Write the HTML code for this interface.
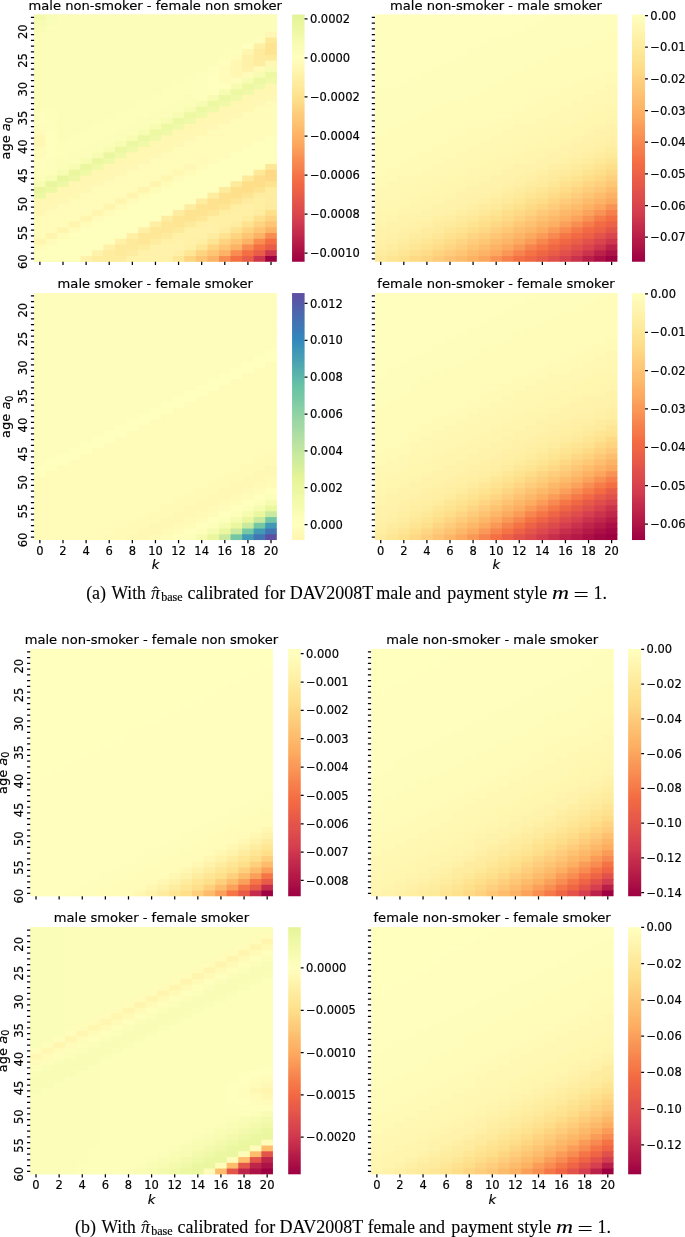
<!DOCTYPE html>
<html><head><meta charset="utf-8"><title>figure</title><style>
html,body{margin:0;padding:0;background:#fff}
svg{display:block;will-change:transform}
text{font-family:'DejaVu Sans','Liberation Sans',sans-serif;fill:#000;stroke:#000;stroke-width:.18px}
.t{font-size:11.5px}
.ti{font-size:13.1px}
.la{font-size:13.0px}
.m{text-anchor:middle}
.i{font-style:italic}
.sub{font-size:9.6px}
.k{stroke:#000;stroke-width:1.25;fill:none}
.c{font-family:'Liberation Serif','DejaVu Serif',serif;font-size:18px;stroke-width:.1px}
.ci{font-style:italic}
.cs{font-family:'Liberation Serif','DejaVu Serif',serif;font-size:12.1px}
.hat{font-family:'Liberation Serif','DejaVu Serif',serif;font-size:16.5px;stroke:none}
</style></head><body><svg width="685" height="1237" viewBox="0 0 685 1237">
<g>
<rect x="34.1" y="14.55" width="242.7" height="247.2" fill="#f3faac"/>
<rect x="34.1" y="14.55" width="12.26" height="6.45" fill="#f3faac"/>
<rect x="45.66" y="14.55" width="12.26" height="6.45" fill="#f9fcb5"/>
<rect x="57.21" y="14.55" width="219.59" height="6.45" fill="#fbfdb8"/>
<rect x="34.1" y="20.3" width="12.26" height="6.45" fill="#f7fcb2"/>
<rect x="45.66" y="20.3" width="12.26" height="6.45" fill="#fafdb7"/>
<rect x="57.21" y="20.3" width="219.59" height="6.45" fill="#fbfdb8"/>
<rect x="34.1" y="26.05" width="12.26" height="6.45" fill="#f9fcb5"/>
<rect x="45.66" y="26.05" width="12.26" height="6.45" fill="#fbfdb8"/>
<rect x="57.21" y="26.05" width="219.59" height="6.45" fill="#fbfdb8"/>
<rect x="34.1" y="31.8" width="231.84" height="6.45" fill="#fbfdb8"/>
<rect x="265.24" y="31.8" width="11.56" height="6.45" fill="#fff8b4"/>
<rect x="34.1" y="37.55" width="220.29" height="6.45" fill="#fbfdb8"/>
<rect x="253.69" y="37.55" width="12.26" height="6.45" fill="#fffdbc"/>
<rect x="265.24" y="37.55" width="11.56" height="6.45" fill="#fee999"/>
<rect x="34.1" y="43.29" width="208.73" height="6.45" fill="#fbfdb8"/>
<rect x="242.13" y="43.29" width="12.26" height="6.45" fill="#ffffbe"/>
<rect x="253.69" y="43.29" width="12.26" height="6.45" fill="#fff0a6"/>
<rect x="265.24" y="43.29" width="11.56" height="6.45" fill="#fee491"/>
<rect x="34.1" y="49.04" width="197.17" height="6.45" fill="#fbfdb8"/>
<rect x="230.57" y="49.04" width="12.26" height="6.45" fill="#fdfebb"/>
<rect x="242.13" y="49.04" width="12.26" height="6.45" fill="#fff6b0"/>
<rect x="253.69" y="49.04" width="12.26" height="6.45" fill="#feeb9d"/>
<rect x="265.24" y="49.04" width="11.56" height="6.45" fill="#fee491"/>
<rect x="34.1" y="54.79" width="185.61" height="6.45" fill="#fbfdb8"/>
<rect x="219.01" y="54.79" width="12.26" height="6.45" fill="#fcfeba"/>
<rect x="230.57" y="54.79" width="12.26" height="6.45" fill="#fffbb8"/>
<rect x="242.13" y="54.79" width="12.26" height="6.45" fill="#fff1a8"/>
<rect x="253.69" y="54.79" width="12.26" height="6.45" fill="#feeb9d"/>
<rect x="265.24" y="54.79" width="11.56" height="6.45" fill="#feea9b"/>
<rect x="34.1" y="60.54" width="185.61" height="6.45" fill="#fbfdb8"/>
<rect x="219.01" y="60.54" width="12.26" height="6.45" fill="#fffebe"/>
<rect x="230.57" y="60.54" width="12.26" height="6.45" fill="#fff7b2"/>
<rect x="242.13" y="60.54" width="12.26" height="6.45" fill="#fff1a8"/>
<rect x="253.69" y="60.54" width="12.26" height="6.45" fill="#feeda1"/>
<rect x="265.24" y="60.54" width="11.56" height="6.45" fill="#fff8b4"/>
<rect x="34.1" y="66.29" width="174.06" height="6.45" fill="#fbfdb8"/>
<rect x="207.46" y="66.29" width="12.26" height="6.45" fill="#fefebd"/>
<rect x="219.01" y="66.29" width="12.26" height="6.45" fill="#fffbb8"/>
<rect x="230.57" y="66.29" width="12.26" height="6.45" fill="#fff7b2"/>
<rect x="242.13" y="66.29" width="12.26" height="6.45" fill="#fff2aa"/>
<rect x="253.69" y="66.29" width="12.26" height="6.45" fill="#fffab6"/>
<rect x="265.24" y="66.29" width="11.56" height="6.45" fill="#f7fcb2"/>
<rect x="34.1" y="72.04" width="162.5" height="6.45" fill="#fbfdb8"/>
<rect x="195.9" y="72.04" width="12.26" height="6.45" fill="#fdfebb"/>
<rect x="207.46" y="72.04" width="12.26" height="6.45" fill="#fffebe"/>
<rect x="219.01" y="72.04" width="12.26" height="6.45" fill="#fffcba"/>
<rect x="230.57" y="72.04" width="12.26" height="6.45" fill="#fff7b2"/>
<rect x="242.13" y="72.04" width="12.26" height="6.45" fill="#fffbb8"/>
<rect x="253.69" y="72.04" width="12.26" height="6.45" fill="#f7fcb2"/>
<rect x="265.24" y="72.04" width="11.56" height="6.45" fill="#edf8a3"/>
<rect x="34.1" y="77.79" width="150.94" height="6.45" fill="#fbfdb8"/>
<rect x="184.34" y="77.79" width="12.26" height="6.45" fill="#fcfeba"/>
<rect x="195.9" y="77.79" width="12.26" height="6.45" fill="#fdfebb"/>
<rect x="207.46" y="77.79" width="12.26" height="6.45" fill="#ffffbe"/>
<rect x="219.01" y="77.79" width="12.26" height="6.45" fill="#fffcba"/>
<rect x="230.57" y="77.79" width="12.26" height="6.45" fill="#fffdbc"/>
<rect x="242.13" y="77.79" width="12.26" height="6.45" fill="#f7fcb2"/>
<rect x="253.69" y="77.79" width="12.26" height="6.45" fill="#edf8a3"/>
<rect x="265.24" y="77.79" width="11.56" height="6.45" fill="#f0f9a7"/>
<rect x="34.1" y="83.54" width="139.39" height="6.45" fill="#fbfdb8"/>
<rect x="172.79" y="83.54" width="23.81" height="6.45" fill="#fcfeba"/>
<rect x="195.9" y="83.54" width="12.26" height="6.45" fill="#fdfebb"/>
<rect x="207.46" y="83.54" width="23.81" height="6.45" fill="#ffffbe"/>
<rect x="230.57" y="83.54" width="12.26" height="6.45" fill="#f7fcb2"/>
<rect x="242.13" y="83.54" width="12.26" height="6.45" fill="#edf8a3"/>
<rect x="253.69" y="83.54" width="12.26" height="6.45" fill="#f0f9a7"/>
<rect x="265.24" y="83.54" width="11.56" height="6.45" fill="#fff7b2"/>
<rect x="34.1" y="89.28" width="127.83" height="6.45" fill="#fbfdb8"/>
<rect x="161.23" y="89.28" width="35.37" height="6.45" fill="#fcfeba"/>
<rect x="195.9" y="89.28" width="12.26" height="6.45" fill="#fdfebb"/>
<rect x="207.46" y="89.28" width="12.26" height="6.45" fill="#fefebd"/>
<rect x="219.01" y="89.28" width="12.26" height="6.45" fill="#f7fcb2"/>
<rect x="230.57" y="89.28" width="12.26" height="6.45" fill="#edf8a3"/>
<rect x="242.13" y="89.28" width="12.26" height="6.45" fill="#f0f9a7"/>
<rect x="253.69" y="89.28" width="12.26" height="6.45" fill="#fff7b2"/>
<rect x="265.24" y="89.28" width="11.56" height="6.45" fill="#fff7b2"/>
<rect x="34.1" y="95.03" width="116.27" height="6.45" fill="#fbfdb8"/>
<rect x="149.67" y="95.03" width="35.37" height="6.45" fill="#fcfeba"/>
<rect x="184.34" y="95.03" width="12.26" height="6.45" fill="#fbfdb8"/>
<rect x="195.9" y="95.03" width="12.26" height="6.45" fill="#fcfeba"/>
<rect x="207.46" y="95.03" width="12.26" height="6.45" fill="#f7fcb2"/>
<rect x="219.01" y="95.03" width="12.26" height="6.45" fill="#edf8a3"/>
<rect x="230.57" y="95.03" width="12.26" height="6.45" fill="#f0f9a7"/>
<rect x="242.13" y="95.03" width="12.26" height="6.45" fill="#fff7b2"/>
<rect x="253.69" y="95.03" width="12.26" height="6.45" fill="#fff7b2"/>
<rect x="265.24" y="95.03" width="11.56" height="6.45" fill="#fff8b4"/>
<rect x="34.1" y="100.78" width="104.71" height="6.45" fill="#fbfdb8"/>
<rect x="138.11" y="100.78" width="35.37" height="6.45" fill="#fcfeba"/>
<rect x="172.79" y="100.78" width="23.81" height="6.45" fill="#fbfdb8"/>
<rect x="195.9" y="100.78" width="12.26" height="6.45" fill="#f7fcb2"/>
<rect x="207.46" y="100.78" width="12.26" height="6.45" fill="#edf8a3"/>
<rect x="219.01" y="100.78" width="12.26" height="6.45" fill="#f0f9a7"/>
<rect x="230.57" y="100.78" width="12.26" height="6.45" fill="#fff7b2"/>
<rect x="242.13" y="100.78" width="12.26" height="6.45" fill="#fff7b2"/>
<rect x="253.69" y="100.78" width="12.26" height="6.45" fill="#fff8b4"/>
<rect x="265.24" y="100.78" width="11.56" height="6.45" fill="#fffbb8"/>
<rect x="34.1" y="106.53" width="23.81" height="6.45" fill="#fcfeba"/>
<rect x="57.21" y="106.53" width="70.04" height="6.45" fill="#fbfdb8"/>
<rect x="126.56" y="106.53" width="35.37" height="6.45" fill="#fcfeba"/>
<rect x="161.23" y="106.53" width="23.81" height="6.45" fill="#fbfdb8"/>
<rect x="184.34" y="106.53" width="12.26" height="6.45" fill="#f7fcb2"/>
<rect x="195.9" y="106.53" width="12.26" height="6.45" fill="#edf8a3"/>
<rect x="207.46" y="106.53" width="12.26" height="6.45" fill="#f0f9a7"/>
<rect x="219.01" y="106.53" width="12.26" height="6.45" fill="#fff7b2"/>
<rect x="230.57" y="106.53" width="12.26" height="6.45" fill="#fff7b2"/>
<rect x="242.13" y="106.53" width="12.26" height="6.45" fill="#fff8b4"/>
<rect x="253.69" y="106.53" width="23.11" height="6.45" fill="#fffbb8"/>
<rect x="34.1" y="112.28" width="12.26" height="6.45" fill="#fefebd"/>
<rect x="45.66" y="112.28" width="12.26" height="6.45" fill="#fcfeba"/>
<rect x="57.21" y="112.28" width="58.49" height="6.45" fill="#fbfdb8"/>
<rect x="115" y="112.28" width="35.37" height="6.45" fill="#fcfeba"/>
<rect x="149.67" y="112.28" width="23.81" height="6.45" fill="#fbfdb8"/>
<rect x="172.79" y="112.28" width="12.26" height="6.45" fill="#f7fcb2"/>
<rect x="184.34" y="112.28" width="12.26" height="6.45" fill="#edf8a3"/>
<rect x="195.9" y="112.28" width="12.26" height="6.45" fill="#f0f9a7"/>
<rect x="207.46" y="112.28" width="12.26" height="6.45" fill="#fff7b2"/>
<rect x="219.01" y="112.28" width="12.26" height="6.45" fill="#fff7b2"/>
<rect x="230.57" y="112.28" width="12.26" height="6.45" fill="#fff8b4"/>
<rect x="242.13" y="112.28" width="34.67" height="6.45" fill="#fffbb8"/>
<rect x="34.1" y="118.03" width="12.26" height="6.45" fill="#fffebe"/>
<rect x="45.66" y="118.03" width="12.26" height="6.45" fill="#fdfebb"/>
<rect x="57.21" y="118.03" width="46.93" height="6.45" fill="#fbfdb8"/>
<rect x="103.44" y="118.03" width="35.37" height="6.45" fill="#fcfeba"/>
<rect x="138.11" y="118.03" width="23.81" height="6.45" fill="#fbfdb8"/>
<rect x="161.23" y="118.03" width="12.26" height="6.45" fill="#f7fcb2"/>
<rect x="172.79" y="118.03" width="12.26" height="6.45" fill="#edf8a3"/>
<rect x="184.34" y="118.03" width="12.26" height="6.45" fill="#f0f9a7"/>
<rect x="195.9" y="118.03" width="12.26" height="6.45" fill="#fff7b2"/>
<rect x="207.46" y="118.03" width="12.26" height="6.45" fill="#fff7b2"/>
<rect x="219.01" y="118.03" width="12.26" height="6.45" fill="#fff8b4"/>
<rect x="230.57" y="118.03" width="35.37" height="6.45" fill="#fffbb8"/>
<rect x="265.24" y="118.03" width="11.56" height="6.45" fill="#fffcba"/>
<rect x="34.1" y="123.78" width="12.26" height="6.45" fill="#fffdbc"/>
<rect x="45.66" y="123.78" width="12.26" height="6.45" fill="#fdfebb"/>
<rect x="57.21" y="123.78" width="35.37" height="6.45" fill="#fbfdb8"/>
<rect x="91.89" y="123.78" width="35.37" height="6.45" fill="#fcfeba"/>
<rect x="126.56" y="123.78" width="23.81" height="6.45" fill="#fbfdb8"/>
<rect x="149.67" y="123.78" width="12.26" height="6.45" fill="#f7fcb2"/>
<rect x="161.23" y="123.78" width="12.26" height="6.45" fill="#edf8a3"/>
<rect x="172.79" y="123.78" width="12.26" height="6.45" fill="#f0f9a7"/>
<rect x="184.34" y="123.78" width="12.26" height="6.45" fill="#fff7b2"/>
<rect x="195.9" y="123.78" width="12.26" height="6.45" fill="#fff7b2"/>
<rect x="207.46" y="123.78" width="12.26" height="6.45" fill="#fff8b4"/>
<rect x="219.01" y="123.78" width="35.37" height="6.45" fill="#fffbb8"/>
<rect x="253.69" y="123.78" width="23.11" height="6.45" fill="#fffcba"/>
<rect x="34.1" y="129.53" width="12.26" height="6.45" fill="#fffbb8"/>
<rect x="45.66" y="129.53" width="12.26" height="6.45" fill="#fefebd"/>
<rect x="57.21" y="129.53" width="23.81" height="6.45" fill="#fbfdb8"/>
<rect x="80.33" y="129.53" width="35.37" height="6.45" fill="#fcfeba"/>
<rect x="115" y="129.53" width="23.81" height="6.45" fill="#fbfdb8"/>
<rect x="138.11" y="129.53" width="12.26" height="6.45" fill="#f7fcb2"/>
<rect x="149.67" y="129.53" width="12.26" height="6.45" fill="#edf8a3"/>
<rect x="161.23" y="129.53" width="12.26" height="6.45" fill="#f0f9a7"/>
<rect x="172.79" y="129.53" width="12.26" height="6.45" fill="#fff7b2"/>
<rect x="184.34" y="129.53" width="12.26" height="6.45" fill="#fff7b2"/>
<rect x="195.9" y="129.53" width="12.26" height="6.45" fill="#fff8b4"/>
<rect x="207.46" y="129.53" width="35.37" height="6.45" fill="#fffbb8"/>
<rect x="242.13" y="129.53" width="34.67" height="6.45" fill="#fffcba"/>
<rect x="34.1" y="135.28" width="12.26" height="6.45" fill="#fff8b4"/>
<rect x="45.66" y="135.28" width="12.26" height="6.45" fill="#fefebd"/>
<rect x="57.21" y="135.28" width="12.26" height="6.45" fill="#fbfdb8"/>
<rect x="68.77" y="135.28" width="35.37" height="6.45" fill="#fcfeba"/>
<rect x="103.44" y="135.28" width="23.81" height="6.45" fill="#fbfdb8"/>
<rect x="126.56" y="135.28" width="12.26" height="6.45" fill="#f7fcb2"/>
<rect x="138.11" y="135.28" width="12.26" height="6.45" fill="#ecf7a1"/>
<rect x="149.67" y="135.28" width="12.26" height="6.45" fill="#f0f9a7"/>
<rect x="161.23" y="135.28" width="12.26" height="6.45" fill="#fff7b2"/>
<rect x="172.79" y="135.28" width="12.26" height="6.45" fill="#fff7b2"/>
<rect x="184.34" y="135.28" width="12.26" height="6.45" fill="#fff8b4"/>
<rect x="195.9" y="135.28" width="35.37" height="6.45" fill="#fffbb8"/>
<rect x="230.57" y="135.28" width="35.37" height="6.45" fill="#fffcba"/>
<rect x="265.24" y="135.28" width="11.56" height="6.45" fill="#fefebd"/>
<rect x="34.1" y="141.02" width="12.26" height="6.45" fill="#fff8b4"/>
<rect x="45.66" y="141.02" width="12.26" height="6.45" fill="#fefebd"/>
<rect x="57.21" y="141.02" width="35.37" height="6.45" fill="#fcfeba"/>
<rect x="91.89" y="141.02" width="23.81" height="6.45" fill="#fbfdb8"/>
<rect x="115" y="141.02" width="12.26" height="6.45" fill="#f7fcb2"/>
<rect x="126.56" y="141.02" width="12.26" height="6.45" fill="#ecf7a1"/>
<rect x="138.11" y="141.02" width="12.26" height="6.45" fill="#f0f9a7"/>
<rect x="149.67" y="141.02" width="12.26" height="6.45" fill="#fff7b2"/>
<rect x="161.23" y="141.02" width="12.26" height="6.45" fill="#fff7b2"/>
<rect x="172.79" y="141.02" width="12.26" height="6.45" fill="#fff8b4"/>
<rect x="184.34" y="141.02" width="35.37" height="6.45" fill="#fffbb8"/>
<rect x="219.01" y="141.02" width="35.37" height="6.45" fill="#fffcba"/>
<rect x="253.69" y="141.02" width="23.11" height="6.45" fill="#fefebd"/>
<rect x="34.1" y="146.77" width="12.26" height="6.45" fill="#fffbb8"/>
<rect x="45.66" y="146.77" width="12.26" height="6.45" fill="#fefebd"/>
<rect x="57.21" y="146.77" width="23.81" height="6.45" fill="#fcfeba"/>
<rect x="80.33" y="146.77" width="23.81" height="6.45" fill="#fbfdb8"/>
<rect x="103.44" y="146.77" width="12.26" height="6.45" fill="#f7fcb2"/>
<rect x="115" y="146.77" width="12.26" height="6.45" fill="#ecf7a1"/>
<rect x="126.56" y="146.77" width="12.26" height="6.45" fill="#f0f9a7"/>
<rect x="138.11" y="146.77" width="12.26" height="6.45" fill="#fff7b2"/>
<rect x="149.67" y="146.77" width="12.26" height="6.45" fill="#fff7b2"/>
<rect x="161.23" y="146.77" width="12.26" height="6.45" fill="#fff8b4"/>
<rect x="172.79" y="146.77" width="35.37" height="6.45" fill="#fffbb8"/>
<rect x="207.46" y="146.77" width="35.37" height="6.45" fill="#fffcba"/>
<rect x="242.13" y="146.77" width="34.67" height="6.45" fill="#fefebd"/>
<rect x="34.1" y="152.52" width="12.26" height="6.45" fill="#fffcba"/>
<rect x="45.66" y="152.52" width="12.26" height="6.45" fill="#fefebd"/>
<rect x="57.21" y="152.52" width="12.26" height="6.45" fill="#fcfeba"/>
<rect x="68.77" y="152.52" width="23.81" height="6.45" fill="#fbfdb8"/>
<rect x="91.89" y="152.52" width="12.26" height="6.45" fill="#f7fcb2"/>
<rect x="103.44" y="152.52" width="12.26" height="6.45" fill="#ebf7a0"/>
<rect x="115" y="152.52" width="12.26" height="6.45" fill="#f0f9a7"/>
<rect x="126.56" y="152.52" width="12.26" height="6.45" fill="#fff7b2"/>
<rect x="138.11" y="152.52" width="12.26" height="6.45" fill="#fff7b2"/>
<rect x="149.67" y="152.52" width="12.26" height="6.45" fill="#fff8b4"/>
<rect x="161.23" y="152.52" width="35.37" height="6.45" fill="#fffbb8"/>
<rect x="195.9" y="152.52" width="23.81" height="6.45" fill="#fffbb8"/>
<rect x="219.01" y="152.52" width="12.26" height="6.45" fill="#fffcba"/>
<rect x="230.57" y="152.52" width="46.23" height="6.45" fill="#fefebd"/>
<rect x="34.1" y="158.27" width="12.26" height="6.45" fill="#fffebe"/>
<rect x="45.66" y="158.27" width="12.26" height="6.45" fill="#fdfebb"/>
<rect x="57.21" y="158.27" width="23.81" height="6.45" fill="#fbfdb8"/>
<rect x="80.33" y="158.27" width="12.26" height="6.45" fill="#f7fcb2"/>
<rect x="91.89" y="158.27" width="12.26" height="6.45" fill="#eaf79e"/>
<rect x="103.44" y="158.27" width="12.26" height="6.45" fill="#eff9a6"/>
<rect x="115" y="158.27" width="12.26" height="6.45" fill="#fff7b2"/>
<rect x="126.56" y="158.27" width="12.26" height="6.45" fill="#fff7b2"/>
<rect x="138.11" y="158.27" width="12.26" height="6.45" fill="#fff8b4"/>
<rect x="149.67" y="158.27" width="35.37" height="6.45" fill="#fffbb8"/>
<rect x="184.34" y="158.27" width="12.26" height="6.45" fill="#fffbb8"/>
<rect x="195.9" y="158.27" width="12.26" height="6.45" fill="#fffab6"/>
<rect x="207.46" y="158.27" width="12.26" height="6.45" fill="#fffcba"/>
<rect x="219.01" y="158.27" width="57.79" height="6.45" fill="#fefebd"/>
<rect x="34.1" y="164.02" width="12.26" height="6.45" fill="#fefebd"/>
<rect x="45.66" y="164.02" width="12.26" height="6.45" fill="#fdfebb"/>
<rect x="57.21" y="164.02" width="12.26" height="6.45" fill="#fbfdb8"/>
<rect x="68.77" y="164.02" width="12.26" height="6.45" fill="#f7fcb2"/>
<rect x="80.33" y="164.02" width="12.26" height="6.45" fill="#eaf79e"/>
<rect x="91.89" y="164.02" width="12.26" height="6.45" fill="#eff9a6"/>
<rect x="103.44" y="164.02" width="12.26" height="6.45" fill="#fff7b2"/>
<rect x="115" y="164.02" width="12.26" height="6.45" fill="#fff7b2"/>
<rect x="126.56" y="164.02" width="12.26" height="6.45" fill="#fff8b4"/>
<rect x="138.11" y="164.02" width="35.37" height="6.45" fill="#fffbb8"/>
<rect x="172.79" y="164.02" width="12.26" height="6.45" fill="#fffbb8"/>
<rect x="184.34" y="164.02" width="12.26" height="6.45" fill="#fff8b4"/>
<rect x="195.9" y="164.02" width="12.26" height="6.45" fill="#fffbb8"/>
<rect x="207.46" y="164.02" width="58.49" height="6.45" fill="#fefebd"/>
<rect x="265.24" y="164.02" width="11.56" height="6.45" fill="#fee797"/>
<rect x="34.1" y="169.77" width="12.26" height="6.45" fill="#fdfebb"/>
<rect x="45.66" y="169.77" width="12.26" height="6.45" fill="#fcfeba"/>
<rect x="57.21" y="169.77" width="12.26" height="6.45" fill="#f7fcb2"/>
<rect x="68.77" y="169.77" width="12.26" height="6.45" fill="#eaf79e"/>
<rect x="80.33" y="169.77" width="12.26" height="6.45" fill="#eff9a6"/>
<rect x="91.89" y="169.77" width="12.26" height="6.45" fill="#fff7b2"/>
<rect x="103.44" y="169.77" width="12.26" height="6.45" fill="#fff7b2"/>
<rect x="115" y="169.77" width="12.26" height="6.45" fill="#fff8b4"/>
<rect x="126.56" y="169.77" width="35.37" height="6.45" fill="#fffbb8"/>
<rect x="161.23" y="169.77" width="12.26" height="6.45" fill="#fffbb8"/>
<rect x="172.79" y="169.77" width="12.26" height="6.45" fill="#fff7b2"/>
<rect x="184.34" y="169.77" width="12.26" height="6.45" fill="#fffbb8"/>
<rect x="195.9" y="169.77" width="58.49" height="6.45" fill="#fefebd"/>
<rect x="253.69" y="169.77" width="12.26" height="6.45" fill="#fee999"/>
<rect x="265.24" y="169.77" width="11.56" height="6.45" fill="#feda86"/>
<rect x="34.1" y="175.52" width="12.26" height="6.45" fill="#fbfdb8"/>
<rect x="45.66" y="175.52" width="12.26" height="6.45" fill="#f7fcb2"/>
<rect x="57.21" y="175.52" width="12.26" height="6.45" fill="#e9f69d"/>
<rect x="68.77" y="175.52" width="12.26" height="6.45" fill="#eef8a4"/>
<rect x="80.33" y="175.52" width="12.26" height="6.45" fill="#fff7b2"/>
<rect x="91.89" y="175.52" width="12.26" height="6.45" fill="#fff7b2"/>
<rect x="103.44" y="175.52" width="12.26" height="6.45" fill="#fff8b4"/>
<rect x="115" y="175.52" width="46.93" height="6.45" fill="#fffbb8"/>
<rect x="161.23" y="175.52" width="12.26" height="6.45" fill="#fff6b0"/>
<rect x="172.79" y="175.52" width="12.26" height="6.45" fill="#fffbb8"/>
<rect x="184.34" y="175.52" width="58.49" height="6.45" fill="#fefebd"/>
<rect x="242.13" y="175.52" width="12.26" height="6.45" fill="#feea9b"/>
<rect x="253.69" y="175.52" width="12.26" height="6.45" fill="#fede89"/>
<rect x="265.24" y="175.52" width="11.56" height="6.45" fill="#feda86"/>
<rect x="34.1" y="181.27" width="12.26" height="6.45" fill="#f7fcb2"/>
<rect x="45.66" y="181.27" width="12.26" height="6.45" fill="#e9f69d"/>
<rect x="57.21" y="181.27" width="12.26" height="6.45" fill="#eef8a4"/>
<rect x="68.77" y="181.27" width="12.26" height="6.45" fill="#fff7b2"/>
<rect x="80.33" y="181.27" width="12.26" height="6.45" fill="#fff7b2"/>
<rect x="91.89" y="181.27" width="12.26" height="6.45" fill="#fff8b4"/>
<rect x="103.44" y="181.27" width="46.93" height="6.45" fill="#fffbb8"/>
<rect x="149.67" y="181.27" width="12.26" height="6.45" fill="#fff5ae"/>
<rect x="161.23" y="181.27" width="12.26" height="6.45" fill="#fffbb8"/>
<rect x="172.79" y="181.27" width="58.49" height="6.45" fill="#fefebd"/>
<rect x="230.57" y="181.27" width="12.26" height="6.45" fill="#feea9b"/>
<rect x="242.13" y="181.27" width="12.26" height="6.45" fill="#fede89"/>
<rect x="253.69" y="181.27" width="12.26" height="6.45" fill="#fede89"/>
<rect x="265.24" y="181.27" width="11.56" height="6.45" fill="#fee491"/>
<rect x="34.1" y="187.02" width="12.26" height="6.45" fill="#e9f69d"/>
<rect x="45.66" y="187.02" width="12.26" height="6.45" fill="#edf8a3"/>
<rect x="57.21" y="187.02" width="12.26" height="6.45" fill="#fff7b2"/>
<rect x="68.77" y="187.02" width="12.26" height="6.45" fill="#fff7b2"/>
<rect x="80.33" y="187.02" width="12.26" height="6.45" fill="#fff8b4"/>
<rect x="91.89" y="187.02" width="46.93" height="6.45" fill="#fffbb8"/>
<rect x="138.11" y="187.02" width="12.26" height="6.45" fill="#fff5ae"/>
<rect x="149.67" y="187.02" width="12.26" height="6.45" fill="#fffbb8"/>
<rect x="161.23" y="187.02" width="58.49" height="6.45" fill="#fefebd"/>
<rect x="219.01" y="187.02" width="12.26" height="6.45" fill="#feeb9d"/>
<rect x="230.57" y="187.02" width="12.26" height="6.45" fill="#fee08b"/>
<rect x="242.13" y="187.02" width="12.26" height="6.45" fill="#fede89"/>
<rect x="253.69" y="187.02" width="12.26" height="6.45" fill="#fee491"/>
<rect x="265.24" y="187.02" width="11.56" height="6.45" fill="#feec9f"/>
<rect x="34.1" y="192.76" width="12.26" height="6.45" fill="#edf8a3"/>
<rect x="45.66" y="192.76" width="12.26" height="6.45" fill="#fff7b2"/>
<rect x="57.21" y="192.76" width="12.26" height="6.45" fill="#fff7b2"/>
<rect x="68.77" y="192.76" width="12.26" height="6.45" fill="#fff8b4"/>
<rect x="80.33" y="192.76" width="46.93" height="6.45" fill="#fffbb8"/>
<rect x="126.56" y="192.76" width="12.26" height="6.45" fill="#fff5ae"/>
<rect x="138.11" y="192.76" width="12.26" height="6.45" fill="#fffbb8"/>
<rect x="149.67" y="192.76" width="58.49" height="6.45" fill="#fefebd"/>
<rect x="207.46" y="192.76" width="12.26" height="6.45" fill="#feec9f"/>
<rect x="219.01" y="192.76" width="12.26" height="6.45" fill="#fee18d"/>
<rect x="230.57" y="192.76" width="12.26" height="6.45" fill="#fee08b"/>
<rect x="242.13" y="192.76" width="12.26" height="6.45" fill="#fee593"/>
<rect x="253.69" y="192.76" width="12.26" height="6.45" fill="#feeda1"/>
<rect x="265.24" y="192.76" width="11.56" height="6.45" fill="#feeda1"/>
<rect x="34.1" y="198.51" width="12.26" height="6.45" fill="#fff7b2"/>
<rect x="45.66" y="198.51" width="12.26" height="6.45" fill="#fff7b2"/>
<rect x="57.21" y="198.51" width="12.26" height="6.45" fill="#fff8b4"/>
<rect x="68.77" y="198.51" width="46.93" height="6.45" fill="#fffbb8"/>
<rect x="115" y="198.51" width="12.26" height="6.45" fill="#fff5ae"/>
<rect x="126.56" y="198.51" width="12.26" height="6.45" fill="#fffbb8"/>
<rect x="138.11" y="198.51" width="58.49" height="6.45" fill="#fefebd"/>
<rect x="195.9" y="198.51" width="12.26" height="6.45" fill="#feec9f"/>
<rect x="207.46" y="198.51" width="12.26" height="6.45" fill="#fee28f"/>
<rect x="219.01" y="198.51" width="12.26" height="6.45" fill="#fee18d"/>
<rect x="230.57" y="198.51" width="12.26" height="6.45" fill="#fee695"/>
<rect x="242.13" y="198.51" width="12.26" height="6.45" fill="#feeda1"/>
<rect x="253.69" y="198.51" width="12.26" height="6.45" fill="#feefa3"/>
<rect x="265.24" y="198.51" width="11.56" height="6.45" fill="#feeda1"/>
<rect x="34.1" y="204.26" width="12.26" height="6.45" fill="#fff7b2"/>
<rect x="45.66" y="204.26" width="12.26" height="6.45" fill="#fff8b4"/>
<rect x="57.21" y="204.26" width="46.93" height="6.45" fill="#fffbb8"/>
<rect x="103.44" y="204.26" width="12.26" height="6.45" fill="#fff5ae"/>
<rect x="115" y="204.26" width="12.26" height="6.45" fill="#fffbb8"/>
<rect x="126.56" y="204.26" width="58.49" height="6.45" fill="#fefebd"/>
<rect x="184.34" y="204.26" width="12.26" height="6.45" fill="#feeda1"/>
<rect x="195.9" y="204.26" width="12.26" height="6.45" fill="#fee491"/>
<rect x="207.46" y="204.26" width="12.26" height="6.45" fill="#fee28f"/>
<rect x="219.01" y="204.26" width="12.26" height="6.45" fill="#fee695"/>
<rect x="230.57" y="204.26" width="12.26" height="6.45" fill="#feefa3"/>
<rect x="242.13" y="204.26" width="12.26" height="6.45" fill="#fff0a6"/>
<rect x="253.69" y="204.26" width="12.26" height="6.45" fill="#feefa3"/>
<rect x="265.24" y="204.26" width="11.56" height="6.45" fill="#feeb9d"/>
<rect x="34.1" y="210.01" width="12.26" height="6.45" fill="#fff8b4"/>
<rect x="45.66" y="210.01" width="46.93" height="6.45" fill="#fffbb8"/>
<rect x="91.89" y="210.01" width="12.26" height="6.45" fill="#fff5ae"/>
<rect x="103.44" y="210.01" width="12.26" height="6.45" fill="#fffbb8"/>
<rect x="115" y="210.01" width="58.49" height="6.45" fill="#fefebd"/>
<rect x="172.79" y="210.01" width="12.26" height="6.45" fill="#feeda1"/>
<rect x="184.34" y="210.01" width="12.26" height="6.45" fill="#fee491"/>
<rect x="195.9" y="210.01" width="12.26" height="6.45" fill="#fee491"/>
<rect x="207.46" y="210.01" width="12.26" height="6.45" fill="#fee797"/>
<rect x="219.01" y="210.01" width="12.26" height="6.45" fill="#feefa3"/>
<rect x="230.57" y="210.01" width="23.81" height="6.45" fill="#fff0a6"/>
<rect x="253.69" y="210.01" width="12.26" height="6.45" fill="#feec9f"/>
<rect x="265.24" y="210.01" width="11.56" height="6.45" fill="#fee08b"/>
<rect x="34.1" y="215.76" width="46.93" height="6.45" fill="#fffbb8"/>
<rect x="80.33" y="215.76" width="12.26" height="6.45" fill="#fff5ae"/>
<rect x="91.89" y="215.76" width="12.26" height="6.45" fill="#fffbb8"/>
<rect x="103.44" y="215.76" width="58.49" height="6.45" fill="#fefebd"/>
<rect x="161.23" y="215.76" width="12.26" height="6.45" fill="#feeda1"/>
<rect x="172.79" y="215.76" width="12.26" height="6.45" fill="#fee593"/>
<rect x="184.34" y="215.76" width="12.26" height="6.45" fill="#fee491"/>
<rect x="195.9" y="215.76" width="12.26" height="6.45" fill="#fee797"/>
<rect x="207.46" y="215.76" width="12.26" height="6.45" fill="#fff0a6"/>
<rect x="219.01" y="215.76" width="12.26" height="6.45" fill="#fff0a6"/>
<rect x="230.57" y="215.76" width="12.26" height="6.45" fill="#fff0a6"/>
<rect x="242.13" y="215.76" width="12.26" height="6.45" fill="#feec9f"/>
<rect x="253.69" y="215.76" width="12.26" height="6.45" fill="#fee18d"/>
<rect x="265.24" y="215.76" width="11.56" height="6.45" fill="#fed481"/>
<rect x="34.1" y="221.51" width="35.37" height="6.45" fill="#fffbb8"/>
<rect x="68.77" y="221.51" width="12.26" height="6.45" fill="#fff5ae"/>
<rect x="80.33" y="221.51" width="12.26" height="6.45" fill="#fffbb8"/>
<rect x="91.89" y="221.51" width="58.49" height="6.45" fill="#fefebd"/>
<rect x="149.67" y="221.51" width="12.26" height="6.45" fill="#feefa3"/>
<rect x="161.23" y="221.51" width="12.26" height="6.45" fill="#fee695"/>
<rect x="172.79" y="221.51" width="12.26" height="6.45" fill="#fee593"/>
<rect x="184.34" y="221.51" width="12.26" height="6.45" fill="#feea9b"/>
<rect x="195.9" y="221.51" width="12.26" height="6.45" fill="#fff0a6"/>
<rect x="207.46" y="221.51" width="12.26" height="6.45" fill="#fff1a8"/>
<rect x="219.01" y="221.51" width="12.26" height="6.45" fill="#fff0a6"/>
<rect x="230.57" y="221.51" width="12.26" height="6.45" fill="#feeda1"/>
<rect x="242.13" y="221.51" width="12.26" height="6.45" fill="#fee28f"/>
<rect x="253.69" y="221.51" width="12.26" height="6.45" fill="#fed481"/>
<rect x="265.24" y="221.51" width="11.56" height="6.45" fill="#fdc574"/>
<rect x="34.1" y="227.26" width="23.81" height="6.45" fill="#fffbb8"/>
<rect x="57.21" y="227.26" width="12.26" height="6.45" fill="#fff5ae"/>
<rect x="68.77" y="227.26" width="12.26" height="6.45" fill="#fffbb8"/>
<rect x="80.33" y="227.26" width="58.49" height="6.45" fill="#fefebd"/>
<rect x="138.11" y="227.26" width="12.26" height="6.45" fill="#fff0a6"/>
<rect x="149.67" y="227.26" width="12.26" height="6.45" fill="#fee797"/>
<rect x="161.23" y="227.26" width="12.26" height="6.45" fill="#fee695"/>
<rect x="172.79" y="227.26" width="12.26" height="6.45" fill="#feea9b"/>
<rect x="184.34" y="227.26" width="12.26" height="6.45" fill="#fff1a8"/>
<rect x="195.9" y="227.26" width="12.26" height="6.45" fill="#fff1a8"/>
<rect x="207.46" y="227.26" width="12.26" height="6.45" fill="#fff1a8"/>
<rect x="219.01" y="227.26" width="12.26" height="6.45" fill="#feeda1"/>
<rect x="230.57" y="227.26" width="12.26" height="6.45" fill="#fee28f"/>
<rect x="242.13" y="227.26" width="12.26" height="6.45" fill="#fed481"/>
<rect x="253.69" y="227.26" width="12.26" height="6.45" fill="#fdc574"/>
<rect x="265.24" y="227.26" width="11.56" height="6.45" fill="#fdb365"/>
<rect x="34.1" y="233.01" width="12.26" height="6.45" fill="#fffbb8"/>
<rect x="45.66" y="233.01" width="12.26" height="6.45" fill="#fff5ae"/>
<rect x="57.21" y="233.01" width="12.26" height="6.45" fill="#fffbb8"/>
<rect x="68.77" y="233.01" width="58.49" height="6.45" fill="#fefebd"/>
<rect x="126.56" y="233.01" width="12.26" height="6.45" fill="#fff0a6"/>
<rect x="138.11" y="233.01" width="12.26" height="6.45" fill="#fee797"/>
<rect x="149.67" y="233.01" width="12.26" height="6.45" fill="#fee797"/>
<rect x="161.23" y="233.01" width="12.26" height="6.45" fill="#feeb9d"/>
<rect x="172.79" y="233.01" width="12.26" height="6.45" fill="#fff1a8"/>
<rect x="184.34" y="233.01" width="23.81" height="6.45" fill="#fff1a8"/>
<rect x="207.46" y="233.01" width="12.26" height="6.45" fill="#feeda1"/>
<rect x="219.01" y="233.01" width="12.26" height="6.45" fill="#fee491"/>
<rect x="230.57" y="233.01" width="12.26" height="6.45" fill="#fed481"/>
<rect x="242.13" y="233.01" width="12.26" height="6.45" fill="#fdc574"/>
<rect x="253.69" y="233.01" width="12.26" height="6.45" fill="#fdb365"/>
<rect x="265.24" y="233.01" width="11.56" height="6.45" fill="#f88c51"/>
<rect x="34.1" y="238.75" width="12.26" height="6.45" fill="#fff5ae"/>
<rect x="45.66" y="238.75" width="12.26" height="6.45" fill="#fffbb8"/>
<rect x="57.21" y="238.75" width="58.49" height="6.45" fill="#fefebd"/>
<rect x="115" y="238.75" width="12.26" height="6.45" fill="#fff1a8"/>
<rect x="126.56" y="238.75" width="12.26" height="6.45" fill="#feea9b"/>
<rect x="138.11" y="238.75" width="12.26" height="6.45" fill="#fee797"/>
<rect x="149.67" y="238.75" width="12.26" height="6.45" fill="#feec9f"/>
<rect x="161.23" y="238.75" width="12.26" height="6.45" fill="#fff1a8"/>
<rect x="172.79" y="238.75" width="12.26" height="6.45" fill="#fff2aa"/>
<rect x="184.34" y="238.75" width="12.26" height="6.45" fill="#fff1a8"/>
<rect x="195.9" y="238.75" width="12.26" height="6.45" fill="#feefa3"/>
<rect x="207.46" y="238.75" width="12.26" height="6.45" fill="#fee593"/>
<rect x="219.01" y="238.75" width="12.26" height="6.45" fill="#fed481"/>
<rect x="230.57" y="238.75" width="12.26" height="6.45" fill="#fdc574"/>
<rect x="242.13" y="238.75" width="12.26" height="6.45" fill="#fdb365"/>
<rect x="253.69" y="238.75" width="12.26" height="6.45" fill="#f88c51"/>
<rect x="265.24" y="238.75" width="11.56" height="6.45" fill="#f46d43"/>
<rect x="34.1" y="244.5" width="12.26" height="6.45" fill="#fffbb8"/>
<rect x="45.66" y="244.5" width="58.49" height="6.45" fill="#fefebd"/>
<rect x="103.44" y="244.5" width="12.26" height="6.45" fill="#fff1a8"/>
<rect x="115" y="244.5" width="12.26" height="6.45" fill="#feea9b"/>
<rect x="126.56" y="244.5" width="12.26" height="6.45" fill="#feea9b"/>
<rect x="138.11" y="244.5" width="12.26" height="6.45" fill="#feec9f"/>
<rect x="149.67" y="244.5" width="12.26" height="6.45" fill="#fff2aa"/>
<rect x="161.23" y="244.5" width="12.26" height="6.45" fill="#fff3ac"/>
<rect x="172.79" y="244.5" width="12.26" height="6.45" fill="#fff2aa"/>
<rect x="184.34" y="244.5" width="12.26" height="6.45" fill="#fff0a6"/>
<rect x="195.9" y="244.5" width="12.26" height="6.45" fill="#fee695"/>
<rect x="207.46" y="244.5" width="12.26" height="6.45" fill="#fed481"/>
<rect x="219.01" y="244.5" width="12.26" height="6.45" fill="#fdc574"/>
<rect x="230.57" y="244.5" width="12.26" height="6.45" fill="#fdb365"/>
<rect x="242.13" y="244.5" width="12.26" height="6.45" fill="#f88c51"/>
<rect x="253.69" y="244.5" width="12.26" height="6.45" fill="#f46d43"/>
<rect x="265.24" y="244.5" width="11.56" height="6.45" fill="#e95c47"/>
<rect x="34.1" y="250.25" width="58.49" height="6.45" fill="#fefebd"/>
<rect x="91.89" y="250.25" width="12.26" height="6.45" fill="#fff2aa"/>
<rect x="103.44" y="250.25" width="12.26" height="6.45" fill="#feec9f"/>
<rect x="115" y="250.25" width="12.26" height="6.45" fill="#feea9b"/>
<rect x="126.56" y="250.25" width="12.26" height="6.45" fill="#feeda1"/>
<rect x="138.11" y="250.25" width="35.37" height="6.45" fill="#fff3ac"/>
<rect x="172.79" y="250.25" width="12.26" height="6.45" fill="#fff0a6"/>
<rect x="184.34" y="250.25" width="12.26" height="6.45" fill="#fee695"/>
<rect x="195.9" y="250.25" width="12.26" height="6.45" fill="#fed481"/>
<rect x="207.46" y="250.25" width="12.26" height="6.45" fill="#fdc574"/>
<rect x="219.01" y="250.25" width="12.26" height="6.45" fill="#fdb365"/>
<rect x="230.57" y="250.25" width="12.26" height="6.45" fill="#f88c51"/>
<rect x="242.13" y="250.25" width="12.26" height="6.45" fill="#f46d43"/>
<rect x="253.69" y="250.25" width="12.26" height="6.45" fill="#e95c47"/>
<rect x="265.24" y="250.25" width="11.56" height="6.45" fill="#cd364d"/>
<rect x="34.1" y="256" width="46.93" height="5.75" fill="#fefebd"/>
<rect x="80.33" y="256" width="12.26" height="5.75" fill="#fff3ac"/>
<rect x="91.89" y="256" width="12.26" height="5.75" fill="#feec9f"/>
<rect x="103.44" y="256" width="12.26" height="5.75" fill="#feec9f"/>
<rect x="115" y="256" width="12.26" height="5.75" fill="#feeda1"/>
<rect x="126.56" y="256" width="12.26" height="5.75" fill="#fff3ac"/>
<rect x="138.11" y="256" width="12.26" height="5.75" fill="#fff3ac"/>
<rect x="149.67" y="256" width="12.26" height="5.75" fill="#fff3ac"/>
<rect x="161.23" y="256" width="12.26" height="5.75" fill="#fff1a8"/>
<rect x="172.79" y="256" width="12.26" height="5.75" fill="#fee797"/>
<rect x="184.34" y="256" width="12.26" height="5.75" fill="#fed481"/>
<rect x="195.9" y="256" width="12.26" height="5.75" fill="#fdc574"/>
<rect x="207.46" y="256" width="12.26" height="5.75" fill="#fdb365"/>
<rect x="219.01" y="256" width="12.26" height="5.75" fill="#f88c51"/>
<rect x="230.57" y="256" width="12.26" height="5.75" fill="#f46d43"/>
<rect x="242.13" y="256" width="12.26" height="5.75" fill="#e95c47"/>
<rect x="253.69" y="256" width="12.26" height="5.75" fill="#cd364d"/>
<rect x="265.24" y="256" width="11.56" height="5.75" fill="#9e0142"/>
</g>
<linearGradient id="g1" x1="0" y1="0" x2="0" y2="1"><stop offset="0%" stop-color="#e1f399"/><stop offset="2.08%" stop-color="#e7f59a"/><stop offset="4.17%" stop-color="#ebf7a0"/><stop offset="6.25%" stop-color="#eef8a4"/><stop offset="8.33%" stop-color="#f1f9a9"/><stop offset="10.42%" stop-color="#f5fbaf"/><stop offset="12.5%" stop-color="#f8fcb4"/><stop offset="14.58%" stop-color="#fbfdb8"/><stop offset="16.67%" stop-color="#fefebd"/><stop offset="18.75%" stop-color="#fffdbc"/><stop offset="20.83%" stop-color="#fff8b4"/><stop offset="22.92%" stop-color="#fff5ae"/><stop offset="25%" stop-color="#fff1a8"/><stop offset="27.08%" stop-color="#feeda1"/><stop offset="29.17%" stop-color="#feea9b"/><stop offset="31.25%" stop-color="#fee593"/><stop offset="33.33%" stop-color="#fee18d"/><stop offset="35.42%" stop-color="#fedc88"/><stop offset="37.5%" stop-color="#fed481"/><stop offset="39.58%" stop-color="#fece7c"/><stop offset="41.67%" stop-color="#fec877"/><stop offset="43.75%" stop-color="#fdc372"/><stop offset="45.83%" stop-color="#fdbd6d"/><stop offset="47.92%" stop-color="#fdb567"/><stop offset="50%" stop-color="#fdaf62"/><stop offset="52.08%" stop-color="#fca85e"/><stop offset="54.17%" stop-color="#fba05b"/><stop offset="56.25%" stop-color="#fa9857"/><stop offset="58.33%" stop-color="#f98e52"/><stop offset="60.42%" stop-color="#f8864f"/><stop offset="62.5%" stop-color="#f67f4b"/><stop offset="64.58%" stop-color="#f57547"/><stop offset="66.67%" stop-color="#f46d43"/><stop offset="68.75%" stop-color="#f06744"/><stop offset="70.83%" stop-color="#ed6246"/><stop offset="72.92%" stop-color="#e95c47"/><stop offset="75%" stop-color="#e45549"/><stop offset="77.08%" stop-color="#e1504b"/><stop offset="79.17%" stop-color="#dd4a4c"/><stop offset="81.25%" stop-color="#d9444d"/><stop offset="83.33%" stop-color="#d43d4f"/><stop offset="85.42%" stop-color="#cd364d"/><stop offset="87.5%" stop-color="#c72e4c"/><stop offset="89.58%" stop-color="#c1274a"/><stop offset="91.67%" stop-color="#b81e48"/><stop offset="93.75%" stop-color="#b11747"/><stop offset="95.83%" stop-color="#ab0f45"/><stop offset="97.92%" stop-color="#a40844"/><stop offset="100%" stop-color="#9e0142"/></linearGradient>
<rect x="292.05" y="14.55" width="12.55" height="247.2" fill="url(#g1)"/>
<text x="309.9" y="22.95" class="t">0.0002</text>
<text x="309.9" y="62" class="t">0.0000</text>
<text x="309.9" y="101.05" class="t">−0.0002</text>
<text x="309.9" y="140.1" class="t">−0.0004</text>
<text x="309.9" y="179.15" class="t">−0.0006</text>
<text x="309.9" y="218.21" class="t">−0.0008</text>
<text x="309.9" y="257.26" class="t">−0.0010</text>
<path d="M304.6 18.85h2.9M304.6 57.9h2.9M304.6 96.95h2.9M304.6 136h2.9M304.6 175.05h2.9M304.6 214.11h2.9M304.6 253.16h2.9" class="k"/>
<text transform="translate(26.6,31.72) rotate(-90)" class="t m">20</text>
<text transform="translate(26.6,60.47) rotate(-90)" class="t m">25</text>
<text transform="translate(26.6,89.21) rotate(-90)" class="t m">30</text>
<text transform="translate(26.6,117.95) rotate(-90)" class="t m">35</text>
<text transform="translate(26.6,146.7) rotate(-90)" class="t m">40</text>
<text transform="translate(26.6,175.44) rotate(-90)" class="t m">45</text>
<text transform="translate(26.6,204.19) rotate(-90)" class="t m">50</text>
<text transform="translate(26.6,232.93) rotate(-90)" class="t m">55</text>
<text transform="translate(26.6,261.68) rotate(-90)" class="t m">60</text>
<path d="M34.1 17.42h-3.2M34.1 23.17h-3.2M34.1 28.92h-3.2M34.1 34.67h-3.2M34.1 40.42h-3.2M34.1 46.17h-3.2M34.1 51.92h-3.2M34.1 57.67h-3.2M34.1 63.42h-3.2M34.1 69.16h-3.2M34.1 74.91h-3.2M34.1 80.66h-3.2M34.1 86.41h-3.2M34.1 92.16h-3.2M34.1 97.91h-3.2M34.1 103.66h-3.2M34.1 109.41h-3.2M34.1 115.15h-3.2M34.1 120.9h-3.2M34.1 126.65h-3.2M34.1 132.4h-3.2M34.1 138.15h-3.2M34.1 143.9h-3.2M34.1 149.65h-3.2M34.1 155.4h-3.2M34.1 161.15h-3.2M34.1 166.89h-3.2M34.1 172.64h-3.2M34.1 178.39h-3.2M34.1 184.14h-3.2M34.1 189.89h-3.2M34.1 195.64h-3.2M34.1 201.39h-3.2M34.1 207.14h-3.2M34.1 212.88h-3.2M34.1 218.63h-3.2M34.1 224.38h-3.2M34.1 230.13h-3.2M34.1 235.88h-3.2M34.1 241.63h-3.2M34.1 247.38h-3.2M34.1 253.13h-3.2M34.1 258.88h-3.2" class="k"/>
<path d="M39.88 261.75v3.2M62.99 261.75v3.2M86.11 261.75v3.2M109.22 261.75v3.2M132.34 261.75v3.2M155.45 261.75v3.2M178.56 261.75v3.2M201.68 261.75v3.2M224.79 261.75v3.2M247.91 261.75v3.2M271.02 261.75v3.2" class="k"/>
<text x="155.25" y="10.45" class="ti m">male non-smoker - female non smoker</text>
<text transform="translate(10.4,138.35) rotate(-90)" class="la m">age <tspan class="i">a</tspan><tspan class="sub" dy="2.6">0</tspan></text>
<g>
<rect x="374.95" y="14.55" width="242.45" height="247.2" fill="#fffebe"/>
<rect x="374.95" y="14.55" width="104.61" height="6.45" fill="#fffebe"/>
<rect x="478.86" y="14.55" width="69.97" height="6.45" fill="#fffebe"/>
<rect x="548.13" y="14.55" width="46.88" height="6.45" fill="#fffdbc"/>
<rect x="594.31" y="14.55" width="23.09" height="6.45" fill="#fffdbc"/>
<rect x="374.95" y="20.3" width="93.06" height="6.45" fill="#fffebe"/>
<rect x="467.31" y="20.3" width="69.97" height="6.45" fill="#fffebe"/>
<rect x="536.58" y="20.3" width="46.88" height="6.45" fill="#fffdbc"/>
<rect x="582.76" y="20.3" width="34.64" height="6.45" fill="#fffdbc"/>
<rect x="374.95" y="26.05" width="69.97" height="6.45" fill="#fffebe"/>
<rect x="444.22" y="26.05" width="81.52" height="6.45" fill="#fffebe"/>
<rect x="525.04" y="26.05" width="46.88" height="6.45" fill="#fffdbc"/>
<rect x="571.22" y="26.05" width="46.18" height="6.45" fill="#fffdbc"/>
<rect x="374.95" y="31.8" width="58.43" height="6.45" fill="#fffebe"/>
<rect x="432.68" y="31.8" width="81.52" height="6.45" fill="#fffebe"/>
<rect x="513.49" y="31.8" width="46.88" height="6.45" fill="#fffdbc"/>
<rect x="559.67" y="31.8" width="46.88" height="6.45" fill="#fffdbc"/>
<rect x="605.85" y="31.8" width="11.55" height="6.45" fill="#fffcba"/>
<rect x="374.95" y="37.55" width="46.88" height="6.45" fill="#fffebe"/>
<rect x="421.13" y="37.55" width="69.97" height="6.45" fill="#fffebe"/>
<rect x="490.4" y="37.55" width="58.43" height="6.45" fill="#fffdbc"/>
<rect x="548.13" y="37.55" width="46.88" height="6.45" fill="#fffdbc"/>
<rect x="594.31" y="37.55" width="23.09" height="6.45" fill="#fffcba"/>
<rect x="374.95" y="43.29" width="35.34" height="6.45" fill="#fffebe"/>
<rect x="409.59" y="43.29" width="69.97" height="6.45" fill="#fffebe"/>
<rect x="478.86" y="43.29" width="58.43" height="6.45" fill="#fffdbc"/>
<rect x="536.58" y="43.29" width="46.88" height="6.45" fill="#fffdbc"/>
<rect x="582.76" y="43.29" width="23.79" height="6.45" fill="#fffcba"/>
<rect x="605.85" y="43.29" width="11.55" height="6.45" fill="#fffcba"/>
<rect x="374.95" y="49.04" width="23.79" height="6.45" fill="#fffebe"/>
<rect x="398.04" y="49.04" width="69.97" height="6.45" fill="#fffebe"/>
<rect x="467.31" y="49.04" width="58.43" height="6.45" fill="#fffdbc"/>
<rect x="525.04" y="49.04" width="35.34" height="6.45" fill="#fffdbc"/>
<rect x="559.67" y="49.04" width="35.34" height="6.45" fill="#fffcba"/>
<rect x="594.31" y="49.04" width="23.09" height="6.45" fill="#fffcba"/>
<rect x="374.95" y="54.79" width="12.25" height="6.45" fill="#fffebe"/>
<rect x="386.5" y="54.79" width="69.97" height="6.45" fill="#fffebe"/>
<rect x="455.77" y="54.79" width="46.88" height="6.45" fill="#fffdbc"/>
<rect x="501.95" y="54.79" width="46.88" height="6.45" fill="#fffdbc"/>
<rect x="548.13" y="54.79" width="35.34" height="6.45" fill="#fffcba"/>
<rect x="582.76" y="54.79" width="23.79" height="6.45" fill="#fffcba"/>
<rect x="605.85" y="54.79" width="11.55" height="6.45" fill="#fffbb8"/>
<rect x="374.95" y="60.54" width="69.97" height="6.45" fill="#fffebe"/>
<rect x="444.22" y="60.54" width="46.88" height="6.45" fill="#fffdbc"/>
<rect x="490.4" y="60.54" width="46.88" height="6.45" fill="#fffdbc"/>
<rect x="536.58" y="60.54" width="23.79" height="6.45" fill="#fffcba"/>
<rect x="559.67" y="60.54" width="35.34" height="6.45" fill="#fffcba"/>
<rect x="594.31" y="60.54" width="12.25" height="6.45" fill="#fffbb8"/>
<rect x="605.85" y="60.54" width="11.55" height="6.45" fill="#fffbb8"/>
<rect x="374.95" y="66.29" width="58.43" height="6.45" fill="#fffebe"/>
<rect x="432.68" y="66.29" width="46.88" height="6.45" fill="#fffdbc"/>
<rect x="478.86" y="66.29" width="46.88" height="6.45" fill="#fffdbc"/>
<rect x="525.04" y="66.29" width="23.79" height="6.45" fill="#fffcba"/>
<rect x="548.13" y="66.29" width="23.79" height="6.45" fill="#fffcba"/>
<rect x="571.22" y="66.29" width="23.79" height="6.45" fill="#fffbb8"/>
<rect x="594.31" y="66.29" width="23.09" height="6.45" fill="#fffbb8"/>
<rect x="374.95" y="72.04" width="46.88" height="6.45" fill="#fffebe"/>
<rect x="421.13" y="72.04" width="46.88" height="6.45" fill="#fffdbc"/>
<rect x="467.31" y="72.04" width="46.88" height="6.45" fill="#fffdbc"/>
<rect x="513.49" y="72.04" width="23.79" height="6.45" fill="#fffcba"/>
<rect x="536.58" y="72.04" width="23.79" height="6.45" fill="#fffcba"/>
<rect x="559.67" y="72.04" width="23.79" height="6.45" fill="#fffbb8"/>
<rect x="582.76" y="72.04" width="23.79" height="6.45" fill="#fffbb8"/>
<rect x="605.85" y="72.04" width="11.55" height="6.45" fill="#fffab6"/>
<rect x="374.95" y="77.79" width="35.34" height="6.45" fill="#fffebe"/>
<rect x="409.59" y="77.79" width="46.88" height="6.45" fill="#fffdbc"/>
<rect x="455.77" y="77.79" width="46.88" height="6.45" fill="#fffdbc"/>
<rect x="501.95" y="77.79" width="23.79" height="6.45" fill="#fffcba"/>
<rect x="525.04" y="77.79" width="23.79" height="6.45" fill="#fffcba"/>
<rect x="548.13" y="77.79" width="23.79" height="6.45" fill="#fffbb8"/>
<rect x="571.22" y="77.79" width="12.25" height="6.45" fill="#fffbb8"/>
<rect x="582.76" y="77.79" width="23.79" height="6.45" fill="#fffab6"/>
<rect x="605.85" y="77.79" width="11.55" height="6.45" fill="#fffab6"/>
<rect x="374.95" y="83.54" width="23.79" height="6.45" fill="#fffebe"/>
<rect x="398.04" y="83.54" width="46.88" height="6.45" fill="#fffdbc"/>
<rect x="444.22" y="83.54" width="46.88" height="6.45" fill="#fffdbc"/>
<rect x="490.4" y="83.54" width="23.79" height="6.45" fill="#fffcba"/>
<rect x="513.49" y="83.54" width="23.79" height="6.45" fill="#fffcba"/>
<rect x="536.58" y="83.54" width="23.79" height="6.45" fill="#fffbb8"/>
<rect x="559.67" y="83.54" width="12.25" height="6.45" fill="#fffbb8"/>
<rect x="571.22" y="83.54" width="23.79" height="6.45" fill="#fffab6"/>
<rect x="594.31" y="83.54" width="12.25" height="6.45" fill="#fffab6"/>
<rect x="605.85" y="83.54" width="11.55" height="6.45" fill="#fff8b4"/>
<rect x="374.95" y="89.28" width="58.43" height="6.45" fill="#fffdbc"/>
<rect x="432.68" y="89.28" width="46.88" height="6.45" fill="#fffdbc"/>
<rect x="478.86" y="89.28" width="23.79" height="6.45" fill="#fffcba"/>
<rect x="501.95" y="89.28" width="23.79" height="6.45" fill="#fffcba"/>
<rect x="525.04" y="89.28" width="23.79" height="6.45" fill="#fffbb8"/>
<rect x="548.13" y="89.28" width="12.25" height="6.45" fill="#fffbb8"/>
<rect x="559.67" y="89.28" width="23.79" height="6.45" fill="#fffab6"/>
<rect x="582.76" y="89.28" width="12.25" height="6.45" fill="#fffab6"/>
<rect x="594.31" y="89.28" width="23.09" height="6.45" fill="#fff8b4"/>
<rect x="374.95" y="95.03" width="46.88" height="6.45" fill="#fffdbc"/>
<rect x="421.13" y="95.03" width="46.88" height="6.45" fill="#fffdbc"/>
<rect x="467.31" y="95.03" width="23.79" height="6.45" fill="#fffcba"/>
<rect x="490.4" y="95.03" width="23.79" height="6.45" fill="#fffcba"/>
<rect x="513.49" y="95.03" width="23.79" height="6.45" fill="#fffbb8"/>
<rect x="536.58" y="95.03" width="12.25" height="6.45" fill="#fffbb8"/>
<rect x="548.13" y="95.03" width="23.79" height="6.45" fill="#fffab6"/>
<rect x="571.22" y="95.03" width="12.25" height="6.45" fill="#fffab6"/>
<rect x="582.76" y="95.03" width="23.79" height="6.45" fill="#fff8b4"/>
<rect x="605.85" y="95.03" width="11.55" height="6.45" fill="#fff8b4"/>
<rect x="374.95" y="100.78" width="35.34" height="6.45" fill="#fffdbc"/>
<rect x="409.59" y="100.78" width="35.34" height="6.45" fill="#fffdbc"/>
<rect x="444.22" y="100.78" width="35.34" height="6.45" fill="#fffcba"/>
<rect x="478.86" y="100.78" width="23.79" height="6.45" fill="#fffcba"/>
<rect x="501.95" y="100.78" width="23.79" height="6.45" fill="#fffbb8"/>
<rect x="525.04" y="100.78" width="12.25" height="6.45" fill="#fffbb8"/>
<rect x="536.58" y="100.78" width="12.25" height="6.45" fill="#fffab6"/>
<rect x="548.13" y="100.78" width="23.79" height="6.45" fill="#fffab6"/>
<rect x="571.22" y="100.78" width="23.79" height="6.45" fill="#fff8b4"/>
<rect x="594.31" y="100.78" width="12.25" height="6.45" fill="#fff8b4"/>
<rect x="605.85" y="100.78" width="11.55" height="6.45" fill="#fff7b2"/>
<rect x="374.95" y="106.53" width="12.25" height="6.45" fill="#fffdbc"/>
<rect x="386.5" y="106.53" width="46.88" height="6.45" fill="#fffdbc"/>
<rect x="432.68" y="106.53" width="35.34" height="6.45" fill="#fffcba"/>
<rect x="467.31" y="106.53" width="23.79" height="6.45" fill="#fffcba"/>
<rect x="490.4" y="106.53" width="12.25" height="6.45" fill="#fffbb8"/>
<rect x="501.95" y="106.53" width="23.79" height="6.45" fill="#fffbb8"/>
<rect x="525.04" y="106.53" width="12.25" height="6.45" fill="#fffab6"/>
<rect x="536.58" y="106.53" width="23.79" height="6.45" fill="#fffab6"/>
<rect x="559.67" y="106.53" width="12.25" height="6.45" fill="#fff8b4"/>
<rect x="571.22" y="106.53" width="23.79" height="6.45" fill="#fff8b4"/>
<rect x="594.31" y="106.53" width="12.25" height="6.45" fill="#fff7b2"/>
<rect x="605.85" y="106.53" width="11.55" height="6.45" fill="#fff6b0"/>
<rect x="374.95" y="112.28" width="46.88" height="6.45" fill="#fffdbc"/>
<rect x="421.13" y="112.28" width="23.79" height="6.45" fill="#fffcba"/>
<rect x="444.22" y="112.28" width="35.34" height="6.45" fill="#fffcba"/>
<rect x="478.86" y="112.28" width="12.25" height="6.45" fill="#fffbb8"/>
<rect x="490.4" y="112.28" width="23.79" height="6.45" fill="#fffbb8"/>
<rect x="513.49" y="112.28" width="12.25" height="6.45" fill="#fffab6"/>
<rect x="525.04" y="112.28" width="23.79" height="6.45" fill="#fffab6"/>
<rect x="548.13" y="112.28" width="12.25" height="6.45" fill="#fff8b4"/>
<rect x="559.67" y="112.28" width="23.79" height="6.45" fill="#fff8b4"/>
<rect x="582.76" y="112.28" width="12.25" height="6.45" fill="#fff7b2"/>
<rect x="594.31" y="112.28" width="12.25" height="6.45" fill="#fff6b0"/>
<rect x="605.85" y="112.28" width="11.55" height="6.45" fill="#fff6b0"/>
<rect x="374.95" y="118.03" width="35.34" height="6.45" fill="#fffdbc"/>
<rect x="409.59" y="118.03" width="23.79" height="6.45" fill="#fffcba"/>
<rect x="432.68" y="118.03" width="23.79" height="6.45" fill="#fffcba"/>
<rect x="455.77" y="118.03" width="23.79" height="6.45" fill="#fffbb8"/>
<rect x="478.86" y="118.03" width="23.79" height="6.45" fill="#fffbb8"/>
<rect x="501.95" y="118.03" width="12.25" height="6.45" fill="#fffab6"/>
<rect x="513.49" y="118.03" width="23.79" height="6.45" fill="#fffab6"/>
<rect x="536.58" y="118.03" width="12.25" height="6.45" fill="#fff8b4"/>
<rect x="548.13" y="118.03" width="23.79" height="6.45" fill="#fff8b4"/>
<rect x="571.22" y="118.03" width="12.25" height="6.45" fill="#fff7b2"/>
<rect x="582.76" y="118.03" width="12.25" height="6.45" fill="#fff6b0"/>
<rect x="594.31" y="118.03" width="12.25" height="6.45" fill="#fff6b0"/>
<rect x="605.85" y="118.03" width="11.55" height="6.45" fill="#fff5ae"/>
<rect x="374.95" y="123.78" width="23.79" height="6.45" fill="#fffdbc"/>
<rect x="398.04" y="123.78" width="23.79" height="6.45" fill="#fffcba"/>
<rect x="421.13" y="123.78" width="23.79" height="6.45" fill="#fffcba"/>
<rect x="444.22" y="123.78" width="23.79" height="6.45" fill="#fffbb8"/>
<rect x="467.31" y="123.78" width="23.79" height="6.45" fill="#fffbb8"/>
<rect x="490.4" y="123.78" width="12.25" height="6.45" fill="#fffab6"/>
<rect x="501.95" y="123.78" width="12.25" height="6.45" fill="#fffab6"/>
<rect x="513.49" y="123.78" width="23.79" height="6.45" fill="#fff8b4"/>
<rect x="536.58" y="123.78" width="12.25" height="6.45" fill="#fff8b4"/>
<rect x="548.13" y="123.78" width="12.25" height="6.45" fill="#fff7b2"/>
<rect x="559.67" y="123.78" width="12.25" height="6.45" fill="#fff7b2"/>
<rect x="571.22" y="123.78" width="12.25" height="6.45" fill="#fff6b0"/>
<rect x="582.76" y="123.78" width="12.25" height="6.45" fill="#fff6b0"/>
<rect x="594.31" y="123.78" width="12.25" height="6.45" fill="#fff5ae"/>
<rect x="605.85" y="123.78" width="11.55" height="6.45" fill="#fff3ac"/>
<rect x="374.95" y="129.53" width="12.25" height="6.45" fill="#fffdbc"/>
<rect x="386.5" y="129.53" width="23.79" height="6.45" fill="#fffcba"/>
<rect x="409.59" y="129.53" width="23.79" height="6.45" fill="#fffcba"/>
<rect x="432.68" y="129.53" width="23.79" height="6.45" fill="#fffbb8"/>
<rect x="455.77" y="129.53" width="12.25" height="6.45" fill="#fffbb8"/>
<rect x="467.31" y="129.53" width="23.79" height="6.45" fill="#fffab6"/>
<rect x="490.4" y="129.53" width="12.25" height="6.45" fill="#fffab6"/>
<rect x="501.95" y="129.53" width="23.79" height="6.45" fill="#fff8b4"/>
<rect x="525.04" y="129.53" width="12.25" height="6.45" fill="#fff8b4"/>
<rect x="536.58" y="129.53" width="12.25" height="6.45" fill="#fff7b2"/>
<rect x="548.13" y="129.53" width="12.25" height="6.45" fill="#fff7b2"/>
<rect x="559.67" y="129.53" width="12.25" height="6.45" fill="#fff6b0"/>
<rect x="571.22" y="129.53" width="12.25" height="6.45" fill="#fff6b0"/>
<rect x="582.76" y="129.53" width="12.25" height="6.45" fill="#fff5ae"/>
<rect x="594.31" y="129.53" width="12.25" height="6.45" fill="#fff3ac"/>
<rect x="605.85" y="129.53" width="11.55" height="6.45" fill="#fff2aa"/>
<rect x="374.95" y="135.28" width="23.79" height="6.45" fill="#fffcba"/>
<rect x="398.04" y="135.28" width="23.79" height="6.45" fill="#fffcba"/>
<rect x="421.13" y="135.28" width="23.79" height="6.45" fill="#fffbb8"/>
<rect x="444.22" y="135.28" width="12.25" height="6.45" fill="#fffbb8"/>
<rect x="455.77" y="135.28" width="23.79" height="6.45" fill="#fffab6"/>
<rect x="478.86" y="135.28" width="12.25" height="6.45" fill="#fffab6"/>
<rect x="490.4" y="135.28" width="23.79" height="6.45" fill="#fff8b4"/>
<rect x="513.49" y="135.28" width="12.25" height="6.45" fill="#fff8b4"/>
<rect x="525.04" y="135.28" width="12.25" height="6.45" fill="#fff7b2"/>
<rect x="536.58" y="135.28" width="12.25" height="6.45" fill="#fff7b2"/>
<rect x="548.13" y="135.28" width="12.25" height="6.45" fill="#fff6b0"/>
<rect x="559.67" y="135.28" width="12.25" height="6.45" fill="#fff6b0"/>
<rect x="571.22" y="135.28" width="12.25" height="6.45" fill="#fff5ae"/>
<rect x="582.76" y="135.28" width="12.25" height="6.45" fill="#fff3ac"/>
<rect x="594.31" y="135.28" width="12.25" height="6.45" fill="#fff2aa"/>
<rect x="605.85" y="135.28" width="11.55" height="6.45" fill="#fff1a8"/>
<rect x="374.95" y="141.02" width="12.25" height="6.45" fill="#fffcba"/>
<rect x="386.5" y="141.02" width="23.79" height="6.45" fill="#fffcba"/>
<rect x="409.59" y="141.02" width="23.79" height="6.45" fill="#fffbb8"/>
<rect x="432.68" y="141.02" width="12.25" height="6.45" fill="#fffbb8"/>
<rect x="444.22" y="141.02" width="23.79" height="6.45" fill="#fffab6"/>
<rect x="467.31" y="141.02" width="12.25" height="6.45" fill="#fffab6"/>
<rect x="478.86" y="141.02" width="23.79" height="6.45" fill="#fff8b4"/>
<rect x="501.95" y="141.02" width="12.25" height="6.45" fill="#fff8b4"/>
<rect x="513.49" y="141.02" width="12.25" height="6.45" fill="#fff7b2"/>
<rect x="525.04" y="141.02" width="12.25" height="6.45" fill="#fff7b2"/>
<rect x="536.58" y="141.02" width="12.25" height="6.45" fill="#fff6b0"/>
<rect x="548.13" y="141.02" width="12.25" height="6.45" fill="#fff6b0"/>
<rect x="559.67" y="141.02" width="12.25" height="6.45" fill="#fff5ae"/>
<rect x="571.22" y="141.02" width="12.25" height="6.45" fill="#fff3ac"/>
<rect x="582.76" y="141.02" width="12.25" height="6.45" fill="#fff2aa"/>
<rect x="594.31" y="141.02" width="12.25" height="6.45" fill="#fff1a8"/>
<rect x="605.85" y="141.02" width="11.55" height="6.45" fill="#fff0a6"/>
<rect x="374.95" y="146.77" width="23.79" height="6.45" fill="#fffcba"/>
<rect x="398.04" y="146.77" width="23.79" height="6.45" fill="#fffbb8"/>
<rect x="421.13" y="146.77" width="12.25" height="6.45" fill="#fffbb8"/>
<rect x="432.68" y="146.77" width="23.79" height="6.45" fill="#fffab6"/>
<rect x="455.77" y="146.77" width="12.25" height="6.45" fill="#fffab6"/>
<rect x="467.31" y="146.77" width="23.79" height="6.45" fill="#fff8b4"/>
<rect x="490.4" y="146.77" width="12.25" height="6.45" fill="#fff8b4"/>
<rect x="501.95" y="146.77" width="12.25" height="6.45" fill="#fff7b2"/>
<rect x="513.49" y="146.77" width="12.25" height="6.45" fill="#fff7b2"/>
<rect x="525.04" y="146.77" width="12.25" height="6.45" fill="#fff6b0"/>
<rect x="536.58" y="146.77" width="12.25" height="6.45" fill="#fff5ae"/>
<rect x="548.13" y="146.77" width="12.25" height="6.45" fill="#fff5ae"/>
<rect x="559.67" y="146.77" width="12.25" height="6.45" fill="#fff3ac"/>
<rect x="571.22" y="146.77" width="12.25" height="6.45" fill="#fff2aa"/>
<rect x="582.76" y="146.77" width="12.25" height="6.45" fill="#fff1a8"/>
<rect x="594.31" y="146.77" width="12.25" height="6.45" fill="#fff0a6"/>
<rect x="605.85" y="146.77" width="11.55" height="6.45" fill="#feec9f"/>
<rect x="374.95" y="152.52" width="12.25" height="6.45" fill="#fffcba"/>
<rect x="386.5" y="152.52" width="23.79" height="6.45" fill="#fffbb8"/>
<rect x="409.59" y="152.52" width="12.25" height="6.45" fill="#fffbb8"/>
<rect x="421.13" y="152.52" width="12.25" height="6.45" fill="#fffab6"/>
<rect x="432.68" y="152.52" width="23.79" height="6.45" fill="#fffab6"/>
<rect x="455.77" y="152.52" width="23.79" height="6.45" fill="#fff8b4"/>
<rect x="478.86" y="152.52" width="12.25" height="6.45" fill="#fff8b4"/>
<rect x="490.4" y="152.52" width="12.25" height="6.45" fill="#fff7b2"/>
<rect x="501.95" y="152.52" width="12.25" height="6.45" fill="#fff7b2"/>
<rect x="513.49" y="152.52" width="12.25" height="6.45" fill="#fff6b0"/>
<rect x="525.04" y="152.52" width="12.25" height="6.45" fill="#fff5ae"/>
<rect x="536.58" y="152.52" width="12.25" height="6.45" fill="#fff5ae"/>
<rect x="548.13" y="152.52" width="12.25" height="6.45" fill="#fff3ac"/>
<rect x="559.67" y="152.52" width="12.25" height="6.45" fill="#fff2aa"/>
<rect x="571.22" y="152.52" width="12.25" height="6.45" fill="#fff1a8"/>
<rect x="582.76" y="152.52" width="12.25" height="6.45" fill="#feefa3"/>
<rect x="594.31" y="152.52" width="12.25" height="6.45" fill="#feec9f"/>
<rect x="605.85" y="152.52" width="11.55" height="6.45" fill="#feea9b"/>
<rect x="374.95" y="158.27" width="12.25" height="6.45" fill="#fffbb8"/>
<rect x="386.5" y="158.27" width="23.79" height="6.45" fill="#fffbb8"/>
<rect x="409.59" y="158.27" width="12.25" height="6.45" fill="#fffab6"/>
<rect x="421.13" y="158.27" width="23.79" height="6.45" fill="#fffab6"/>
<rect x="444.22" y="158.27" width="12.25" height="6.45" fill="#fff8b4"/>
<rect x="455.77" y="158.27" width="23.79" height="6.45" fill="#fff8b4"/>
<rect x="478.86" y="158.27" width="12.25" height="6.45" fill="#fff7b2"/>
<rect x="490.4" y="158.27" width="12.25" height="6.45" fill="#fff6b0"/>
<rect x="501.95" y="158.27" width="12.25" height="6.45" fill="#fff6b0"/>
<rect x="513.49" y="158.27" width="12.25" height="6.45" fill="#fff5ae"/>
<rect x="525.04" y="158.27" width="12.25" height="6.45" fill="#fff5ae"/>
<rect x="536.58" y="158.27" width="12.25" height="6.45" fill="#fff3ac"/>
<rect x="548.13" y="158.27" width="12.25" height="6.45" fill="#fff2aa"/>
<rect x="559.67" y="158.27" width="12.25" height="6.45" fill="#fff1a8"/>
<rect x="571.22" y="158.27" width="12.25" height="6.45" fill="#feefa3"/>
<rect x="582.76" y="158.27" width="12.25" height="6.45" fill="#feec9f"/>
<rect x="594.31" y="158.27" width="12.25" height="6.45" fill="#fee999"/>
<rect x="605.85" y="158.27" width="11.55" height="6.45" fill="#fee593"/>
<rect x="374.95" y="164.02" width="23.79" height="6.45" fill="#fffbb8"/>
<rect x="398.04" y="164.02" width="12.25" height="6.45" fill="#fffab6"/>
<rect x="409.59" y="164.02" width="23.79" height="6.45" fill="#fffab6"/>
<rect x="432.68" y="164.02" width="12.25" height="6.45" fill="#fff8b4"/>
<rect x="444.22" y="164.02" width="23.79" height="6.45" fill="#fff8b4"/>
<rect x="467.31" y="164.02" width="12.25" height="6.45" fill="#fff7b2"/>
<rect x="478.86" y="164.02" width="12.25" height="6.45" fill="#fff6b0"/>
<rect x="490.4" y="164.02" width="12.25" height="6.45" fill="#fff6b0"/>
<rect x="501.95" y="164.02" width="12.25" height="6.45" fill="#fff5ae"/>
<rect x="513.49" y="164.02" width="12.25" height="6.45" fill="#fff3ac"/>
<rect x="525.04" y="164.02" width="12.25" height="6.45" fill="#fff3ac"/>
<rect x="536.58" y="164.02" width="12.25" height="6.45" fill="#fff2aa"/>
<rect x="548.13" y="164.02" width="12.25" height="6.45" fill="#fff0a6"/>
<rect x="559.67" y="164.02" width="12.25" height="6.45" fill="#feefa3"/>
<rect x="571.22" y="164.02" width="12.25" height="6.45" fill="#feeb9d"/>
<rect x="582.76" y="164.02" width="12.25" height="6.45" fill="#fee999"/>
<rect x="594.31" y="164.02" width="12.25" height="6.45" fill="#fee491"/>
<rect x="605.85" y="164.02" width="11.55" height="6.45" fill="#fee08b"/>
<rect x="374.95" y="169.77" width="12.25" height="6.45" fill="#fffbb8"/>
<rect x="386.5" y="169.77" width="12.25" height="6.45" fill="#fffab6"/>
<rect x="398.04" y="169.77" width="23.79" height="6.45" fill="#fffab6"/>
<rect x="421.13" y="169.77" width="12.25" height="6.45" fill="#fff8b4"/>
<rect x="432.68" y="169.77" width="23.79" height="6.45" fill="#fff8b4"/>
<rect x="455.77" y="169.77" width="12.25" height="6.45" fill="#fff7b2"/>
<rect x="467.31" y="169.77" width="12.25" height="6.45" fill="#fff6b0"/>
<rect x="478.86" y="169.77" width="12.25" height="6.45" fill="#fff6b0"/>
<rect x="490.4" y="169.77" width="12.25" height="6.45" fill="#fff5ae"/>
<rect x="501.95" y="169.77" width="12.25" height="6.45" fill="#fff3ac"/>
<rect x="513.49" y="169.77" width="12.25" height="6.45" fill="#fff2aa"/>
<rect x="525.04" y="169.77" width="12.25" height="6.45" fill="#fff1a8"/>
<rect x="536.58" y="169.77" width="12.25" height="6.45" fill="#fff0a6"/>
<rect x="548.13" y="169.77" width="12.25" height="6.45" fill="#feeda1"/>
<rect x="559.67" y="169.77" width="12.25" height="6.45" fill="#feeb9d"/>
<rect x="571.22" y="169.77" width="12.25" height="6.45" fill="#fee999"/>
<rect x="582.76" y="169.77" width="12.25" height="6.45" fill="#fee491"/>
<rect x="594.31" y="169.77" width="12.25" height="6.45" fill="#fee08b"/>
<rect x="605.85" y="169.77" width="11.55" height="6.45" fill="#fed884"/>
<rect x="374.95" y="175.52" width="12.25" height="6.45" fill="#fffab6"/>
<rect x="386.5" y="175.52" width="12.25" height="6.45" fill="#fffab6"/>
<rect x="398.04" y="175.52" width="23.79" height="6.45" fill="#fff8b4"/>
<rect x="421.13" y="175.52" width="12.25" height="6.45" fill="#fff8b4"/>
<rect x="432.68" y="175.52" width="12.25" height="6.45" fill="#fff7b2"/>
<rect x="444.22" y="175.52" width="12.25" height="6.45" fill="#fff7b2"/>
<rect x="455.77" y="175.52" width="12.25" height="6.45" fill="#fff6b0"/>
<rect x="467.31" y="175.52" width="12.25" height="6.45" fill="#fff6b0"/>
<rect x="478.86" y="175.52" width="12.25" height="6.45" fill="#fff5ae"/>
<rect x="490.4" y="175.52" width="12.25" height="6.45" fill="#fff3ac"/>
<rect x="501.95" y="175.52" width="12.25" height="6.45" fill="#fff2aa"/>
<rect x="513.49" y="175.52" width="12.25" height="6.45" fill="#fff1a8"/>
<rect x="525.04" y="175.52" width="12.25" height="6.45" fill="#fff0a6"/>
<rect x="536.58" y="175.52" width="12.25" height="6.45" fill="#feeda1"/>
<rect x="548.13" y="175.52" width="12.25" height="6.45" fill="#feeb9d"/>
<rect x="559.67" y="175.52" width="12.25" height="6.45" fill="#fee797"/>
<rect x="571.22" y="175.52" width="12.25" height="6.45" fill="#fee491"/>
<rect x="582.76" y="175.52" width="12.25" height="6.45" fill="#fede89"/>
<rect x="594.31" y="175.52" width="12.25" height="6.45" fill="#fed884"/>
<rect x="605.85" y="175.52" width="11.55" height="6.45" fill="#fed07e"/>
<rect x="374.95" y="181.27" width="12.25" height="6.45" fill="#fffab6"/>
<rect x="386.5" y="181.27" width="23.79" height="6.45" fill="#fff8b4"/>
<rect x="409.59" y="181.27" width="12.25" height="6.45" fill="#fff8b4"/>
<rect x="421.13" y="181.27" width="12.25" height="6.45" fill="#fff7b2"/>
<rect x="432.68" y="181.27" width="12.25" height="6.45" fill="#fff7b2"/>
<rect x="444.22" y="181.27" width="12.25" height="6.45" fill="#fff6b0"/>
<rect x="455.77" y="181.27" width="12.25" height="6.45" fill="#fff6b0"/>
<rect x="467.31" y="181.27" width="12.25" height="6.45" fill="#fff5ae"/>
<rect x="478.86" y="181.27" width="12.25" height="6.45" fill="#fff3ac"/>
<rect x="490.4" y="181.27" width="12.25" height="6.45" fill="#fff2aa"/>
<rect x="501.95" y="181.27" width="12.25" height="6.45" fill="#fff1a8"/>
<rect x="513.49" y="181.27" width="12.25" height="6.45" fill="#fff0a6"/>
<rect x="525.04" y="181.27" width="12.25" height="6.45" fill="#feeda1"/>
<rect x="536.58" y="181.27" width="12.25" height="6.45" fill="#feeb9d"/>
<rect x="548.13" y="181.27" width="12.25" height="6.45" fill="#fee797"/>
<rect x="559.67" y="181.27" width="12.25" height="6.45" fill="#fee28f"/>
<rect x="571.22" y="181.27" width="12.25" height="6.45" fill="#fede89"/>
<rect x="582.76" y="181.27" width="12.25" height="6.45" fill="#fed683"/>
<rect x="594.31" y="181.27" width="12.25" height="6.45" fill="#fed07e"/>
<rect x="605.85" y="181.27" width="11.55" height="6.45" fill="#fdc776"/>
<rect x="374.95" y="187.02" width="23.79" height="6.45" fill="#fff8b4"/>
<rect x="398.04" y="187.02" width="12.25" height="6.45" fill="#fff8b4"/>
<rect x="409.59" y="187.02" width="12.25" height="6.45" fill="#fff7b2"/>
<rect x="421.13" y="187.02" width="12.25" height="6.45" fill="#fff7b2"/>
<rect x="432.68" y="187.02" width="12.25" height="6.45" fill="#fff6b0"/>
<rect x="444.22" y="187.02" width="12.25" height="6.45" fill="#fff6b0"/>
<rect x="455.77" y="187.02" width="12.25" height="6.45" fill="#fff5ae"/>
<rect x="467.31" y="187.02" width="12.25" height="6.45" fill="#fff3ac"/>
<rect x="478.86" y="187.02" width="12.25" height="6.45" fill="#fff2aa"/>
<rect x="490.4" y="187.02" width="12.25" height="6.45" fill="#fff1a8"/>
<rect x="501.95" y="187.02" width="12.25" height="6.45" fill="#fff0a6"/>
<rect x="513.49" y="187.02" width="12.25" height="6.45" fill="#feeda1"/>
<rect x="525.04" y="187.02" width="12.25" height="6.45" fill="#feea9b"/>
<rect x="536.58" y="187.02" width="12.25" height="6.45" fill="#fee695"/>
<rect x="548.13" y="187.02" width="12.25" height="6.45" fill="#fee28f"/>
<rect x="559.67" y="187.02" width="12.25" height="6.45" fill="#fedc88"/>
<rect x="571.22" y="187.02" width="12.25" height="6.45" fill="#fed683"/>
<rect x="582.76" y="187.02" width="12.25" height="6.45" fill="#fece7c"/>
<rect x="594.31" y="187.02" width="12.25" height="6.45" fill="#fdc776"/>
<rect x="605.85" y="187.02" width="11.55" height="6.45" fill="#fdbd6d"/>
<rect x="374.95" y="192.76" width="12.25" height="6.45" fill="#fff8b4"/>
<rect x="386.5" y="192.76" width="12.25" height="6.45" fill="#fff8b4"/>
<rect x="398.04" y="192.76" width="12.25" height="6.45" fill="#fff7b2"/>
<rect x="409.59" y="192.76" width="12.25" height="6.45" fill="#fff7b2"/>
<rect x="421.13" y="192.76" width="12.25" height="6.45" fill="#fff6b0"/>
<rect x="432.68" y="192.76" width="12.25" height="6.45" fill="#fff6b0"/>
<rect x="444.22" y="192.76" width="12.25" height="6.45" fill="#fff5ae"/>
<rect x="455.77" y="192.76" width="12.25" height="6.45" fill="#fff3ac"/>
<rect x="467.31" y="192.76" width="12.25" height="6.45" fill="#fff2aa"/>
<rect x="478.86" y="192.76" width="12.25" height="6.45" fill="#fff1a8"/>
<rect x="490.4" y="192.76" width="12.25" height="6.45" fill="#fff0a6"/>
<rect x="501.95" y="192.76" width="12.25" height="6.45" fill="#feec9f"/>
<rect x="513.49" y="192.76" width="12.25" height="6.45" fill="#feea9b"/>
<rect x="525.04" y="192.76" width="12.25" height="6.45" fill="#fee695"/>
<rect x="536.58" y="192.76" width="12.25" height="6.45" fill="#fee28f"/>
<rect x="548.13" y="192.76" width="12.25" height="6.45" fill="#fedc88"/>
<rect x="559.67" y="192.76" width="12.25" height="6.45" fill="#fed683"/>
<rect x="571.22" y="192.76" width="12.25" height="6.45" fill="#fece7c"/>
<rect x="582.76" y="192.76" width="12.25" height="6.45" fill="#fdc574"/>
<rect x="594.31" y="192.76" width="12.25" height="6.45" fill="#fdbd6d"/>
<rect x="605.85" y="192.76" width="11.55" height="6.45" fill="#fdb365"/>
<rect x="374.95" y="198.51" width="12.25" height="6.45" fill="#fff8b4"/>
<rect x="386.5" y="198.51" width="12.25" height="6.45" fill="#fff7b2"/>
<rect x="398.04" y="198.51" width="12.25" height="6.45" fill="#fff7b2"/>
<rect x="409.59" y="198.51" width="12.25" height="6.45" fill="#fff6b0"/>
<rect x="421.13" y="198.51" width="12.25" height="6.45" fill="#fff5ae"/>
<rect x="432.68" y="198.51" width="12.25" height="6.45" fill="#fff5ae"/>
<rect x="444.22" y="198.51" width="12.25" height="6.45" fill="#fff3ac"/>
<rect x="455.77" y="198.51" width="12.25" height="6.45" fill="#fff2aa"/>
<rect x="467.31" y="198.51" width="12.25" height="6.45" fill="#fff1a8"/>
<rect x="478.86" y="198.51" width="12.25" height="6.45" fill="#fff0a6"/>
<rect x="490.4" y="198.51" width="12.25" height="6.45" fill="#feec9f"/>
<rect x="501.95" y="198.51" width="12.25" height="6.45" fill="#feea9b"/>
<rect x="513.49" y="198.51" width="12.25" height="6.45" fill="#fee695"/>
<rect x="525.04" y="198.51" width="12.25" height="6.45" fill="#fee18d"/>
<rect x="536.58" y="198.51" width="12.25" height="6.45" fill="#fedc88"/>
<rect x="548.13" y="198.51" width="12.25" height="6.45" fill="#fed481"/>
<rect x="559.67" y="198.51" width="12.25" height="6.45" fill="#fecc7b"/>
<rect x="571.22" y="198.51" width="12.25" height="6.45" fill="#fdc574"/>
<rect x="582.76" y="198.51" width="12.25" height="6.45" fill="#fdbb6c"/>
<rect x="594.31" y="198.51" width="12.25" height="6.45" fill="#fdb365"/>
<rect x="605.85" y="198.51" width="11.55" height="6.45" fill="#fca85e"/>
<rect x="374.95" y="204.26" width="12.25" height="6.45" fill="#fff7b2"/>
<rect x="386.5" y="204.26" width="12.25" height="6.45" fill="#fff7b2"/>
<rect x="398.04" y="204.26" width="12.25" height="6.45" fill="#fff6b0"/>
<rect x="409.59" y="204.26" width="12.25" height="6.45" fill="#fff5ae"/>
<rect x="421.13" y="204.26" width="12.25" height="6.45" fill="#fff5ae"/>
<rect x="432.68" y="204.26" width="12.25" height="6.45" fill="#fff3ac"/>
<rect x="444.22" y="204.26" width="12.25" height="6.45" fill="#fff2aa"/>
<rect x="455.77" y="204.26" width="12.25" height="6.45" fill="#fff1a8"/>
<rect x="467.31" y="204.26" width="12.25" height="6.45" fill="#feefa3"/>
<rect x="478.86" y="204.26" width="12.25" height="6.45" fill="#feec9f"/>
<rect x="490.4" y="204.26" width="12.25" height="6.45" fill="#feea9b"/>
<rect x="501.95" y="204.26" width="12.25" height="6.45" fill="#fee593"/>
<rect x="513.49" y="204.26" width="12.25" height="6.45" fill="#fee18d"/>
<rect x="525.04" y="204.26" width="12.25" height="6.45" fill="#feda86"/>
<rect x="536.58" y="204.26" width="12.25" height="6.45" fill="#fed481"/>
<rect x="548.13" y="204.26" width="12.25" height="6.45" fill="#fecc7b"/>
<rect x="559.67" y="204.26" width="12.25" height="6.45" fill="#fdc372"/>
<rect x="571.22" y="204.26" width="12.25" height="6.45" fill="#fdbb6c"/>
<rect x="582.76" y="204.26" width="12.25" height="6.45" fill="#fdb163"/>
<rect x="594.31" y="204.26" width="12.25" height="6.45" fill="#fca55d"/>
<rect x="605.85" y="204.26" width="11.55" height="6.45" fill="#f99355"/>
<rect x="374.95" y="210.01" width="12.25" height="6.45" fill="#fff6b0"/>
<rect x="386.5" y="210.01" width="12.25" height="6.45" fill="#fff6b0"/>
<rect x="398.04" y="210.01" width="12.25" height="6.45" fill="#fff5ae"/>
<rect x="409.59" y="210.01" width="12.25" height="6.45" fill="#fff5ae"/>
<rect x="421.13" y="210.01" width="12.25" height="6.45" fill="#fff3ac"/>
<rect x="432.68" y="210.01" width="12.25" height="6.45" fill="#fff2aa"/>
<rect x="444.22" y="210.01" width="12.25" height="6.45" fill="#fff1a8"/>
<rect x="455.77" y="210.01" width="12.25" height="6.45" fill="#feefa3"/>
<rect x="467.31" y="210.01" width="12.25" height="6.45" fill="#feec9f"/>
<rect x="478.86" y="210.01" width="12.25" height="6.45" fill="#fee999"/>
<rect x="490.4" y="210.01" width="12.25" height="6.45" fill="#fee593"/>
<rect x="501.95" y="210.01" width="12.25" height="6.45" fill="#fee08b"/>
<rect x="513.49" y="210.01" width="12.25" height="6.45" fill="#feda86"/>
<rect x="525.04" y="210.01" width="12.25" height="6.45" fill="#fed481"/>
<rect x="536.58" y="210.01" width="12.25" height="6.45" fill="#feca79"/>
<rect x="548.13" y="210.01" width="12.25" height="6.45" fill="#fdc372"/>
<rect x="559.67" y="210.01" width="12.25" height="6.45" fill="#fdb96a"/>
<rect x="571.22" y="210.01" width="12.25" height="6.45" fill="#fdb163"/>
<rect x="582.76" y="210.01" width="12.25" height="6.45" fill="#fba35c"/>
<rect x="594.31" y="210.01" width="12.25" height="6.45" fill="#f99355"/>
<rect x="605.85" y="210.01" width="11.55" height="6.45" fill="#f67f4b"/>
<rect x="374.95" y="215.76" width="12.25" height="6.45" fill="#fff6b0"/>
<rect x="386.5" y="215.76" width="12.25" height="6.45" fill="#fff5ae"/>
<rect x="398.04" y="215.76" width="12.25" height="6.45" fill="#fff3ac"/>
<rect x="409.59" y="215.76" width="12.25" height="6.45" fill="#fff3ac"/>
<rect x="421.13" y="215.76" width="12.25" height="6.45" fill="#fff2aa"/>
<rect x="432.68" y="215.76" width="12.25" height="6.45" fill="#fff0a6"/>
<rect x="444.22" y="215.76" width="12.25" height="6.45" fill="#feefa3"/>
<rect x="455.77" y="215.76" width="12.25" height="6.45" fill="#feeb9d"/>
<rect x="467.31" y="215.76" width="12.25" height="6.45" fill="#fee999"/>
<rect x="478.86" y="215.76" width="12.25" height="6.45" fill="#fee491"/>
<rect x="490.4" y="215.76" width="12.25" height="6.45" fill="#fee08b"/>
<rect x="501.95" y="215.76" width="12.25" height="6.45" fill="#feda86"/>
<rect x="513.49" y="215.76" width="12.25" height="6.45" fill="#fed27f"/>
<rect x="525.04" y="215.76" width="12.25" height="6.45" fill="#feca79"/>
<rect x="536.58" y="215.76" width="12.25" height="6.45" fill="#fdc171"/>
<rect x="548.13" y="215.76" width="12.25" height="6.45" fill="#fdb96a"/>
<rect x="559.67" y="215.76" width="12.25" height="6.45" fill="#fdaf62"/>
<rect x="571.22" y="215.76" width="12.25" height="6.45" fill="#fba35c"/>
<rect x="582.76" y="215.76" width="12.25" height="6.45" fill="#f99153"/>
<rect x="594.31" y="215.76" width="12.25" height="6.45" fill="#f67c4a"/>
<rect x="605.85" y="215.76" width="11.55" height="6.45" fill="#f46d43"/>
<rect x="374.95" y="221.51" width="12.25" height="6.45" fill="#fff5ae"/>
<rect x="386.5" y="221.51" width="12.25" height="6.45" fill="#fff3ac"/>
<rect x="398.04" y="221.51" width="12.25" height="6.45" fill="#fff2aa"/>
<rect x="409.59" y="221.51" width="12.25" height="6.45" fill="#fff1a8"/>
<rect x="421.13" y="221.51" width="12.25" height="6.45" fill="#fff0a6"/>
<rect x="432.68" y="221.51" width="12.25" height="6.45" fill="#feeda1"/>
<rect x="444.22" y="221.51" width="12.25" height="6.45" fill="#feeb9d"/>
<rect x="455.77" y="221.51" width="12.25" height="6.45" fill="#fee999"/>
<rect x="467.31" y="221.51" width="12.25" height="6.45" fill="#fee491"/>
<rect x="478.86" y="221.51" width="12.25" height="6.45" fill="#fee08b"/>
<rect x="490.4" y="221.51" width="12.25" height="6.45" fill="#fed884"/>
<rect x="501.95" y="221.51" width="12.25" height="6.45" fill="#fed27f"/>
<rect x="513.49" y="221.51" width="12.25" height="6.45" fill="#fec877"/>
<rect x="525.04" y="221.51" width="12.25" height="6.45" fill="#fdc171"/>
<rect x="536.58" y="221.51" width="12.25" height="6.45" fill="#fdb768"/>
<rect x="548.13" y="221.51" width="12.25" height="6.45" fill="#fdaf62"/>
<rect x="559.67" y="221.51" width="12.25" height="6.45" fill="#fba05b"/>
<rect x="571.22" y="221.51" width="12.25" height="6.45" fill="#f98e52"/>
<rect x="582.76" y="221.51" width="12.25" height="6.45" fill="#f67c4a"/>
<rect x="594.31" y="221.51" width="12.25" height="6.45" fill="#f36b43"/>
<rect x="605.85" y="221.51" width="11.55" height="6.45" fill="#ed6246"/>
<rect x="374.95" y="227.26" width="12.25" height="6.45" fill="#fff3ac"/>
<rect x="386.5" y="227.26" width="12.25" height="6.45" fill="#fff2aa"/>
<rect x="398.04" y="227.26" width="12.25" height="6.45" fill="#fff1a8"/>
<rect x="409.59" y="227.26" width="12.25" height="6.45" fill="#fff0a6"/>
<rect x="421.13" y="227.26" width="12.25" height="6.45" fill="#feeda1"/>
<rect x="432.68" y="227.26" width="12.25" height="6.45" fill="#feeb9d"/>
<rect x="444.22" y="227.26" width="12.25" height="6.45" fill="#fee797"/>
<rect x="455.77" y="227.26" width="12.25" height="6.45" fill="#fee491"/>
<rect x="467.31" y="227.26" width="12.25" height="6.45" fill="#fede89"/>
<rect x="478.86" y="227.26" width="12.25" height="6.45" fill="#fed884"/>
<rect x="490.4" y="227.26" width="12.25" height="6.45" fill="#fed07e"/>
<rect x="501.95" y="227.26" width="12.25" height="6.45" fill="#fec877"/>
<rect x="513.49" y="227.26" width="12.25" height="6.45" fill="#fdbf6f"/>
<rect x="525.04" y="227.26" width="12.25" height="6.45" fill="#fdb768"/>
<rect x="536.58" y="227.26" width="12.25" height="6.45" fill="#fdad60"/>
<rect x="548.13" y="227.26" width="12.25" height="6.45" fill="#fb9d59"/>
<rect x="559.67" y="227.26" width="12.25" height="6.45" fill="#f88c51"/>
<rect x="571.22" y="227.26" width="12.25" height="6.45" fill="#f67a49"/>
<rect x="582.76" y="227.26" width="12.25" height="6.45" fill="#f26944"/>
<rect x="594.31" y="227.26" width="12.25" height="6.45" fill="#ed6246"/>
<rect x="605.85" y="227.26" width="11.55" height="6.45" fill="#e45549"/>
<rect x="374.95" y="233.01" width="12.25" height="6.45" fill="#fff2aa"/>
<rect x="386.5" y="233.01" width="12.25" height="6.45" fill="#fff1a8"/>
<rect x="398.04" y="233.01" width="12.25" height="6.45" fill="#fff0a6"/>
<rect x="409.59" y="233.01" width="12.25" height="6.45" fill="#feeda1"/>
<rect x="421.13" y="233.01" width="12.25" height="6.45" fill="#feeb9d"/>
<rect x="432.68" y="233.01" width="12.25" height="6.45" fill="#fee797"/>
<rect x="444.22" y="233.01" width="12.25" height="6.45" fill="#fee28f"/>
<rect x="455.77" y="233.01" width="12.25" height="6.45" fill="#fede89"/>
<rect x="467.31" y="233.01" width="12.25" height="6.45" fill="#fed683"/>
<rect x="478.86" y="233.01" width="12.25" height="6.45" fill="#fed07e"/>
<rect x="490.4" y="233.01" width="12.25" height="6.45" fill="#fdc776"/>
<rect x="501.95" y="233.01" width="12.25" height="6.45" fill="#fdbf6f"/>
<rect x="513.49" y="233.01" width="12.25" height="6.45" fill="#fdb567"/>
<rect x="525.04" y="233.01" width="12.25" height="6.45" fill="#fcaa5f"/>
<rect x="536.58" y="233.01" width="12.25" height="6.45" fill="#fa9b58"/>
<rect x="548.13" y="233.01" width="12.25" height="6.45" fill="#f88950"/>
<rect x="559.67" y="233.01" width="12.25" height="6.45" fill="#f57748"/>
<rect x="571.22" y="233.01" width="12.25" height="6.45" fill="#f26944"/>
<rect x="582.76" y="233.01" width="12.25" height="6.45" fill="#eb6046"/>
<rect x="594.31" y="233.01" width="12.25" height="6.45" fill="#e3534a"/>
<rect x="605.85" y="233.01" width="11.55" height="6.45" fill="#da464d"/>
<rect x="374.95" y="238.75" width="12.25" height="6.45" fill="#fff1a8"/>
<rect x="386.5" y="238.75" width="12.25" height="6.45" fill="#fff0a6"/>
<rect x="398.04" y="238.75" width="12.25" height="6.45" fill="#feeda1"/>
<rect x="409.59" y="238.75" width="12.25" height="6.45" fill="#feea9b"/>
<rect x="421.13" y="238.75" width="12.25" height="6.45" fill="#fee695"/>
<rect x="432.68" y="238.75" width="12.25" height="6.45" fill="#fee28f"/>
<rect x="444.22" y="238.75" width="12.25" height="6.45" fill="#fedc88"/>
<rect x="455.77" y="238.75" width="12.25" height="6.45" fill="#fed683"/>
<rect x="467.31" y="238.75" width="12.25" height="6.45" fill="#fece7c"/>
<rect x="478.86" y="238.75" width="12.25" height="6.45" fill="#fdc776"/>
<rect x="490.4" y="238.75" width="12.25" height="6.45" fill="#fdbd6d"/>
<rect x="501.95" y="238.75" width="12.25" height="6.45" fill="#fdb567"/>
<rect x="513.49" y="238.75" width="12.25" height="6.45" fill="#fcaa5f"/>
<rect x="525.04" y="238.75" width="12.25" height="6.45" fill="#fa9b58"/>
<rect x="536.58" y="238.75" width="12.25" height="6.45" fill="#f8864f"/>
<rect x="548.13" y="238.75" width="12.25" height="6.45" fill="#f57547"/>
<rect x="559.67" y="238.75" width="12.25" height="6.45" fill="#f06744"/>
<rect x="571.22" y="238.75" width="12.25" height="6.45" fill="#ea5e47"/>
<rect x="582.76" y="238.75" width="12.25" height="6.45" fill="#e2514a"/>
<rect x="594.31" y="238.75" width="12.25" height="6.45" fill="#d9444d"/>
<rect x="605.85" y="238.75" width="11.55" height="6.45" fill="#cd364d"/>
<rect x="374.95" y="244.5" width="12.25" height="6.45" fill="#fff0a6"/>
<rect x="386.5" y="244.5" width="12.25" height="6.45" fill="#feec9f"/>
<rect x="398.04" y="244.5" width="12.25" height="6.45" fill="#feea9b"/>
<rect x="409.59" y="244.5" width="12.25" height="6.45" fill="#fee695"/>
<rect x="421.13" y="244.5" width="12.25" height="6.45" fill="#fee28f"/>
<rect x="432.68" y="244.5" width="12.25" height="6.45" fill="#fedc88"/>
<rect x="444.22" y="244.5" width="12.25" height="6.45" fill="#fed683"/>
<rect x="455.77" y="244.5" width="12.25" height="6.45" fill="#fece7c"/>
<rect x="467.31" y="244.5" width="12.25" height="6.45" fill="#fdc574"/>
<rect x="478.86" y="244.5" width="12.25" height="6.45" fill="#fdbd6d"/>
<rect x="490.4" y="244.5" width="12.25" height="6.45" fill="#fdb365"/>
<rect x="501.95" y="244.5" width="12.25" height="6.45" fill="#fca85e"/>
<rect x="513.49" y="244.5" width="12.25" height="6.45" fill="#fa9857"/>
<rect x="525.04" y="244.5" width="12.25" height="6.45" fill="#f7844e"/>
<rect x="536.58" y="244.5" width="12.25" height="6.45" fill="#f57547"/>
<rect x="548.13" y="244.5" width="12.25" height="6.45" fill="#f06744"/>
<rect x="559.67" y="244.5" width="12.25" height="6.45" fill="#e95c47"/>
<rect x="571.22" y="244.5" width="12.25" height="6.45" fill="#e1504b"/>
<rect x="582.76" y="244.5" width="12.25" height="6.45" fill="#d9444d"/>
<rect x="594.31" y="244.5" width="12.25" height="6.45" fill="#cd364d"/>
<rect x="605.85" y="244.5" width="11.55" height="6.45" fill="#bc2249"/>
<rect x="374.95" y="250.25" width="12.25" height="6.45" fill="#feec9f"/>
<rect x="386.5" y="250.25" width="12.25" height="6.45" fill="#feea9b"/>
<rect x="398.04" y="250.25" width="12.25" height="6.45" fill="#fee695"/>
<rect x="409.59" y="250.25" width="12.25" height="6.45" fill="#fee18d"/>
<rect x="421.13" y="250.25" width="12.25" height="6.45" fill="#fedc88"/>
<rect x="432.68" y="250.25" width="12.25" height="6.45" fill="#fed481"/>
<rect x="444.22" y="250.25" width="12.25" height="6.45" fill="#fecc7b"/>
<rect x="455.77" y="250.25" width="12.25" height="6.45" fill="#fdc574"/>
<rect x="467.31" y="250.25" width="12.25" height="6.45" fill="#fdbb6c"/>
<rect x="478.86" y="250.25" width="12.25" height="6.45" fill="#fdb365"/>
<rect x="490.4" y="250.25" width="12.25" height="6.45" fill="#fca85e"/>
<rect x="501.95" y="250.25" width="12.25" height="6.45" fill="#fa9656"/>
<rect x="513.49" y="250.25" width="12.25" height="6.45" fill="#f7844e"/>
<rect x="525.04" y="250.25" width="12.25" height="6.45" fill="#f57245"/>
<rect x="536.58" y="250.25" width="12.25" height="6.45" fill="#ef6645"/>
<rect x="548.13" y="250.25" width="12.25" height="6.45" fill="#e95c47"/>
<rect x="559.67" y="250.25" width="12.25" height="6.45" fill="#e1504b"/>
<rect x="571.22" y="250.25" width="12.25" height="6.45" fill="#d8434e"/>
<rect x="582.76" y="250.25" width="12.25" height="6.45" fill="#cb334d"/>
<rect x="594.31" y="250.25" width="12.25" height="6.45" fill="#ba2049"/>
<rect x="605.85" y="250.25" width="11.55" height="6.45" fill="#ad1246"/>
<rect x="374.95" y="256" width="12.25" height="5.75" fill="#feea9b"/>
<rect x="386.5" y="256" width="12.25" height="5.75" fill="#fee593"/>
<rect x="398.04" y="256" width="12.25" height="5.75" fill="#fee18d"/>
<rect x="409.59" y="256" width="12.25" height="5.75" fill="#feda86"/>
<rect x="421.13" y="256" width="12.25" height="5.75" fill="#fed481"/>
<rect x="432.68" y="256" width="12.25" height="5.75" fill="#fecc7b"/>
<rect x="444.22" y="256" width="12.25" height="5.75" fill="#fdc372"/>
<rect x="455.77" y="256" width="12.25" height="5.75" fill="#fdbb6c"/>
<rect x="467.31" y="256" width="12.25" height="5.75" fill="#fdb163"/>
<rect x="478.86" y="256" width="12.25" height="5.75" fill="#fca55d"/>
<rect x="490.4" y="256" width="12.25" height="5.75" fill="#f99355"/>
<rect x="501.95" y="256" width="12.25" height="5.75" fill="#f7814c"/>
<rect x="513.49" y="256" width="12.25" height="5.75" fill="#f47044"/>
<rect x="525.04" y="256" width="12.25" height="5.75" fill="#ef6645"/>
<rect x="536.58" y="256" width="12.25" height="5.75" fill="#e85b48"/>
<rect x="548.13" y="256" width="12.25" height="5.75" fill="#df4e4b"/>
<rect x="559.67" y="256" width="12.25" height="5.75" fill="#d7414e"/>
<rect x="571.22" y="256" width="12.25" height="5.75" fill="#c9314c"/>
<rect x="582.76" y="256" width="12.25" height="5.75" fill="#b81e48"/>
<rect x="594.31" y="256" width="12.25" height="5.75" fill="#ab0f45"/>
<rect x="605.85" y="256" width="11.55" height="5.75" fill="#9e0142"/>
</g>
<linearGradient id="g2" x1="0" y1="0" x2="0" y2="1"><stop offset="0%" stop-color="#ffffbe"/><stop offset="2.08%" stop-color="#fffcba"/><stop offset="4.17%" stop-color="#fff8b4"/><stop offset="6.25%" stop-color="#fff6b0"/><stop offset="8.33%" stop-color="#fff2aa"/><stop offset="10.42%" stop-color="#feefa3"/><stop offset="12.5%" stop-color="#feec9f"/><stop offset="14.58%" stop-color="#fee999"/><stop offset="16.67%" stop-color="#fee593"/><stop offset="18.75%" stop-color="#fee28f"/><stop offset="20.83%" stop-color="#fede89"/><stop offset="22.92%" stop-color="#feda86"/><stop offset="25%" stop-color="#fed481"/><stop offset="27.08%" stop-color="#fece7c"/><stop offset="29.17%" stop-color="#feca79"/><stop offset="31.25%" stop-color="#fdc574"/><stop offset="33.33%" stop-color="#fdbf6f"/><stop offset="35.42%" stop-color="#fdbb6c"/><stop offset="37.5%" stop-color="#fdb567"/><stop offset="39.58%" stop-color="#fdaf62"/><stop offset="41.67%" stop-color="#fcaa5f"/><stop offset="43.75%" stop-color="#fba35c"/><stop offset="45.83%" stop-color="#fa9b58"/><stop offset="47.92%" stop-color="#fa9656"/><stop offset="50%" stop-color="#f98e52"/><stop offset="52.08%" stop-color="#f8864f"/><stop offset="54.17%" stop-color="#f67f4b"/><stop offset="56.25%" stop-color="#f67a49"/><stop offset="58.33%" stop-color="#f57245"/><stop offset="60.42%" stop-color="#f36b43"/><stop offset="62.5%" stop-color="#f06744"/><stop offset="64.58%" stop-color="#ed6246"/><stop offset="66.67%" stop-color="#e95c47"/><stop offset="68.75%" stop-color="#e75948"/><stop offset="70.83%" stop-color="#e3534a"/><stop offset="72.92%" stop-color="#df4e4b"/><stop offset="75%" stop-color="#dd4a4c"/><stop offset="77.08%" stop-color="#d9444d"/><stop offset="79.17%" stop-color="#d63f4f"/><stop offset="81.25%" stop-color="#d23a4e"/><stop offset="83.33%" stop-color="#cb334d"/><stop offset="85.42%" stop-color="#c52c4b"/><stop offset="87.5%" stop-color="#c1274a"/><stop offset="89.58%" stop-color="#ba2049"/><stop offset="91.67%" stop-color="#b41947"/><stop offset="93.75%" stop-color="#af1446"/><stop offset="95.83%" stop-color="#a90d45"/><stop offset="97.92%" stop-color="#a20643"/><stop offset="100%" stop-color="#9e0142"/></linearGradient>
<rect x="632" y="14.55" width="13.05" height="247.2" fill="url(#g2)"/>
<text x="650.35" y="19.6" class="t">0.00</text>
<text x="650.35" y="51.28" class="t">−0.01</text>
<text x="650.35" y="82.95" class="t">−0.02</text>
<text x="650.35" y="114.63" class="t">−0.03</text>
<text x="650.35" y="146.3" class="t">−0.04</text>
<text x="650.35" y="177.98" class="t">−0.05</text>
<text x="650.35" y="209.66" class="t">−0.06</text>
<text x="650.35" y="241.33" class="t">−0.07</text>
<path d="M645.05 15.5h2.9M645.05 47.18h2.9M645.05 78.85h2.9M645.05 110.53h2.9M645.05 142.2h2.9M645.05 173.88h2.9M645.05 205.56h2.9M645.05 237.23h2.9" class="k"/>
<path d="M374.95 17.42h-3.2M374.95 23.17h-3.2M374.95 28.92h-3.2M374.95 34.67h-3.2M374.95 40.42h-3.2M374.95 46.17h-3.2M374.95 51.92h-3.2M374.95 57.67h-3.2M374.95 63.42h-3.2M374.95 69.16h-3.2M374.95 74.91h-3.2M374.95 80.66h-3.2M374.95 86.41h-3.2M374.95 92.16h-3.2M374.95 97.91h-3.2M374.95 103.66h-3.2M374.95 109.41h-3.2M374.95 115.15h-3.2M374.95 120.9h-3.2M374.95 126.65h-3.2M374.95 132.4h-3.2M374.95 138.15h-3.2M374.95 143.9h-3.2M374.95 149.65h-3.2M374.95 155.4h-3.2M374.95 161.15h-3.2M374.95 166.89h-3.2M374.95 172.64h-3.2M374.95 178.39h-3.2M374.95 184.14h-3.2M374.95 189.89h-3.2M374.95 195.64h-3.2M374.95 201.39h-3.2M374.95 207.14h-3.2M374.95 212.88h-3.2M374.95 218.63h-3.2M374.95 224.38h-3.2M374.95 230.13h-3.2M374.95 235.88h-3.2M374.95 241.63h-3.2M374.95 247.38h-3.2M374.95 253.13h-3.2M374.95 258.88h-3.2" class="k"/>
<path d="M380.72 261.75v3.2M403.81 261.75v3.2M426.9 261.75v3.2M449.99 261.75v3.2M473.08 261.75v3.2M496.17 261.75v3.2M519.27 261.75v3.2M542.36 261.75v3.2M565.45 261.75v3.2M588.54 261.75v3.2M611.63 261.75v3.2" class="k"/>
<text x="495.97" y="10.45" class="ti m">male non-smoker - male smoker</text>
<g>
<rect x="34.1" y="293.05" width="242.7" height="247" fill="#fffdbc"/>
<rect x="34.1" y="293.05" width="242.7" height="6.44" fill="#fffdbc"/>
<rect x="34.1" y="298.79" width="242.7" height="6.44" fill="#fffdbc"/>
<rect x="34.1" y="304.54" width="242.7" height="6.44" fill="#fffdbc"/>
<rect x="34.1" y="310.28" width="242.7" height="6.44" fill="#fffdbc"/>
<rect x="34.1" y="316.03" width="242.7" height="6.44" fill="#fffdbc"/>
<rect x="34.1" y="321.77" width="242.7" height="6.44" fill="#fffdbc"/>
<rect x="34.1" y="327.52" width="242.7" height="6.44" fill="#fffdbc"/>
<rect x="34.1" y="333.26" width="242.7" height="6.44" fill="#fffdbc"/>
<rect x="34.1" y="339" width="242.7" height="6.44" fill="#fffdbc"/>
<rect x="34.1" y="344.75" width="242.7" height="6.44" fill="#fffdbc"/>
<rect x="34.1" y="350.49" width="231.84" height="6.44" fill="#fffdbc"/>
<rect x="265.24" y="350.49" width="11.56" height="6.44" fill="#ffffbe"/>
<rect x="34.1" y="356.24" width="220.29" height="6.44" fill="#fffdbc"/>
<rect x="253.69" y="356.24" width="23.11" height="6.44" fill="#ffffbe"/>
<rect x="34.1" y="361.98" width="208.73" height="6.44" fill="#fffdbc"/>
<rect x="242.13" y="361.98" width="23.81" height="6.44" fill="#ffffbe"/>
<rect x="265.24" y="361.98" width="11.56" height="6.44" fill="#fffcba"/>
<rect x="34.1" y="367.72" width="197.17" height="6.44" fill="#fffdbc"/>
<rect x="230.57" y="367.72" width="23.81" height="6.44" fill="#ffffbe"/>
<rect x="253.69" y="367.72" width="23.11" height="6.44" fill="#fffcba"/>
<rect x="34.1" y="373.47" width="185.61" height="6.44" fill="#fffdbc"/>
<rect x="219.01" y="373.47" width="23.81" height="6.44" fill="#ffffbe"/>
<rect x="242.13" y="373.47" width="34.67" height="6.44" fill="#fffcba"/>
<rect x="34.1" y="379.21" width="174.06" height="6.44" fill="#fffdbc"/>
<rect x="207.46" y="379.21" width="23.81" height="6.44" fill="#ffffbe"/>
<rect x="230.57" y="379.21" width="46.23" height="6.44" fill="#fffcba"/>
<rect x="34.1" y="384.96" width="162.5" height="6.44" fill="#fffdbc"/>
<rect x="195.9" y="384.96" width="23.81" height="6.44" fill="#ffffbe"/>
<rect x="219.01" y="384.96" width="57.79" height="6.44" fill="#fffcba"/>
<rect x="34.1" y="390.7" width="150.94" height="6.44" fill="#fffdbc"/>
<rect x="184.34" y="390.7" width="23.81" height="6.44" fill="#ffffbe"/>
<rect x="207.46" y="390.7" width="69.34" height="6.44" fill="#fffcba"/>
<rect x="34.1" y="396.45" width="139.39" height="6.44" fill="#fffdbc"/>
<rect x="172.79" y="396.45" width="23.81" height="6.44" fill="#ffffbe"/>
<rect x="195.9" y="396.45" width="80.9" height="6.44" fill="#fffcba"/>
<rect x="34.1" y="402.19" width="127.83" height="6.44" fill="#fffdbc"/>
<rect x="161.23" y="402.19" width="23.81" height="6.44" fill="#ffffbe"/>
<rect x="184.34" y="402.19" width="92.46" height="6.44" fill="#fffcba"/>
<rect x="34.1" y="407.93" width="116.27" height="6.44" fill="#fffdbc"/>
<rect x="149.67" y="407.93" width="23.81" height="6.44" fill="#ffffbe"/>
<rect x="172.79" y="407.93" width="104.01" height="6.44" fill="#fffcba"/>
<rect x="34.1" y="413.68" width="104.71" height="6.44" fill="#fffdbc"/>
<rect x="138.11" y="413.68" width="23.81" height="6.44" fill="#ffffbe"/>
<rect x="161.23" y="413.68" width="115.57" height="6.44" fill="#fffcba"/>
<rect x="34.1" y="419.42" width="93.16" height="6.44" fill="#fffdbc"/>
<rect x="126.56" y="419.42" width="23.81" height="6.44" fill="#ffffbe"/>
<rect x="149.67" y="419.42" width="127.13" height="6.44" fill="#fffcba"/>
<rect x="34.1" y="425.17" width="81.6" height="6.44" fill="#fffdbc"/>
<rect x="115" y="425.17" width="23.81" height="6.44" fill="#ffffbe"/>
<rect x="138.11" y="425.17" width="138.69" height="6.44" fill="#fffcba"/>
<rect x="34.1" y="430.91" width="70.04" height="6.44" fill="#fffdbc"/>
<rect x="103.44" y="430.91" width="23.81" height="6.44" fill="#ffffbe"/>
<rect x="126.56" y="430.91" width="139.39" height="6.44" fill="#fffcba"/>
<rect x="265.24" y="430.91" width="11.56" height="6.44" fill="#fffcba"/>
<rect x="34.1" y="436.65" width="58.49" height="6.44" fill="#fffdbc"/>
<rect x="91.89" y="436.65" width="23.81" height="6.44" fill="#ffffbe"/>
<rect x="115" y="436.65" width="139.39" height="6.44" fill="#fffcba"/>
<rect x="253.69" y="436.65" width="23.11" height="6.44" fill="#fffcba"/>
<rect x="34.1" y="442.4" width="46.93" height="6.44" fill="#fffdbc"/>
<rect x="80.33" y="442.4" width="23.81" height="6.44" fill="#ffffbe"/>
<rect x="103.44" y="442.4" width="139.39" height="6.44" fill="#fffcba"/>
<rect x="242.13" y="442.4" width="23.81" height="6.44" fill="#fffcba"/>
<rect x="265.24" y="442.4" width="11.56" height="6.44" fill="#fffbb8"/>
<rect x="34.1" y="448.14" width="35.37" height="6.44" fill="#fffdbc"/>
<rect x="68.77" y="448.14" width="23.81" height="6.44" fill="#ffffbe"/>
<rect x="91.89" y="448.14" width="139.39" height="6.44" fill="#fffcba"/>
<rect x="230.57" y="448.14" width="23.81" height="6.44" fill="#fffcba"/>
<rect x="253.69" y="448.14" width="12.26" height="6.44" fill="#fffbb8"/>
<rect x="265.24" y="448.14" width="11.56" height="6.44" fill="#fffbb8"/>
<rect x="34.1" y="453.89" width="23.81" height="6.44" fill="#fffdbc"/>
<rect x="57.21" y="453.89" width="23.81" height="6.44" fill="#ffffbe"/>
<rect x="80.33" y="453.89" width="139.39" height="6.44" fill="#fffcba"/>
<rect x="219.01" y="453.89" width="23.81" height="6.44" fill="#fffcba"/>
<rect x="242.13" y="453.89" width="12.26" height="6.44" fill="#fffbb8"/>
<rect x="253.69" y="453.89" width="12.26" height="6.44" fill="#fffbb8"/>
<rect x="265.24" y="453.89" width="11.56" height="6.44" fill="#fffab6"/>
<rect x="34.1" y="459.63" width="12.26" height="6.44" fill="#fffdbc"/>
<rect x="45.66" y="459.63" width="23.81" height="6.44" fill="#ffffbe"/>
<rect x="68.77" y="459.63" width="139.39" height="6.44" fill="#fffcba"/>
<rect x="207.46" y="459.63" width="23.81" height="6.44" fill="#fffcba"/>
<rect x="230.57" y="459.63" width="12.26" height="6.44" fill="#fffbb8"/>
<rect x="242.13" y="459.63" width="12.26" height="6.44" fill="#fffbb8"/>
<rect x="253.69" y="459.63" width="23.11" height="6.44" fill="#fffab6"/>
<rect x="34.1" y="465.38" width="23.81" height="6.44" fill="#ffffbe"/>
<rect x="57.21" y="465.38" width="139.39" height="6.44" fill="#fffcba"/>
<rect x="195.9" y="465.38" width="23.81" height="6.44" fill="#fffcba"/>
<rect x="219.01" y="465.38" width="12.26" height="6.44" fill="#fffbb8"/>
<rect x="230.57" y="465.38" width="12.26" height="6.44" fill="#fffbb8"/>
<rect x="242.13" y="465.38" width="23.81" height="6.44" fill="#fffab6"/>
<rect x="265.24" y="465.38" width="11.56" height="6.44" fill="#fff8b4"/>
<rect x="34.1" y="471.12" width="12.26" height="6.44" fill="#ffffbe"/>
<rect x="45.66" y="471.12" width="139.39" height="6.44" fill="#fffcba"/>
<rect x="184.34" y="471.12" width="23.81" height="6.44" fill="#fffcba"/>
<rect x="207.46" y="471.12" width="12.26" height="6.44" fill="#fffbb8"/>
<rect x="219.01" y="471.12" width="12.26" height="6.44" fill="#fffbb8"/>
<rect x="230.57" y="471.12" width="23.81" height="6.44" fill="#fffab6"/>
<rect x="253.69" y="471.12" width="23.11" height="6.44" fill="#fff8b4"/>
<rect x="34.1" y="476.86" width="139.39" height="6.44" fill="#fffcba"/>
<rect x="172.79" y="476.86" width="23.81" height="6.44" fill="#fffcba"/>
<rect x="195.9" y="476.86" width="12.26" height="6.44" fill="#fffbb8"/>
<rect x="207.46" y="476.86" width="12.26" height="6.44" fill="#fffbb8"/>
<rect x="219.01" y="476.86" width="23.81" height="6.44" fill="#fffab6"/>
<rect x="242.13" y="476.86" width="23.81" height="6.44" fill="#fff8b4"/>
<rect x="265.24" y="476.86" width="11.56" height="6.44" fill="#fffab6"/>
<rect x="34.1" y="482.61" width="127.83" height="6.44" fill="#fffcba"/>
<rect x="161.23" y="482.61" width="23.81" height="6.44" fill="#fffcba"/>
<rect x="184.34" y="482.61" width="12.26" height="6.44" fill="#fffbb8"/>
<rect x="195.9" y="482.61" width="12.26" height="6.44" fill="#fffbb8"/>
<rect x="207.46" y="482.61" width="23.81" height="6.44" fill="#fffab6"/>
<rect x="230.57" y="482.61" width="23.81" height="6.44" fill="#fff8b4"/>
<rect x="253.69" y="482.61" width="12.26" height="6.44" fill="#fffab6"/>
<rect x="265.24" y="482.61" width="11.56" height="6.44" fill="#fffbb8"/>
<rect x="34.1" y="488.35" width="116.27" height="6.44" fill="#fffcba"/>
<rect x="149.67" y="488.35" width="23.81" height="6.44" fill="#fffcba"/>
<rect x="172.79" y="488.35" width="12.26" height="6.44" fill="#fffbb8"/>
<rect x="184.34" y="488.35" width="12.26" height="6.44" fill="#fffbb8"/>
<rect x="195.9" y="488.35" width="23.81" height="6.44" fill="#fffab6"/>
<rect x="219.01" y="488.35" width="23.81" height="6.44" fill="#fff8b4"/>
<rect x="242.13" y="488.35" width="12.26" height="6.44" fill="#fffab6"/>
<rect x="253.69" y="488.35" width="12.26" height="6.44" fill="#fffbb8"/>
<rect x="265.24" y="488.35" width="11.56" height="6.44" fill="#ffffbe"/>
<rect x="34.1" y="494.1" width="104.71" height="6.44" fill="#fffcba"/>
<rect x="138.11" y="494.1" width="23.81" height="6.44" fill="#fffcba"/>
<rect x="161.23" y="494.1" width="12.26" height="6.44" fill="#fffbb8"/>
<rect x="172.79" y="494.1" width="12.26" height="6.44" fill="#fffbb8"/>
<rect x="184.34" y="494.1" width="23.81" height="6.44" fill="#fffab6"/>
<rect x="207.46" y="494.1" width="23.81" height="6.44" fill="#fff8b4"/>
<rect x="230.57" y="494.1" width="12.26" height="6.44" fill="#fffab6"/>
<rect x="242.13" y="494.1" width="12.26" height="6.44" fill="#fffbb8"/>
<rect x="253.69" y="494.1" width="12.26" height="6.44" fill="#ffffbe"/>
<rect x="265.24" y="494.1" width="11.56" height="6.44" fill="#fcfeba"/>
<rect x="34.1" y="499.84" width="93.16" height="6.44" fill="#fffcba"/>
<rect x="126.56" y="499.84" width="23.81" height="6.44" fill="#fffcba"/>
<rect x="149.67" y="499.84" width="12.26" height="6.44" fill="#fffbb8"/>
<rect x="161.23" y="499.84" width="12.26" height="6.44" fill="#fffbb8"/>
<rect x="172.79" y="499.84" width="23.81" height="6.44" fill="#fffab6"/>
<rect x="195.9" y="499.84" width="23.81" height="6.44" fill="#fff8b4"/>
<rect x="219.01" y="499.84" width="12.26" height="6.44" fill="#fffab6"/>
<rect x="230.57" y="499.84" width="12.26" height="6.44" fill="#fffbb8"/>
<rect x="242.13" y="499.84" width="12.26" height="6.44" fill="#ffffbe"/>
<rect x="253.69" y="499.84" width="12.26" height="6.44" fill="#fcfeba"/>
<rect x="265.24" y="499.84" width="11.56" height="6.44" fill="#f5fbaf"/>
<rect x="34.1" y="505.58" width="81.6" height="6.44" fill="#fffcba"/>
<rect x="115" y="505.58" width="23.81" height="6.44" fill="#fffcba"/>
<rect x="138.11" y="505.58" width="12.26" height="6.44" fill="#fffbb8"/>
<rect x="149.67" y="505.58" width="12.26" height="6.44" fill="#fffbb8"/>
<rect x="161.23" y="505.58" width="23.81" height="6.44" fill="#fffab6"/>
<rect x="184.34" y="505.58" width="23.81" height="6.44" fill="#fff8b4"/>
<rect x="207.46" y="505.58" width="12.26" height="6.44" fill="#fffab6"/>
<rect x="219.01" y="505.58" width="12.26" height="6.44" fill="#fffbb8"/>
<rect x="230.57" y="505.58" width="12.26" height="6.44" fill="#ffffbe"/>
<rect x="242.13" y="505.58" width="12.26" height="6.44" fill="#fcfeba"/>
<rect x="253.69" y="505.58" width="12.26" height="6.44" fill="#f5fbaf"/>
<rect x="265.24" y="505.58" width="11.56" height="6.44" fill="#eaf79e"/>
<rect x="34.1" y="511.33" width="70.04" height="6.44" fill="#fffcba"/>
<rect x="103.44" y="511.33" width="23.81" height="6.44" fill="#fffcba"/>
<rect x="126.56" y="511.33" width="12.26" height="6.44" fill="#fffbb8"/>
<rect x="138.11" y="511.33" width="12.26" height="6.44" fill="#fffbb8"/>
<rect x="149.67" y="511.33" width="23.81" height="6.44" fill="#fffab6"/>
<rect x="172.79" y="511.33" width="23.81" height="6.44" fill="#fff8b4"/>
<rect x="195.9" y="511.33" width="12.26" height="6.44" fill="#fffab6"/>
<rect x="207.46" y="511.33" width="12.26" height="6.44" fill="#fffbb8"/>
<rect x="219.01" y="511.33" width="12.26" height="6.44" fill="#ffffbe"/>
<rect x="230.57" y="511.33" width="12.26" height="6.44" fill="#fcfeba"/>
<rect x="242.13" y="511.33" width="12.26" height="6.44" fill="#f5fbaf"/>
<rect x="253.69" y="511.33" width="12.26" height="6.44" fill="#eaf79e"/>
<rect x="265.24" y="511.33" width="11.56" height="6.44" fill="#c8e99e"/>
<rect x="34.1" y="517.07" width="58.49" height="6.44" fill="#fffcba"/>
<rect x="91.89" y="517.07" width="23.81" height="6.44" fill="#fffcba"/>
<rect x="115" y="517.07" width="12.26" height="6.44" fill="#fffbb8"/>
<rect x="126.56" y="517.07" width="12.26" height="6.44" fill="#fffbb8"/>
<rect x="138.11" y="517.07" width="23.81" height="6.44" fill="#fffab6"/>
<rect x="161.23" y="517.07" width="23.81" height="6.44" fill="#fff8b4"/>
<rect x="184.34" y="517.07" width="12.26" height="6.44" fill="#fffab6"/>
<rect x="195.9" y="517.07" width="12.26" height="6.44" fill="#fffbb8"/>
<rect x="207.46" y="517.07" width="12.26" height="6.44" fill="#ffffbe"/>
<rect x="219.01" y="517.07" width="12.26" height="6.44" fill="#fcfeba"/>
<rect x="230.57" y="517.07" width="12.26" height="6.44" fill="#f5fbaf"/>
<rect x="242.13" y="517.07" width="12.26" height="6.44" fill="#eaf79e"/>
<rect x="253.69" y="517.07" width="12.26" height="6.44" fill="#c8e99e"/>
<rect x="265.24" y="517.07" width="11.56" height="6.44" fill="#74c7a5"/>
<rect x="34.1" y="522.82" width="46.93" height="6.44" fill="#fffcba"/>
<rect x="80.33" y="522.82" width="23.81" height="6.44" fill="#fffcba"/>
<rect x="103.44" y="522.82" width="12.26" height="6.44" fill="#fffbb8"/>
<rect x="115" y="522.82" width="12.26" height="6.44" fill="#fffbb8"/>
<rect x="126.56" y="522.82" width="23.81" height="6.44" fill="#fffab6"/>
<rect x="149.67" y="522.82" width="23.81" height="6.44" fill="#fff8b4"/>
<rect x="172.79" y="522.82" width="12.26" height="6.44" fill="#fffab6"/>
<rect x="184.34" y="522.82" width="12.26" height="6.44" fill="#fffbb8"/>
<rect x="195.9" y="522.82" width="12.26" height="6.44" fill="#ffffbe"/>
<rect x="207.46" y="522.82" width="12.26" height="6.44" fill="#fcfeba"/>
<rect x="219.01" y="522.82" width="12.26" height="6.44" fill="#f5fbaf"/>
<rect x="230.57" y="522.82" width="12.26" height="6.44" fill="#eaf79e"/>
<rect x="242.13" y="522.82" width="12.26" height="6.44" fill="#c8e99e"/>
<rect x="253.69" y="522.82" width="12.26" height="6.44" fill="#74c7a5"/>
<rect x="265.24" y="522.82" width="11.56" height="6.44" fill="#4199b6"/>
<rect x="34.1" y="528.56" width="35.37" height="6.44" fill="#fffcba"/>
<rect x="68.77" y="528.56" width="23.81" height="6.44" fill="#fffcba"/>
<rect x="91.89" y="528.56" width="12.26" height="6.44" fill="#fffbb8"/>
<rect x="103.44" y="528.56" width="12.26" height="6.44" fill="#fffbb8"/>
<rect x="115" y="528.56" width="23.81" height="6.44" fill="#fffab6"/>
<rect x="138.11" y="528.56" width="23.81" height="6.44" fill="#fff8b4"/>
<rect x="161.23" y="528.56" width="12.26" height="6.44" fill="#fffab6"/>
<rect x="172.79" y="528.56" width="12.26" height="6.44" fill="#fffbb8"/>
<rect x="184.34" y="528.56" width="12.26" height="6.44" fill="#ffffbe"/>
<rect x="195.9" y="528.56" width="12.26" height="6.44" fill="#fcfeba"/>
<rect x="207.46" y="528.56" width="12.26" height="6.44" fill="#f5fbaf"/>
<rect x="219.01" y="528.56" width="12.26" height="6.44" fill="#eaf79e"/>
<rect x="230.57" y="528.56" width="12.26" height="6.44" fill="#c8e99e"/>
<rect x="242.13" y="528.56" width="12.26" height="6.44" fill="#74c7a5"/>
<rect x="253.69" y="528.56" width="12.26" height="6.44" fill="#4199b6"/>
<rect x="265.24" y="528.56" width="11.56" height="6.44" fill="#4175b4"/>
<rect x="34.1" y="534.31" width="23.81" height="5.74" fill="#fffcba"/>
<rect x="57.21" y="534.31" width="23.81" height="5.74" fill="#fffcba"/>
<rect x="80.33" y="534.31" width="12.26" height="5.74" fill="#fffbb8"/>
<rect x="91.89" y="534.31" width="12.26" height="5.74" fill="#fffbb8"/>
<rect x="103.44" y="534.31" width="23.81" height="5.74" fill="#fffab6"/>
<rect x="126.56" y="534.31" width="23.81" height="5.74" fill="#fff8b4"/>
<rect x="149.67" y="534.31" width="12.26" height="5.74" fill="#fffab6"/>
<rect x="161.23" y="534.31" width="12.26" height="5.74" fill="#fffbb8"/>
<rect x="172.79" y="534.31" width="12.26" height="5.74" fill="#ffffbe"/>
<rect x="184.34" y="534.31" width="12.26" height="5.74" fill="#fcfeba"/>
<rect x="195.9" y="534.31" width="12.26" height="5.74" fill="#f5fbaf"/>
<rect x="207.46" y="534.31" width="12.26" height="5.74" fill="#eaf79e"/>
<rect x="219.01" y="534.31" width="12.26" height="5.74" fill="#c8e99e"/>
<rect x="230.57" y="534.31" width="12.26" height="5.74" fill="#74c7a5"/>
<rect x="242.13" y="534.31" width="12.26" height="5.74" fill="#4199b6"/>
<rect x="253.69" y="534.31" width="12.26" height="5.74" fill="#4175b4"/>
<rect x="265.24" y="534.31" width="11.56" height="5.74" fill="#5e4fa2"/>
</g>
<linearGradient id="g3" x1="0" y1="0" x2="0" y2="1"><stop offset="0%" stop-color="#5e4fa2"/><stop offset="2.08%" stop-color="#5b53a4"/><stop offset="4.17%" stop-color="#555aa7"/><stop offset="6.25%" stop-color="#5061aa"/><stop offset="8.33%" stop-color="#4b68ae"/><stop offset="10.42%" stop-color="#466eb1"/><stop offset="12.5%" stop-color="#4175b4"/><stop offset="14.58%" stop-color="#3d79b6"/><stop offset="16.67%" stop-color="#3682ba"/><stop offset="18.75%" stop-color="#3387bc"/><stop offset="20.83%" stop-color="#378ebb"/><stop offset="22.92%" stop-color="#3d95b8"/><stop offset="25%" stop-color="#439bb5"/><stop offset="27.08%" stop-color="#47a0b3"/><stop offset="29.17%" stop-color="#4ea7b0"/><stop offset="31.25%" stop-color="#54aead"/><stop offset="33.33%" stop-color="#5ab4ab"/><stop offset="35.42%" stop-color="#60bba8"/><stop offset="37.5%" stop-color="#66c2a5"/><stop offset="39.58%" stop-color="#6ec5a5"/><stop offset="41.67%" stop-color="#74c7a5"/><stop offset="43.75%" stop-color="#7ccaa5"/><stop offset="45.83%" stop-color="#84cea5"/><stop offset="47.92%" stop-color="#8cd1a4"/><stop offset="50%" stop-color="#94d4a4"/><stop offset="52.08%" stop-color="#9cd7a4"/><stop offset="54.17%" stop-color="#a2d9a4"/><stop offset="56.25%" stop-color="#aadca4"/><stop offset="58.33%" stop-color="#b1dfa3"/><stop offset="60.42%" stop-color="#b8e2a1"/><stop offset="62.5%" stop-color="#bfe5a0"/><stop offset="64.58%" stop-color="#c6e89f"/><stop offset="66.67%" stop-color="#cdeb9d"/><stop offset="68.75%" stop-color="#d1ed9c"/><stop offset="70.83%" stop-color="#d8ef9b"/><stop offset="72.92%" stop-color="#dff299"/><stop offset="75%" stop-color="#e6f598"/><stop offset="77.08%" stop-color="#e9f69d"/><stop offset="79.17%" stop-color="#ecf7a1"/><stop offset="81.25%" stop-color="#eef8a4"/><stop offset="83.33%" stop-color="#f2faaa"/><stop offset="85.42%" stop-color="#f4faad"/><stop offset="87.5%" stop-color="#f7fcb2"/><stop offset="89.58%" stop-color="#fafdb7"/><stop offset="91.67%" stop-color="#fdfebb"/><stop offset="93.75%" stop-color="#ffffbe"/><stop offset="95.83%" stop-color="#fffcba"/><stop offset="97.92%" stop-color="#fff8b4"/><stop offset="100%" stop-color="#fff5ae"/></linearGradient>
<rect x="292.05" y="293.05" width="12.55" height="247" fill="url(#g3)"/>
<text x="309.9" y="307.56" class="t">0.012</text>
<text x="309.9" y="344.41" class="t">0.010</text>
<text x="309.9" y="381.26" class="t">0.008</text>
<text x="309.9" y="418.12" class="t">0.006</text>
<text x="309.9" y="454.97" class="t">0.004</text>
<text x="309.9" y="491.82" class="t">0.002</text>
<text x="309.9" y="528.67" class="t">0.000</text>
<path d="M304.6 303.46h2.9M304.6 340.31h2.9M304.6 377.16h2.9M304.6 414.02h2.9M304.6 450.87h2.9M304.6 487.72h2.9M304.6 524.57h2.9" class="k"/>
<text transform="translate(26.6,310.21) rotate(-90)" class="t m">20</text>
<text transform="translate(26.6,338.93) rotate(-90)" class="t m">25</text>
<text transform="translate(26.6,367.65) rotate(-90)" class="t m">30</text>
<text transform="translate(26.6,396.37) rotate(-90)" class="t m">35</text>
<text transform="translate(26.6,425.09) rotate(-90)" class="t m">40</text>
<text transform="translate(26.6,453.82) rotate(-90)" class="t m">45</text>
<text transform="translate(26.6,482.54) rotate(-90)" class="t m">50</text>
<text transform="translate(26.6,511.26) rotate(-90)" class="t m">55</text>
<text transform="translate(26.6,539.98) rotate(-90)" class="t m">60</text>
<path d="M34.1 295.92h-3.2M34.1 301.67h-3.2M34.1 307.41h-3.2M34.1 313.15h-3.2M34.1 318.9h-3.2M34.1 324.64h-3.2M34.1 330.39h-3.2M34.1 336.13h-3.2M34.1 341.88h-3.2M34.1 347.62h-3.2M34.1 353.36h-3.2M34.1 359.11h-3.2M34.1 364.85h-3.2M34.1 370.6h-3.2M34.1 376.34h-3.2M34.1 382.08h-3.2M34.1 387.83h-3.2M34.1 393.57h-3.2M34.1 399.32h-3.2M34.1 405.06h-3.2M34.1 410.81h-3.2M34.1 416.55h-3.2M34.1 422.29h-3.2M34.1 428.04h-3.2M34.1 433.78h-3.2M34.1 439.53h-3.2M34.1 445.27h-3.2M34.1 451.02h-3.2M34.1 456.76h-3.2M34.1 462.5h-3.2M34.1 468.25h-3.2M34.1 473.99h-3.2M34.1 479.74h-3.2M34.1 485.48h-3.2M34.1 491.22h-3.2M34.1 496.97h-3.2M34.1 502.71h-3.2M34.1 508.46h-3.2M34.1 514.2h-3.2M34.1 519.95h-3.2M34.1 525.69h-3.2M34.1 531.43h-3.2M34.1 537.18h-3.2" class="k"/>
<text x="39.88" y="554.75" class="t m">0</text>
<text x="62.99" y="554.75" class="t m">2</text>
<text x="86.11" y="554.75" class="t m">4</text>
<text x="109.22" y="554.75" class="t m">6</text>
<text x="132.34" y="554.75" class="t m">8</text>
<text x="155.45" y="554.75" class="t m">10</text>
<text x="178.56" y="554.75" class="t m">12</text>
<text x="201.68" y="554.75" class="t m">14</text>
<text x="224.79" y="554.75" class="t m">16</text>
<text x="247.91" y="554.75" class="t m">18</text>
<text x="271.02" y="554.75" class="t m">20</text>
<path d="M39.88 540.05v3.2M62.99 540.05v3.2M86.11 540.05v3.2M109.22 540.05v3.2M132.34 540.05v3.2M155.45 540.05v3.2M178.56 540.05v3.2M201.68 540.05v3.2M224.79 540.05v3.2M247.91 540.05v3.2M271.02 540.05v3.2" class="k"/>
<text x="155.25" y="287.65" class="ti m">male smoker - female smoker</text>
<text transform="translate(10.4,416.75) rotate(-90)" class="la m">age <tspan class="i">a</tspan><tspan class="sub" dy="2.6">0</tspan></text>
<text x="155.45" y="569.35" class="la m i">k</text>
<g>
<rect x="374.95" y="293.05" width="242.45" height="247" fill="#fffebe"/>
<rect x="374.95" y="293.05" width="116.15" height="6.44" fill="#fffebe"/>
<rect x="490.4" y="293.05" width="46.88" height="6.44" fill="#fffebe"/>
<rect x="536.58" y="293.05" width="35.34" height="6.44" fill="#fffdbc"/>
<rect x="571.22" y="293.05" width="35.34" height="6.44" fill="#fffdbc"/>
<rect x="605.85" y="293.05" width="11.55" height="6.44" fill="#fffcba"/>
<rect x="374.95" y="298.79" width="104.61" height="6.44" fill="#fffebe"/>
<rect x="478.86" y="298.79" width="46.88" height="6.44" fill="#fffebe"/>
<rect x="525.04" y="298.79" width="35.34" height="6.44" fill="#fffdbc"/>
<rect x="559.67" y="298.79" width="35.34" height="6.44" fill="#fffdbc"/>
<rect x="594.31" y="298.79" width="23.09" height="6.44" fill="#fffcba"/>
<rect x="374.95" y="304.54" width="93.06" height="6.44" fill="#fffebe"/>
<rect x="467.31" y="304.54" width="46.88" height="6.44" fill="#fffebe"/>
<rect x="513.49" y="304.54" width="35.34" height="6.44" fill="#fffdbc"/>
<rect x="548.13" y="304.54" width="35.34" height="6.44" fill="#fffdbc"/>
<rect x="582.76" y="304.54" width="23.79" height="6.44" fill="#fffcba"/>
<rect x="605.85" y="304.54" width="11.55" height="6.44" fill="#fffcba"/>
<rect x="374.95" y="310.28" width="81.52" height="6.44" fill="#fffebe"/>
<rect x="455.77" y="310.28" width="46.88" height="6.44" fill="#fffebe"/>
<rect x="501.95" y="310.28" width="35.34" height="6.44" fill="#fffdbc"/>
<rect x="536.58" y="310.28" width="23.79" height="6.44" fill="#fffdbc"/>
<rect x="559.67" y="310.28" width="35.34" height="6.44" fill="#fffcba"/>
<rect x="594.31" y="310.28" width="23.09" height="6.44" fill="#fffcba"/>
<rect x="374.95" y="316.03" width="69.97" height="6.44" fill="#fffebe"/>
<rect x="444.22" y="316.03" width="46.88" height="6.44" fill="#fffebe"/>
<rect x="490.4" y="316.03" width="35.34" height="6.44" fill="#fffdbc"/>
<rect x="525.04" y="316.03" width="23.79" height="6.44" fill="#fffdbc"/>
<rect x="548.13" y="316.03" width="35.34" height="6.44" fill="#fffcba"/>
<rect x="582.76" y="316.03" width="23.79" height="6.44" fill="#fffcba"/>
<rect x="605.85" y="316.03" width="11.55" height="6.44" fill="#fffbb8"/>
<rect x="374.95" y="321.77" width="58.43" height="6.44" fill="#fffebe"/>
<rect x="432.68" y="321.77" width="46.88" height="6.44" fill="#fffebe"/>
<rect x="478.86" y="321.77" width="35.34" height="6.44" fill="#fffdbc"/>
<rect x="513.49" y="321.77" width="23.79" height="6.44" fill="#fffdbc"/>
<rect x="536.58" y="321.77" width="35.34" height="6.44" fill="#fffcba"/>
<rect x="571.22" y="321.77" width="23.79" height="6.44" fill="#fffcba"/>
<rect x="594.31" y="321.77" width="23.09" height="6.44" fill="#fffbb8"/>
<rect x="374.95" y="327.52" width="46.88" height="6.44" fill="#fffebe"/>
<rect x="421.13" y="327.52" width="46.88" height="6.44" fill="#fffebe"/>
<rect x="467.31" y="327.52" width="23.79" height="6.44" fill="#fffdbc"/>
<rect x="490.4" y="327.52" width="35.34" height="6.44" fill="#fffdbc"/>
<rect x="525.04" y="327.52" width="35.34" height="6.44" fill="#fffcba"/>
<rect x="559.67" y="327.52" width="23.79" height="6.44" fill="#fffcba"/>
<rect x="582.76" y="327.52" width="23.79" height="6.44" fill="#fffbb8"/>
<rect x="605.85" y="327.52" width="11.55" height="6.44" fill="#fffbb8"/>
<rect x="374.95" y="333.26" width="35.34" height="6.44" fill="#fffebe"/>
<rect x="409.59" y="333.26" width="46.88" height="6.44" fill="#fffebe"/>
<rect x="455.77" y="333.26" width="23.79" height="6.44" fill="#fffdbc"/>
<rect x="478.86" y="333.26" width="35.34" height="6.44" fill="#fffdbc"/>
<rect x="513.49" y="333.26" width="35.34" height="6.44" fill="#fffcba"/>
<rect x="548.13" y="333.26" width="23.79" height="6.44" fill="#fffcba"/>
<rect x="571.22" y="333.26" width="23.79" height="6.44" fill="#fffbb8"/>
<rect x="594.31" y="333.26" width="23.09" height="6.44" fill="#fffbb8"/>
<rect x="374.95" y="339" width="23.79" height="6.44" fill="#fffebe"/>
<rect x="398.04" y="339" width="46.88" height="6.44" fill="#fffebe"/>
<rect x="444.22" y="339" width="23.79" height="6.44" fill="#fffdbc"/>
<rect x="467.31" y="339" width="35.34" height="6.44" fill="#fffdbc"/>
<rect x="501.95" y="339" width="35.34" height="6.44" fill="#fffcba"/>
<rect x="536.58" y="339" width="23.79" height="6.44" fill="#fffcba"/>
<rect x="559.67" y="339" width="23.79" height="6.44" fill="#fffbb8"/>
<rect x="582.76" y="339" width="23.79" height="6.44" fill="#fffbb8"/>
<rect x="605.85" y="339" width="11.55" height="6.44" fill="#fffab6"/>
<rect x="374.95" y="344.75" width="12.25" height="6.44" fill="#fffebe"/>
<rect x="386.5" y="344.75" width="46.88" height="6.44" fill="#fffebe"/>
<rect x="432.68" y="344.75" width="23.79" height="6.44" fill="#fffdbc"/>
<rect x="455.77" y="344.75" width="35.34" height="6.44" fill="#fffdbc"/>
<rect x="490.4" y="344.75" width="35.34" height="6.44" fill="#fffcba"/>
<rect x="525.04" y="344.75" width="23.79" height="6.44" fill="#fffcba"/>
<rect x="548.13" y="344.75" width="23.79" height="6.44" fill="#fffbb8"/>
<rect x="571.22" y="344.75" width="23.79" height="6.44" fill="#fffbb8"/>
<rect x="594.31" y="344.75" width="12.25" height="6.44" fill="#fffab6"/>
<rect x="605.85" y="344.75" width="11.55" height="6.44" fill="#fffab6"/>
<rect x="374.95" y="350.49" width="12.25" height="6.44" fill="#fffebe"/>
<rect x="386.5" y="350.49" width="35.34" height="6.44" fill="#fffebe"/>
<rect x="421.13" y="350.49" width="35.34" height="6.44" fill="#fffdbc"/>
<rect x="455.77" y="350.49" width="23.79" height="6.44" fill="#fffdbc"/>
<rect x="478.86" y="350.49" width="35.34" height="6.44" fill="#fffcba"/>
<rect x="513.49" y="350.49" width="23.79" height="6.44" fill="#fffcba"/>
<rect x="536.58" y="350.49" width="23.79" height="6.44" fill="#fffbb8"/>
<rect x="559.67" y="350.49" width="23.79" height="6.44" fill="#fffbb8"/>
<rect x="582.76" y="350.49" width="12.25" height="6.44" fill="#fffab6"/>
<rect x="594.31" y="350.49" width="12.25" height="6.44" fill="#fffab6"/>
<rect x="605.85" y="350.49" width="11.55" height="6.44" fill="#fff8b4"/>
<rect x="374.95" y="356.24" width="35.34" height="6.44" fill="#fffebe"/>
<rect x="409.59" y="356.24" width="35.34" height="6.44" fill="#fffdbc"/>
<rect x="444.22" y="356.24" width="23.79" height="6.44" fill="#fffdbc"/>
<rect x="467.31" y="356.24" width="35.34" height="6.44" fill="#fffcba"/>
<rect x="501.95" y="356.24" width="23.79" height="6.44" fill="#fffcba"/>
<rect x="525.04" y="356.24" width="23.79" height="6.44" fill="#fffbb8"/>
<rect x="548.13" y="356.24" width="23.79" height="6.44" fill="#fffbb8"/>
<rect x="571.22" y="356.24" width="12.25" height="6.44" fill="#fffab6"/>
<rect x="582.76" y="356.24" width="12.25" height="6.44" fill="#fffab6"/>
<rect x="594.31" y="356.24" width="12.25" height="6.44" fill="#fff8b4"/>
<rect x="605.85" y="356.24" width="11.55" height="6.44" fill="#fff8b4"/>
<rect x="374.95" y="361.98" width="23.79" height="6.44" fill="#fffebe"/>
<rect x="398.04" y="361.98" width="35.34" height="6.44" fill="#fffdbc"/>
<rect x="432.68" y="361.98" width="23.79" height="6.44" fill="#fffdbc"/>
<rect x="455.77" y="361.98" width="35.34" height="6.44" fill="#fffcba"/>
<rect x="490.4" y="361.98" width="23.79" height="6.44" fill="#fffcba"/>
<rect x="513.49" y="361.98" width="23.79" height="6.44" fill="#fffbb8"/>
<rect x="536.58" y="361.98" width="12.25" height="6.44" fill="#fffbb8"/>
<rect x="548.13" y="361.98" width="23.79" height="6.44" fill="#fffab6"/>
<rect x="571.22" y="361.98" width="12.25" height="6.44" fill="#fffab6"/>
<rect x="582.76" y="361.98" width="12.25" height="6.44" fill="#fff8b4"/>
<rect x="594.31" y="361.98" width="12.25" height="6.44" fill="#fff8b4"/>
<rect x="605.85" y="361.98" width="11.55" height="6.44" fill="#fff7b2"/>
<rect x="374.95" y="367.72" width="12.25" height="6.44" fill="#fffebe"/>
<rect x="386.5" y="367.72" width="35.34" height="6.44" fill="#fffdbc"/>
<rect x="421.13" y="367.72" width="23.79" height="6.44" fill="#fffdbc"/>
<rect x="444.22" y="367.72" width="35.34" height="6.44" fill="#fffcba"/>
<rect x="478.86" y="367.72" width="23.79" height="6.44" fill="#fffcba"/>
<rect x="501.95" y="367.72" width="23.79" height="6.44" fill="#fffbb8"/>
<rect x="525.04" y="367.72" width="12.25" height="6.44" fill="#fffbb8"/>
<rect x="536.58" y="367.72" width="12.25" height="6.44" fill="#fffab6"/>
<rect x="548.13" y="367.72" width="23.79" height="6.44" fill="#fffab6"/>
<rect x="571.22" y="367.72" width="12.25" height="6.44" fill="#fff8b4"/>
<rect x="582.76" y="367.72" width="12.25" height="6.44" fill="#fff8b4"/>
<rect x="594.31" y="367.72" width="12.25" height="6.44" fill="#fff7b2"/>
<rect x="605.85" y="367.72" width="11.55" height="6.44" fill="#fff7b2"/>
<rect x="374.95" y="373.47" width="12.25" height="6.44" fill="#fffebe"/>
<rect x="386.5" y="373.47" width="23.79" height="6.44" fill="#fffdbc"/>
<rect x="409.59" y="373.47" width="23.79" height="6.44" fill="#fffdbc"/>
<rect x="432.68" y="373.47" width="35.34" height="6.44" fill="#fffcba"/>
<rect x="467.31" y="373.47" width="23.79" height="6.44" fill="#fffcba"/>
<rect x="490.4" y="373.47" width="23.79" height="6.44" fill="#fffbb8"/>
<rect x="513.49" y="373.47" width="12.25" height="6.44" fill="#fffbb8"/>
<rect x="525.04" y="373.47" width="12.25" height="6.44" fill="#fffab6"/>
<rect x="536.58" y="373.47" width="12.25" height="6.44" fill="#fffab6"/>
<rect x="548.13" y="373.47" width="12.25" height="6.44" fill="#fff8b4"/>
<rect x="559.67" y="373.47" width="23.79" height="6.44" fill="#fff8b4"/>
<rect x="582.76" y="373.47" width="12.25" height="6.44" fill="#fff7b2"/>
<rect x="594.31" y="373.47" width="12.25" height="6.44" fill="#fff6b0"/>
<rect x="605.85" y="373.47" width="11.55" height="6.44" fill="#fff6b0"/>
<rect x="374.95" y="379.21" width="23.79" height="6.44" fill="#fffdbc"/>
<rect x="398.04" y="379.21" width="23.79" height="6.44" fill="#fffdbc"/>
<rect x="421.13" y="379.21" width="35.34" height="6.44" fill="#fffcba"/>
<rect x="455.77" y="379.21" width="23.79" height="6.44" fill="#fffcba"/>
<rect x="478.86" y="379.21" width="23.79" height="6.44" fill="#fffbb8"/>
<rect x="501.95" y="379.21" width="12.25" height="6.44" fill="#fffbb8"/>
<rect x="513.49" y="379.21" width="12.25" height="6.44" fill="#fffab6"/>
<rect x="525.04" y="379.21" width="12.25" height="6.44" fill="#fffab6"/>
<rect x="536.58" y="379.21" width="12.25" height="6.44" fill="#fff8b4"/>
<rect x="548.13" y="379.21" width="12.25" height="6.44" fill="#fff8b4"/>
<rect x="559.67" y="379.21" width="12.25" height="6.44" fill="#fff7b2"/>
<rect x="571.22" y="379.21" width="12.25" height="6.44" fill="#fff7b2"/>
<rect x="582.76" y="379.21" width="12.25" height="6.44" fill="#fff6b0"/>
<rect x="594.31" y="379.21" width="12.25" height="6.44" fill="#fff6b0"/>
<rect x="605.85" y="379.21" width="11.55" height="6.44" fill="#fff5ae"/>
<rect x="374.95" y="384.96" width="12.25" height="6.44" fill="#fffdbc"/>
<rect x="386.5" y="384.96" width="23.79" height="6.44" fill="#fffdbc"/>
<rect x="409.59" y="384.96" width="35.34" height="6.44" fill="#fffcba"/>
<rect x="444.22" y="384.96" width="23.79" height="6.44" fill="#fffcba"/>
<rect x="467.31" y="384.96" width="23.79" height="6.44" fill="#fffbb8"/>
<rect x="490.4" y="384.96" width="12.25" height="6.44" fill="#fffbb8"/>
<rect x="501.95" y="384.96" width="12.25" height="6.44" fill="#fffab6"/>
<rect x="513.49" y="384.96" width="12.25" height="6.44" fill="#fffab6"/>
<rect x="525.04" y="384.96" width="12.25" height="6.44" fill="#fff8b4"/>
<rect x="536.58" y="384.96" width="12.25" height="6.44" fill="#fff8b4"/>
<rect x="548.13" y="384.96" width="12.25" height="6.44" fill="#fff7b2"/>
<rect x="559.67" y="384.96" width="12.25" height="6.44" fill="#fff7b2"/>
<rect x="571.22" y="384.96" width="12.25" height="6.44" fill="#fff6b0"/>
<rect x="582.76" y="384.96" width="12.25" height="6.44" fill="#fff6b0"/>
<rect x="594.31" y="384.96" width="12.25" height="6.44" fill="#fff5ae"/>
<rect x="605.85" y="384.96" width="11.55" height="6.44" fill="#fff5ae"/>
<rect x="374.95" y="390.7" width="35.34" height="6.44" fill="#fffdbc"/>
<rect x="409.59" y="390.7" width="23.79" height="6.44" fill="#fffcba"/>
<rect x="432.68" y="390.7" width="23.79" height="6.44" fill="#fffcba"/>
<rect x="455.77" y="390.7" width="23.79" height="6.44" fill="#fffbb8"/>
<rect x="478.86" y="390.7" width="12.25" height="6.44" fill="#fffbb8"/>
<rect x="490.4" y="390.7" width="12.25" height="6.44" fill="#fffab6"/>
<rect x="501.95" y="390.7" width="12.25" height="6.44" fill="#fffab6"/>
<rect x="513.49" y="390.7" width="12.25" height="6.44" fill="#fff8b4"/>
<rect x="525.04" y="390.7" width="12.25" height="6.44" fill="#fff8b4"/>
<rect x="536.58" y="390.7" width="12.25" height="6.44" fill="#fff7b2"/>
<rect x="548.13" y="390.7" width="12.25" height="6.44" fill="#fff7b2"/>
<rect x="559.67" y="390.7" width="12.25" height="6.44" fill="#fff6b0"/>
<rect x="571.22" y="390.7" width="12.25" height="6.44" fill="#fff6b0"/>
<rect x="582.76" y="390.7" width="12.25" height="6.44" fill="#fff5ae"/>
<rect x="594.31" y="390.7" width="12.25" height="6.44" fill="#fff5ae"/>
<rect x="605.85" y="390.7" width="11.55" height="6.44" fill="#fff3ac"/>
<rect x="374.95" y="396.45" width="23.79" height="6.44" fill="#fffdbc"/>
<rect x="398.04" y="396.45" width="23.79" height="6.44" fill="#fffcba"/>
<rect x="421.13" y="396.45" width="23.79" height="6.44" fill="#fffcba"/>
<rect x="444.22" y="396.45" width="23.79" height="6.44" fill="#fffbb8"/>
<rect x="467.31" y="396.45" width="12.25" height="6.44" fill="#fffbb8"/>
<rect x="478.86" y="396.45" width="12.25" height="6.44" fill="#fffab6"/>
<rect x="490.4" y="396.45" width="12.25" height="6.44" fill="#fffab6"/>
<rect x="501.95" y="396.45" width="12.25" height="6.44" fill="#fff8b4"/>
<rect x="513.49" y="396.45" width="12.25" height="6.44" fill="#fff8b4"/>
<rect x="525.04" y="396.45" width="12.25" height="6.44" fill="#fff7b2"/>
<rect x="536.58" y="396.45" width="12.25" height="6.44" fill="#fff7b2"/>
<rect x="548.13" y="396.45" width="12.25" height="6.44" fill="#fff6b0"/>
<rect x="559.67" y="396.45" width="12.25" height="6.44" fill="#fff6b0"/>
<rect x="571.22" y="396.45" width="12.25" height="6.44" fill="#fff5ae"/>
<rect x="582.76" y="396.45" width="12.25" height="6.44" fill="#fff3ac"/>
<rect x="594.31" y="396.45" width="12.25" height="6.44" fill="#fff3ac"/>
<rect x="605.85" y="396.45" width="11.55" height="6.44" fill="#fff2aa"/>
<rect x="374.95" y="402.19" width="12.25" height="6.44" fill="#fffdbc"/>
<rect x="386.5" y="402.19" width="23.79" height="6.44" fill="#fffcba"/>
<rect x="409.59" y="402.19" width="23.79" height="6.44" fill="#fffcba"/>
<rect x="432.68" y="402.19" width="23.79" height="6.44" fill="#fffbb8"/>
<rect x="455.77" y="402.19" width="12.25" height="6.44" fill="#fffbb8"/>
<rect x="467.31" y="402.19" width="12.25" height="6.44" fill="#fffab6"/>
<rect x="478.86" y="402.19" width="12.25" height="6.44" fill="#fffab6"/>
<rect x="490.4" y="402.19" width="12.25" height="6.44" fill="#fff8b4"/>
<rect x="501.95" y="402.19" width="12.25" height="6.44" fill="#fff8b4"/>
<rect x="513.49" y="402.19" width="12.25" height="6.44" fill="#fff7b2"/>
<rect x="525.04" y="402.19" width="12.25" height="6.44" fill="#fff7b2"/>
<rect x="536.58" y="402.19" width="12.25" height="6.44" fill="#fff6b0"/>
<rect x="548.13" y="402.19" width="12.25" height="6.44" fill="#fff6b0"/>
<rect x="559.67" y="402.19" width="12.25" height="6.44" fill="#fff5ae"/>
<rect x="571.22" y="402.19" width="12.25" height="6.44" fill="#fff3ac"/>
<rect x="582.76" y="402.19" width="12.25" height="6.44" fill="#fff2aa"/>
<rect x="594.31" y="402.19" width="12.25" height="6.44" fill="#fff2aa"/>
<rect x="605.85" y="402.19" width="11.55" height="6.44" fill="#fff1a8"/>
<rect x="374.95" y="407.93" width="23.79" height="6.44" fill="#fffcba"/>
<rect x="398.04" y="407.93" width="23.79" height="6.44" fill="#fffcba"/>
<rect x="421.13" y="407.93" width="23.79" height="6.44" fill="#fffbb8"/>
<rect x="444.22" y="407.93" width="12.25" height="6.44" fill="#fffbb8"/>
<rect x="455.77" y="407.93" width="12.25" height="6.44" fill="#fffab6"/>
<rect x="467.31" y="407.93" width="12.25" height="6.44" fill="#fffab6"/>
<rect x="478.86" y="407.93" width="12.25" height="6.44" fill="#fff8b4"/>
<rect x="490.4" y="407.93" width="12.25" height="6.44" fill="#fff8b4"/>
<rect x="501.95" y="407.93" width="12.25" height="6.44" fill="#fff7b2"/>
<rect x="513.49" y="407.93" width="12.25" height="6.44" fill="#fff7b2"/>
<rect x="525.04" y="407.93" width="12.25" height="6.44" fill="#fff6b0"/>
<rect x="536.58" y="407.93" width="12.25" height="6.44" fill="#fff6b0"/>
<rect x="548.13" y="407.93" width="12.25" height="6.44" fill="#fff5ae"/>
<rect x="559.67" y="407.93" width="12.25" height="6.44" fill="#fff3ac"/>
<rect x="571.22" y="407.93" width="12.25" height="6.44" fill="#fff2aa"/>
<rect x="582.76" y="407.93" width="12.25" height="6.44" fill="#fff2aa"/>
<rect x="594.31" y="407.93" width="12.25" height="6.44" fill="#fff1a8"/>
<rect x="605.85" y="407.93" width="11.55" height="6.44" fill="#fff0a6"/>
<rect x="374.95" y="413.68" width="12.25" height="6.44" fill="#fffcba"/>
<rect x="386.5" y="413.68" width="23.79" height="6.44" fill="#fffcba"/>
<rect x="409.59" y="413.68" width="23.79" height="6.44" fill="#fffbb8"/>
<rect x="432.68" y="413.68" width="12.25" height="6.44" fill="#fffbb8"/>
<rect x="444.22" y="413.68" width="12.25" height="6.44" fill="#fffab6"/>
<rect x="455.77" y="413.68" width="12.25" height="6.44" fill="#fffab6"/>
<rect x="467.31" y="413.68" width="12.25" height="6.44" fill="#fff8b4"/>
<rect x="478.86" y="413.68" width="12.25" height="6.44" fill="#fff8b4"/>
<rect x="490.4" y="413.68" width="12.25" height="6.44" fill="#fff7b2"/>
<rect x="501.95" y="413.68" width="12.25" height="6.44" fill="#fff7b2"/>
<rect x="513.49" y="413.68" width="12.25" height="6.44" fill="#fff6b0"/>
<rect x="525.04" y="413.68" width="12.25" height="6.44" fill="#fff5ae"/>
<rect x="536.58" y="413.68" width="12.25" height="6.44" fill="#fff5ae"/>
<rect x="548.13" y="413.68" width="12.25" height="6.44" fill="#fff3ac"/>
<rect x="559.67" y="413.68" width="12.25" height="6.44" fill="#fff2aa"/>
<rect x="571.22" y="413.68" width="12.25" height="6.44" fill="#fff1a8"/>
<rect x="582.76" y="413.68" width="12.25" height="6.44" fill="#fff1a8"/>
<rect x="594.31" y="413.68" width="12.25" height="6.44" fill="#fff0a6"/>
<rect x="605.85" y="413.68" width="11.55" height="6.44" fill="#feefa3"/>
<rect x="374.95" y="419.42" width="23.79" height="6.44" fill="#fffcba"/>
<rect x="398.04" y="419.42" width="23.79" height="6.44" fill="#fffbb8"/>
<rect x="421.13" y="419.42" width="12.25" height="6.44" fill="#fffbb8"/>
<rect x="432.68" y="419.42" width="12.25" height="6.44" fill="#fffab6"/>
<rect x="444.22" y="419.42" width="12.25" height="6.44" fill="#fffab6"/>
<rect x="455.77" y="419.42" width="12.25" height="6.44" fill="#fff8b4"/>
<rect x="467.31" y="419.42" width="12.25" height="6.44" fill="#fff8b4"/>
<rect x="478.86" y="419.42" width="12.25" height="6.44" fill="#fff7b2"/>
<rect x="490.4" y="419.42" width="12.25" height="6.44" fill="#fff7b2"/>
<rect x="501.95" y="419.42" width="12.25" height="6.44" fill="#fff6b0"/>
<rect x="513.49" y="419.42" width="12.25" height="6.44" fill="#fff5ae"/>
<rect x="525.04" y="419.42" width="12.25" height="6.44" fill="#fff5ae"/>
<rect x="536.58" y="419.42" width="12.25" height="6.44" fill="#fff3ac"/>
<rect x="548.13" y="419.42" width="12.25" height="6.44" fill="#fff2aa"/>
<rect x="559.67" y="419.42" width="12.25" height="6.44" fill="#fff1a8"/>
<rect x="571.22" y="419.42" width="12.25" height="6.44" fill="#fff0a6"/>
<rect x="582.76" y="419.42" width="12.25" height="6.44" fill="#fff0a6"/>
<rect x="594.31" y="419.42" width="12.25" height="6.44" fill="#feeda1"/>
<rect x="605.85" y="419.42" width="11.55" height="6.44" fill="#feeb9d"/>
<rect x="374.95" y="425.17" width="12.25" height="6.44" fill="#fffcba"/>
<rect x="386.5" y="425.17" width="23.79" height="6.44" fill="#fffbb8"/>
<rect x="409.59" y="425.17" width="12.25" height="6.44" fill="#fffbb8"/>
<rect x="421.13" y="425.17" width="12.25" height="6.44" fill="#fffab6"/>
<rect x="432.68" y="425.17" width="12.25" height="6.44" fill="#fffab6"/>
<rect x="444.22" y="425.17" width="12.25" height="6.44" fill="#fff8b4"/>
<rect x="455.77" y="425.17" width="12.25" height="6.44" fill="#fff8b4"/>
<rect x="467.31" y="425.17" width="12.25" height="6.44" fill="#fff7b2"/>
<rect x="478.86" y="425.17" width="12.25" height="6.44" fill="#fff7b2"/>
<rect x="490.4" y="425.17" width="12.25" height="6.44" fill="#fff6b0"/>
<rect x="501.95" y="425.17" width="12.25" height="6.44" fill="#fff5ae"/>
<rect x="513.49" y="425.17" width="12.25" height="6.44" fill="#fff5ae"/>
<rect x="525.04" y="425.17" width="12.25" height="6.44" fill="#fff3ac"/>
<rect x="536.58" y="425.17" width="12.25" height="6.44" fill="#fff2aa"/>
<rect x="548.13" y="425.17" width="12.25" height="6.44" fill="#fff1a8"/>
<rect x="559.67" y="425.17" width="12.25" height="6.44" fill="#fff0a6"/>
<rect x="571.22" y="425.17" width="12.25" height="6.44" fill="#feefa3"/>
<rect x="582.76" y="425.17" width="12.25" height="6.44" fill="#feeda1"/>
<rect x="594.31" y="425.17" width="12.25" height="6.44" fill="#feeb9d"/>
<rect x="605.85" y="425.17" width="11.55" height="6.44" fill="#fee695"/>
<rect x="374.95" y="430.91" width="23.79" height="6.44" fill="#fffbb8"/>
<rect x="398.04" y="430.91" width="12.25" height="6.44" fill="#fffbb8"/>
<rect x="409.59" y="430.91" width="12.25" height="6.44" fill="#fffab6"/>
<rect x="421.13" y="430.91" width="12.25" height="6.44" fill="#fffab6"/>
<rect x="432.68" y="430.91" width="12.25" height="6.44" fill="#fff8b4"/>
<rect x="444.22" y="430.91" width="12.25" height="6.44" fill="#fff8b4"/>
<rect x="455.77" y="430.91" width="12.25" height="6.44" fill="#fff7b2"/>
<rect x="467.31" y="430.91" width="12.25" height="6.44" fill="#fff7b2"/>
<rect x="478.86" y="430.91" width="12.25" height="6.44" fill="#fff6b0"/>
<rect x="490.4" y="430.91" width="12.25" height="6.44" fill="#fff5ae"/>
<rect x="501.95" y="430.91" width="12.25" height="6.44" fill="#fff5ae"/>
<rect x="513.49" y="430.91" width="12.25" height="6.44" fill="#fff3ac"/>
<rect x="525.04" y="430.91" width="12.25" height="6.44" fill="#fff2aa"/>
<rect x="536.58" y="430.91" width="12.25" height="6.44" fill="#fff1a8"/>
<rect x="548.13" y="430.91" width="12.25" height="6.44" fill="#fff0a6"/>
<rect x="559.67" y="430.91" width="12.25" height="6.44" fill="#feefa3"/>
<rect x="571.22" y="430.91" width="12.25" height="6.44" fill="#feeda1"/>
<rect x="582.76" y="430.91" width="12.25" height="6.44" fill="#feea9b"/>
<rect x="594.31" y="430.91" width="12.25" height="6.44" fill="#fee695"/>
<rect x="605.85" y="430.91" width="11.55" height="6.44" fill="#fee491"/>
<rect x="374.95" y="436.65" width="12.25" height="6.44" fill="#fffbb8"/>
<rect x="386.5" y="436.65" width="23.79" height="6.44" fill="#fffbb8"/>
<rect x="409.59" y="436.65" width="12.25" height="6.44" fill="#fffab6"/>
<rect x="421.13" y="436.65" width="12.25" height="6.44" fill="#fff8b4"/>
<rect x="432.68" y="436.65" width="12.25" height="6.44" fill="#fff8b4"/>
<rect x="444.22" y="436.65" width="12.25" height="6.44" fill="#fff7b2"/>
<rect x="455.77" y="436.65" width="12.25" height="6.44" fill="#fff7b2"/>
<rect x="467.31" y="436.65" width="12.25" height="6.44" fill="#fff6b0"/>
<rect x="478.86" y="436.65" width="12.25" height="6.44" fill="#fff5ae"/>
<rect x="490.4" y="436.65" width="12.25" height="6.44" fill="#fff5ae"/>
<rect x="501.95" y="436.65" width="12.25" height="6.44" fill="#fff3ac"/>
<rect x="513.49" y="436.65" width="12.25" height="6.44" fill="#fff2aa"/>
<rect x="525.04" y="436.65" width="12.25" height="6.44" fill="#fff1a8"/>
<rect x="536.58" y="436.65" width="12.25" height="6.44" fill="#fff0a6"/>
<rect x="548.13" y="436.65" width="12.25" height="6.44" fill="#feefa3"/>
<rect x="559.67" y="436.65" width="12.25" height="6.44" fill="#feeda1"/>
<rect x="571.22" y="436.65" width="12.25" height="6.44" fill="#feea9b"/>
<rect x="582.76" y="436.65" width="12.25" height="6.44" fill="#fee695"/>
<rect x="594.31" y="436.65" width="12.25" height="6.44" fill="#fee28f"/>
<rect x="605.85" y="436.65" width="11.55" height="6.44" fill="#feda86"/>
<rect x="374.95" y="442.4" width="23.79" height="6.44" fill="#fffbb8"/>
<rect x="398.04" y="442.4" width="12.25" height="6.44" fill="#fffab6"/>
<rect x="409.59" y="442.4" width="12.25" height="6.44" fill="#fff8b4"/>
<rect x="421.13" y="442.4" width="12.25" height="6.44" fill="#fff8b4"/>
<rect x="432.68" y="442.4" width="12.25" height="6.44" fill="#fff7b2"/>
<rect x="444.22" y="442.4" width="12.25" height="6.44" fill="#fff7b2"/>
<rect x="455.77" y="442.4" width="12.25" height="6.44" fill="#fff6b0"/>
<rect x="467.31" y="442.4" width="12.25" height="6.44" fill="#fff5ae"/>
<rect x="478.86" y="442.4" width="12.25" height="6.44" fill="#fff5ae"/>
<rect x="490.4" y="442.4" width="12.25" height="6.44" fill="#fff3ac"/>
<rect x="501.95" y="442.4" width="12.25" height="6.44" fill="#fff2aa"/>
<rect x="513.49" y="442.4" width="12.25" height="6.44" fill="#fff1a8"/>
<rect x="525.04" y="442.4" width="12.25" height="6.44" fill="#fff0a6"/>
<rect x="536.58" y="442.4" width="12.25" height="6.44" fill="#feefa3"/>
<rect x="548.13" y="442.4" width="12.25" height="6.44" fill="#feec9f"/>
<rect x="559.67" y="442.4" width="12.25" height="6.44" fill="#fee999"/>
<rect x="571.22" y="442.4" width="12.25" height="6.44" fill="#fee593"/>
<rect x="582.76" y="442.4" width="12.25" height="6.44" fill="#fee28f"/>
<rect x="594.31" y="442.4" width="12.25" height="6.44" fill="#feda86"/>
<rect x="605.85" y="442.4" width="11.55" height="6.44" fill="#fed481"/>
<rect x="374.95" y="448.14" width="12.25" height="6.44" fill="#fffbb8"/>
<rect x="386.5" y="448.14" width="12.25" height="6.44" fill="#fffab6"/>
<rect x="398.04" y="448.14" width="12.25" height="6.44" fill="#fffab6"/>
<rect x="409.59" y="448.14" width="12.25" height="6.44" fill="#fff8b4"/>
<rect x="421.13" y="448.14" width="12.25" height="6.44" fill="#fff7b2"/>
<rect x="432.68" y="448.14" width="12.25" height="6.44" fill="#fff7b2"/>
<rect x="444.22" y="448.14" width="12.25" height="6.44" fill="#fff6b0"/>
<rect x="455.77" y="448.14" width="12.25" height="6.44" fill="#fff5ae"/>
<rect x="467.31" y="448.14" width="12.25" height="6.44" fill="#fff5ae"/>
<rect x="478.86" y="448.14" width="12.25" height="6.44" fill="#fff3ac"/>
<rect x="490.4" y="448.14" width="12.25" height="6.44" fill="#fff2aa"/>
<rect x="501.95" y="448.14" width="12.25" height="6.44" fill="#fff1a8"/>
<rect x="513.49" y="448.14" width="12.25" height="6.44" fill="#fff0a6"/>
<rect x="525.04" y="448.14" width="12.25" height="6.44" fill="#feefa3"/>
<rect x="536.58" y="448.14" width="12.25" height="6.44" fill="#feec9f"/>
<rect x="548.13" y="448.14" width="12.25" height="6.44" fill="#fee999"/>
<rect x="559.67" y="448.14" width="12.25" height="6.44" fill="#fee593"/>
<rect x="571.22" y="448.14" width="12.25" height="6.44" fill="#fee18d"/>
<rect x="582.76" y="448.14" width="12.25" height="6.44" fill="#feda86"/>
<rect x="594.31" y="448.14" width="12.25" height="6.44" fill="#fed27f"/>
<rect x="605.85" y="448.14" width="11.55" height="6.44" fill="#feca79"/>
<rect x="374.95" y="453.89" width="12.25" height="6.44" fill="#fffab6"/>
<rect x="386.5" y="453.89" width="12.25" height="6.44" fill="#fffab6"/>
<rect x="398.04" y="453.89" width="12.25" height="6.44" fill="#fff8b4"/>
<rect x="409.59" y="453.89" width="12.25" height="6.44" fill="#fff7b2"/>
<rect x="421.13" y="453.89" width="12.25" height="6.44" fill="#fff7b2"/>
<rect x="432.68" y="453.89" width="12.25" height="6.44" fill="#fff6b0"/>
<rect x="444.22" y="453.89" width="12.25" height="6.44" fill="#fff5ae"/>
<rect x="455.77" y="453.89" width="12.25" height="6.44" fill="#fff5ae"/>
<rect x="467.31" y="453.89" width="12.25" height="6.44" fill="#fff3ac"/>
<rect x="478.86" y="453.89" width="12.25" height="6.44" fill="#fff2aa"/>
<rect x="490.4" y="453.89" width="12.25" height="6.44" fill="#fff1a8"/>
<rect x="501.95" y="453.89" width="12.25" height="6.44" fill="#fff0a6"/>
<rect x="513.49" y="453.89" width="12.25" height="6.44" fill="#feefa3"/>
<rect x="525.04" y="453.89" width="12.25" height="6.44" fill="#feec9f"/>
<rect x="536.58" y="453.89" width="12.25" height="6.44" fill="#fee999"/>
<rect x="548.13" y="453.89" width="12.25" height="6.44" fill="#fee593"/>
<rect x="559.67" y="453.89" width="12.25" height="6.44" fill="#fee18d"/>
<rect x="571.22" y="453.89" width="12.25" height="6.44" fill="#fed884"/>
<rect x="582.76" y="453.89" width="12.25" height="6.44" fill="#fed27f"/>
<rect x="594.31" y="453.89" width="12.25" height="6.44" fill="#fec877"/>
<rect x="605.85" y="453.89" width="11.55" height="6.44" fill="#fdbf6f"/>
<rect x="374.95" y="459.63" width="12.25" height="6.44" fill="#fffab6"/>
<rect x="386.5" y="459.63" width="12.25" height="6.44" fill="#fff8b4"/>
<rect x="398.04" y="459.63" width="12.25" height="6.44" fill="#fff8b4"/>
<rect x="409.59" y="459.63" width="12.25" height="6.44" fill="#fff7b2"/>
<rect x="421.13" y="459.63" width="12.25" height="6.44" fill="#fff6b0"/>
<rect x="432.68" y="459.63" width="12.25" height="6.44" fill="#fff5ae"/>
<rect x="444.22" y="459.63" width="12.25" height="6.44" fill="#fff5ae"/>
<rect x="455.77" y="459.63" width="12.25" height="6.44" fill="#fff3ac"/>
<rect x="467.31" y="459.63" width="12.25" height="6.44" fill="#fff2aa"/>
<rect x="478.86" y="459.63" width="12.25" height="6.44" fill="#fff1a8"/>
<rect x="490.4" y="459.63" width="12.25" height="6.44" fill="#fff0a6"/>
<rect x="501.95" y="459.63" width="12.25" height="6.44" fill="#feefa3"/>
<rect x="513.49" y="459.63" width="12.25" height="6.44" fill="#feec9f"/>
<rect x="525.04" y="459.63" width="12.25" height="6.44" fill="#fee999"/>
<rect x="536.58" y="459.63" width="12.25" height="6.44" fill="#fee593"/>
<rect x="548.13" y="459.63" width="12.25" height="6.44" fill="#fee08b"/>
<rect x="559.67" y="459.63" width="12.25" height="6.44" fill="#fed884"/>
<rect x="571.22" y="459.63" width="12.25" height="6.44" fill="#fed07e"/>
<rect x="582.76" y="459.63" width="12.25" height="6.44" fill="#fec877"/>
<rect x="594.31" y="459.63" width="12.25" height="6.44" fill="#fdbf6f"/>
<rect x="605.85" y="459.63" width="11.55" height="6.44" fill="#fdb365"/>
<rect x="374.95" y="465.38" width="12.25" height="6.44" fill="#fff8b4"/>
<rect x="386.5" y="465.38" width="12.25" height="6.44" fill="#fff8b4"/>
<rect x="398.04" y="465.38" width="12.25" height="6.44" fill="#fff7b2"/>
<rect x="409.59" y="465.38" width="12.25" height="6.44" fill="#fff6b0"/>
<rect x="421.13" y="465.38" width="12.25" height="6.44" fill="#fff6b0"/>
<rect x="432.68" y="465.38" width="12.25" height="6.44" fill="#fff5ae"/>
<rect x="444.22" y="465.38" width="12.25" height="6.44" fill="#fff3ac"/>
<rect x="455.77" y="465.38" width="12.25" height="6.44" fill="#fff2aa"/>
<rect x="467.31" y="465.38" width="12.25" height="6.44" fill="#fff1a8"/>
<rect x="478.86" y="465.38" width="12.25" height="6.44" fill="#fff0a6"/>
<rect x="490.4" y="465.38" width="12.25" height="6.44" fill="#feefa3"/>
<rect x="501.95" y="465.38" width="12.25" height="6.44" fill="#feec9f"/>
<rect x="513.49" y="465.38" width="12.25" height="6.44" fill="#fee797"/>
<rect x="525.04" y="465.38" width="12.25" height="6.44" fill="#fee593"/>
<rect x="536.58" y="465.38" width="12.25" height="6.44" fill="#fee08b"/>
<rect x="548.13" y="465.38" width="12.25" height="6.44" fill="#fed884"/>
<rect x="559.67" y="465.38" width="12.25" height="6.44" fill="#fed07e"/>
<rect x="571.22" y="465.38" width="12.25" height="6.44" fill="#fdc776"/>
<rect x="582.76" y="465.38" width="12.25" height="6.44" fill="#fdbd6d"/>
<rect x="594.31" y="465.38" width="12.25" height="6.44" fill="#fdb365"/>
<rect x="605.85" y="465.38" width="11.55" height="6.44" fill="#fca85e"/>
<rect x="374.95" y="471.12" width="12.25" height="6.44" fill="#fff8b4"/>
<rect x="386.5" y="471.12" width="12.25" height="6.44" fill="#fff7b2"/>
<rect x="398.04" y="471.12" width="12.25" height="6.44" fill="#fff6b0"/>
<rect x="409.59" y="471.12" width="12.25" height="6.44" fill="#fff6b0"/>
<rect x="421.13" y="471.12" width="12.25" height="6.44" fill="#fff5ae"/>
<rect x="432.68" y="471.12" width="12.25" height="6.44" fill="#fff3ac"/>
<rect x="444.22" y="471.12" width="12.25" height="6.44" fill="#fff2aa"/>
<rect x="455.77" y="471.12" width="12.25" height="6.44" fill="#fff1a8"/>
<rect x="467.31" y="471.12" width="12.25" height="6.44" fill="#fff0a6"/>
<rect x="478.86" y="471.12" width="12.25" height="6.44" fill="#feefa3"/>
<rect x="490.4" y="471.12" width="12.25" height="6.44" fill="#feec9f"/>
<rect x="501.95" y="471.12" width="12.25" height="6.44" fill="#fee797"/>
<rect x="513.49" y="471.12" width="12.25" height="6.44" fill="#fee491"/>
<rect x="525.04" y="471.12" width="12.25" height="6.44" fill="#fede89"/>
<rect x="536.58" y="471.12" width="12.25" height="6.44" fill="#fed683"/>
<rect x="548.13" y="471.12" width="12.25" height="6.44" fill="#fece7c"/>
<rect x="559.67" y="471.12" width="12.25" height="6.44" fill="#fdc776"/>
<rect x="571.22" y="471.12" width="12.25" height="6.44" fill="#fdbd6d"/>
<rect x="582.76" y="471.12" width="12.25" height="6.44" fill="#fdb163"/>
<rect x="594.31" y="471.12" width="12.25" height="6.44" fill="#fca55d"/>
<rect x="605.85" y="471.12" width="11.55" height="6.44" fill="#f99355"/>
<rect x="374.95" y="476.86" width="12.25" height="6.44" fill="#fff7b2"/>
<rect x="386.5" y="476.86" width="12.25" height="6.44" fill="#fff6b0"/>
<rect x="398.04" y="476.86" width="12.25" height="6.44" fill="#fff6b0"/>
<rect x="409.59" y="476.86" width="12.25" height="6.44" fill="#fff5ae"/>
<rect x="421.13" y="476.86" width="12.25" height="6.44" fill="#fff3ac"/>
<rect x="432.68" y="476.86" width="12.25" height="6.44" fill="#fff2aa"/>
<rect x="444.22" y="476.86" width="12.25" height="6.44" fill="#fff1a8"/>
<rect x="455.77" y="476.86" width="12.25" height="6.44" fill="#fff0a6"/>
<rect x="467.31" y="476.86" width="12.25" height="6.44" fill="#feefa3"/>
<rect x="478.86" y="476.86" width="12.25" height="6.44" fill="#feec9f"/>
<rect x="490.4" y="476.86" width="12.25" height="6.44" fill="#fee797"/>
<rect x="501.95" y="476.86" width="12.25" height="6.44" fill="#fee491"/>
<rect x="513.49" y="476.86" width="12.25" height="6.44" fill="#fede89"/>
<rect x="525.04" y="476.86" width="12.25" height="6.44" fill="#fed683"/>
<rect x="536.58" y="476.86" width="12.25" height="6.44" fill="#fece7c"/>
<rect x="548.13" y="476.86" width="12.25" height="6.44" fill="#fdc574"/>
<rect x="559.67" y="476.86" width="12.25" height="6.44" fill="#fdbb6c"/>
<rect x="571.22" y="476.86" width="12.25" height="6.44" fill="#fdb163"/>
<rect x="582.76" y="476.86" width="12.25" height="6.44" fill="#fba35c"/>
<rect x="594.31" y="476.86" width="12.25" height="6.44" fill="#f99153"/>
<rect x="605.85" y="476.86" width="11.55" height="6.44" fill="#f67f4b"/>
<rect x="374.95" y="482.61" width="12.25" height="6.44" fill="#fff7b2"/>
<rect x="386.5" y="482.61" width="12.25" height="6.44" fill="#fff6b0"/>
<rect x="398.04" y="482.61" width="12.25" height="6.44" fill="#fff5ae"/>
<rect x="409.59" y="482.61" width="12.25" height="6.44" fill="#fff3ac"/>
<rect x="421.13" y="482.61" width="12.25" height="6.44" fill="#fff2aa"/>
<rect x="432.68" y="482.61" width="12.25" height="6.44" fill="#fff1a8"/>
<rect x="444.22" y="482.61" width="12.25" height="6.44" fill="#fff0a6"/>
<rect x="455.77" y="482.61" width="12.25" height="6.44" fill="#feefa3"/>
<rect x="467.31" y="482.61" width="12.25" height="6.44" fill="#feec9f"/>
<rect x="478.86" y="482.61" width="12.25" height="6.44" fill="#fee797"/>
<rect x="490.4" y="482.61" width="12.25" height="6.44" fill="#fee491"/>
<rect x="501.95" y="482.61" width="12.25" height="6.44" fill="#fede89"/>
<rect x="513.49" y="482.61" width="12.25" height="6.44" fill="#fed683"/>
<rect x="525.04" y="482.61" width="12.25" height="6.44" fill="#fece7c"/>
<rect x="536.58" y="482.61" width="12.25" height="6.44" fill="#fdc574"/>
<rect x="548.13" y="482.61" width="12.25" height="6.44" fill="#fdb96a"/>
<rect x="559.67" y="482.61" width="12.25" height="6.44" fill="#fdaf62"/>
<rect x="571.22" y="482.61" width="12.25" height="6.44" fill="#fba35c"/>
<rect x="582.76" y="482.61" width="12.25" height="6.44" fill="#f98e52"/>
<rect x="594.31" y="482.61" width="12.25" height="6.44" fill="#f67c4a"/>
<rect x="605.85" y="482.61" width="11.55" height="6.44" fill="#f46d43"/>
<rect x="374.95" y="488.35" width="12.25" height="6.44" fill="#fff6b0"/>
<rect x="386.5" y="488.35" width="12.25" height="6.44" fill="#fff5ae"/>
<rect x="398.04" y="488.35" width="12.25" height="6.44" fill="#fff3ac"/>
<rect x="409.59" y="488.35" width="12.25" height="6.44" fill="#fff2aa"/>
<rect x="421.13" y="488.35" width="12.25" height="6.44" fill="#fff1a8"/>
<rect x="432.68" y="488.35" width="12.25" height="6.44" fill="#fff0a6"/>
<rect x="444.22" y="488.35" width="12.25" height="6.44" fill="#feefa3"/>
<rect x="455.77" y="488.35" width="12.25" height="6.44" fill="#feec9f"/>
<rect x="467.31" y="488.35" width="12.25" height="6.44" fill="#fee797"/>
<rect x="478.86" y="488.35" width="12.25" height="6.44" fill="#fee491"/>
<rect x="490.4" y="488.35" width="12.25" height="6.44" fill="#fede89"/>
<rect x="501.95" y="488.35" width="12.25" height="6.44" fill="#fed683"/>
<rect x="513.49" y="488.35" width="12.25" height="6.44" fill="#fecc7b"/>
<rect x="525.04" y="488.35" width="12.25" height="6.44" fill="#fdc372"/>
<rect x="536.58" y="488.35" width="12.25" height="6.44" fill="#fdb96a"/>
<rect x="548.13" y="488.35" width="12.25" height="6.44" fill="#fdaf62"/>
<rect x="559.67" y="488.35" width="12.25" height="6.44" fill="#fba05b"/>
<rect x="571.22" y="488.35" width="12.25" height="6.44" fill="#f98e52"/>
<rect x="582.76" y="488.35" width="12.25" height="6.44" fill="#f67c4a"/>
<rect x="594.31" y="488.35" width="12.25" height="6.44" fill="#f36b43"/>
<rect x="605.85" y="488.35" width="11.55" height="6.44" fill="#e95c47"/>
<rect x="374.95" y="494.1" width="12.25" height="6.44" fill="#fff5ae"/>
<rect x="386.5" y="494.1" width="12.25" height="6.44" fill="#fff3ac"/>
<rect x="398.04" y="494.1" width="12.25" height="6.44" fill="#fff2aa"/>
<rect x="409.59" y="494.1" width="12.25" height="6.44" fill="#fff1a8"/>
<rect x="421.13" y="494.1" width="12.25" height="6.44" fill="#fff0a6"/>
<rect x="432.68" y="494.1" width="12.25" height="6.44" fill="#feefa3"/>
<rect x="444.22" y="494.1" width="12.25" height="6.44" fill="#feec9f"/>
<rect x="455.77" y="494.1" width="12.25" height="6.44" fill="#fee797"/>
<rect x="467.31" y="494.1" width="12.25" height="6.44" fill="#fee491"/>
<rect x="478.86" y="494.1" width="12.25" height="6.44" fill="#fede89"/>
<rect x="490.4" y="494.1" width="12.25" height="6.44" fill="#fed683"/>
<rect x="501.95" y="494.1" width="12.25" height="6.44" fill="#fecc7b"/>
<rect x="513.49" y="494.1" width="12.25" height="6.44" fill="#fdc372"/>
<rect x="525.04" y="494.1" width="12.25" height="6.44" fill="#fdb96a"/>
<rect x="536.58" y="494.1" width="12.25" height="6.44" fill="#fdad60"/>
<rect x="548.13" y="494.1" width="12.25" height="6.44" fill="#fb9d59"/>
<rect x="559.67" y="494.1" width="12.25" height="6.44" fill="#f88c51"/>
<rect x="571.22" y="494.1" width="12.25" height="6.44" fill="#f67a49"/>
<rect x="582.76" y="494.1" width="12.25" height="6.44" fill="#f26944"/>
<rect x="594.31" y="494.1" width="12.25" height="6.44" fill="#e85b48"/>
<rect x="605.85" y="494.1" width="11.55" height="6.44" fill="#e1504b"/>
<rect x="374.95" y="499.84" width="12.25" height="6.44" fill="#fff5ae"/>
<rect x="386.5" y="499.84" width="12.25" height="6.44" fill="#fff2aa"/>
<rect x="398.04" y="499.84" width="12.25" height="6.44" fill="#fff1a8"/>
<rect x="409.59" y="499.84" width="12.25" height="6.44" fill="#fff0a6"/>
<rect x="421.13" y="499.84" width="12.25" height="6.44" fill="#feefa3"/>
<rect x="432.68" y="499.84" width="12.25" height="6.44" fill="#feec9f"/>
<rect x="444.22" y="499.84" width="12.25" height="6.44" fill="#fee797"/>
<rect x="455.77" y="499.84" width="12.25" height="6.44" fill="#fee491"/>
<rect x="467.31" y="499.84" width="12.25" height="6.44" fill="#fede89"/>
<rect x="478.86" y="499.84" width="12.25" height="6.44" fill="#fed683"/>
<rect x="490.4" y="499.84" width="12.25" height="6.44" fill="#fecc7b"/>
<rect x="501.95" y="499.84" width="12.25" height="6.44" fill="#fdc372"/>
<rect x="513.49" y="499.84" width="12.25" height="6.44" fill="#fdb768"/>
<rect x="525.04" y="499.84" width="12.25" height="6.44" fill="#fdad60"/>
<rect x="536.58" y="499.84" width="12.25" height="6.44" fill="#fb9d59"/>
<rect x="548.13" y="499.84" width="12.25" height="6.44" fill="#f88950"/>
<rect x="559.67" y="499.84" width="12.25" height="6.44" fill="#f57748"/>
<rect x="571.22" y="499.84" width="12.25" height="6.44" fill="#f06744"/>
<rect x="582.76" y="499.84" width="12.25" height="6.44" fill="#e75948"/>
<rect x="594.31" y="499.84" width="12.25" height="6.44" fill="#df4e4b"/>
<rect x="605.85" y="499.84" width="11.55" height="6.44" fill="#d8434e"/>
<rect x="374.95" y="505.58" width="12.25" height="6.44" fill="#fff3ac"/>
<rect x="386.5" y="505.58" width="12.25" height="6.44" fill="#fff2aa"/>
<rect x="398.04" y="505.58" width="12.25" height="6.44" fill="#fff0a6"/>
<rect x="409.59" y="505.58" width="12.25" height="6.44" fill="#feefa3"/>
<rect x="421.13" y="505.58" width="12.25" height="6.44" fill="#feec9f"/>
<rect x="432.68" y="505.58" width="12.25" height="6.44" fill="#fee797"/>
<rect x="444.22" y="505.58" width="12.25" height="6.44" fill="#fee491"/>
<rect x="455.77" y="505.58" width="12.25" height="6.44" fill="#fede89"/>
<rect x="467.31" y="505.58" width="12.25" height="6.44" fill="#fed683"/>
<rect x="478.86" y="505.58" width="12.25" height="6.44" fill="#fecc7b"/>
<rect x="490.4" y="505.58" width="12.25" height="6.44" fill="#fdc372"/>
<rect x="501.95" y="505.58" width="12.25" height="6.44" fill="#fdb768"/>
<rect x="513.49" y="505.58" width="12.25" height="6.44" fill="#fdad60"/>
<rect x="525.04" y="505.58" width="12.25" height="6.44" fill="#fa9b58"/>
<rect x="536.58" y="505.58" width="12.25" height="6.44" fill="#f88950"/>
<rect x="548.13" y="505.58" width="12.25" height="6.44" fill="#f57748"/>
<rect x="559.67" y="505.58" width="12.25" height="6.44" fill="#ef6645"/>
<rect x="571.22" y="505.58" width="12.25" height="6.44" fill="#e75948"/>
<rect x="582.76" y="505.58" width="12.25" height="6.44" fill="#df4e4b"/>
<rect x="594.31" y="505.58" width="12.25" height="6.44" fill="#d7414e"/>
<rect x="605.85" y="505.58" width="11.55" height="6.44" fill="#cb334d"/>
<rect x="374.95" y="511.33" width="12.25" height="6.44" fill="#fff2aa"/>
<rect x="386.5" y="511.33" width="12.25" height="6.44" fill="#fff1a8"/>
<rect x="398.04" y="511.33" width="12.25" height="6.44" fill="#feefa3"/>
<rect x="409.59" y="511.33" width="12.25" height="6.44" fill="#feec9f"/>
<rect x="421.13" y="511.33" width="12.25" height="6.44" fill="#fee999"/>
<rect x="432.68" y="511.33" width="12.25" height="6.44" fill="#fee491"/>
<rect x="444.22" y="511.33" width="12.25" height="6.44" fill="#fede89"/>
<rect x="455.77" y="511.33" width="12.25" height="6.44" fill="#fed683"/>
<rect x="467.31" y="511.33" width="12.25" height="6.44" fill="#fecc7b"/>
<rect x="478.86" y="511.33" width="12.25" height="6.44" fill="#fdc372"/>
<rect x="490.4" y="511.33" width="12.25" height="6.44" fill="#fdb768"/>
<rect x="501.95" y="511.33" width="12.25" height="6.44" fill="#fcaa5f"/>
<rect x="513.49" y="511.33" width="12.25" height="6.44" fill="#fa9b58"/>
<rect x="525.04" y="511.33" width="12.25" height="6.44" fill="#f8864f"/>
<rect x="536.58" y="511.33" width="12.25" height="6.44" fill="#f57547"/>
<rect x="548.13" y="511.33" width="12.25" height="6.44" fill="#ee6445"/>
<rect x="559.67" y="511.33" width="12.25" height="6.44" fill="#e55749"/>
<rect x="571.22" y="511.33" width="12.25" height="6.44" fill="#de4c4b"/>
<rect x="582.76" y="511.33" width="12.25" height="6.44" fill="#d63f4f"/>
<rect x="594.31" y="511.33" width="12.25" height="6.44" fill="#cb334d"/>
<rect x="605.85" y="511.33" width="11.55" height="6.44" fill="#c1274a"/>
<rect x="374.95" y="517.07" width="12.25" height="6.44" fill="#fff1a8"/>
<rect x="386.5" y="517.07" width="12.25" height="6.44" fill="#fff0a6"/>
<rect x="398.04" y="517.07" width="12.25" height="6.44" fill="#feeda1"/>
<rect x="409.59" y="517.07" width="12.25" height="6.44" fill="#fee999"/>
<rect x="421.13" y="517.07" width="12.25" height="6.44" fill="#fee593"/>
<rect x="432.68" y="517.07" width="12.25" height="6.44" fill="#fede89"/>
<rect x="444.22" y="517.07" width="12.25" height="6.44" fill="#fed683"/>
<rect x="455.77" y="517.07" width="12.25" height="6.44" fill="#fecc7b"/>
<rect x="467.31" y="517.07" width="12.25" height="6.44" fill="#fdc372"/>
<rect x="478.86" y="517.07" width="12.25" height="6.44" fill="#fdb768"/>
<rect x="490.4" y="517.07" width="12.25" height="6.44" fill="#fcaa5f"/>
<rect x="501.95" y="517.07" width="12.25" height="6.44" fill="#fa9857"/>
<rect x="513.49" y="517.07" width="12.25" height="6.44" fill="#f8864f"/>
<rect x="525.04" y="517.07" width="12.25" height="6.44" fill="#f57245"/>
<rect x="536.58" y="517.07" width="12.25" height="6.44" fill="#ee6445"/>
<rect x="548.13" y="517.07" width="12.25" height="6.44" fill="#e55749"/>
<rect x="559.67" y="517.07" width="12.25" height="6.44" fill="#dd4a4c"/>
<rect x="571.22" y="517.07" width="12.25" height="6.44" fill="#d63f4f"/>
<rect x="582.76" y="517.07" width="12.25" height="6.44" fill="#c9314c"/>
<rect x="594.31" y="517.07" width="12.25" height="6.44" fill="#c1274a"/>
<rect x="605.85" y="517.07" width="11.55" height="6.44" fill="#b61b48"/>
<rect x="374.95" y="522.82" width="12.25" height="6.44" fill="#fff0a6"/>
<rect x="386.5" y="522.82" width="12.25" height="6.44" fill="#feeda1"/>
<rect x="398.04" y="522.82" width="12.25" height="6.44" fill="#feea9b"/>
<rect x="409.59" y="522.82" width="12.25" height="6.44" fill="#fee593"/>
<rect x="421.13" y="522.82" width="12.25" height="6.44" fill="#fee08b"/>
<rect x="432.68" y="522.82" width="12.25" height="6.44" fill="#fed683"/>
<rect x="444.22" y="522.82" width="12.25" height="6.44" fill="#fecc7b"/>
<rect x="455.77" y="522.82" width="12.25" height="6.44" fill="#fdc372"/>
<rect x="467.31" y="522.82" width="12.25" height="6.44" fill="#fdb768"/>
<rect x="478.86" y="522.82" width="12.25" height="6.44" fill="#fcaa5f"/>
<rect x="490.4" y="522.82" width="12.25" height="6.44" fill="#fa9857"/>
<rect x="501.95" y="522.82" width="12.25" height="6.44" fill="#f7844e"/>
<rect x="513.49" y="522.82" width="12.25" height="6.44" fill="#f57245"/>
<rect x="525.04" y="522.82" width="12.25" height="6.44" fill="#ed6246"/>
<rect x="536.58" y="522.82" width="12.25" height="6.44" fill="#e45549"/>
<rect x="548.13" y="522.82" width="12.25" height="6.44" fill="#dd4a4c"/>
<rect x="559.67" y="522.82" width="12.25" height="6.44" fill="#d43d4f"/>
<rect x="571.22" y="522.82" width="12.25" height="6.44" fill="#c9314c"/>
<rect x="582.76" y="522.82" width="12.25" height="6.44" fill="#be254a"/>
<rect x="594.31" y="522.82" width="12.25" height="6.44" fill="#b61b48"/>
<rect x="605.85" y="522.82" width="11.55" height="6.44" fill="#ab0f45"/>
<rect x="374.95" y="528.56" width="12.25" height="6.44" fill="#feefa3"/>
<rect x="386.5" y="528.56" width="12.25" height="6.44" fill="#feea9b"/>
<rect x="398.04" y="528.56" width="12.25" height="6.44" fill="#fee593"/>
<rect x="409.59" y="528.56" width="12.25" height="6.44" fill="#fee08b"/>
<rect x="421.13" y="528.56" width="12.25" height="6.44" fill="#fed683"/>
<rect x="432.68" y="528.56" width="12.25" height="6.44" fill="#fecc7b"/>
<rect x="444.22" y="528.56" width="12.25" height="6.44" fill="#fdc372"/>
<rect x="455.77" y="528.56" width="12.25" height="6.44" fill="#fdb768"/>
<rect x="467.31" y="528.56" width="12.25" height="6.44" fill="#fcaa5f"/>
<rect x="478.86" y="528.56" width="12.25" height="6.44" fill="#fa9857"/>
<rect x="490.4" y="528.56" width="12.25" height="6.44" fill="#f7844e"/>
<rect x="501.95" y="528.56" width="12.25" height="6.44" fill="#f57245"/>
<rect x="513.49" y="528.56" width="12.25" height="6.44" fill="#ed6246"/>
<rect x="525.04" y="528.56" width="12.25" height="6.44" fill="#e45549"/>
<rect x="536.58" y="528.56" width="12.25" height="6.44" fill="#dc484c"/>
<rect x="548.13" y="528.56" width="12.25" height="6.44" fill="#d43d4f"/>
<rect x="559.67" y="528.56" width="12.25" height="6.44" fill="#c72e4c"/>
<rect x="571.22" y="528.56" width="12.25" height="6.44" fill="#be254a"/>
<rect x="582.76" y="528.56" width="12.25" height="6.44" fill="#b41947"/>
<rect x="594.31" y="528.56" width="12.25" height="6.44" fill="#ab0f45"/>
<rect x="605.85" y="528.56" width="11.55" height="6.44" fill="#a40844"/>
<rect x="374.95" y="534.31" width="12.25" height="5.74" fill="#feeb9d"/>
<rect x="386.5" y="534.31" width="12.25" height="5.74" fill="#fee695"/>
<rect x="398.04" y="534.31" width="12.25" height="5.74" fill="#fee18d"/>
<rect x="409.59" y="534.31" width="12.25" height="5.74" fill="#fed884"/>
<rect x="421.13" y="534.31" width="12.25" height="5.74" fill="#fece7c"/>
<rect x="432.68" y="534.31" width="12.25" height="5.74" fill="#fdc372"/>
<rect x="444.22" y="534.31" width="12.25" height="5.74" fill="#fdb768"/>
<rect x="455.77" y="534.31" width="12.25" height="5.74" fill="#fcaa5f"/>
<rect x="467.31" y="534.31" width="12.25" height="5.74" fill="#fa9857"/>
<rect x="478.86" y="534.31" width="12.25" height="5.74" fill="#f7844e"/>
<rect x="490.4" y="534.31" width="12.25" height="5.74" fill="#f47044"/>
<rect x="501.95" y="534.31" width="12.25" height="5.74" fill="#eb6046"/>
<rect x="513.49" y="534.31" width="12.25" height="5.74" fill="#e3534a"/>
<rect x="525.04" y="534.31" width="12.25" height="5.74" fill="#dc484c"/>
<rect x="536.58" y="534.31" width="12.25" height="5.74" fill="#d23a4e"/>
<rect x="548.13" y="534.31" width="12.25" height="5.74" fill="#c72e4c"/>
<rect x="559.67" y="534.31" width="12.25" height="5.74" fill="#bc2249"/>
<rect x="571.22" y="534.31" width="12.25" height="5.74" fill="#b41947"/>
<rect x="582.76" y="534.31" width="12.25" height="5.74" fill="#ab0f45"/>
<rect x="594.31" y="534.31" width="12.25" height="5.74" fill="#a20643"/>
<rect x="605.85" y="534.31" width="11.55" height="5.74" fill="#9e0142"/>
</g>
<linearGradient id="g4" x1="0" y1="0" x2="0" y2="1"><stop offset="0%" stop-color="#ffffbe"/><stop offset="2.08%" stop-color="#fffcba"/><stop offset="4.17%" stop-color="#fff8b4"/><stop offset="6.25%" stop-color="#fff6b0"/><stop offset="8.33%" stop-color="#fff2aa"/><stop offset="10.42%" stop-color="#feefa3"/><stop offset="12.5%" stop-color="#feec9f"/><stop offset="14.58%" stop-color="#fee999"/><stop offset="16.67%" stop-color="#fee593"/><stop offset="18.75%" stop-color="#fee28f"/><stop offset="20.83%" stop-color="#fede89"/><stop offset="22.92%" stop-color="#feda86"/><stop offset="25%" stop-color="#fed481"/><stop offset="27.08%" stop-color="#fece7c"/><stop offset="29.17%" stop-color="#feca79"/><stop offset="31.25%" stop-color="#fdc574"/><stop offset="33.33%" stop-color="#fdbf6f"/><stop offset="35.42%" stop-color="#fdbb6c"/><stop offset="37.5%" stop-color="#fdb567"/><stop offset="39.58%" stop-color="#fdaf62"/><stop offset="41.67%" stop-color="#fcaa5f"/><stop offset="43.75%" stop-color="#fba35c"/><stop offset="45.83%" stop-color="#fa9b58"/><stop offset="47.92%" stop-color="#fa9656"/><stop offset="50%" stop-color="#f98e52"/><stop offset="52.08%" stop-color="#f8864f"/><stop offset="54.17%" stop-color="#f67f4b"/><stop offset="56.25%" stop-color="#f67a49"/><stop offset="58.33%" stop-color="#f57245"/><stop offset="60.42%" stop-color="#f36b43"/><stop offset="62.5%" stop-color="#f06744"/><stop offset="64.58%" stop-color="#ed6246"/><stop offset="66.67%" stop-color="#e95c47"/><stop offset="68.75%" stop-color="#e75948"/><stop offset="70.83%" stop-color="#e3534a"/><stop offset="72.92%" stop-color="#df4e4b"/><stop offset="75%" stop-color="#dd4a4c"/><stop offset="77.08%" stop-color="#d9444d"/><stop offset="79.17%" stop-color="#d63f4f"/><stop offset="81.25%" stop-color="#d23a4e"/><stop offset="83.33%" stop-color="#cb334d"/><stop offset="85.42%" stop-color="#c52c4b"/><stop offset="87.5%" stop-color="#c1274a"/><stop offset="89.58%" stop-color="#ba2049"/><stop offset="91.67%" stop-color="#b41947"/><stop offset="93.75%" stop-color="#af1446"/><stop offset="95.83%" stop-color="#a90d45"/><stop offset="97.92%" stop-color="#a20643"/><stop offset="100%" stop-color="#9e0142"/></linearGradient>
<rect x="632" y="293.05" width="13.05" height="247" fill="url(#g4)"/>
<text x="650.35" y="298.03" class="t">0.00</text>
<text x="650.35" y="336.39" class="t">−0.01</text>
<text x="650.35" y="374.74" class="t">−0.02</text>
<text x="650.35" y="413.09" class="t">−0.03</text>
<text x="650.35" y="451.45" class="t">−0.04</text>
<text x="650.35" y="489.8" class="t">−0.05</text>
<text x="650.35" y="528.16" class="t">−0.06</text>
<path d="M645.05 293.93h2.9M645.05 332.29h2.9M645.05 370.64h2.9M645.05 408.99h2.9M645.05 447.35h2.9M645.05 485.7h2.9M645.05 524.06h2.9" class="k"/>
<path d="M374.95 295.92h-3.2M374.95 301.67h-3.2M374.95 307.41h-3.2M374.95 313.15h-3.2M374.95 318.9h-3.2M374.95 324.64h-3.2M374.95 330.39h-3.2M374.95 336.13h-3.2M374.95 341.88h-3.2M374.95 347.62h-3.2M374.95 353.36h-3.2M374.95 359.11h-3.2M374.95 364.85h-3.2M374.95 370.6h-3.2M374.95 376.34h-3.2M374.95 382.08h-3.2M374.95 387.83h-3.2M374.95 393.57h-3.2M374.95 399.32h-3.2M374.95 405.06h-3.2M374.95 410.81h-3.2M374.95 416.55h-3.2M374.95 422.29h-3.2M374.95 428.04h-3.2M374.95 433.78h-3.2M374.95 439.53h-3.2M374.95 445.27h-3.2M374.95 451.02h-3.2M374.95 456.76h-3.2M374.95 462.5h-3.2M374.95 468.25h-3.2M374.95 473.99h-3.2M374.95 479.74h-3.2M374.95 485.48h-3.2M374.95 491.22h-3.2M374.95 496.97h-3.2M374.95 502.71h-3.2M374.95 508.46h-3.2M374.95 514.2h-3.2M374.95 519.95h-3.2M374.95 525.69h-3.2M374.95 531.43h-3.2M374.95 537.18h-3.2" class="k"/>
<text x="380.72" y="554.75" class="t m">0</text>
<text x="403.81" y="554.75" class="t m">2</text>
<text x="426.9" y="554.75" class="t m">4</text>
<text x="449.99" y="554.75" class="t m">6</text>
<text x="473.08" y="554.75" class="t m">8</text>
<text x="496.17" y="554.75" class="t m">10</text>
<text x="519.27" y="554.75" class="t m">12</text>
<text x="542.36" y="554.75" class="t m">14</text>
<text x="565.45" y="554.75" class="t m">16</text>
<text x="588.54" y="554.75" class="t m">18</text>
<text x="611.63" y="554.75" class="t m">20</text>
<path d="M380.72 540.05v3.2M403.81 540.05v3.2M426.9 540.05v3.2M449.99 540.05v3.2M473.08 540.05v3.2M496.17 540.05v3.2M519.27 540.05v3.2M542.36 540.05v3.2M565.45 540.05v3.2M588.54 540.05v3.2M611.63 540.05v3.2" class="k"/>
<text x="495.97" y="287.65" class="ti m">female non-smoker - female smoker</text>
<text x="496.17" y="569.35" class="la m i">k</text>
<g>
<rect x="30.25" y="648.95" width="242.7" height="247.3" fill="#ffffbe"/>
<rect x="30.25" y="648.95" width="242.7" height="6.45" fill="#ffffbe"/>
<rect x="30.25" y="654.7" width="242.7" height="6.45" fill="#ffffbe"/>
<rect x="30.25" y="660.45" width="242.7" height="6.45" fill="#ffffbe"/>
<rect x="30.25" y="666.2" width="231.84" height="6.45" fill="#ffffbe"/>
<rect x="261.39" y="666.2" width="11.56" height="6.45" fill="#fffebe"/>
<rect x="30.25" y="671.95" width="220.29" height="6.45" fill="#ffffbe"/>
<rect x="249.84" y="671.95" width="23.11" height="6.45" fill="#fffebe"/>
<rect x="30.25" y="677.71" width="208.73" height="6.45" fill="#ffffbe"/>
<rect x="238.28" y="677.71" width="34.67" height="6.45" fill="#fffebe"/>
<rect x="30.25" y="683.46" width="197.17" height="6.45" fill="#ffffbe"/>
<rect x="226.72" y="683.46" width="46.23" height="6.45" fill="#fffebe"/>
<rect x="30.25" y="689.21" width="185.61" height="6.45" fill="#ffffbe"/>
<rect x="215.16" y="689.21" width="57.79" height="6.45" fill="#fffebe"/>
<rect x="30.25" y="694.96" width="174.06" height="6.45" fill="#ffffbe"/>
<rect x="203.61" y="694.96" width="69.34" height="6.45" fill="#fffebe"/>
<rect x="30.25" y="700.71" width="162.5" height="6.45" fill="#ffffbe"/>
<rect x="192.05" y="700.71" width="80.9" height="6.45" fill="#fffebe"/>
<rect x="30.25" y="706.46" width="150.94" height="6.45" fill="#ffffbe"/>
<rect x="180.49" y="706.46" width="92.46" height="6.45" fill="#fffebe"/>
<rect x="30.25" y="712.21" width="139.39" height="6.45" fill="#ffffbe"/>
<rect x="168.94" y="712.21" width="104.01" height="6.45" fill="#fffebe"/>
<rect x="30.25" y="717.96" width="127.83" height="6.45" fill="#ffffbe"/>
<rect x="157.38" y="717.96" width="115.57" height="6.45" fill="#fffebe"/>
<rect x="30.25" y="723.72" width="116.27" height="6.45" fill="#ffffbe"/>
<rect x="145.82" y="723.72" width="127.13" height="6.45" fill="#fffebe"/>
<rect x="30.25" y="729.47" width="104.71" height="6.45" fill="#ffffbe"/>
<rect x="134.26" y="729.47" width="138.69" height="6.45" fill="#fffebe"/>
<rect x="30.25" y="735.22" width="93.16" height="6.45" fill="#ffffbe"/>
<rect x="122.71" y="735.22" width="150.24" height="6.45" fill="#fffebe"/>
<rect x="30.25" y="740.97" width="81.6" height="6.45" fill="#ffffbe"/>
<rect x="111.15" y="740.97" width="161.8" height="6.45" fill="#fffebe"/>
<rect x="30.25" y="746.72" width="70.04" height="6.45" fill="#ffffbe"/>
<rect x="99.59" y="746.72" width="173.36" height="6.45" fill="#fffebe"/>
<rect x="30.25" y="752.47" width="58.49" height="6.45" fill="#ffffbe"/>
<rect x="88.04" y="752.47" width="184.91" height="6.45" fill="#fffebe"/>
<rect x="30.25" y="758.22" width="46.93" height="6.45" fill="#ffffbe"/>
<rect x="76.48" y="758.22" width="196.47" height="6.45" fill="#fffebe"/>
<rect x="30.25" y="763.97" width="35.37" height="6.45" fill="#ffffbe"/>
<rect x="64.92" y="763.97" width="197.17" height="6.45" fill="#fffebe"/>
<rect x="261.39" y="763.97" width="11.56" height="6.45" fill="#fffebe"/>
<rect x="30.25" y="769.72" width="23.81" height="6.45" fill="#ffffbe"/>
<rect x="53.36" y="769.72" width="197.17" height="6.45" fill="#fffebe"/>
<rect x="249.84" y="769.72" width="23.11" height="6.45" fill="#fffebe"/>
<rect x="30.25" y="775.48" width="12.26" height="6.45" fill="#ffffbe"/>
<rect x="41.81" y="775.48" width="197.17" height="6.45" fill="#fffebe"/>
<rect x="238.28" y="775.48" width="34.67" height="6.45" fill="#fffebe"/>
<rect x="30.25" y="781.23" width="197.17" height="6.45" fill="#fffebe"/>
<rect x="226.72" y="781.23" width="46.23" height="6.45" fill="#fffebe"/>
<rect x="30.25" y="786.98" width="185.61" height="6.45" fill="#fffebe"/>
<rect x="215.16" y="786.98" width="57.79" height="6.45" fill="#fffebe"/>
<rect x="30.25" y="792.73" width="174.06" height="6.45" fill="#fffebe"/>
<rect x="203.61" y="792.73" width="58.49" height="6.45" fill="#fffebe"/>
<rect x="261.39" y="792.73" width="11.56" height="6.45" fill="#fffdbc"/>
<rect x="30.25" y="798.48" width="162.5" height="6.45" fill="#fffebe"/>
<rect x="192.05" y="798.48" width="58.49" height="6.45" fill="#fffebe"/>
<rect x="249.84" y="798.48" width="23.11" height="6.45" fill="#fffdbc"/>
<rect x="30.25" y="804.23" width="150.94" height="6.45" fill="#fffebe"/>
<rect x="180.49" y="804.23" width="58.49" height="6.45" fill="#fffebe"/>
<rect x="238.28" y="804.23" width="23.81" height="6.45" fill="#fffdbc"/>
<rect x="261.39" y="804.23" width="11.56" height="6.45" fill="#fffdbc"/>
<rect x="30.25" y="809.98" width="139.39" height="6.45" fill="#fffebe"/>
<rect x="168.94" y="809.98" width="58.49" height="6.45" fill="#fffebe"/>
<rect x="226.72" y="809.98" width="23.81" height="6.45" fill="#fffdbc"/>
<rect x="249.84" y="809.98" width="12.26" height="6.45" fill="#fffdbc"/>
<rect x="261.39" y="809.98" width="11.56" height="6.45" fill="#fffcba"/>
<rect x="30.25" y="815.73" width="127.83" height="6.45" fill="#fffebe"/>
<rect x="157.38" y="815.73" width="58.49" height="6.45" fill="#fffebe"/>
<rect x="215.16" y="815.73" width="23.81" height="6.45" fill="#fffdbc"/>
<rect x="238.28" y="815.73" width="12.26" height="6.45" fill="#fffdbc"/>
<rect x="249.84" y="815.73" width="12.26" height="6.45" fill="#fffcba"/>
<rect x="261.39" y="815.73" width="11.56" height="6.45" fill="#fffbb8"/>
<rect x="30.25" y="821.48" width="116.27" height="6.45" fill="#fffebe"/>
<rect x="145.82" y="821.48" width="58.49" height="6.45" fill="#fffebe"/>
<rect x="203.61" y="821.48" width="23.81" height="6.45" fill="#fffdbc"/>
<rect x="226.72" y="821.48" width="12.26" height="6.45" fill="#fffdbc"/>
<rect x="238.28" y="821.48" width="12.26" height="6.45" fill="#fffcba"/>
<rect x="249.84" y="821.48" width="12.26" height="6.45" fill="#fffbb8"/>
<rect x="261.39" y="821.48" width="11.56" height="6.45" fill="#fffbb8"/>
<rect x="30.25" y="827.24" width="104.71" height="6.45" fill="#fffebe"/>
<rect x="134.26" y="827.24" width="58.49" height="6.45" fill="#fffebe"/>
<rect x="192.05" y="827.24" width="23.81" height="6.45" fill="#fffdbc"/>
<rect x="215.16" y="827.24" width="12.26" height="6.45" fill="#fffdbc"/>
<rect x="226.72" y="827.24" width="12.26" height="6.45" fill="#fffcba"/>
<rect x="238.28" y="827.24" width="12.26" height="6.45" fill="#fffbb8"/>
<rect x="249.84" y="827.24" width="12.26" height="6.45" fill="#fffbb8"/>
<rect x="261.39" y="827.24" width="11.56" height="6.45" fill="#fff7b2"/>
<rect x="30.25" y="832.99" width="93.16" height="6.45" fill="#fffebe"/>
<rect x="122.71" y="832.99" width="58.49" height="6.45" fill="#fffebe"/>
<rect x="180.49" y="832.99" width="23.81" height="6.45" fill="#fffdbc"/>
<rect x="203.61" y="832.99" width="12.26" height="6.45" fill="#fffdbc"/>
<rect x="215.16" y="832.99" width="12.26" height="6.45" fill="#fffcba"/>
<rect x="226.72" y="832.99" width="12.26" height="6.45" fill="#fffbb8"/>
<rect x="238.28" y="832.99" width="12.26" height="6.45" fill="#fffbb8"/>
<rect x="249.84" y="832.99" width="12.26" height="6.45" fill="#fff7b2"/>
<rect x="261.39" y="832.99" width="11.56" height="6.45" fill="#fff3ac"/>
<rect x="30.25" y="838.74" width="81.6" height="6.45" fill="#fffebe"/>
<rect x="111.15" y="838.74" width="58.49" height="6.45" fill="#fffebe"/>
<rect x="168.94" y="838.74" width="23.81" height="6.45" fill="#fffdbc"/>
<rect x="192.05" y="838.74" width="12.26" height="6.45" fill="#fffdbc"/>
<rect x="203.61" y="838.74" width="12.26" height="6.45" fill="#fffcba"/>
<rect x="215.16" y="838.74" width="12.26" height="6.45" fill="#fffbb8"/>
<rect x="226.72" y="838.74" width="12.26" height="6.45" fill="#fffbb8"/>
<rect x="238.28" y="838.74" width="12.26" height="6.45" fill="#fff7b2"/>
<rect x="249.84" y="838.74" width="12.26" height="6.45" fill="#fff3ac"/>
<rect x="261.39" y="838.74" width="11.56" height="6.45" fill="#feec9f"/>
<rect x="30.25" y="844.49" width="70.04" height="6.45" fill="#fffebe"/>
<rect x="99.59" y="844.49" width="58.49" height="6.45" fill="#fffebe"/>
<rect x="157.38" y="844.49" width="23.81" height="6.45" fill="#fffdbc"/>
<rect x="180.49" y="844.49" width="12.26" height="6.45" fill="#fffdbc"/>
<rect x="192.05" y="844.49" width="12.26" height="6.45" fill="#fffcba"/>
<rect x="203.61" y="844.49" width="12.26" height="6.45" fill="#fffbb8"/>
<rect x="215.16" y="844.49" width="12.26" height="6.45" fill="#fffbb8"/>
<rect x="226.72" y="844.49" width="12.26" height="6.45" fill="#fff7b2"/>
<rect x="238.28" y="844.49" width="12.26" height="6.45" fill="#fff3ac"/>
<rect x="249.84" y="844.49" width="12.26" height="6.45" fill="#feec9f"/>
<rect x="261.39" y="844.49" width="11.56" height="6.45" fill="#fee695"/>
<rect x="30.25" y="850.24" width="58.49" height="6.45" fill="#fffebe"/>
<rect x="88.04" y="850.24" width="58.49" height="6.45" fill="#fffebe"/>
<rect x="145.82" y="850.24" width="23.81" height="6.45" fill="#fffdbc"/>
<rect x="168.94" y="850.24" width="12.26" height="6.45" fill="#fffdbc"/>
<rect x="180.49" y="850.24" width="12.26" height="6.45" fill="#fffcba"/>
<rect x="192.05" y="850.24" width="12.26" height="6.45" fill="#fffbb8"/>
<rect x="203.61" y="850.24" width="12.26" height="6.45" fill="#fffbb8"/>
<rect x="215.16" y="850.24" width="12.26" height="6.45" fill="#fff7b2"/>
<rect x="226.72" y="850.24" width="12.26" height="6.45" fill="#fff3ac"/>
<rect x="238.28" y="850.24" width="12.26" height="6.45" fill="#feec9f"/>
<rect x="249.84" y="850.24" width="12.26" height="6.45" fill="#fee695"/>
<rect x="261.39" y="850.24" width="11.56" height="6.45" fill="#fee08b"/>
<rect x="30.25" y="855.99" width="46.93" height="6.45" fill="#fffebe"/>
<rect x="76.48" y="855.99" width="58.49" height="6.45" fill="#fffebe"/>
<rect x="134.26" y="855.99" width="23.81" height="6.45" fill="#fffdbc"/>
<rect x="157.38" y="855.99" width="12.26" height="6.45" fill="#fffdbc"/>
<rect x="168.94" y="855.99" width="12.26" height="6.45" fill="#fffcba"/>
<rect x="180.49" y="855.99" width="12.26" height="6.45" fill="#fffbb8"/>
<rect x="192.05" y="855.99" width="12.26" height="6.45" fill="#fffbb8"/>
<rect x="203.61" y="855.99" width="12.26" height="6.45" fill="#fff7b2"/>
<rect x="215.16" y="855.99" width="12.26" height="6.45" fill="#fff3ac"/>
<rect x="226.72" y="855.99" width="12.26" height="6.45" fill="#feec9f"/>
<rect x="238.28" y="855.99" width="12.26" height="6.45" fill="#fee695"/>
<rect x="249.84" y="855.99" width="12.26" height="6.45" fill="#fee08b"/>
<rect x="261.39" y="855.99" width="11.56" height="6.45" fill="#fed07e"/>
<rect x="30.25" y="861.74" width="35.37" height="6.45" fill="#fffebe"/>
<rect x="64.92" y="861.74" width="58.49" height="6.45" fill="#fffebe"/>
<rect x="122.71" y="861.74" width="23.81" height="6.45" fill="#fffdbc"/>
<rect x="145.82" y="861.74" width="12.26" height="6.45" fill="#fffdbc"/>
<rect x="157.38" y="861.74" width="12.26" height="6.45" fill="#fffcba"/>
<rect x="168.94" y="861.74" width="12.26" height="6.45" fill="#fffbb8"/>
<rect x="180.49" y="861.74" width="12.26" height="6.45" fill="#fffbb8"/>
<rect x="192.05" y="861.74" width="12.26" height="6.45" fill="#fff7b2"/>
<rect x="203.61" y="861.74" width="12.26" height="6.45" fill="#fff3ac"/>
<rect x="215.16" y="861.74" width="12.26" height="6.45" fill="#feec9f"/>
<rect x="226.72" y="861.74" width="12.26" height="6.45" fill="#fee695"/>
<rect x="238.28" y="861.74" width="12.26" height="6.45" fill="#fee08b"/>
<rect x="249.84" y="861.74" width="12.26" height="6.45" fill="#fed07e"/>
<rect x="261.39" y="861.74" width="11.56" height="6.45" fill="#fdbb6c"/>
<rect x="30.25" y="867.49" width="23.81" height="6.45" fill="#fffebe"/>
<rect x="53.36" y="867.49" width="58.49" height="6.45" fill="#fffebe"/>
<rect x="111.15" y="867.49" width="23.81" height="6.45" fill="#fffdbc"/>
<rect x="134.26" y="867.49" width="12.26" height="6.45" fill="#fffdbc"/>
<rect x="145.82" y="867.49" width="12.26" height="6.45" fill="#fffcba"/>
<rect x="157.38" y="867.49" width="12.26" height="6.45" fill="#fffbb8"/>
<rect x="168.94" y="867.49" width="12.26" height="6.45" fill="#fffbb8"/>
<rect x="180.49" y="867.49" width="12.26" height="6.45" fill="#fff7b2"/>
<rect x="192.05" y="867.49" width="12.26" height="6.45" fill="#fff3ac"/>
<rect x="203.61" y="867.49" width="12.26" height="6.45" fill="#feec9f"/>
<rect x="215.16" y="867.49" width="12.26" height="6.45" fill="#fee695"/>
<rect x="226.72" y="867.49" width="12.26" height="6.45" fill="#fee08b"/>
<rect x="238.28" y="867.49" width="12.26" height="6.45" fill="#fed07e"/>
<rect x="249.84" y="867.49" width="12.26" height="6.45" fill="#fdbb6c"/>
<rect x="261.39" y="867.49" width="11.56" height="6.45" fill="#fba05b"/>
<rect x="30.25" y="873.25" width="12.26" height="6.45" fill="#fffebe"/>
<rect x="41.81" y="873.25" width="58.49" height="6.45" fill="#fffebe"/>
<rect x="99.59" y="873.25" width="23.81" height="6.45" fill="#fffdbc"/>
<rect x="122.71" y="873.25" width="12.26" height="6.45" fill="#fffdbc"/>
<rect x="134.26" y="873.25" width="12.26" height="6.45" fill="#fffcba"/>
<rect x="145.82" y="873.25" width="12.26" height="6.45" fill="#fffbb8"/>
<rect x="157.38" y="873.25" width="12.26" height="6.45" fill="#fffbb8"/>
<rect x="168.94" y="873.25" width="12.26" height="6.45" fill="#fff7b2"/>
<rect x="180.49" y="873.25" width="12.26" height="6.45" fill="#fff3ac"/>
<rect x="192.05" y="873.25" width="12.26" height="6.45" fill="#feec9f"/>
<rect x="203.61" y="873.25" width="12.26" height="6.45" fill="#fee695"/>
<rect x="215.16" y="873.25" width="12.26" height="6.45" fill="#fee08b"/>
<rect x="226.72" y="873.25" width="12.26" height="6.45" fill="#fed07e"/>
<rect x="238.28" y="873.25" width="12.26" height="6.45" fill="#fdbb6c"/>
<rect x="249.84" y="873.25" width="12.26" height="6.45" fill="#fba05b"/>
<rect x="261.39" y="873.25" width="11.56" height="6.45" fill="#f57547"/>
<rect x="30.25" y="879" width="58.49" height="6.45" fill="#fffebe"/>
<rect x="88.04" y="879" width="23.81" height="6.45" fill="#fffdbc"/>
<rect x="111.15" y="879" width="12.26" height="6.45" fill="#fffdbc"/>
<rect x="122.71" y="879" width="12.26" height="6.45" fill="#fffcba"/>
<rect x="134.26" y="879" width="12.26" height="6.45" fill="#fffbb8"/>
<rect x="145.82" y="879" width="12.26" height="6.45" fill="#fffbb8"/>
<rect x="157.38" y="879" width="12.26" height="6.45" fill="#fff7b2"/>
<rect x="168.94" y="879" width="12.26" height="6.45" fill="#fff3ac"/>
<rect x="180.49" y="879" width="12.26" height="6.45" fill="#feec9f"/>
<rect x="192.05" y="879" width="12.26" height="6.45" fill="#fee695"/>
<rect x="203.61" y="879" width="12.26" height="6.45" fill="#fee08b"/>
<rect x="215.16" y="879" width="12.26" height="6.45" fill="#fed07e"/>
<rect x="226.72" y="879" width="12.26" height="6.45" fill="#fdbb6c"/>
<rect x="238.28" y="879" width="12.26" height="6.45" fill="#fba05b"/>
<rect x="249.84" y="879" width="12.26" height="6.45" fill="#f57547"/>
<rect x="261.39" y="879" width="11.56" height="6.45" fill="#e85b48"/>
<rect x="30.25" y="884.75" width="46.93" height="6.45" fill="#fffebe"/>
<rect x="76.48" y="884.75" width="23.81" height="6.45" fill="#fffdbc"/>
<rect x="99.59" y="884.75" width="12.26" height="6.45" fill="#fffdbc"/>
<rect x="111.15" y="884.75" width="12.26" height="6.45" fill="#fffcba"/>
<rect x="122.71" y="884.75" width="12.26" height="6.45" fill="#fffbb8"/>
<rect x="134.26" y="884.75" width="12.26" height="6.45" fill="#fffbb8"/>
<rect x="145.82" y="884.75" width="12.26" height="6.45" fill="#fff7b2"/>
<rect x="157.38" y="884.75" width="12.26" height="6.45" fill="#fff3ac"/>
<rect x="168.94" y="884.75" width="12.26" height="6.45" fill="#feec9f"/>
<rect x="180.49" y="884.75" width="12.26" height="6.45" fill="#fee695"/>
<rect x="192.05" y="884.75" width="12.26" height="6.45" fill="#fee08b"/>
<rect x="203.61" y="884.75" width="12.26" height="6.45" fill="#fed07e"/>
<rect x="215.16" y="884.75" width="12.26" height="6.45" fill="#fdbb6c"/>
<rect x="226.72" y="884.75" width="12.26" height="6.45" fill="#fba05b"/>
<rect x="238.28" y="884.75" width="12.26" height="6.45" fill="#f57547"/>
<rect x="249.84" y="884.75" width="12.26" height="6.45" fill="#e85b48"/>
<rect x="261.39" y="884.75" width="11.56" height="6.45" fill="#c52c4b"/>
<rect x="30.25" y="890.5" width="35.37" height="5.75" fill="#fffebe"/>
<rect x="64.92" y="890.5" width="23.81" height="5.75" fill="#fffdbc"/>
<rect x="88.04" y="890.5" width="12.26" height="5.75" fill="#fffdbc"/>
<rect x="99.59" y="890.5" width="12.26" height="5.75" fill="#fffcba"/>
<rect x="111.15" y="890.5" width="12.26" height="5.75" fill="#fffbb8"/>
<rect x="122.71" y="890.5" width="12.26" height="5.75" fill="#fffbb8"/>
<rect x="134.26" y="890.5" width="12.26" height="5.75" fill="#fff7b2"/>
<rect x="145.82" y="890.5" width="12.26" height="5.75" fill="#fff3ac"/>
<rect x="157.38" y="890.5" width="12.26" height="5.75" fill="#feec9f"/>
<rect x="168.94" y="890.5" width="12.26" height="5.75" fill="#fee695"/>
<rect x="180.49" y="890.5" width="12.26" height="5.75" fill="#fee08b"/>
<rect x="192.05" y="890.5" width="12.26" height="5.75" fill="#fed07e"/>
<rect x="203.61" y="890.5" width="12.26" height="5.75" fill="#fdbb6c"/>
<rect x="215.16" y="890.5" width="12.26" height="5.75" fill="#fba05b"/>
<rect x="226.72" y="890.5" width="12.26" height="5.75" fill="#f57547"/>
<rect x="238.28" y="890.5" width="12.26" height="5.75" fill="#e85b48"/>
<rect x="249.84" y="890.5" width="12.26" height="5.75" fill="#c52c4b"/>
<rect x="261.39" y="890.5" width="11.56" height="5.75" fill="#9e0142"/>
</g>
<linearGradient id="g5" x1="0" y1="0" x2="0" y2="1"><stop offset="0%" stop-color="#fdfebb"/><stop offset="2.08%" stop-color="#fffebe"/><stop offset="4.17%" stop-color="#fffbb8"/><stop offset="6.25%" stop-color="#fff8b4"/><stop offset="8.33%" stop-color="#fff5ae"/><stop offset="10.42%" stop-color="#fff1a8"/><stop offset="12.5%" stop-color="#feefa3"/><stop offset="14.58%" stop-color="#feeb9d"/><stop offset="16.67%" stop-color="#fee797"/><stop offset="18.75%" stop-color="#fee491"/><stop offset="20.83%" stop-color="#fee18d"/><stop offset="22.92%" stop-color="#fedc88"/><stop offset="25%" stop-color="#fed683"/><stop offset="27.08%" stop-color="#fed27f"/><stop offset="29.17%" stop-color="#fecc7b"/><stop offset="31.25%" stop-color="#fdc776"/><stop offset="33.33%" stop-color="#fdc171"/><stop offset="35.42%" stop-color="#fdbd6d"/><stop offset="37.5%" stop-color="#fdb768"/><stop offset="39.58%" stop-color="#fdb163"/><stop offset="41.67%" stop-color="#fdad60"/><stop offset="43.75%" stop-color="#fca55d"/><stop offset="45.83%" stop-color="#fb9d59"/><stop offset="47.92%" stop-color="#fa9857"/><stop offset="50%" stop-color="#f99153"/><stop offset="52.08%" stop-color="#f88950"/><stop offset="54.17%" stop-color="#f7814c"/><stop offset="56.25%" stop-color="#f67c4a"/><stop offset="58.33%" stop-color="#f57547"/><stop offset="60.42%" stop-color="#f46d43"/><stop offset="62.5%" stop-color="#f26944"/><stop offset="64.58%" stop-color="#ee6445"/><stop offset="66.67%" stop-color="#ea5e47"/><stop offset="68.75%" stop-color="#e75948"/><stop offset="70.83%" stop-color="#e3534a"/><stop offset="72.92%" stop-color="#e1504b"/><stop offset="75%" stop-color="#dd4a4c"/><stop offset="77.08%" stop-color="#d9444d"/><stop offset="79.17%" stop-color="#d7414e"/><stop offset="81.25%" stop-color="#d23a4e"/><stop offset="83.33%" stop-color="#cb334d"/><stop offset="85.42%" stop-color="#c52c4b"/><stop offset="87.5%" stop-color="#c1274a"/><stop offset="89.58%" stop-color="#ba2049"/><stop offset="91.67%" stop-color="#b41947"/><stop offset="93.75%" stop-color="#af1446"/><stop offset="95.83%" stop-color="#a90d45"/><stop offset="97.92%" stop-color="#a20643"/><stop offset="100%" stop-color="#9e0142"/></linearGradient>
<rect x="288.2" y="648.95" width="12.55" height="247.3" fill="url(#g5)"/>
<text x="306.05" y="657.76" class="t">0.000</text>
<text x="306.05" y="686.11" class="t">−0.001</text>
<text x="306.05" y="714.46" class="t">−0.002</text>
<text x="306.05" y="742.81" class="t">−0.003</text>
<text x="306.05" y="771.16" class="t">−0.004</text>
<text x="306.05" y="799.51" class="t">−0.005</text>
<text x="306.05" y="827.86" class="t">−0.006</text>
<text x="306.05" y="856.21" class="t">−0.007</text>
<text x="306.05" y="884.56" class="t">−0.008</text>
<path d="M300.75 653.66h2.9M300.75 682.01h2.9M300.75 710.36h2.9M300.75 738.71h2.9M300.75 767.06h2.9M300.75 795.41h2.9M300.75 823.76h2.9M300.75 852.11h2.9M300.75 880.46h2.9" class="k"/>
<text transform="translate(22.75,666.13) rotate(-90)" class="t m">20</text>
<text transform="translate(22.75,694.88) rotate(-90)" class="t m">25</text>
<text transform="translate(22.75,723.64) rotate(-90)" class="t m">30</text>
<text transform="translate(22.75,752.4) rotate(-90)" class="t m">35</text>
<text transform="translate(22.75,781.15) rotate(-90)" class="t m">40</text>
<text transform="translate(22.75,809.91) rotate(-90)" class="t m">45</text>
<text transform="translate(22.75,838.66) rotate(-90)" class="t m">50</text>
<text transform="translate(22.75,867.42) rotate(-90)" class="t m">55</text>
<text transform="translate(22.75,896.17) rotate(-90)" class="t m">60</text>
<path d="M30.25 651.83h-3.2M30.25 657.58h-3.2M30.25 663.33h-3.2M30.25 669.08h-3.2M30.25 674.83h-3.2M30.25 680.58h-3.2M30.25 686.33h-3.2M30.25 692.08h-3.2M30.25 697.83h-3.2M30.25 703.59h-3.2M30.25 709.34h-3.2M30.25 715.09h-3.2M30.25 720.84h-3.2M30.25 726.59h-3.2M30.25 732.34h-3.2M30.25 738.09h-3.2M30.25 743.84h-3.2M30.25 749.6h-3.2M30.25 755.35h-3.2M30.25 761.1h-3.2M30.25 766.85h-3.2M30.25 772.6h-3.2M30.25 778.35h-3.2M30.25 784.1h-3.2M30.25 789.85h-3.2M30.25 795.6h-3.2M30.25 801.36h-3.2M30.25 807.11h-3.2M30.25 812.86h-3.2M30.25 818.61h-3.2M30.25 824.36h-3.2M30.25 830.11h-3.2M30.25 835.86h-3.2M30.25 841.61h-3.2M30.25 847.37h-3.2M30.25 853.12h-3.2M30.25 858.87h-3.2M30.25 864.62h-3.2M30.25 870.37h-3.2M30.25 876.12h-3.2M30.25 881.87h-3.2M30.25 887.62h-3.2M30.25 893.37h-3.2" class="k"/>
<path d="M36.03 896.25v3.2M59.14 896.25v3.2M82.26 896.25v3.2M105.37 896.25v3.2M128.49 896.25v3.2M151.6 896.25v3.2M174.71 896.25v3.2M197.83 896.25v3.2M220.94 896.25v3.2M244.06 896.25v3.2M267.17 896.25v3.2" class="k"/>
<text x="151.4" y="643.55" class="ti m">male non-smoker - female non smoker</text>
<text transform="translate(6.55,772.8) rotate(-90)" class="la m">age <tspan class="i">a</tspan><tspan class="sub" dy="2.6">0</tspan></text>
<g>
<rect x="371.1" y="648.95" width="242.45" height="247.3" fill="#ffffbe"/>
<rect x="371.1" y="648.95" width="93.06" height="6.45" fill="#ffffbe"/>
<rect x="463.46" y="648.95" width="93.06" height="6.45" fill="#fffebe"/>
<rect x="555.82" y="648.95" width="46.88" height="6.45" fill="#fffebe"/>
<rect x="602" y="648.95" width="11.55" height="6.45" fill="#fffdbc"/>
<rect x="371.1" y="654.7" width="81.52" height="6.45" fill="#ffffbe"/>
<rect x="451.92" y="654.7" width="93.06" height="6.45" fill="#fffebe"/>
<rect x="544.28" y="654.7" width="46.88" height="6.45" fill="#fffebe"/>
<rect x="590.46" y="654.7" width="23.09" height="6.45" fill="#fffdbc"/>
<rect x="371.1" y="660.45" width="69.97" height="6.45" fill="#ffffbe"/>
<rect x="440.37" y="660.45" width="93.06" height="6.45" fill="#fffebe"/>
<rect x="532.73" y="660.45" width="58.43" height="6.45" fill="#fffebe"/>
<rect x="590.46" y="660.45" width="23.09" height="6.45" fill="#fffdbc"/>
<rect x="371.1" y="666.2" width="58.43" height="6.45" fill="#ffffbe"/>
<rect x="428.83" y="666.2" width="93.06" height="6.45" fill="#fffebe"/>
<rect x="521.19" y="666.2" width="58.43" height="6.45" fill="#fffebe"/>
<rect x="578.91" y="666.2" width="34.64" height="6.45" fill="#fffdbc"/>
<rect x="371.1" y="671.95" width="46.88" height="6.45" fill="#ffffbe"/>
<rect x="417.28" y="671.95" width="93.06" height="6.45" fill="#fffebe"/>
<rect x="509.64" y="671.95" width="58.43" height="6.45" fill="#fffebe"/>
<rect x="567.37" y="671.95" width="35.34" height="6.45" fill="#fffdbc"/>
<rect x="602" y="671.95" width="11.55" height="6.45" fill="#fffdbc"/>
<rect x="371.1" y="677.71" width="35.34" height="6.45" fill="#ffffbe"/>
<rect x="405.74" y="677.71" width="93.06" height="6.45" fill="#fffebe"/>
<rect x="498.1" y="677.71" width="58.43" height="6.45" fill="#fffebe"/>
<rect x="555.82" y="677.71" width="35.34" height="6.45" fill="#fffdbc"/>
<rect x="590.46" y="677.71" width="23.09" height="6.45" fill="#fffdbc"/>
<rect x="371.1" y="683.46" width="23.79" height="6.45" fill="#ffffbe"/>
<rect x="394.19" y="683.46" width="93.06" height="6.45" fill="#fffebe"/>
<rect x="486.55" y="683.46" width="58.43" height="6.45" fill="#fffebe"/>
<rect x="544.28" y="683.46" width="35.34" height="6.45" fill="#fffdbc"/>
<rect x="578.91" y="683.46" width="23.79" height="6.45" fill="#fffdbc"/>
<rect x="602" y="683.46" width="11.55" height="6.45" fill="#fffcba"/>
<rect x="371.1" y="689.21" width="12.25" height="6.45" fill="#ffffbe"/>
<rect x="382.65" y="689.21" width="93.06" height="6.45" fill="#fffebe"/>
<rect x="475.01" y="689.21" width="58.43" height="6.45" fill="#fffebe"/>
<rect x="532.73" y="689.21" width="35.34" height="6.45" fill="#fffdbc"/>
<rect x="567.37" y="689.21" width="23.79" height="6.45" fill="#fffdbc"/>
<rect x="590.46" y="689.21" width="23.09" height="6.45" fill="#fffcba"/>
<rect x="371.1" y="694.96" width="93.06" height="6.45" fill="#fffebe"/>
<rect x="463.46" y="694.96" width="58.43" height="6.45" fill="#fffebe"/>
<rect x="521.19" y="694.96" width="35.34" height="6.45" fill="#fffdbc"/>
<rect x="555.82" y="694.96" width="23.79" height="6.45" fill="#fffdbc"/>
<rect x="578.91" y="694.96" width="23.79" height="6.45" fill="#fffcba"/>
<rect x="602" y="694.96" width="11.55" height="6.45" fill="#fffcba"/>
<rect x="371.1" y="700.71" width="81.52" height="6.45" fill="#fffebe"/>
<rect x="451.92" y="700.71" width="58.43" height="6.45" fill="#fffebe"/>
<rect x="509.64" y="700.71" width="35.34" height="6.45" fill="#fffdbc"/>
<rect x="544.28" y="700.71" width="35.34" height="6.45" fill="#fffdbc"/>
<rect x="578.91" y="700.71" width="12.25" height="6.45" fill="#fffcba"/>
<rect x="590.46" y="700.71" width="12.25" height="6.45" fill="#fffcba"/>
<rect x="602" y="700.71" width="11.55" height="6.45" fill="#fffbb8"/>
<rect x="371.1" y="706.46" width="69.97" height="6.45" fill="#fffebe"/>
<rect x="440.37" y="706.46" width="58.43" height="6.45" fill="#fffebe"/>
<rect x="498.1" y="706.46" width="35.34" height="6.45" fill="#fffdbc"/>
<rect x="532.73" y="706.46" width="35.34" height="6.45" fill="#fffdbc"/>
<rect x="567.37" y="706.46" width="12.25" height="6.45" fill="#fffcba"/>
<rect x="578.91" y="706.46" width="23.79" height="6.45" fill="#fffcba"/>
<rect x="602" y="706.46" width="11.55" height="6.45" fill="#fffbb8"/>
<rect x="371.1" y="712.21" width="58.43" height="6.45" fill="#fffebe"/>
<rect x="428.83" y="712.21" width="58.43" height="6.45" fill="#fffebe"/>
<rect x="486.55" y="712.21" width="35.34" height="6.45" fill="#fffdbc"/>
<rect x="521.19" y="712.21" width="35.34" height="6.45" fill="#fffdbc"/>
<rect x="555.82" y="712.21" width="12.25" height="6.45" fill="#fffcba"/>
<rect x="567.37" y="712.21" width="23.79" height="6.45" fill="#fffcba"/>
<rect x="590.46" y="712.21" width="12.25" height="6.45" fill="#fffbb8"/>
<rect x="602" y="712.21" width="11.55" height="6.45" fill="#fffbb8"/>
<rect x="371.1" y="717.96" width="46.88" height="6.45" fill="#fffebe"/>
<rect x="417.28" y="717.96" width="58.43" height="6.45" fill="#fffebe"/>
<rect x="475.01" y="717.96" width="35.34" height="6.45" fill="#fffdbc"/>
<rect x="509.64" y="717.96" width="35.34" height="6.45" fill="#fffdbc"/>
<rect x="544.28" y="717.96" width="12.25" height="6.45" fill="#fffcba"/>
<rect x="555.82" y="717.96" width="23.79" height="6.45" fill="#fffcba"/>
<rect x="578.91" y="717.96" width="12.25" height="6.45" fill="#fffbb8"/>
<rect x="590.46" y="717.96" width="12.25" height="6.45" fill="#fffbb8"/>
<rect x="602" y="717.96" width="11.55" height="6.45" fill="#fffab6"/>
<rect x="371.1" y="723.72" width="46.88" height="6.45" fill="#fffebe"/>
<rect x="417.28" y="723.72" width="46.88" height="6.45" fill="#fffebe"/>
<rect x="463.46" y="723.72" width="35.34" height="6.45" fill="#fffdbc"/>
<rect x="498.1" y="723.72" width="35.34" height="6.45" fill="#fffdbc"/>
<rect x="532.73" y="723.72" width="12.25" height="6.45" fill="#fffcba"/>
<rect x="544.28" y="723.72" width="23.79" height="6.45" fill="#fffcba"/>
<rect x="567.37" y="723.72" width="12.25" height="6.45" fill="#fffbb8"/>
<rect x="578.91" y="723.72" width="12.25" height="6.45" fill="#fffbb8"/>
<rect x="590.46" y="723.72" width="12.25" height="6.45" fill="#fffab6"/>
<rect x="602" y="723.72" width="11.55" height="6.45" fill="#fffab6"/>
<rect x="371.1" y="729.47" width="35.34" height="6.45" fill="#fffebe"/>
<rect x="405.74" y="729.47" width="46.88" height="6.45" fill="#fffebe"/>
<rect x="451.92" y="729.47" width="35.34" height="6.45" fill="#fffdbc"/>
<rect x="486.55" y="729.47" width="35.34" height="6.45" fill="#fffdbc"/>
<rect x="521.19" y="729.47" width="23.79" height="6.45" fill="#fffcba"/>
<rect x="544.28" y="729.47" width="12.25" height="6.45" fill="#fffcba"/>
<rect x="555.82" y="729.47" width="12.25" height="6.45" fill="#fffbb8"/>
<rect x="567.37" y="729.47" width="12.25" height="6.45" fill="#fffbb8"/>
<rect x="578.91" y="729.47" width="12.25" height="6.45" fill="#fffab6"/>
<rect x="590.46" y="729.47" width="23.09" height="6.45" fill="#fffab6"/>
<rect x="371.1" y="735.22" width="23.79" height="6.45" fill="#fffebe"/>
<rect x="394.19" y="735.22" width="46.88" height="6.45" fill="#fffebe"/>
<rect x="440.37" y="735.22" width="46.88" height="6.45" fill="#fffdbc"/>
<rect x="486.55" y="735.22" width="23.79" height="6.45" fill="#fffdbc"/>
<rect x="509.64" y="735.22" width="23.79" height="6.45" fill="#fffcba"/>
<rect x="532.73" y="735.22" width="12.25" height="6.45" fill="#fffcba"/>
<rect x="544.28" y="735.22" width="12.25" height="6.45" fill="#fffbb8"/>
<rect x="555.82" y="735.22" width="12.25" height="6.45" fill="#fffbb8"/>
<rect x="567.37" y="735.22" width="23.79" height="6.45" fill="#fffab6"/>
<rect x="590.46" y="735.22" width="12.25" height="6.45" fill="#fffab6"/>
<rect x="602" y="735.22" width="11.55" height="6.45" fill="#fff8b4"/>
<rect x="371.1" y="740.97" width="12.25" height="6.45" fill="#fffebe"/>
<rect x="382.65" y="740.97" width="46.88" height="6.45" fill="#fffebe"/>
<rect x="428.83" y="740.97" width="46.88" height="6.45" fill="#fffdbc"/>
<rect x="475.01" y="740.97" width="23.79" height="6.45" fill="#fffdbc"/>
<rect x="498.1" y="740.97" width="23.79" height="6.45" fill="#fffcba"/>
<rect x="521.19" y="740.97" width="12.25" height="6.45" fill="#fffcba"/>
<rect x="532.73" y="740.97" width="12.25" height="6.45" fill="#fffbb8"/>
<rect x="544.28" y="740.97" width="12.25" height="6.45" fill="#fffbb8"/>
<rect x="555.82" y="740.97" width="23.79" height="6.45" fill="#fffab6"/>
<rect x="578.91" y="740.97" width="12.25" height="6.45" fill="#fffab6"/>
<rect x="590.46" y="740.97" width="12.25" height="6.45" fill="#fff8b4"/>
<rect x="602" y="740.97" width="11.55" height="6.45" fill="#fff8b4"/>
<rect x="371.1" y="746.72" width="46.88" height="6.45" fill="#fffebe"/>
<rect x="417.28" y="746.72" width="46.88" height="6.45" fill="#fffdbc"/>
<rect x="463.46" y="746.72" width="23.79" height="6.45" fill="#fffdbc"/>
<rect x="486.55" y="746.72" width="23.79" height="6.45" fill="#fffcba"/>
<rect x="509.64" y="746.72" width="12.25" height="6.45" fill="#fffcba"/>
<rect x="521.19" y="746.72" width="12.25" height="6.45" fill="#fffbb8"/>
<rect x="532.73" y="746.72" width="12.25" height="6.45" fill="#fffbb8"/>
<rect x="544.28" y="746.72" width="23.79" height="6.45" fill="#fffab6"/>
<rect x="567.37" y="746.72" width="12.25" height="6.45" fill="#fffab6"/>
<rect x="578.91" y="746.72" width="12.25" height="6.45" fill="#fff8b4"/>
<rect x="590.46" y="746.72" width="12.25" height="6.45" fill="#fff8b4"/>
<rect x="602" y="746.72" width="11.55" height="6.45" fill="#fff7b2"/>
<rect x="371.1" y="752.47" width="35.34" height="6.45" fill="#fffebe"/>
<rect x="405.74" y="752.47" width="46.88" height="6.45" fill="#fffdbc"/>
<rect x="451.92" y="752.47" width="23.79" height="6.45" fill="#fffdbc"/>
<rect x="475.01" y="752.47" width="23.79" height="6.45" fill="#fffcba"/>
<rect x="498.1" y="752.47" width="12.25" height="6.45" fill="#fffcba"/>
<rect x="509.64" y="752.47" width="12.25" height="6.45" fill="#fffbb8"/>
<rect x="521.19" y="752.47" width="12.25" height="6.45" fill="#fffbb8"/>
<rect x="532.73" y="752.47" width="23.79" height="6.45" fill="#fffab6"/>
<rect x="555.82" y="752.47" width="12.25" height="6.45" fill="#fffab6"/>
<rect x="567.37" y="752.47" width="12.25" height="6.45" fill="#fff8b4"/>
<rect x="578.91" y="752.47" width="12.25" height="6.45" fill="#fff8b4"/>
<rect x="590.46" y="752.47" width="12.25" height="6.45" fill="#fff7b2"/>
<rect x="602" y="752.47" width="11.55" height="6.45" fill="#fff7b2"/>
<rect x="371.1" y="758.22" width="23.79" height="6.45" fill="#fffebe"/>
<rect x="394.19" y="758.22" width="46.88" height="6.45" fill="#fffdbc"/>
<rect x="440.37" y="758.22" width="23.79" height="6.45" fill="#fffdbc"/>
<rect x="463.46" y="758.22" width="23.79" height="6.45" fill="#fffcba"/>
<rect x="486.55" y="758.22" width="12.25" height="6.45" fill="#fffcba"/>
<rect x="498.1" y="758.22" width="12.25" height="6.45" fill="#fffbb8"/>
<rect x="509.64" y="758.22" width="23.79" height="6.45" fill="#fffbb8"/>
<rect x="532.73" y="758.22" width="12.25" height="6.45" fill="#fffab6"/>
<rect x="544.28" y="758.22" width="12.25" height="6.45" fill="#fffab6"/>
<rect x="555.82" y="758.22" width="12.25" height="6.45" fill="#fff8b4"/>
<rect x="567.37" y="758.22" width="12.25" height="6.45" fill="#fff8b4"/>
<rect x="578.91" y="758.22" width="12.25" height="6.45" fill="#fff7b2"/>
<rect x="590.46" y="758.22" width="12.25" height="6.45" fill="#fff7b2"/>
<rect x="602" y="758.22" width="11.55" height="6.45" fill="#fff6b0"/>
<rect x="371.1" y="763.97" width="23.79" height="6.45" fill="#fffebe"/>
<rect x="394.19" y="763.97" width="35.34" height="6.45" fill="#fffdbc"/>
<rect x="428.83" y="763.97" width="23.79" height="6.45" fill="#fffdbc"/>
<rect x="451.92" y="763.97" width="23.79" height="6.45" fill="#fffcba"/>
<rect x="475.01" y="763.97" width="12.25" height="6.45" fill="#fffcba"/>
<rect x="486.55" y="763.97" width="12.25" height="6.45" fill="#fffbb8"/>
<rect x="498.1" y="763.97" width="23.79" height="6.45" fill="#fffbb8"/>
<rect x="521.19" y="763.97" width="12.25" height="6.45" fill="#fffab6"/>
<rect x="532.73" y="763.97" width="12.25" height="6.45" fill="#fffab6"/>
<rect x="544.28" y="763.97" width="12.25" height="6.45" fill="#fff8b4"/>
<rect x="555.82" y="763.97" width="12.25" height="6.45" fill="#fff8b4"/>
<rect x="567.37" y="763.97" width="12.25" height="6.45" fill="#fff7b2"/>
<rect x="578.91" y="763.97" width="12.25" height="6.45" fill="#fff7b2"/>
<rect x="590.46" y="763.97" width="12.25" height="6.45" fill="#fff6b0"/>
<rect x="602" y="763.97" width="11.55" height="6.45" fill="#fff6b0"/>
<rect x="371.1" y="769.72" width="12.25" height="6.45" fill="#fffebe"/>
<rect x="382.65" y="769.72" width="35.34" height="6.45" fill="#fffdbc"/>
<rect x="417.28" y="769.72" width="23.79" height="6.45" fill="#fffdbc"/>
<rect x="440.37" y="769.72" width="23.79" height="6.45" fill="#fffcba"/>
<rect x="463.46" y="769.72" width="12.25" height="6.45" fill="#fffcba"/>
<rect x="475.01" y="769.72" width="12.25" height="6.45" fill="#fffbb8"/>
<rect x="486.55" y="769.72" width="23.79" height="6.45" fill="#fffbb8"/>
<rect x="509.64" y="769.72" width="12.25" height="6.45" fill="#fffab6"/>
<rect x="521.19" y="769.72" width="12.25" height="6.45" fill="#fffab6"/>
<rect x="532.73" y="769.72" width="12.25" height="6.45" fill="#fff8b4"/>
<rect x="544.28" y="769.72" width="23.79" height="6.45" fill="#fff8b4"/>
<rect x="567.37" y="769.72" width="12.25" height="6.45" fill="#fff7b2"/>
<rect x="578.91" y="769.72" width="12.25" height="6.45" fill="#fff6b0"/>
<rect x="590.46" y="769.72" width="12.25" height="6.45" fill="#fff6b0"/>
<rect x="602" y="769.72" width="11.55" height="6.45" fill="#fff5ae"/>
<rect x="371.1" y="775.48" width="35.34" height="6.45" fill="#fffdbc"/>
<rect x="405.74" y="775.48" width="23.79" height="6.45" fill="#fffdbc"/>
<rect x="428.83" y="775.48" width="23.79" height="6.45" fill="#fffcba"/>
<rect x="451.92" y="775.48" width="12.25" height="6.45" fill="#fffcba"/>
<rect x="463.46" y="775.48" width="12.25" height="6.45" fill="#fffbb8"/>
<rect x="475.01" y="775.48" width="23.79" height="6.45" fill="#fffbb8"/>
<rect x="498.1" y="775.48" width="12.25" height="6.45" fill="#fffab6"/>
<rect x="509.64" y="775.48" width="12.25" height="6.45" fill="#fffab6"/>
<rect x="521.19" y="775.48" width="12.25" height="6.45" fill="#fff8b4"/>
<rect x="532.73" y="775.48" width="23.79" height="6.45" fill="#fff8b4"/>
<rect x="555.82" y="775.48" width="12.25" height="6.45" fill="#fff7b2"/>
<rect x="567.37" y="775.48" width="12.25" height="6.45" fill="#fff6b0"/>
<rect x="578.91" y="775.48" width="12.25" height="6.45" fill="#fff6b0"/>
<rect x="590.46" y="775.48" width="12.25" height="6.45" fill="#fff5ae"/>
<rect x="602" y="775.48" width="11.55" height="6.45" fill="#fff3ac"/>
<rect x="371.1" y="781.23" width="23.79" height="6.45" fill="#fffdbc"/>
<rect x="394.19" y="781.23" width="23.79" height="6.45" fill="#fffdbc"/>
<rect x="417.28" y="781.23" width="23.79" height="6.45" fill="#fffcba"/>
<rect x="440.37" y="781.23" width="12.25" height="6.45" fill="#fffcba"/>
<rect x="451.92" y="781.23" width="23.79" height="6.45" fill="#fffbb8"/>
<rect x="475.01" y="781.23" width="12.25" height="6.45" fill="#fffbb8"/>
<rect x="486.55" y="781.23" width="12.25" height="6.45" fill="#fffab6"/>
<rect x="498.1" y="781.23" width="12.25" height="6.45" fill="#fffab6"/>
<rect x="509.64" y="781.23" width="12.25" height="6.45" fill="#fff8b4"/>
<rect x="521.19" y="781.23" width="23.79" height="6.45" fill="#fff8b4"/>
<rect x="544.28" y="781.23" width="12.25" height="6.45" fill="#fff7b2"/>
<rect x="555.82" y="781.23" width="12.25" height="6.45" fill="#fff6b0"/>
<rect x="567.37" y="781.23" width="12.25" height="6.45" fill="#fff6b0"/>
<rect x="578.91" y="781.23" width="12.25" height="6.45" fill="#fff5ae"/>
<rect x="590.46" y="781.23" width="12.25" height="6.45" fill="#fff3ac"/>
<rect x="602" y="781.23" width="11.55" height="6.45" fill="#fff1a8"/>
<rect x="371.1" y="786.98" width="12.25" height="6.45" fill="#fffdbc"/>
<rect x="382.65" y="786.98" width="23.79" height="6.45" fill="#fffdbc"/>
<rect x="405.74" y="786.98" width="23.79" height="6.45" fill="#fffcba"/>
<rect x="428.83" y="786.98" width="12.25" height="6.45" fill="#fffcba"/>
<rect x="440.37" y="786.98" width="23.79" height="6.45" fill="#fffbb8"/>
<rect x="463.46" y="786.98" width="12.25" height="6.45" fill="#fffbb8"/>
<rect x="475.01" y="786.98" width="12.25" height="6.45" fill="#fffab6"/>
<rect x="486.55" y="786.98" width="12.25" height="6.45" fill="#fffab6"/>
<rect x="498.1" y="786.98" width="12.25" height="6.45" fill="#fff8b4"/>
<rect x="509.64" y="786.98" width="23.79" height="6.45" fill="#fff8b4"/>
<rect x="532.73" y="786.98" width="12.25" height="6.45" fill="#fff7b2"/>
<rect x="544.28" y="786.98" width="12.25" height="6.45" fill="#fff6b0"/>
<rect x="555.82" y="786.98" width="12.25" height="6.45" fill="#fff6b0"/>
<rect x="567.37" y="786.98" width="12.25" height="6.45" fill="#fff5ae"/>
<rect x="578.91" y="786.98" width="12.25" height="6.45" fill="#fff3ac"/>
<rect x="590.46" y="786.98" width="12.25" height="6.45" fill="#fff1a8"/>
<rect x="602" y="786.98" width="11.55" height="6.45" fill="#feefa3"/>
<rect x="371.1" y="792.73" width="23.79" height="6.45" fill="#fffdbc"/>
<rect x="394.19" y="792.73" width="23.79" height="6.45" fill="#fffcba"/>
<rect x="417.28" y="792.73" width="12.25" height="6.45" fill="#fffcba"/>
<rect x="428.83" y="792.73" width="23.79" height="6.45" fill="#fffbb8"/>
<rect x="451.92" y="792.73" width="12.25" height="6.45" fill="#fffbb8"/>
<rect x="463.46" y="792.73" width="12.25" height="6.45" fill="#fffab6"/>
<rect x="475.01" y="792.73" width="12.25" height="6.45" fill="#fffab6"/>
<rect x="486.55" y="792.73" width="23.79" height="6.45" fill="#fff8b4"/>
<rect x="509.64" y="792.73" width="12.25" height="6.45" fill="#fff8b4"/>
<rect x="521.19" y="792.73" width="12.25" height="6.45" fill="#fff7b2"/>
<rect x="532.73" y="792.73" width="12.25" height="6.45" fill="#fff6b0"/>
<rect x="544.28" y="792.73" width="12.25" height="6.45" fill="#fff6b0"/>
<rect x="555.82" y="792.73" width="12.25" height="6.45" fill="#fff5ae"/>
<rect x="567.37" y="792.73" width="12.25" height="6.45" fill="#fff3ac"/>
<rect x="578.91" y="792.73" width="12.25" height="6.45" fill="#fff1a8"/>
<rect x="590.46" y="792.73" width="12.25" height="6.45" fill="#feefa3"/>
<rect x="602" y="792.73" width="11.55" height="6.45" fill="#feec9f"/>
<rect x="371.1" y="798.48" width="12.25" height="6.45" fill="#fffdbc"/>
<rect x="382.65" y="798.48" width="23.79" height="6.45" fill="#fffcba"/>
<rect x="405.74" y="798.48" width="12.25" height="6.45" fill="#fffcba"/>
<rect x="417.28" y="798.48" width="23.79" height="6.45" fill="#fffbb8"/>
<rect x="440.37" y="798.48" width="12.25" height="6.45" fill="#fffbb8"/>
<rect x="451.92" y="798.48" width="12.25" height="6.45" fill="#fffab6"/>
<rect x="463.46" y="798.48" width="12.25" height="6.45" fill="#fffab6"/>
<rect x="475.01" y="798.48" width="23.79" height="6.45" fill="#fff8b4"/>
<rect x="498.1" y="798.48" width="12.25" height="6.45" fill="#fff8b4"/>
<rect x="509.64" y="798.48" width="12.25" height="6.45" fill="#fff7b2"/>
<rect x="521.19" y="798.48" width="12.25" height="6.45" fill="#fff6b0"/>
<rect x="532.73" y="798.48" width="12.25" height="6.45" fill="#fff6b0"/>
<rect x="544.28" y="798.48" width="12.25" height="6.45" fill="#fff5ae"/>
<rect x="555.82" y="798.48" width="12.25" height="6.45" fill="#fff3ac"/>
<rect x="567.37" y="798.48" width="12.25" height="6.45" fill="#fff2aa"/>
<rect x="578.91" y="798.48" width="12.25" height="6.45" fill="#feefa3"/>
<rect x="590.46" y="798.48" width="12.25" height="6.45" fill="#feeda1"/>
<rect x="602" y="798.48" width="11.55" height="6.45" fill="#feea9b"/>
<rect x="371.1" y="804.23" width="12.25" height="6.45" fill="#fffdbc"/>
<rect x="382.65" y="804.23" width="12.25" height="6.45" fill="#fffcba"/>
<rect x="394.19" y="804.23" width="23.79" height="6.45" fill="#fffcba"/>
<rect x="417.28" y="804.23" width="12.25" height="6.45" fill="#fffbb8"/>
<rect x="428.83" y="804.23" width="12.25" height="6.45" fill="#fffbb8"/>
<rect x="440.37" y="804.23" width="12.25" height="6.45" fill="#fffab6"/>
<rect x="451.92" y="804.23" width="12.25" height="6.45" fill="#fffab6"/>
<rect x="463.46" y="804.23" width="23.79" height="6.45" fill="#fff8b4"/>
<rect x="486.55" y="804.23" width="12.25" height="6.45" fill="#fff8b4"/>
<rect x="498.1" y="804.23" width="12.25" height="6.45" fill="#fff7b2"/>
<rect x="509.64" y="804.23" width="12.25" height="6.45" fill="#fff6b0"/>
<rect x="521.19" y="804.23" width="12.25" height="6.45" fill="#fff6b0"/>
<rect x="532.73" y="804.23" width="12.25" height="6.45" fill="#fff5ae"/>
<rect x="544.28" y="804.23" width="12.25" height="6.45" fill="#fff3ac"/>
<rect x="555.82" y="804.23" width="12.25" height="6.45" fill="#fff2aa"/>
<rect x="567.37" y="804.23" width="12.25" height="6.45" fill="#feefa3"/>
<rect x="578.91" y="804.23" width="12.25" height="6.45" fill="#feeda1"/>
<rect x="590.46" y="804.23" width="12.25" height="6.45" fill="#feea9b"/>
<rect x="602" y="804.23" width="11.55" height="6.45" fill="#fee593"/>
<rect x="371.1" y="809.98" width="12.25" height="6.45" fill="#fffcba"/>
<rect x="382.65" y="809.98" width="23.79" height="6.45" fill="#fffcba"/>
<rect x="405.74" y="809.98" width="12.25" height="6.45" fill="#fffbb8"/>
<rect x="417.28" y="809.98" width="12.25" height="6.45" fill="#fffbb8"/>
<rect x="428.83" y="809.98" width="12.25" height="6.45" fill="#fffab6"/>
<rect x="440.37" y="809.98" width="12.25" height="6.45" fill="#fffab6"/>
<rect x="451.92" y="809.98" width="23.79" height="6.45" fill="#fff8b4"/>
<rect x="475.01" y="809.98" width="12.25" height="6.45" fill="#fff8b4"/>
<rect x="486.55" y="809.98" width="12.25" height="6.45" fill="#fff7b2"/>
<rect x="498.1" y="809.98" width="12.25" height="6.45" fill="#fff6b0"/>
<rect x="509.64" y="809.98" width="12.25" height="6.45" fill="#fff6b0"/>
<rect x="521.19" y="809.98" width="12.25" height="6.45" fill="#fff5ae"/>
<rect x="532.73" y="809.98" width="12.25" height="6.45" fill="#fff3ac"/>
<rect x="544.28" y="809.98" width="12.25" height="6.45" fill="#fff2aa"/>
<rect x="555.82" y="809.98" width="12.25" height="6.45" fill="#feefa3"/>
<rect x="567.37" y="809.98" width="12.25" height="6.45" fill="#feeda1"/>
<rect x="578.91" y="809.98" width="12.25" height="6.45" fill="#feea9b"/>
<rect x="590.46" y="809.98" width="12.25" height="6.45" fill="#fee593"/>
<rect x="602" y="809.98" width="11.55" height="6.45" fill="#fee28f"/>
<rect x="371.1" y="815.73" width="23.79" height="6.45" fill="#fffcba"/>
<rect x="394.19" y="815.73" width="12.25" height="6.45" fill="#fffbb8"/>
<rect x="405.74" y="815.73" width="12.25" height="6.45" fill="#fffbb8"/>
<rect x="417.28" y="815.73" width="12.25" height="6.45" fill="#fffab6"/>
<rect x="428.83" y="815.73" width="23.79" height="6.45" fill="#fffab6"/>
<rect x="451.92" y="815.73" width="12.25" height="6.45" fill="#fff8b4"/>
<rect x="463.46" y="815.73" width="12.25" height="6.45" fill="#fff8b4"/>
<rect x="475.01" y="815.73" width="12.25" height="6.45" fill="#fff7b2"/>
<rect x="486.55" y="815.73" width="12.25" height="6.45" fill="#fff7b2"/>
<rect x="498.1" y="815.73" width="12.25" height="6.45" fill="#fff6b0"/>
<rect x="509.64" y="815.73" width="12.25" height="6.45" fill="#fff5ae"/>
<rect x="521.19" y="815.73" width="12.25" height="6.45" fill="#fff3ac"/>
<rect x="532.73" y="815.73" width="12.25" height="6.45" fill="#fff2aa"/>
<rect x="544.28" y="815.73" width="12.25" height="6.45" fill="#fff0a6"/>
<rect x="555.82" y="815.73" width="12.25" height="6.45" fill="#feeda1"/>
<rect x="567.37" y="815.73" width="12.25" height="6.45" fill="#feea9b"/>
<rect x="578.91" y="815.73" width="12.25" height="6.45" fill="#fee695"/>
<rect x="590.46" y="815.73" width="12.25" height="6.45" fill="#fee28f"/>
<rect x="602" y="815.73" width="11.55" height="6.45" fill="#fedc88"/>
<rect x="371.1" y="821.48" width="12.25" height="6.45" fill="#fffcba"/>
<rect x="382.65" y="821.48" width="12.25" height="6.45" fill="#fffbb8"/>
<rect x="394.19" y="821.48" width="12.25" height="6.45" fill="#fffbb8"/>
<rect x="405.74" y="821.48" width="12.25" height="6.45" fill="#fffab6"/>
<rect x="417.28" y="821.48" width="23.79" height="6.45" fill="#fffab6"/>
<rect x="440.37" y="821.48" width="12.25" height="6.45" fill="#fff8b4"/>
<rect x="451.92" y="821.48" width="12.25" height="6.45" fill="#fff8b4"/>
<rect x="463.46" y="821.48" width="12.25" height="6.45" fill="#fff7b2"/>
<rect x="475.01" y="821.48" width="12.25" height="6.45" fill="#fff7b2"/>
<rect x="486.55" y="821.48" width="12.25" height="6.45" fill="#fff6b0"/>
<rect x="498.1" y="821.48" width="12.25" height="6.45" fill="#fff5ae"/>
<rect x="509.64" y="821.48" width="12.25" height="6.45" fill="#fff3ac"/>
<rect x="521.19" y="821.48" width="12.25" height="6.45" fill="#fff2aa"/>
<rect x="532.73" y="821.48" width="12.25" height="6.45" fill="#fff0a6"/>
<rect x="544.28" y="821.48" width="12.25" height="6.45" fill="#feeda1"/>
<rect x="555.82" y="821.48" width="12.25" height="6.45" fill="#feeb9d"/>
<rect x="567.37" y="821.48" width="12.25" height="6.45" fill="#fee695"/>
<rect x="578.91" y="821.48" width="12.25" height="6.45" fill="#fee28f"/>
<rect x="590.46" y="821.48" width="12.25" height="6.45" fill="#fedc88"/>
<rect x="602" y="821.48" width="11.55" height="6.45" fill="#fed481"/>
<rect x="371.1" y="827.24" width="12.25" height="6.45" fill="#fffbb8"/>
<rect x="382.65" y="827.24" width="12.25" height="6.45" fill="#fffbb8"/>
<rect x="394.19" y="827.24" width="12.25" height="6.45" fill="#fffab6"/>
<rect x="405.74" y="827.24" width="23.79" height="6.45" fill="#fffab6"/>
<rect x="428.83" y="827.24" width="12.25" height="6.45" fill="#fff8b4"/>
<rect x="440.37" y="827.24" width="12.25" height="6.45" fill="#fff8b4"/>
<rect x="451.92" y="827.24" width="12.25" height="6.45" fill="#fff7b2"/>
<rect x="463.46" y="827.24" width="12.25" height="6.45" fill="#fff7b2"/>
<rect x="475.01" y="827.24" width="12.25" height="6.45" fill="#fff6b0"/>
<rect x="486.55" y="827.24" width="12.25" height="6.45" fill="#fff5ae"/>
<rect x="498.1" y="827.24" width="12.25" height="6.45" fill="#fff3ac"/>
<rect x="509.64" y="827.24" width="12.25" height="6.45" fill="#fff2aa"/>
<rect x="521.19" y="827.24" width="12.25" height="6.45" fill="#fff0a6"/>
<rect x="532.73" y="827.24" width="12.25" height="6.45" fill="#feeda1"/>
<rect x="544.28" y="827.24" width="12.25" height="6.45" fill="#feeb9d"/>
<rect x="555.82" y="827.24" width="12.25" height="6.45" fill="#fee695"/>
<rect x="567.37" y="827.24" width="12.25" height="6.45" fill="#fee28f"/>
<rect x="578.91" y="827.24" width="12.25" height="6.45" fill="#fedc88"/>
<rect x="590.46" y="827.24" width="12.25" height="6.45" fill="#fed481"/>
<rect x="602" y="827.24" width="11.55" height="6.45" fill="#fecc7b"/>
<rect x="371.1" y="832.99" width="12.25" height="6.45" fill="#fffbb8"/>
<rect x="382.65" y="832.99" width="12.25" height="6.45" fill="#fffab6"/>
<rect x="394.19" y="832.99" width="23.79" height="6.45" fill="#fffab6"/>
<rect x="417.28" y="832.99" width="12.25" height="6.45" fill="#fff8b4"/>
<rect x="428.83" y="832.99" width="12.25" height="6.45" fill="#fff8b4"/>
<rect x="440.37" y="832.99" width="12.25" height="6.45" fill="#fff7b2"/>
<rect x="451.92" y="832.99" width="12.25" height="6.45" fill="#fff7b2"/>
<rect x="463.46" y="832.99" width="12.25" height="6.45" fill="#fff6b0"/>
<rect x="475.01" y="832.99" width="12.25" height="6.45" fill="#fff5ae"/>
<rect x="486.55" y="832.99" width="12.25" height="6.45" fill="#fff3ac"/>
<rect x="498.1" y="832.99" width="12.25" height="6.45" fill="#fff2aa"/>
<rect x="509.64" y="832.99" width="12.25" height="6.45" fill="#fff0a6"/>
<rect x="521.19" y="832.99" width="12.25" height="6.45" fill="#feeda1"/>
<rect x="532.73" y="832.99" width="12.25" height="6.45" fill="#feeb9d"/>
<rect x="544.28" y="832.99" width="12.25" height="6.45" fill="#fee695"/>
<rect x="555.82" y="832.99" width="12.25" height="6.45" fill="#fee28f"/>
<rect x="567.37" y="832.99" width="12.25" height="6.45" fill="#fedc88"/>
<rect x="578.91" y="832.99" width="12.25" height="6.45" fill="#fed481"/>
<rect x="590.46" y="832.99" width="12.25" height="6.45" fill="#fecc7b"/>
<rect x="602" y="832.99" width="11.55" height="6.45" fill="#fdc171"/>
<rect x="371.1" y="838.74" width="23.79" height="6.45" fill="#fffab6"/>
<rect x="394.19" y="838.74" width="12.25" height="6.45" fill="#fffab6"/>
<rect x="405.74" y="838.74" width="12.25" height="6.45" fill="#fff8b4"/>
<rect x="417.28" y="838.74" width="12.25" height="6.45" fill="#fff8b4"/>
<rect x="428.83" y="838.74" width="12.25" height="6.45" fill="#fff7b2"/>
<rect x="440.37" y="838.74" width="12.25" height="6.45" fill="#fff7b2"/>
<rect x="451.92" y="838.74" width="12.25" height="6.45" fill="#fff6b0"/>
<rect x="463.46" y="838.74" width="12.25" height="6.45" fill="#fff5ae"/>
<rect x="475.01" y="838.74" width="12.25" height="6.45" fill="#fff3ac"/>
<rect x="486.55" y="838.74" width="12.25" height="6.45" fill="#fff2aa"/>
<rect x="498.1" y="838.74" width="12.25" height="6.45" fill="#fff0a6"/>
<rect x="509.64" y="838.74" width="12.25" height="6.45" fill="#feeda1"/>
<rect x="521.19" y="838.74" width="12.25" height="6.45" fill="#feeb9d"/>
<rect x="532.73" y="838.74" width="12.25" height="6.45" fill="#fee695"/>
<rect x="544.28" y="838.74" width="12.25" height="6.45" fill="#fee28f"/>
<rect x="555.82" y="838.74" width="12.25" height="6.45" fill="#fede89"/>
<rect x="567.37" y="838.74" width="12.25" height="6.45" fill="#fed683"/>
<rect x="578.91" y="838.74" width="12.25" height="6.45" fill="#fecc7b"/>
<rect x="590.46" y="838.74" width="12.25" height="6.45" fill="#fdc372"/>
<rect x="602" y="838.74" width="11.55" height="6.45" fill="#fdb768"/>
<rect x="371.1" y="844.49" width="12.25" height="6.45" fill="#fffab6"/>
<rect x="382.65" y="844.49" width="12.25" height="6.45" fill="#fffab6"/>
<rect x="394.19" y="844.49" width="12.25" height="6.45" fill="#fff8b4"/>
<rect x="405.74" y="844.49" width="12.25" height="6.45" fill="#fff8b4"/>
<rect x="417.28" y="844.49" width="12.25" height="6.45" fill="#fff7b2"/>
<rect x="428.83" y="844.49" width="12.25" height="6.45" fill="#fff7b2"/>
<rect x="440.37" y="844.49" width="12.25" height="6.45" fill="#fff6b0"/>
<rect x="451.92" y="844.49" width="12.25" height="6.45" fill="#fff5ae"/>
<rect x="463.46" y="844.49" width="12.25" height="6.45" fill="#fff5ae"/>
<rect x="475.01" y="844.49" width="12.25" height="6.45" fill="#fff2aa"/>
<rect x="486.55" y="844.49" width="12.25" height="6.45" fill="#fff0a6"/>
<rect x="498.1" y="844.49" width="12.25" height="6.45" fill="#feeda1"/>
<rect x="509.64" y="844.49" width="12.25" height="6.45" fill="#feeb9d"/>
<rect x="521.19" y="844.49" width="12.25" height="6.45" fill="#fee797"/>
<rect x="532.73" y="844.49" width="12.25" height="6.45" fill="#fee28f"/>
<rect x="544.28" y="844.49" width="12.25" height="6.45" fill="#fede89"/>
<rect x="555.82" y="844.49" width="12.25" height="6.45" fill="#fed683"/>
<rect x="567.37" y="844.49" width="12.25" height="6.45" fill="#fecc7b"/>
<rect x="578.91" y="844.49" width="12.25" height="6.45" fill="#fdc372"/>
<rect x="590.46" y="844.49" width="12.25" height="6.45" fill="#fdb96a"/>
<rect x="602" y="844.49" width="11.55" height="6.45" fill="#fdad60"/>
<rect x="371.1" y="850.24" width="12.25" height="6.45" fill="#fffab6"/>
<rect x="382.65" y="850.24" width="12.25" height="6.45" fill="#fff8b4"/>
<rect x="394.19" y="850.24" width="12.25" height="6.45" fill="#fff8b4"/>
<rect x="405.74" y="850.24" width="12.25" height="6.45" fill="#fff7b2"/>
<rect x="417.28" y="850.24" width="12.25" height="6.45" fill="#fff7b2"/>
<rect x="428.83" y="850.24" width="12.25" height="6.45" fill="#fff6b0"/>
<rect x="440.37" y="850.24" width="12.25" height="6.45" fill="#fff5ae"/>
<rect x="451.92" y="850.24" width="12.25" height="6.45" fill="#fff5ae"/>
<rect x="463.46" y="850.24" width="12.25" height="6.45" fill="#fff2aa"/>
<rect x="475.01" y="850.24" width="12.25" height="6.45" fill="#fff0a6"/>
<rect x="486.55" y="850.24" width="12.25" height="6.45" fill="#feeda1"/>
<rect x="498.1" y="850.24" width="12.25" height="6.45" fill="#feeb9d"/>
<rect x="509.64" y="850.24" width="12.25" height="6.45" fill="#fee797"/>
<rect x="521.19" y="850.24" width="12.25" height="6.45" fill="#fee491"/>
<rect x="532.73" y="850.24" width="12.25" height="6.45" fill="#fede89"/>
<rect x="544.28" y="850.24" width="12.25" height="6.45" fill="#fed683"/>
<rect x="555.82" y="850.24" width="12.25" height="6.45" fill="#fecc7b"/>
<rect x="567.37" y="850.24" width="12.25" height="6.45" fill="#fdc372"/>
<rect x="578.91" y="850.24" width="12.25" height="6.45" fill="#fdb96a"/>
<rect x="590.46" y="850.24" width="12.25" height="6.45" fill="#fdad60"/>
<rect x="602" y="850.24" width="11.55" height="6.45" fill="#fa9b58"/>
<rect x="371.1" y="855.99" width="12.25" height="6.45" fill="#fff8b4"/>
<rect x="382.65" y="855.99" width="12.25" height="6.45" fill="#fff8b4"/>
<rect x="394.19" y="855.99" width="12.25" height="6.45" fill="#fff7b2"/>
<rect x="405.74" y="855.99" width="12.25" height="6.45" fill="#fff7b2"/>
<rect x="417.28" y="855.99" width="12.25" height="6.45" fill="#fff6b0"/>
<rect x="428.83" y="855.99" width="12.25" height="6.45" fill="#fff5ae"/>
<rect x="440.37" y="855.99" width="12.25" height="6.45" fill="#fff5ae"/>
<rect x="451.92" y="855.99" width="12.25" height="6.45" fill="#fff2aa"/>
<rect x="463.46" y="855.99" width="12.25" height="6.45" fill="#fff1a8"/>
<rect x="475.01" y="855.99" width="12.25" height="6.45" fill="#feeda1"/>
<rect x="486.55" y="855.99" width="12.25" height="6.45" fill="#feeb9d"/>
<rect x="498.1" y="855.99" width="12.25" height="6.45" fill="#fee797"/>
<rect x="509.64" y="855.99" width="12.25" height="6.45" fill="#fee491"/>
<rect x="521.19" y="855.99" width="12.25" height="6.45" fill="#fede89"/>
<rect x="532.73" y="855.99" width="12.25" height="6.45" fill="#fed683"/>
<rect x="544.28" y="855.99" width="12.25" height="6.45" fill="#fece7c"/>
<rect x="555.82" y="855.99" width="12.25" height="6.45" fill="#fdc574"/>
<rect x="567.37" y="855.99" width="12.25" height="6.45" fill="#fdb96a"/>
<rect x="578.91" y="855.99" width="12.25" height="6.45" fill="#fdaf62"/>
<rect x="590.46" y="855.99" width="12.25" height="6.45" fill="#fa9b58"/>
<rect x="602" y="855.99" width="11.55" height="6.45" fill="#f88950"/>
<rect x="371.1" y="861.74" width="12.25" height="6.45" fill="#fff8b4"/>
<rect x="382.65" y="861.74" width="12.25" height="6.45" fill="#fff7b2"/>
<rect x="394.19" y="861.74" width="12.25" height="6.45" fill="#fff7b2"/>
<rect x="405.74" y="861.74" width="12.25" height="6.45" fill="#fff6b0"/>
<rect x="417.28" y="861.74" width="12.25" height="6.45" fill="#fff5ae"/>
<rect x="428.83" y="861.74" width="12.25" height="6.45" fill="#fff5ae"/>
<rect x="440.37" y="861.74" width="12.25" height="6.45" fill="#fff2aa"/>
<rect x="451.92" y="861.74" width="12.25" height="6.45" fill="#fff1a8"/>
<rect x="463.46" y="861.74" width="12.25" height="6.45" fill="#feeda1"/>
<rect x="475.01" y="861.74" width="12.25" height="6.45" fill="#feec9f"/>
<rect x="486.55" y="861.74" width="12.25" height="6.45" fill="#fee797"/>
<rect x="498.1" y="861.74" width="12.25" height="6.45" fill="#fee491"/>
<rect x="509.64" y="861.74" width="12.25" height="6.45" fill="#fee08b"/>
<rect x="521.19" y="861.74" width="12.25" height="6.45" fill="#fed683"/>
<rect x="532.73" y="861.74" width="12.25" height="6.45" fill="#fece7c"/>
<rect x="544.28" y="861.74" width="12.25" height="6.45" fill="#fdc574"/>
<rect x="555.82" y="861.74" width="12.25" height="6.45" fill="#fdbb6c"/>
<rect x="567.37" y="861.74" width="12.25" height="6.45" fill="#fdaf62"/>
<rect x="578.91" y="861.74" width="12.25" height="6.45" fill="#fa9b58"/>
<rect x="590.46" y="861.74" width="12.25" height="6.45" fill="#f88c51"/>
<rect x="602" y="861.74" width="11.55" height="6.45" fill="#f57245"/>
<rect x="371.1" y="867.49" width="12.25" height="6.45" fill="#fff8b4"/>
<rect x="382.65" y="867.49" width="12.25" height="6.45" fill="#fff7b2"/>
<rect x="394.19" y="867.49" width="12.25" height="6.45" fill="#fff6b0"/>
<rect x="405.74" y="867.49" width="12.25" height="6.45" fill="#fff6b0"/>
<rect x="417.28" y="867.49" width="12.25" height="6.45" fill="#fff5ae"/>
<rect x="428.83" y="867.49" width="12.25" height="6.45" fill="#fff2aa"/>
<rect x="440.37" y="867.49" width="12.25" height="6.45" fill="#fff1a8"/>
<rect x="451.92" y="867.49" width="12.25" height="6.45" fill="#feeda1"/>
<rect x="463.46" y="867.49" width="12.25" height="6.45" fill="#feec9f"/>
<rect x="475.01" y="867.49" width="12.25" height="6.45" fill="#fee999"/>
<rect x="486.55" y="867.49" width="12.25" height="6.45" fill="#fee491"/>
<rect x="498.1" y="867.49" width="12.25" height="6.45" fill="#fee08b"/>
<rect x="509.64" y="867.49" width="12.25" height="6.45" fill="#fed884"/>
<rect x="521.19" y="867.49" width="12.25" height="6.45" fill="#fece7c"/>
<rect x="532.73" y="867.49" width="12.25" height="6.45" fill="#fdc574"/>
<rect x="544.28" y="867.49" width="12.25" height="6.45" fill="#fdbb6c"/>
<rect x="555.82" y="867.49" width="12.25" height="6.45" fill="#fdaf62"/>
<rect x="567.37" y="867.49" width="12.25" height="6.45" fill="#fb9d59"/>
<rect x="578.91" y="867.49" width="12.25" height="6.45" fill="#f88c51"/>
<rect x="590.46" y="867.49" width="12.25" height="6.45" fill="#f57547"/>
<rect x="602" y="867.49" width="11.55" height="6.45" fill="#ee6445"/>
<rect x="371.1" y="873.25" width="12.25" height="6.45" fill="#fff7b2"/>
<rect x="382.65" y="873.25" width="12.25" height="6.45" fill="#fff6b0"/>
<rect x="394.19" y="873.25" width="12.25" height="6.45" fill="#fff6b0"/>
<rect x="405.74" y="873.25" width="12.25" height="6.45" fill="#fff5ae"/>
<rect x="417.28" y="873.25" width="12.25" height="6.45" fill="#fff3ac"/>
<rect x="428.83" y="873.25" width="12.25" height="6.45" fill="#fff1a8"/>
<rect x="440.37" y="873.25" width="12.25" height="6.45" fill="#feefa3"/>
<rect x="451.92" y="873.25" width="12.25" height="6.45" fill="#feec9f"/>
<rect x="463.46" y="873.25" width="12.25" height="6.45" fill="#fee999"/>
<rect x="475.01" y="873.25" width="12.25" height="6.45" fill="#fee491"/>
<rect x="486.55" y="873.25" width="12.25" height="6.45" fill="#fee08b"/>
<rect x="498.1" y="873.25" width="12.25" height="6.45" fill="#fed884"/>
<rect x="509.64" y="873.25" width="12.25" height="6.45" fill="#fece7c"/>
<rect x="521.19" y="873.25" width="12.25" height="6.45" fill="#fdc776"/>
<rect x="532.73" y="873.25" width="12.25" height="6.45" fill="#fdbb6c"/>
<rect x="544.28" y="873.25" width="12.25" height="6.45" fill="#fdb163"/>
<rect x="555.82" y="873.25" width="12.25" height="6.45" fill="#fb9d59"/>
<rect x="567.37" y="873.25" width="12.25" height="6.45" fill="#f88c51"/>
<rect x="578.91" y="873.25" width="12.25" height="6.45" fill="#f57547"/>
<rect x="590.46" y="873.25" width="12.25" height="6.45" fill="#ee6445"/>
<rect x="602" y="873.25" width="11.55" height="6.45" fill="#e1504b"/>
<rect x="371.1" y="879" width="12.25" height="6.45" fill="#fff6b0"/>
<rect x="382.65" y="879" width="12.25" height="6.45" fill="#fff6b0"/>
<rect x="394.19" y="879" width="12.25" height="6.45" fill="#fff5ae"/>
<rect x="405.74" y="879" width="12.25" height="6.45" fill="#fff3ac"/>
<rect x="417.28" y="879" width="12.25" height="6.45" fill="#fff1a8"/>
<rect x="428.83" y="879" width="12.25" height="6.45" fill="#feefa3"/>
<rect x="440.37" y="879" width="12.25" height="6.45" fill="#feec9f"/>
<rect x="451.92" y="879" width="12.25" height="6.45" fill="#fee999"/>
<rect x="463.46" y="879" width="12.25" height="6.45" fill="#fee491"/>
<rect x="475.01" y="879" width="12.25" height="6.45" fill="#fee08b"/>
<rect x="486.55" y="879" width="12.25" height="6.45" fill="#fed884"/>
<rect x="498.1" y="879" width="12.25" height="6.45" fill="#fed07e"/>
<rect x="509.64" y="879" width="12.25" height="6.45" fill="#fdc776"/>
<rect x="521.19" y="879" width="12.25" height="6.45" fill="#fdbb6c"/>
<rect x="532.73" y="879" width="12.25" height="6.45" fill="#fdb163"/>
<rect x="544.28" y="879" width="12.25" height="6.45" fill="#fba05b"/>
<rect x="555.82" y="879" width="12.25" height="6.45" fill="#f98e52"/>
<rect x="567.37" y="879" width="12.25" height="6.45" fill="#f57748"/>
<rect x="578.91" y="879" width="12.25" height="6.45" fill="#ee6445"/>
<rect x="590.46" y="879" width="12.25" height="6.45" fill="#e2514a"/>
<rect x="602" y="879" width="11.55" height="6.45" fill="#d43d4f"/>
<rect x="371.1" y="884.75" width="12.25" height="6.45" fill="#fff6b0"/>
<rect x="382.65" y="884.75" width="12.25" height="6.45" fill="#fff5ae"/>
<rect x="394.19" y="884.75" width="12.25" height="6.45" fill="#fff3ac"/>
<rect x="405.74" y="884.75" width="12.25" height="6.45" fill="#fff1a8"/>
<rect x="417.28" y="884.75" width="12.25" height="6.45" fill="#feefa3"/>
<rect x="428.83" y="884.75" width="12.25" height="6.45" fill="#feec9f"/>
<rect x="440.37" y="884.75" width="12.25" height="6.45" fill="#fee999"/>
<rect x="451.92" y="884.75" width="12.25" height="6.45" fill="#fee593"/>
<rect x="463.46" y="884.75" width="12.25" height="6.45" fill="#fee08b"/>
<rect x="475.01" y="884.75" width="12.25" height="6.45" fill="#fed884"/>
<rect x="486.55" y="884.75" width="12.25" height="6.45" fill="#fed07e"/>
<rect x="498.1" y="884.75" width="12.25" height="6.45" fill="#fdc776"/>
<rect x="509.64" y="884.75" width="12.25" height="6.45" fill="#fdbd6d"/>
<rect x="521.19" y="884.75" width="12.25" height="6.45" fill="#fdb163"/>
<rect x="532.73" y="884.75" width="12.25" height="6.45" fill="#fba05b"/>
<rect x="544.28" y="884.75" width="12.25" height="6.45" fill="#f98e52"/>
<rect x="555.82" y="884.75" width="12.25" height="6.45" fill="#f57748"/>
<rect x="567.37" y="884.75" width="12.25" height="6.45" fill="#ef6645"/>
<rect x="578.91" y="884.75" width="12.25" height="6.45" fill="#e3534a"/>
<rect x="590.46" y="884.75" width="12.25" height="6.45" fill="#d63f4f"/>
<rect x="602" y="884.75" width="11.55" height="6.45" fill="#b81e48"/>
<rect x="371.1" y="890.5" width="12.25" height="5.75" fill="#fff5ae"/>
<rect x="382.65" y="890.5" width="12.25" height="5.75" fill="#fff3ac"/>
<rect x="394.19" y="890.5" width="12.25" height="5.75" fill="#fff1a8"/>
<rect x="405.74" y="890.5" width="12.25" height="5.75" fill="#feefa3"/>
<rect x="417.28" y="890.5" width="12.25" height="5.75" fill="#feec9f"/>
<rect x="428.83" y="890.5" width="12.25" height="5.75" fill="#feea9b"/>
<rect x="440.37" y="890.5" width="12.25" height="5.75" fill="#fee593"/>
<rect x="451.92" y="890.5" width="12.25" height="5.75" fill="#fee18d"/>
<rect x="463.46" y="890.5" width="12.25" height="5.75" fill="#feda86"/>
<rect x="475.01" y="890.5" width="12.25" height="5.75" fill="#fed27f"/>
<rect x="486.55" y="890.5" width="12.25" height="5.75" fill="#fdc776"/>
<rect x="498.1" y="890.5" width="12.25" height="5.75" fill="#fdbd6d"/>
<rect x="509.64" y="890.5" width="12.25" height="5.75" fill="#fdb365"/>
<rect x="521.19" y="890.5" width="12.25" height="5.75" fill="#fba35c"/>
<rect x="532.73" y="890.5" width="12.25" height="5.75" fill="#f98e52"/>
<rect x="544.28" y="890.5" width="12.25" height="5.75" fill="#f67a49"/>
<rect x="555.82" y="890.5" width="12.25" height="5.75" fill="#ef6645"/>
<rect x="567.37" y="890.5" width="12.25" height="5.75" fill="#e3534a"/>
<rect x="578.91" y="890.5" width="12.25" height="5.75" fill="#d63f4f"/>
<rect x="590.46" y="890.5" width="12.25" height="5.75" fill="#ba2049"/>
<rect x="602" y="890.5" width="11.55" height="5.75" fill="#9e0142"/>
</g>
<linearGradient id="g6" x1="0" y1="0" x2="0" y2="1"><stop offset="0%" stop-color="#ffffbe"/><stop offset="2.08%" stop-color="#fffcba"/><stop offset="4.17%" stop-color="#fff8b4"/><stop offset="6.25%" stop-color="#fff6b0"/><stop offset="8.33%" stop-color="#fff2aa"/><stop offset="10.42%" stop-color="#feefa3"/><stop offset="12.5%" stop-color="#feec9f"/><stop offset="14.58%" stop-color="#fee999"/><stop offset="16.67%" stop-color="#fee593"/><stop offset="18.75%" stop-color="#fee28f"/><stop offset="20.83%" stop-color="#fede89"/><stop offset="22.92%" stop-color="#feda86"/><stop offset="25%" stop-color="#fed481"/><stop offset="27.08%" stop-color="#fece7c"/><stop offset="29.17%" stop-color="#fec877"/><stop offset="31.25%" stop-color="#fdc372"/><stop offset="33.33%" stop-color="#fdbf6f"/><stop offset="35.42%" stop-color="#fdb96a"/><stop offset="37.5%" stop-color="#fdb365"/><stop offset="39.58%" stop-color="#fdaf62"/><stop offset="41.67%" stop-color="#fca85e"/><stop offset="43.75%" stop-color="#fba05b"/><stop offset="45.83%" stop-color="#fa9b58"/><stop offset="47.92%" stop-color="#f99355"/><stop offset="50%" stop-color="#f98e52"/><stop offset="52.08%" stop-color="#f8864f"/><stop offset="54.17%" stop-color="#f67f4b"/><stop offset="56.25%" stop-color="#f67a49"/><stop offset="58.33%" stop-color="#f57245"/><stop offset="60.42%" stop-color="#f36b43"/><stop offset="62.5%" stop-color="#f06744"/><stop offset="64.58%" stop-color="#ed6246"/><stop offset="66.67%" stop-color="#e95c47"/><stop offset="68.75%" stop-color="#e75948"/><stop offset="70.83%" stop-color="#e3534a"/><stop offset="72.92%" stop-color="#df4e4b"/><stop offset="75%" stop-color="#dd4a4c"/><stop offset="77.08%" stop-color="#d9444d"/><stop offset="79.17%" stop-color="#d63f4f"/><stop offset="81.25%" stop-color="#d23a4e"/><stop offset="83.33%" stop-color="#cb334d"/><stop offset="85.42%" stop-color="#c52c4b"/><stop offset="87.5%" stop-color="#c1274a"/><stop offset="89.58%" stop-color="#ba2049"/><stop offset="91.67%" stop-color="#b41947"/><stop offset="93.75%" stop-color="#af1446"/><stop offset="95.83%" stop-color="#a90d45"/><stop offset="97.92%" stop-color="#a20643"/><stop offset="100%" stop-color="#9e0142"/></linearGradient>
<rect x="628.15" y="648.95" width="13.05" height="247.3" fill="url(#g6)"/>
<text x="646.5" y="653.4" class="t">0.00</text>
<text x="646.5" y="688.16" class="t">−0.02</text>
<text x="646.5" y="722.93" class="t">−0.04</text>
<text x="646.5" y="757.69" class="t">−0.06</text>
<text x="646.5" y="792.46" class="t">−0.08</text>
<text x="646.5" y="827.22" class="t">−0.10</text>
<text x="646.5" y="861.99" class="t">−0.12</text>
<text x="646.5" y="896.75" class="t">−0.14</text>
<path d="M641.2 649.3h2.9M641.2 684.06h2.9M641.2 718.83h2.9M641.2 753.59h2.9M641.2 788.36h2.9M641.2 823.12h2.9M641.2 857.89h2.9M641.2 892.65h2.9" class="k"/>
<path d="M371.1 651.83h-3.2M371.1 657.58h-3.2M371.1 663.33h-3.2M371.1 669.08h-3.2M371.1 674.83h-3.2M371.1 680.58h-3.2M371.1 686.33h-3.2M371.1 692.08h-3.2M371.1 697.83h-3.2M371.1 703.59h-3.2M371.1 709.34h-3.2M371.1 715.09h-3.2M371.1 720.84h-3.2M371.1 726.59h-3.2M371.1 732.34h-3.2M371.1 738.09h-3.2M371.1 743.84h-3.2M371.1 749.6h-3.2M371.1 755.35h-3.2M371.1 761.1h-3.2M371.1 766.85h-3.2M371.1 772.6h-3.2M371.1 778.35h-3.2M371.1 784.1h-3.2M371.1 789.85h-3.2M371.1 795.6h-3.2M371.1 801.36h-3.2M371.1 807.11h-3.2M371.1 812.86h-3.2M371.1 818.61h-3.2M371.1 824.36h-3.2M371.1 830.11h-3.2M371.1 835.86h-3.2M371.1 841.61h-3.2M371.1 847.37h-3.2M371.1 853.12h-3.2M371.1 858.87h-3.2M371.1 864.62h-3.2M371.1 870.37h-3.2M371.1 876.12h-3.2M371.1 881.87h-3.2M371.1 887.62h-3.2M371.1 893.37h-3.2" class="k"/>
<path d="M376.87 896.25v3.2M399.96 896.25v3.2M423.05 896.25v3.2M446.14 896.25v3.2M469.23 896.25v3.2M492.32 896.25v3.2M515.42 896.25v3.2M538.51 896.25v3.2M561.6 896.25v3.2M584.69 896.25v3.2M607.78 896.25v3.2" class="k"/>
<text x="492.12" y="643.55" class="ti m">male non-smoker - male smoker</text>
<g>
<rect x="30.25" y="927.2" width="242.7" height="247.1" fill="#fafdb7"/>
<rect x="30.25" y="927.2" width="35.37" height="6.45" fill="#fafdb7"/>
<rect x="64.92" y="927.2" width="35.37" height="6.45" fill="#fbfdb8"/>
<rect x="99.59" y="927.2" width="173.36" height="6.45" fill="#fbfdb8"/>
<rect x="30.25" y="932.95" width="35.37" height="6.45" fill="#fafdb7"/>
<rect x="64.92" y="932.95" width="35.37" height="6.45" fill="#fbfdb8"/>
<rect x="99.59" y="932.95" width="162.5" height="6.45" fill="#fbfdb8"/>
<rect x="261.39" y="932.95" width="11.56" height="6.45" fill="#fffcba"/>
<rect x="30.25" y="938.69" width="35.37" height="6.45" fill="#fafdb7"/>
<rect x="64.92" y="938.69" width="35.37" height="6.45" fill="#fbfdb8"/>
<rect x="99.59" y="938.69" width="150.94" height="6.45" fill="#fbfdb8"/>
<rect x="249.84" y="938.69" width="12.26" height="6.45" fill="#fffcba"/>
<rect x="261.39" y="938.69" width="11.56" height="6.45" fill="#fff5ae"/>
<rect x="30.25" y="944.44" width="35.37" height="6.45" fill="#fafdb7"/>
<rect x="64.92" y="944.44" width="35.37" height="6.45" fill="#fbfdb8"/>
<rect x="99.59" y="944.44" width="139.39" height="6.45" fill="#fbfdb8"/>
<rect x="238.28" y="944.44" width="12.26" height="6.45" fill="#fffcba"/>
<rect x="249.84" y="944.44" width="12.26" height="6.45" fill="#fff5ae"/>
<rect x="261.39" y="944.44" width="11.56" height="6.45" fill="#fffab6"/>
<rect x="30.25" y="950.19" width="35.37" height="6.45" fill="#fafdb7"/>
<rect x="64.92" y="950.19" width="35.37" height="6.45" fill="#fbfdb8"/>
<rect x="99.59" y="950.19" width="127.83" height="6.45" fill="#fbfdb8"/>
<rect x="226.72" y="950.19" width="12.26" height="6.45" fill="#fffcba"/>
<rect x="238.28" y="950.19" width="12.26" height="6.45" fill="#fff5ae"/>
<rect x="249.84" y="950.19" width="12.26" height="6.45" fill="#fffab6"/>
<rect x="261.39" y="950.19" width="11.56" height="6.45" fill="#fefebd"/>
<rect x="30.25" y="955.93" width="35.37" height="6.45" fill="#fafdb7"/>
<rect x="64.92" y="955.93" width="35.37" height="6.45" fill="#fbfdb8"/>
<rect x="99.59" y="955.93" width="116.27" height="6.45" fill="#fbfdb8"/>
<rect x="215.16" y="955.93" width="12.26" height="6.45" fill="#fffcba"/>
<rect x="226.72" y="955.93" width="12.26" height="6.45" fill="#fff5ae"/>
<rect x="238.28" y="955.93" width="12.26" height="6.45" fill="#fffab6"/>
<rect x="249.84" y="955.93" width="12.26" height="6.45" fill="#fefebd"/>
<rect x="261.39" y="955.93" width="11.56" height="6.45" fill="#fbfdb8"/>
<rect x="30.25" y="961.68" width="35.37" height="6.45" fill="#fafdb7"/>
<rect x="64.92" y="961.68" width="35.37" height="6.45" fill="#fbfdb8"/>
<rect x="99.59" y="961.68" width="104.71" height="6.45" fill="#fbfdb8"/>
<rect x="203.61" y="961.68" width="12.26" height="6.45" fill="#fffcba"/>
<rect x="215.16" y="961.68" width="12.26" height="6.45" fill="#fff5ae"/>
<rect x="226.72" y="961.68" width="12.26" height="6.45" fill="#fffab6"/>
<rect x="238.28" y="961.68" width="12.26" height="6.45" fill="#fefebd"/>
<rect x="249.84" y="961.68" width="12.26" height="6.45" fill="#fbfdb8"/>
<rect x="261.39" y="961.68" width="11.56" height="6.45" fill="#f9fcb5"/>
<rect x="30.25" y="967.43" width="35.37" height="6.45" fill="#fafdb7"/>
<rect x="64.92" y="967.43" width="35.37" height="6.45" fill="#fbfdb8"/>
<rect x="99.59" y="967.43" width="93.16" height="6.45" fill="#fbfdb8"/>
<rect x="192.05" y="967.43" width="12.26" height="6.45" fill="#fffcba"/>
<rect x="203.61" y="967.43" width="12.26" height="6.45" fill="#fff5ae"/>
<rect x="215.16" y="967.43" width="12.26" height="6.45" fill="#fffab6"/>
<rect x="226.72" y="967.43" width="12.26" height="6.45" fill="#fefebd"/>
<rect x="238.28" y="967.43" width="12.26" height="6.45" fill="#fbfdb8"/>
<rect x="249.84" y="967.43" width="12.26" height="6.45" fill="#f9fcb5"/>
<rect x="261.39" y="967.43" width="11.56" height="6.45" fill="#f9fcb5"/>
<rect x="30.25" y="973.17" width="35.37" height="6.45" fill="#fafdb7"/>
<rect x="64.92" y="973.17" width="35.37" height="6.45" fill="#fbfdb8"/>
<rect x="99.59" y="973.17" width="81.6" height="6.45" fill="#fbfdb8"/>
<rect x="180.49" y="973.17" width="12.26" height="6.45" fill="#fffcba"/>
<rect x="192.05" y="973.17" width="12.26" height="6.45" fill="#fff5ae"/>
<rect x="203.61" y="973.17" width="12.26" height="6.45" fill="#fffab6"/>
<rect x="215.16" y="973.17" width="12.26" height="6.45" fill="#fefebd"/>
<rect x="226.72" y="973.17" width="12.26" height="6.45" fill="#fbfdb8"/>
<rect x="238.28" y="973.17" width="12.26" height="6.45" fill="#f9fcb5"/>
<rect x="249.84" y="973.17" width="12.26" height="6.45" fill="#f9fcb5"/>
<rect x="261.39" y="973.17" width="11.56" height="6.45" fill="#fafdb7"/>
<rect x="30.25" y="978.92" width="35.37" height="6.45" fill="#fafdb7"/>
<rect x="64.92" y="978.92" width="35.37" height="6.45" fill="#fbfdb8"/>
<rect x="99.59" y="978.92" width="70.04" height="6.45" fill="#fbfdb8"/>
<rect x="168.94" y="978.92" width="12.26" height="6.45" fill="#fffcba"/>
<rect x="180.49" y="978.92" width="12.26" height="6.45" fill="#fff5ae"/>
<rect x="192.05" y="978.92" width="12.26" height="6.45" fill="#fffab6"/>
<rect x="203.61" y="978.92" width="12.26" height="6.45" fill="#fefebd"/>
<rect x="215.16" y="978.92" width="12.26" height="6.45" fill="#fbfdb8"/>
<rect x="226.72" y="978.92" width="12.26" height="6.45" fill="#f9fcb5"/>
<rect x="238.28" y="978.92" width="12.26" height="6.45" fill="#f9fcb5"/>
<rect x="249.84" y="978.92" width="12.26" height="6.45" fill="#fafdb7"/>
<rect x="261.39" y="978.92" width="11.56" height="6.45" fill="#fcfeba"/>
<rect x="30.25" y="984.67" width="35.37" height="6.45" fill="#fafdb7"/>
<rect x="64.92" y="984.67" width="35.37" height="6.45" fill="#fbfdb8"/>
<rect x="99.59" y="984.67" width="58.49" height="6.45" fill="#fbfdb8"/>
<rect x="157.38" y="984.67" width="12.26" height="6.45" fill="#fffcba"/>
<rect x="168.94" y="984.67" width="12.26" height="6.45" fill="#fff5ae"/>
<rect x="180.49" y="984.67" width="12.26" height="6.45" fill="#fffab6"/>
<rect x="192.05" y="984.67" width="12.26" height="6.45" fill="#fefebd"/>
<rect x="203.61" y="984.67" width="12.26" height="6.45" fill="#fbfdb8"/>
<rect x="215.16" y="984.67" width="12.26" height="6.45" fill="#f9fcb5"/>
<rect x="226.72" y="984.67" width="12.26" height="6.45" fill="#f9fcb5"/>
<rect x="238.28" y="984.67" width="12.26" height="6.45" fill="#fafdb7"/>
<rect x="249.84" y="984.67" width="23.11" height="6.45" fill="#fcfeba"/>
<rect x="30.25" y="990.41" width="35.37" height="6.45" fill="#fafdb7"/>
<rect x="64.92" y="990.41" width="35.37" height="6.45" fill="#fbfdb8"/>
<rect x="99.59" y="990.41" width="46.93" height="6.45" fill="#fbfdb8"/>
<rect x="145.82" y="990.41" width="12.26" height="6.45" fill="#fffcba"/>
<rect x="157.38" y="990.41" width="12.26" height="6.45" fill="#fff5ae"/>
<rect x="168.94" y="990.41" width="12.26" height="6.45" fill="#fffab6"/>
<rect x="180.49" y="990.41" width="12.26" height="6.45" fill="#fefebd"/>
<rect x="192.05" y="990.41" width="12.26" height="6.45" fill="#fbfdb8"/>
<rect x="203.61" y="990.41" width="12.26" height="6.45" fill="#f9fcb5"/>
<rect x="215.16" y="990.41" width="12.26" height="6.45" fill="#f9fcb5"/>
<rect x="226.72" y="990.41" width="12.26" height="6.45" fill="#fafdb7"/>
<rect x="238.28" y="990.41" width="34.67" height="6.45" fill="#fcfeba"/>
<rect x="30.25" y="996.16" width="35.37" height="6.45" fill="#fafdb7"/>
<rect x="64.92" y="996.16" width="35.37" height="6.45" fill="#fbfdb8"/>
<rect x="99.59" y="996.16" width="35.37" height="6.45" fill="#fbfdb8"/>
<rect x="134.26" y="996.16" width="12.26" height="6.45" fill="#fffcba"/>
<rect x="145.82" y="996.16" width="12.26" height="6.45" fill="#fff5ae"/>
<rect x="157.38" y="996.16" width="12.26" height="6.45" fill="#fffab6"/>
<rect x="168.94" y="996.16" width="12.26" height="6.45" fill="#fefebd"/>
<rect x="180.49" y="996.16" width="12.26" height="6.45" fill="#fbfdb8"/>
<rect x="192.05" y="996.16" width="12.26" height="6.45" fill="#f9fcb5"/>
<rect x="203.61" y="996.16" width="12.26" height="6.45" fill="#f9fcb5"/>
<rect x="215.16" y="996.16" width="12.26" height="6.45" fill="#fafdb7"/>
<rect x="226.72" y="996.16" width="46.23" height="6.45" fill="#fcfeba"/>
<rect x="30.25" y="1001.9" width="35.37" height="6.45" fill="#fafdb7"/>
<rect x="64.92" y="1001.9" width="35.37" height="6.45" fill="#fbfdb8"/>
<rect x="99.59" y="1001.9" width="23.81" height="6.45" fill="#fbfdb8"/>
<rect x="122.71" y="1001.9" width="12.26" height="6.45" fill="#fffcba"/>
<rect x="134.26" y="1001.9" width="12.26" height="6.45" fill="#fff5ae"/>
<rect x="145.82" y="1001.9" width="12.26" height="6.45" fill="#fffab6"/>
<rect x="157.38" y="1001.9" width="12.26" height="6.45" fill="#fefebd"/>
<rect x="168.94" y="1001.9" width="12.26" height="6.45" fill="#fbfdb8"/>
<rect x="180.49" y="1001.9" width="12.26" height="6.45" fill="#f9fcb5"/>
<rect x="192.05" y="1001.9" width="12.26" height="6.45" fill="#f9fcb5"/>
<rect x="203.61" y="1001.9" width="12.26" height="6.45" fill="#fafdb7"/>
<rect x="215.16" y="1001.9" width="57.79" height="6.45" fill="#fcfeba"/>
<rect x="30.25" y="1007.65" width="35.37" height="6.45" fill="#fafdb7"/>
<rect x="64.92" y="1007.65" width="35.37" height="6.45" fill="#fbfdb8"/>
<rect x="99.59" y="1007.65" width="12.26" height="6.45" fill="#fbfdb8"/>
<rect x="111.15" y="1007.65" width="12.26" height="6.45" fill="#fffcba"/>
<rect x="122.71" y="1007.65" width="12.26" height="6.45" fill="#fff5ae"/>
<rect x="134.26" y="1007.65" width="12.26" height="6.45" fill="#fffab6"/>
<rect x="145.82" y="1007.65" width="12.26" height="6.45" fill="#fefebd"/>
<rect x="157.38" y="1007.65" width="12.26" height="6.45" fill="#fbfdb8"/>
<rect x="168.94" y="1007.65" width="12.26" height="6.45" fill="#f9fcb5"/>
<rect x="180.49" y="1007.65" width="12.26" height="6.45" fill="#f9fcb5"/>
<rect x="192.05" y="1007.65" width="12.26" height="6.45" fill="#fafdb7"/>
<rect x="203.61" y="1007.65" width="69.34" height="6.45" fill="#fcfeba"/>
<rect x="30.25" y="1013.4" width="35.37" height="6.45" fill="#fafdb7"/>
<rect x="64.92" y="1013.4" width="35.37" height="6.45" fill="#fbfdb8"/>
<rect x="99.59" y="1013.4" width="12.26" height="6.45" fill="#fffcba"/>
<rect x="111.15" y="1013.4" width="12.26" height="6.45" fill="#fff6b0"/>
<rect x="122.71" y="1013.4" width="12.26" height="6.45" fill="#fffab6"/>
<rect x="134.26" y="1013.4" width="12.26" height="6.45" fill="#fefebd"/>
<rect x="145.82" y="1013.4" width="12.26" height="6.45" fill="#fbfdb8"/>
<rect x="157.38" y="1013.4" width="12.26" height="6.45" fill="#f9fcb5"/>
<rect x="168.94" y="1013.4" width="12.26" height="6.45" fill="#f9fcb5"/>
<rect x="180.49" y="1013.4" width="12.26" height="6.45" fill="#fafdb7"/>
<rect x="192.05" y="1013.4" width="80.9" height="6.45" fill="#fcfeba"/>
<rect x="30.25" y="1019.14" width="35.37" height="6.45" fill="#fafdb7"/>
<rect x="64.92" y="1019.14" width="23.81" height="6.45" fill="#fbfdb8"/>
<rect x="88.04" y="1019.14" width="12.26" height="6.45" fill="#fffcba"/>
<rect x="99.59" y="1019.14" width="12.26" height="6.45" fill="#fff6b0"/>
<rect x="111.15" y="1019.14" width="12.26" height="6.45" fill="#fffab6"/>
<rect x="122.71" y="1019.14" width="12.26" height="6.45" fill="#fefebd"/>
<rect x="134.26" y="1019.14" width="12.26" height="6.45" fill="#fbfdb8"/>
<rect x="145.82" y="1019.14" width="12.26" height="6.45" fill="#f9fcb5"/>
<rect x="157.38" y="1019.14" width="12.26" height="6.45" fill="#f9fcb5"/>
<rect x="168.94" y="1019.14" width="12.26" height="6.45" fill="#fafdb7"/>
<rect x="180.49" y="1019.14" width="92.46" height="6.45" fill="#fcfeba"/>
<rect x="30.25" y="1024.89" width="35.37" height="6.45" fill="#fafdb7"/>
<rect x="64.92" y="1024.89" width="12.26" height="6.45" fill="#fbfdb8"/>
<rect x="76.48" y="1024.89" width="12.26" height="6.45" fill="#fffcba"/>
<rect x="88.04" y="1024.89" width="12.26" height="6.45" fill="#fff6b0"/>
<rect x="99.59" y="1024.89" width="12.26" height="6.45" fill="#fffab6"/>
<rect x="111.15" y="1024.89" width="12.26" height="6.45" fill="#fefebd"/>
<rect x="122.71" y="1024.89" width="12.26" height="6.45" fill="#fbfdb8"/>
<rect x="134.26" y="1024.89" width="12.26" height="6.45" fill="#f9fcb5"/>
<rect x="145.82" y="1024.89" width="12.26" height="6.45" fill="#f9fcb5"/>
<rect x="157.38" y="1024.89" width="12.26" height="6.45" fill="#fafdb7"/>
<rect x="168.94" y="1024.89" width="104.01" height="6.45" fill="#fcfeba"/>
<rect x="30.25" y="1030.64" width="35.37" height="6.45" fill="#fafdb7"/>
<rect x="64.92" y="1030.64" width="12.26" height="6.45" fill="#fffdbc"/>
<rect x="76.48" y="1030.64" width="12.26" height="6.45" fill="#fff6b0"/>
<rect x="88.04" y="1030.64" width="12.26" height="6.45" fill="#fffbb8"/>
<rect x="99.59" y="1030.64" width="12.26" height="6.45" fill="#fefebd"/>
<rect x="111.15" y="1030.64" width="12.26" height="6.45" fill="#fbfdb8"/>
<rect x="122.71" y="1030.64" width="12.26" height="6.45" fill="#f9fcb5"/>
<rect x="134.26" y="1030.64" width="12.26" height="6.45" fill="#f9fcb5"/>
<rect x="145.82" y="1030.64" width="12.26" height="6.45" fill="#fafdb7"/>
<rect x="157.38" y="1030.64" width="115.57" height="6.45" fill="#fcfeba"/>
<rect x="30.25" y="1036.38" width="23.81" height="6.45" fill="#fafdb7"/>
<rect x="53.36" y="1036.38" width="12.26" height="6.45" fill="#fffdbc"/>
<rect x="64.92" y="1036.38" width="12.26" height="6.45" fill="#fff6b0"/>
<rect x="76.48" y="1036.38" width="12.26" height="6.45" fill="#fffbb8"/>
<rect x="88.04" y="1036.38" width="12.26" height="6.45" fill="#fefebd"/>
<rect x="99.59" y="1036.38" width="12.26" height="6.45" fill="#fbfdb8"/>
<rect x="111.15" y="1036.38" width="12.26" height="6.45" fill="#f9fcb5"/>
<rect x="122.71" y="1036.38" width="12.26" height="6.45" fill="#f9fcb5"/>
<rect x="134.26" y="1036.38" width="12.26" height="6.45" fill="#fafdb7"/>
<rect x="145.82" y="1036.38" width="127.13" height="6.45" fill="#fcfeba"/>
<rect x="30.25" y="1042.13" width="12.26" height="6.45" fill="#fafdb7"/>
<rect x="41.81" y="1042.13" width="12.26" height="6.45" fill="#fffdbc"/>
<rect x="53.36" y="1042.13" width="12.26" height="6.45" fill="#fff6b0"/>
<rect x="64.92" y="1042.13" width="12.26" height="6.45" fill="#fffbb8"/>
<rect x="76.48" y="1042.13" width="12.26" height="6.45" fill="#fdfebb"/>
<rect x="88.04" y="1042.13" width="12.26" height="6.45" fill="#fbfdb8"/>
<rect x="99.59" y="1042.13" width="23.81" height="6.45" fill="#f9fcb5"/>
<rect x="122.71" y="1042.13" width="12.26" height="6.45" fill="#fafdb7"/>
<rect x="134.26" y="1042.13" width="138.69" height="6.45" fill="#fcfeba"/>
<rect x="30.25" y="1047.88" width="12.26" height="6.45" fill="#fffdbc"/>
<rect x="41.81" y="1047.88" width="12.26" height="6.45" fill="#fff7b2"/>
<rect x="53.36" y="1047.88" width="12.26" height="6.45" fill="#fffcba"/>
<rect x="64.92" y="1047.88" width="12.26" height="6.45" fill="#fdfebb"/>
<rect x="76.48" y="1047.88" width="12.26" height="6.45" fill="#fbfdb8"/>
<rect x="88.04" y="1047.88" width="12.26" height="6.45" fill="#f9fcb5"/>
<rect x="99.59" y="1047.88" width="12.26" height="6.45" fill="#f8fcb4"/>
<rect x="111.15" y="1047.88" width="12.26" height="6.45" fill="#fafdb7"/>
<rect x="122.71" y="1047.88" width="150.24" height="6.45" fill="#fcfeba"/>
<rect x="30.25" y="1053.62" width="12.26" height="6.45" fill="#fff7b2"/>
<rect x="41.81" y="1053.62" width="12.26" height="6.45" fill="#fffcba"/>
<rect x="53.36" y="1053.62" width="12.26" height="6.45" fill="#fdfebb"/>
<rect x="64.92" y="1053.62" width="12.26" height="6.45" fill="#fbfdb8"/>
<rect x="76.48" y="1053.62" width="12.26" height="6.45" fill="#f9fcb5"/>
<rect x="88.04" y="1053.62" width="12.26" height="6.45" fill="#f8fcb4"/>
<rect x="99.59" y="1053.62" width="12.26" height="6.45" fill="#fafdb7"/>
<rect x="111.15" y="1053.62" width="161.8" height="6.45" fill="#fcfeba"/>
<rect x="30.25" y="1059.37" width="12.26" height="6.45" fill="#fffcba"/>
<rect x="41.81" y="1059.37" width="12.26" height="6.45" fill="#fcfeba"/>
<rect x="53.36" y="1059.37" width="12.26" height="6.45" fill="#fafdb7"/>
<rect x="64.92" y="1059.37" width="12.26" height="6.45" fill="#f9fcb5"/>
<rect x="76.48" y="1059.37" width="12.26" height="6.45" fill="#f8fcb4"/>
<rect x="88.04" y="1059.37" width="12.26" height="6.45" fill="#f9fcb5"/>
<rect x="99.59" y="1059.37" width="162.5" height="6.45" fill="#fcfeba"/>
<rect x="261.39" y="1059.37" width="11.56" height="6.45" fill="#fcfeba"/>
<rect x="30.25" y="1065.12" width="12.26" height="6.45" fill="#fcfeba"/>
<rect x="41.81" y="1065.12" width="12.26" height="6.45" fill="#fafdb7"/>
<rect x="53.36" y="1065.12" width="12.26" height="6.45" fill="#f8fcb4"/>
<rect x="64.92" y="1065.12" width="12.26" height="6.45" fill="#f8fcb4"/>
<rect x="76.48" y="1065.12" width="12.26" height="6.45" fill="#f9fcb5"/>
<rect x="88.04" y="1065.12" width="12.26" height="6.45" fill="#fbfdb8"/>
<rect x="99.59" y="1065.12" width="127.83" height="6.45" fill="#fcfeba"/>
<rect x="226.72" y="1065.12" width="23.81" height="6.45" fill="#fcfeba"/>
<rect x="249.84" y="1065.12" width="12.26" height="6.45" fill="#fdfebb"/>
<rect x="261.39" y="1065.12" width="11.56" height="6.45" fill="#fefebd"/>
<rect x="30.25" y="1070.86" width="12.26" height="6.45" fill="#fafdb7"/>
<rect x="41.81" y="1070.86" width="12.26" height="6.45" fill="#f8fcb4"/>
<rect x="53.36" y="1070.86" width="12.26" height="6.45" fill="#f8fcb4"/>
<rect x="64.92" y="1070.86" width="12.26" height="6.45" fill="#f9fcb5"/>
<rect x="76.48" y="1070.86" width="23.81" height="6.45" fill="#fbfdb8"/>
<rect x="99.59" y="1070.86" width="127.83" height="6.45" fill="#fcfeba"/>
<rect x="226.72" y="1070.86" width="12.26" height="6.45" fill="#fcfeba"/>
<rect x="238.28" y="1070.86" width="12.26" height="6.45" fill="#fefebd"/>
<rect x="249.84" y="1070.86" width="12.26" height="6.45" fill="#ffffbe"/>
<rect x="261.39" y="1070.86" width="11.56" height="6.45" fill="#fffebe"/>
<rect x="30.25" y="1076.61" width="12.26" height="6.45" fill="#f8fcb4"/>
<rect x="41.81" y="1076.61" width="12.26" height="6.45" fill="#f8fcb4"/>
<rect x="53.36" y="1076.61" width="12.26" height="6.45" fill="#f9fcb5"/>
<rect x="64.92" y="1076.61" width="35.37" height="6.45" fill="#fbfdb8"/>
<rect x="99.59" y="1076.61" width="127.83" height="6.45" fill="#fcfeba"/>
<rect x="226.72" y="1076.61" width="12.26" height="6.45" fill="#fdfebb"/>
<rect x="238.28" y="1076.61" width="12.26" height="6.45" fill="#ffffbe"/>
<rect x="249.84" y="1076.61" width="12.26" height="6.45" fill="#fffdbc"/>
<rect x="261.39" y="1076.61" width="11.56" height="6.45" fill="#fffbb8"/>
<rect x="30.25" y="1082.36" width="12.26" height="6.45" fill="#f8fcb4"/>
<rect x="41.81" y="1082.36" width="12.26" height="6.45" fill="#f9fcb5"/>
<rect x="53.36" y="1082.36" width="12.26" height="6.45" fill="#fbfdb8"/>
<rect x="64.92" y="1082.36" width="35.37" height="6.45" fill="#fbfdb8"/>
<rect x="99.59" y="1082.36" width="116.27" height="6.45" fill="#fcfeba"/>
<rect x="215.16" y="1082.36" width="12.26" height="6.45" fill="#fcfeba"/>
<rect x="226.72" y="1082.36" width="12.26" height="6.45" fill="#fefebd"/>
<rect x="238.28" y="1082.36" width="12.26" height="6.45" fill="#fffebe"/>
<rect x="249.84" y="1082.36" width="12.26" height="6.45" fill="#fffbb8"/>
<rect x="261.39" y="1082.36" width="11.56" height="6.45" fill="#fff8b4"/>
<rect x="30.25" y="1088.1" width="12.26" height="6.45" fill="#f9fcb5"/>
<rect x="41.81" y="1088.1" width="23.81" height="6.45" fill="#fbfdb8"/>
<rect x="64.92" y="1088.1" width="35.37" height="6.45" fill="#fbfdb8"/>
<rect x="99.59" y="1088.1" width="104.71" height="6.45" fill="#fcfeba"/>
<rect x="203.61" y="1088.1" width="23.81" height="6.45" fill="#fcfeba"/>
<rect x="226.72" y="1088.1" width="12.26" height="6.45" fill="#fefebd"/>
<rect x="238.28" y="1088.1" width="12.26" height="6.45" fill="#fffdbc"/>
<rect x="249.84" y="1088.1" width="12.26" height="6.45" fill="#fff8b4"/>
<rect x="261.39" y="1088.1" width="11.56" height="6.45" fill="#fff5ae"/>
<rect x="30.25" y="1093.85" width="35.37" height="6.45" fill="#fbfdb8"/>
<rect x="64.92" y="1093.85" width="35.37" height="6.45" fill="#fbfdb8"/>
<rect x="99.59" y="1093.85" width="93.16" height="6.45" fill="#fcfeba"/>
<rect x="192.05" y="1093.85" width="35.37" height="6.45" fill="#fcfeba"/>
<rect x="226.72" y="1093.85" width="12.26" height="6.45" fill="#fefebd"/>
<rect x="238.28" y="1093.85" width="12.26" height="6.45" fill="#fffdbc"/>
<rect x="249.84" y="1093.85" width="12.26" height="6.45" fill="#fffbb8"/>
<rect x="261.39" y="1093.85" width="11.56" height="6.45" fill="#fff8b4"/>
<rect x="30.25" y="1099.6" width="35.37" height="6.45" fill="#fbfdb8"/>
<rect x="64.92" y="1099.6" width="35.37" height="6.45" fill="#fbfdb8"/>
<rect x="99.59" y="1099.6" width="81.6" height="6.45" fill="#fcfeba"/>
<rect x="180.49" y="1099.6" width="46.93" height="6.45" fill="#fcfeba"/>
<rect x="226.72" y="1099.6" width="12.26" height="6.45" fill="#fefebd"/>
<rect x="238.28" y="1099.6" width="12.26" height="6.45" fill="#ffffbe"/>
<rect x="249.84" y="1099.6" width="12.26" height="6.45" fill="#fffdbc"/>
<rect x="261.39" y="1099.6" width="11.56" height="6.45" fill="#fffcba"/>
<rect x="30.25" y="1105.34" width="35.37" height="6.45" fill="#fbfdb8"/>
<rect x="64.92" y="1105.34" width="35.37" height="6.45" fill="#fbfdb8"/>
<rect x="99.59" y="1105.34" width="70.04" height="6.45" fill="#fcfeba"/>
<rect x="168.94" y="1105.34" width="58.49" height="6.45" fill="#fcfeba"/>
<rect x="226.72" y="1105.34" width="12.26" height="6.45" fill="#fdfebb"/>
<rect x="238.28" y="1105.34" width="12.26" height="6.45" fill="#fefebd"/>
<rect x="249.84" y="1105.34" width="12.26" height="6.45" fill="#fefebd"/>
<rect x="261.39" y="1105.34" width="11.56" height="6.45" fill="#fefebd"/>
<rect x="30.25" y="1111.09" width="35.37" height="6.45" fill="#fbfdb8"/>
<rect x="64.92" y="1111.09" width="35.37" height="6.45" fill="#fbfdb8"/>
<rect x="99.59" y="1111.09" width="58.49" height="6.45" fill="#fcfeba"/>
<rect x="157.38" y="1111.09" width="81.6" height="6.45" fill="#fcfeba"/>
<rect x="238.28" y="1111.09" width="12.26" height="6.45" fill="#fcfeba"/>
<rect x="249.84" y="1111.09" width="12.26" height="6.45" fill="#fbfdb8"/>
<rect x="261.39" y="1111.09" width="11.56" height="6.45" fill="#f8fcb4"/>
<rect x="30.25" y="1116.83" width="35.37" height="6.45" fill="#fbfdb8"/>
<rect x="64.92" y="1116.83" width="35.37" height="6.45" fill="#fbfdb8"/>
<rect x="99.59" y="1116.83" width="46.93" height="6.45" fill="#fcfeba"/>
<rect x="145.82" y="1116.83" width="70.04" height="6.45" fill="#fcfeba"/>
<rect x="215.16" y="1116.83" width="12.26" height="6.45" fill="#fcfeba"/>
<rect x="226.72" y="1116.83" width="12.26" height="6.45" fill="#fbfdb8"/>
<rect x="238.28" y="1116.83" width="12.26" height="6.45" fill="#f9fcb5"/>
<rect x="249.84" y="1116.83" width="12.26" height="6.45" fill="#f7fcb2"/>
<rect x="261.39" y="1116.83" width="11.56" height="6.45" fill="#f4faad"/>
<rect x="30.25" y="1122.58" width="35.37" height="6.45" fill="#fbfdb8"/>
<rect x="64.92" y="1122.58" width="35.37" height="6.45" fill="#fbfdb8"/>
<rect x="99.59" y="1122.58" width="35.37" height="6.45" fill="#fcfeba"/>
<rect x="134.26" y="1122.58" width="70.04" height="6.45" fill="#fcfeba"/>
<rect x="203.61" y="1122.58" width="12.26" height="6.45" fill="#fcfeba"/>
<rect x="215.16" y="1122.58" width="12.26" height="6.45" fill="#fbfdb8"/>
<rect x="226.72" y="1122.58" width="12.26" height="6.45" fill="#f9fcb5"/>
<rect x="238.28" y="1122.58" width="12.26" height="6.45" fill="#f7fcb2"/>
<rect x="249.84" y="1122.58" width="12.26" height="6.45" fill="#f4faad"/>
<rect x="261.39" y="1122.58" width="11.56" height="6.45" fill="#f0f9a7"/>
<rect x="30.25" y="1128.33" width="35.37" height="6.45" fill="#fbfdb8"/>
<rect x="64.92" y="1128.33" width="35.37" height="6.45" fill="#fbfdb8"/>
<rect x="99.59" y="1128.33" width="23.81" height="6.45" fill="#fcfeba"/>
<rect x="122.71" y="1128.33" width="70.04" height="6.45" fill="#fcfeba"/>
<rect x="192.05" y="1128.33" width="12.26" height="6.45" fill="#fcfeba"/>
<rect x="203.61" y="1128.33" width="12.26" height="6.45" fill="#fbfdb8"/>
<rect x="215.16" y="1128.33" width="12.26" height="6.45" fill="#f9fcb5"/>
<rect x="226.72" y="1128.33" width="12.26" height="6.45" fill="#f7fcb2"/>
<rect x="238.28" y="1128.33" width="12.26" height="6.45" fill="#f4faad"/>
<rect x="249.84" y="1128.33" width="12.26" height="6.45" fill="#f0f9a7"/>
<rect x="261.39" y="1128.33" width="11.56" height="6.45" fill="#ecf7a1"/>
<rect x="30.25" y="1134.07" width="35.37" height="6.45" fill="#fbfdb8"/>
<rect x="64.92" y="1134.07" width="35.37" height="6.45" fill="#fbfdb8"/>
<rect x="99.59" y="1134.07" width="23.81" height="6.45" fill="#fcfeba"/>
<rect x="122.71" y="1134.07" width="58.49" height="6.45" fill="#fcfeba"/>
<rect x="180.49" y="1134.07" width="12.26" height="6.45" fill="#fcfeba"/>
<rect x="192.05" y="1134.07" width="12.26" height="6.45" fill="#fbfdb8"/>
<rect x="203.61" y="1134.07" width="12.26" height="6.45" fill="#f9fcb5"/>
<rect x="215.16" y="1134.07" width="12.26" height="6.45" fill="#f7fcb2"/>
<rect x="226.72" y="1134.07" width="12.26" height="6.45" fill="#f4faad"/>
<rect x="238.28" y="1134.07" width="12.26" height="6.45" fill="#f0f9a7"/>
<rect x="249.84" y="1134.07" width="12.26" height="6.45" fill="#ecf7a1"/>
<rect x="261.39" y="1134.07" width="11.56" height="6.45" fill="#ebf7a0"/>
<rect x="30.25" y="1139.82" width="35.37" height="6.45" fill="#fbfdb8"/>
<rect x="64.92" y="1139.82" width="35.37" height="6.45" fill="#fbfdb8"/>
<rect x="99.59" y="1139.82" width="23.81" height="6.45" fill="#fcfeba"/>
<rect x="122.71" y="1139.82" width="46.93" height="6.45" fill="#fcfeba"/>
<rect x="168.94" y="1139.82" width="12.26" height="6.45" fill="#fcfeba"/>
<rect x="180.49" y="1139.82" width="12.26" height="6.45" fill="#fbfdb8"/>
<rect x="192.05" y="1139.82" width="12.26" height="6.45" fill="#f9fcb5"/>
<rect x="203.61" y="1139.82" width="12.26" height="6.45" fill="#f7fcb2"/>
<rect x="215.16" y="1139.82" width="12.26" height="6.45" fill="#f4faad"/>
<rect x="226.72" y="1139.82" width="12.26" height="6.45" fill="#f0f9a7"/>
<rect x="238.28" y="1139.82" width="12.26" height="6.45" fill="#ecf7a1"/>
<rect x="249.84" y="1139.82" width="12.26" height="6.45" fill="#ebf7a0"/>
<rect x="261.39" y="1139.82" width="11.56" height="6.45" fill="#fffcba"/>
<rect x="30.25" y="1145.57" width="35.37" height="6.45" fill="#fbfdb8"/>
<rect x="64.92" y="1145.57" width="23.81" height="6.45" fill="#fbfdb8"/>
<rect x="88.04" y="1145.57" width="23.81" height="6.45" fill="#fcfeba"/>
<rect x="111.15" y="1145.57" width="46.93" height="6.45" fill="#fcfeba"/>
<rect x="157.38" y="1145.57" width="12.26" height="6.45" fill="#fcfeba"/>
<rect x="168.94" y="1145.57" width="12.26" height="6.45" fill="#fbfdb8"/>
<rect x="180.49" y="1145.57" width="12.26" height="6.45" fill="#f9fcb5"/>
<rect x="192.05" y="1145.57" width="12.26" height="6.45" fill="#f7fcb2"/>
<rect x="203.61" y="1145.57" width="12.26" height="6.45" fill="#f4faad"/>
<rect x="215.16" y="1145.57" width="12.26" height="6.45" fill="#f0f9a7"/>
<rect x="226.72" y="1145.57" width="12.26" height="6.45" fill="#ecf7a1"/>
<rect x="238.28" y="1145.57" width="12.26" height="6.45" fill="#ebf7a0"/>
<rect x="249.84" y="1145.57" width="12.26" height="6.45" fill="#fffcba"/>
<rect x="261.39" y="1145.57" width="11.56" height="6.45" fill="#fdbd6d"/>
<rect x="30.25" y="1151.31" width="35.37" height="6.45" fill="#fbfdb8"/>
<rect x="64.92" y="1151.31" width="23.81" height="6.45" fill="#fbfdb8"/>
<rect x="88.04" y="1151.31" width="23.81" height="6.45" fill="#fcfeba"/>
<rect x="111.15" y="1151.31" width="35.37" height="6.45" fill="#fcfeba"/>
<rect x="145.82" y="1151.31" width="12.26" height="6.45" fill="#fcfeba"/>
<rect x="157.38" y="1151.31" width="12.26" height="6.45" fill="#fbfdb8"/>
<rect x="168.94" y="1151.31" width="12.26" height="6.45" fill="#f9fcb5"/>
<rect x="180.49" y="1151.31" width="12.26" height="6.45" fill="#f7fcb2"/>
<rect x="192.05" y="1151.31" width="12.26" height="6.45" fill="#f4faad"/>
<rect x="203.61" y="1151.31" width="12.26" height="6.45" fill="#f0f9a7"/>
<rect x="215.16" y="1151.31" width="12.26" height="6.45" fill="#ecf7a1"/>
<rect x="226.72" y="1151.31" width="12.26" height="6.45" fill="#ebf7a0"/>
<rect x="238.28" y="1151.31" width="12.26" height="6.45" fill="#fffcba"/>
<rect x="249.84" y="1151.31" width="12.26" height="6.45" fill="#fdbd6d"/>
<rect x="261.39" y="1151.31" width="11.56" height="6.45" fill="#e45549"/>
<rect x="30.25" y="1157.06" width="35.37" height="6.45" fill="#fbfdb8"/>
<rect x="64.92" y="1157.06" width="23.81" height="6.45" fill="#fbfdb8"/>
<rect x="88.04" y="1157.06" width="23.81" height="6.45" fill="#fcfeba"/>
<rect x="111.15" y="1157.06" width="23.81" height="6.45" fill="#fcfeba"/>
<rect x="134.26" y="1157.06" width="12.26" height="6.45" fill="#fcfeba"/>
<rect x="145.82" y="1157.06" width="12.26" height="6.45" fill="#fbfdb8"/>
<rect x="157.38" y="1157.06" width="12.26" height="6.45" fill="#f9fcb5"/>
<rect x="168.94" y="1157.06" width="12.26" height="6.45" fill="#f7fcb2"/>
<rect x="180.49" y="1157.06" width="12.26" height="6.45" fill="#f4faad"/>
<rect x="192.05" y="1157.06" width="12.26" height="6.45" fill="#f0f9a7"/>
<rect x="203.61" y="1157.06" width="12.26" height="6.45" fill="#ecf7a1"/>
<rect x="215.16" y="1157.06" width="12.26" height="6.45" fill="#ebf7a0"/>
<rect x="226.72" y="1157.06" width="12.26" height="6.45" fill="#fffcba"/>
<rect x="238.28" y="1157.06" width="12.26" height="6.45" fill="#fdbd6d"/>
<rect x="249.84" y="1157.06" width="12.26" height="6.45" fill="#e45549"/>
<rect x="261.39" y="1157.06" width="11.56" height="6.45" fill="#be254a"/>
<rect x="30.25" y="1162.81" width="23.81" height="6.45" fill="#fbfdb8"/>
<rect x="53.36" y="1162.81" width="23.81" height="6.45" fill="#fbfdb8"/>
<rect x="76.48" y="1162.81" width="23.81" height="6.45" fill="#fcfeba"/>
<rect x="99.59" y="1162.81" width="23.81" height="6.45" fill="#fcfeba"/>
<rect x="122.71" y="1162.81" width="12.26" height="6.45" fill="#fcfeba"/>
<rect x="134.26" y="1162.81" width="12.26" height="6.45" fill="#fbfdb8"/>
<rect x="145.82" y="1162.81" width="12.26" height="6.45" fill="#f9fcb5"/>
<rect x="157.38" y="1162.81" width="12.26" height="6.45" fill="#f7fcb2"/>
<rect x="168.94" y="1162.81" width="12.26" height="6.45" fill="#f4faad"/>
<rect x="180.49" y="1162.81" width="12.26" height="6.45" fill="#f0f9a7"/>
<rect x="192.05" y="1162.81" width="12.26" height="6.45" fill="#ecf7a1"/>
<rect x="203.61" y="1162.81" width="12.26" height="6.45" fill="#ebf7a0"/>
<rect x="215.16" y="1162.81" width="12.26" height="6.45" fill="#fffcba"/>
<rect x="226.72" y="1162.81" width="12.26" height="6.45" fill="#fdbd6d"/>
<rect x="238.28" y="1162.81" width="12.26" height="6.45" fill="#e45549"/>
<rect x="249.84" y="1162.81" width="12.26" height="6.45" fill="#be254a"/>
<rect x="261.39" y="1162.81" width="11.56" height="6.45" fill="#ad1246"/>
<rect x="30.25" y="1168.55" width="23.81" height="5.75" fill="#fbfdb8"/>
<rect x="53.36" y="1168.55" width="23.81" height="5.75" fill="#fbfdb8"/>
<rect x="76.48" y="1168.55" width="23.81" height="5.75" fill="#fcfeba"/>
<rect x="99.59" y="1168.55" width="12.26" height="5.75" fill="#fcfeba"/>
<rect x="111.15" y="1168.55" width="12.26" height="5.75" fill="#fcfeba"/>
<rect x="122.71" y="1168.55" width="12.26" height="5.75" fill="#fbfdb8"/>
<rect x="134.26" y="1168.55" width="12.26" height="5.75" fill="#f9fcb5"/>
<rect x="145.82" y="1168.55" width="12.26" height="5.75" fill="#f7fcb2"/>
<rect x="157.38" y="1168.55" width="12.26" height="5.75" fill="#f4faad"/>
<rect x="168.94" y="1168.55" width="12.26" height="5.75" fill="#f0f9a7"/>
<rect x="180.49" y="1168.55" width="12.26" height="5.75" fill="#ecf7a1"/>
<rect x="192.05" y="1168.55" width="12.26" height="5.75" fill="#ebf7a0"/>
<rect x="203.61" y="1168.55" width="12.26" height="5.75" fill="#fffcba"/>
<rect x="215.16" y="1168.55" width="12.26" height="5.75" fill="#fdbd6d"/>
<rect x="226.72" y="1168.55" width="12.26" height="5.75" fill="#e45549"/>
<rect x="238.28" y="1168.55" width="12.26" height="5.75" fill="#be254a"/>
<rect x="249.84" y="1168.55" width="12.26" height="5.75" fill="#ad1246"/>
<rect x="261.39" y="1168.55" width="11.56" height="5.75" fill="#9e0142"/>
</g>
<linearGradient id="g7" x1="0" y1="0" x2="0" y2="1"><stop offset="0%" stop-color="#e6f598"/><stop offset="2.08%" stop-color="#e9f69d"/><stop offset="4.17%" stop-color="#edf8a3"/><stop offset="6.25%" stop-color="#f0f9a7"/><stop offset="8.33%" stop-color="#f3faac"/><stop offset="10.42%" stop-color="#f6fbb0"/><stop offset="12.5%" stop-color="#f9fcb5"/><stop offset="14.58%" stop-color="#fcfeba"/><stop offset="16.67%" stop-color="#fffebe"/><stop offset="18.75%" stop-color="#fffbb8"/><stop offset="20.83%" stop-color="#fff7b2"/><stop offset="22.92%" stop-color="#fff3ac"/><stop offset="25%" stop-color="#feefa3"/><stop offset="27.08%" stop-color="#feeb9d"/><stop offset="29.17%" stop-color="#fee797"/><stop offset="31.25%" stop-color="#fee491"/><stop offset="33.33%" stop-color="#fee08b"/><stop offset="35.42%" stop-color="#feda86"/><stop offset="37.5%" stop-color="#fed27f"/><stop offset="39.58%" stop-color="#fecc7b"/><stop offset="41.67%" stop-color="#fdc776"/><stop offset="43.75%" stop-color="#fdbf6f"/><stop offset="45.83%" stop-color="#fdb96a"/><stop offset="47.92%" stop-color="#fdb365"/><stop offset="50%" stop-color="#fdad60"/><stop offset="52.08%" stop-color="#fca55d"/><stop offset="54.17%" stop-color="#fb9d59"/><stop offset="56.25%" stop-color="#fa9656"/><stop offset="58.33%" stop-color="#f88c51"/><stop offset="60.42%" stop-color="#f7844e"/><stop offset="62.5%" stop-color="#f67c4a"/><stop offset="64.58%" stop-color="#f57547"/><stop offset="66.67%" stop-color="#f46d43"/><stop offset="68.75%" stop-color="#f06744"/><stop offset="70.83%" stop-color="#eb6046"/><stop offset="72.92%" stop-color="#e85b48"/><stop offset="75%" stop-color="#e45549"/><stop offset="77.08%" stop-color="#df4e4b"/><stop offset="79.17%" stop-color="#dc484c"/><stop offset="81.25%" stop-color="#d8434e"/><stop offset="83.33%" stop-color="#d43d4f"/><stop offset="85.42%" stop-color="#cd364d"/><stop offset="87.5%" stop-color="#c72e4c"/><stop offset="89.58%" stop-color="#c1274a"/><stop offset="91.67%" stop-color="#b81e48"/><stop offset="93.75%" stop-color="#b11747"/><stop offset="95.83%" stop-color="#ab0f45"/><stop offset="97.92%" stop-color="#a40844"/><stop offset="100%" stop-color="#9e0142"/></linearGradient>
<rect x="288.2" y="927.2" width="12.55" height="247.1" fill="url(#g7)"/>
<text x="306.05" y="972.09" class="t">0.0000</text>
<text x="306.05" y="1014.4" class="t">−0.0005</text>
<text x="306.05" y="1056.71" class="t">−0.0010</text>
<text x="306.05" y="1099.02" class="t">−0.0015</text>
<text x="306.05" y="1141.33" class="t">−0.0020</text>
<path d="M300.75 967.99h2.9M300.75 1010.3h2.9M300.75 1052.61h2.9M300.75 1094.92h2.9M300.75 1137.23h2.9" class="k"/>
<text transform="translate(22.75,944.37) rotate(-90)" class="t m">20</text>
<text transform="translate(22.75,973.1) rotate(-90)" class="t m">25</text>
<text transform="translate(22.75,1001.83) rotate(-90)" class="t m">30</text>
<text transform="translate(22.75,1030.56) rotate(-90)" class="t m">35</text>
<text transform="translate(22.75,1059.3) rotate(-90)" class="t m">40</text>
<text transform="translate(22.75,1088.03) rotate(-90)" class="t m">45</text>
<text transform="translate(22.75,1116.76) rotate(-90)" class="t m">50</text>
<text transform="translate(22.75,1145.49) rotate(-90)" class="t m">55</text>
<text transform="translate(22.75,1174.23) rotate(-90)" class="t m">60</text>
<path d="M30.25 930.07h-3.2M30.25 935.82h-3.2M30.25 941.57h-3.2M30.25 947.31h-3.2M30.25 953.06h-3.2M30.25 958.81h-3.2M30.25 964.55h-3.2M30.25 970.3h-3.2M30.25 976.05h-3.2M30.25 981.79h-3.2M30.25 987.54h-3.2M30.25 993.28h-3.2M30.25 999.03h-3.2M30.25 1004.78h-3.2M30.25 1010.52h-3.2M30.25 1016.27h-3.2M30.25 1022.02h-3.2M30.25 1027.76h-3.2M30.25 1033.51h-3.2M30.25 1039.26h-3.2M30.25 1045h-3.2M30.25 1050.75h-3.2M30.25 1056.5h-3.2M30.25 1062.24h-3.2M30.25 1067.99h-3.2M30.25 1073.74h-3.2M30.25 1079.48h-3.2M30.25 1085.23h-3.2M30.25 1090.98h-3.2M30.25 1096.72h-3.2M30.25 1102.47h-3.2M30.25 1108.22h-3.2M30.25 1113.96h-3.2M30.25 1119.71h-3.2M30.25 1125.45h-3.2M30.25 1131.2h-3.2M30.25 1136.95h-3.2M30.25 1142.69h-3.2M30.25 1148.44h-3.2M30.25 1154.19h-3.2M30.25 1159.93h-3.2M30.25 1165.68h-3.2M30.25 1171.43h-3.2" class="k"/>
<text x="36.03" y="1189" class="t m">0</text>
<text x="59.14" y="1189" class="t m">2</text>
<text x="82.26" y="1189" class="t m">4</text>
<text x="105.37" y="1189" class="t m">6</text>
<text x="128.49" y="1189" class="t m">8</text>
<text x="151.6" y="1189" class="t m">10</text>
<text x="174.71" y="1189" class="t m">12</text>
<text x="197.83" y="1189" class="t m">14</text>
<text x="220.94" y="1189" class="t m">16</text>
<text x="244.06" y="1189" class="t m">18</text>
<text x="267.17" y="1189" class="t m">20</text>
<path d="M36.03 1174.3v3.2M59.14 1174.3v3.2M82.26 1174.3v3.2M105.37 1174.3v3.2M128.49 1174.3v3.2M151.6 1174.3v3.2M174.71 1174.3v3.2M197.83 1174.3v3.2M220.94 1174.3v3.2M244.06 1174.3v3.2M267.17 1174.3v3.2" class="k"/>
<text x="151.4" y="921.8" class="ti m">male smoker - female smoker</text>
<text transform="translate(6.55,1050.95) rotate(-90)" class="la m">age <tspan class="i">a</tspan><tspan class="sub" dy="2.6">0</tspan></text>
<text x="151.6" y="1203.6" class="la m i">k</text>
<g>
<rect x="371.1" y="927.2" width="242.45" height="247.1" fill="#ffffbe"/>
<rect x="371.1" y="927.2" width="127.7" height="6.45" fill="#ffffbe"/>
<rect x="498.1" y="927.2" width="69.97" height="6.45" fill="#fffebe"/>
<rect x="567.37" y="927.2" width="46.18" height="6.45" fill="#fffebe"/>
<rect x="371.1" y="932.95" width="116.15" height="6.45" fill="#ffffbe"/>
<rect x="486.55" y="932.95" width="69.97" height="6.45" fill="#fffebe"/>
<rect x="555.82" y="932.95" width="57.73" height="6.45" fill="#fffebe"/>
<rect x="371.1" y="938.69" width="104.61" height="6.45" fill="#ffffbe"/>
<rect x="475.01" y="938.69" width="69.97" height="6.45" fill="#fffebe"/>
<rect x="544.28" y="938.69" width="58.43" height="6.45" fill="#fffebe"/>
<rect x="602" y="938.69" width="11.55" height="6.45" fill="#fffdbc"/>
<rect x="371.1" y="944.44" width="93.06" height="6.45" fill="#ffffbe"/>
<rect x="463.46" y="944.44" width="69.97" height="6.45" fill="#fffebe"/>
<rect x="532.73" y="944.44" width="58.43" height="6.45" fill="#fffebe"/>
<rect x="590.46" y="944.44" width="23.09" height="6.45" fill="#fffdbc"/>
<rect x="371.1" y="950.19" width="81.52" height="6.45" fill="#ffffbe"/>
<rect x="451.92" y="950.19" width="69.97" height="6.45" fill="#fffebe"/>
<rect x="521.19" y="950.19" width="58.43" height="6.45" fill="#fffebe"/>
<rect x="578.91" y="950.19" width="34.64" height="6.45" fill="#fffdbc"/>
<rect x="371.1" y="955.93" width="69.97" height="6.45" fill="#ffffbe"/>
<rect x="440.37" y="955.93" width="69.97" height="6.45" fill="#fffebe"/>
<rect x="509.64" y="955.93" width="58.43" height="6.45" fill="#fffebe"/>
<rect x="567.37" y="955.93" width="35.34" height="6.45" fill="#fffdbc"/>
<rect x="602" y="955.93" width="11.55" height="6.45" fill="#fffdbc"/>
<rect x="371.1" y="961.68" width="58.43" height="6.45" fill="#ffffbe"/>
<rect x="428.83" y="961.68" width="69.97" height="6.45" fill="#fffebe"/>
<rect x="498.1" y="961.68" width="58.43" height="6.45" fill="#fffebe"/>
<rect x="555.82" y="961.68" width="35.34" height="6.45" fill="#fffdbc"/>
<rect x="590.46" y="961.68" width="23.09" height="6.45" fill="#fffdbc"/>
<rect x="371.1" y="967.43" width="58.43" height="6.45" fill="#ffffbe"/>
<rect x="428.83" y="967.43" width="58.43" height="6.45" fill="#fffebe"/>
<rect x="486.55" y="967.43" width="58.43" height="6.45" fill="#fffebe"/>
<rect x="544.28" y="967.43" width="35.34" height="6.45" fill="#fffdbc"/>
<rect x="578.91" y="967.43" width="23.79" height="6.45" fill="#fffdbc"/>
<rect x="602" y="967.43" width="11.55" height="6.45" fill="#fffcba"/>
<rect x="371.1" y="973.17" width="46.88" height="6.45" fill="#ffffbe"/>
<rect x="417.28" y="973.17" width="58.43" height="6.45" fill="#fffebe"/>
<rect x="475.01" y="973.17" width="58.43" height="6.45" fill="#fffebe"/>
<rect x="532.73" y="973.17" width="35.34" height="6.45" fill="#fffdbc"/>
<rect x="567.37" y="973.17" width="23.79" height="6.45" fill="#fffdbc"/>
<rect x="590.46" y="973.17" width="23.09" height="6.45" fill="#fffcba"/>
<rect x="371.1" y="978.92" width="35.34" height="6.45" fill="#ffffbe"/>
<rect x="405.74" y="978.92" width="58.43" height="6.45" fill="#fffebe"/>
<rect x="463.46" y="978.92" width="58.43" height="6.45" fill="#fffebe"/>
<rect x="521.19" y="978.92" width="35.34" height="6.45" fill="#fffdbc"/>
<rect x="555.82" y="978.92" width="23.79" height="6.45" fill="#fffdbc"/>
<rect x="578.91" y="978.92" width="23.79" height="6.45" fill="#fffcba"/>
<rect x="602" y="978.92" width="11.55" height="6.45" fill="#fffcba"/>
<rect x="371.1" y="984.67" width="23.79" height="6.45" fill="#ffffbe"/>
<rect x="394.19" y="984.67" width="58.43" height="6.45" fill="#fffebe"/>
<rect x="451.92" y="984.67" width="58.43" height="6.45" fill="#fffebe"/>
<rect x="509.64" y="984.67" width="35.34" height="6.45" fill="#fffdbc"/>
<rect x="544.28" y="984.67" width="23.79" height="6.45" fill="#fffdbc"/>
<rect x="567.37" y="984.67" width="23.79" height="6.45" fill="#fffcba"/>
<rect x="590.46" y="984.67" width="12.25" height="6.45" fill="#fffcba"/>
<rect x="602" y="984.67" width="11.55" height="6.45" fill="#fffbb8"/>
<rect x="371.1" y="990.41" width="12.25" height="6.45" fill="#ffffbe"/>
<rect x="382.65" y="990.41" width="58.43" height="6.45" fill="#fffebe"/>
<rect x="440.37" y="990.41" width="58.43" height="6.45" fill="#fffebe"/>
<rect x="498.1" y="990.41" width="35.34" height="6.45" fill="#fffdbc"/>
<rect x="532.73" y="990.41" width="23.79" height="6.45" fill="#fffdbc"/>
<rect x="555.82" y="990.41" width="23.79" height="6.45" fill="#fffcba"/>
<rect x="578.91" y="990.41" width="12.25" height="6.45" fill="#fffcba"/>
<rect x="590.46" y="990.41" width="12.25" height="6.45" fill="#fffbb8"/>
<rect x="602" y="990.41" width="11.55" height="6.45" fill="#fffbb8"/>
<rect x="371.1" y="996.16" width="58.43" height="6.45" fill="#fffebe"/>
<rect x="428.83" y="996.16" width="58.43" height="6.45" fill="#fffebe"/>
<rect x="486.55" y="996.16" width="35.34" height="6.45" fill="#fffdbc"/>
<rect x="521.19" y="996.16" width="23.79" height="6.45" fill="#fffdbc"/>
<rect x="544.28" y="996.16" width="23.79" height="6.45" fill="#fffcba"/>
<rect x="567.37" y="996.16" width="12.25" height="6.45" fill="#fffcba"/>
<rect x="578.91" y="996.16" width="12.25" height="6.45" fill="#fffbb8"/>
<rect x="590.46" y="996.16" width="12.25" height="6.45" fill="#fffbb8"/>
<rect x="602" y="996.16" width="11.55" height="6.45" fill="#fffab6"/>
<rect x="371.1" y="1001.9" width="46.88" height="6.45" fill="#fffebe"/>
<rect x="417.28" y="1001.9" width="58.43" height="6.45" fill="#fffebe"/>
<rect x="475.01" y="1001.9" width="35.34" height="6.45" fill="#fffdbc"/>
<rect x="509.64" y="1001.9" width="23.79" height="6.45" fill="#fffdbc"/>
<rect x="532.73" y="1001.9" width="23.79" height="6.45" fill="#fffcba"/>
<rect x="555.82" y="1001.9" width="12.25" height="6.45" fill="#fffcba"/>
<rect x="567.37" y="1001.9" width="12.25" height="6.45" fill="#fffbb8"/>
<rect x="578.91" y="1001.9" width="12.25" height="6.45" fill="#fffbb8"/>
<rect x="590.46" y="1001.9" width="23.09" height="6.45" fill="#fffab6"/>
<rect x="371.1" y="1007.65" width="35.34" height="6.45" fill="#fffebe"/>
<rect x="405.74" y="1007.65" width="58.43" height="6.45" fill="#fffebe"/>
<rect x="463.46" y="1007.65" width="35.34" height="6.45" fill="#fffdbc"/>
<rect x="498.1" y="1007.65" width="23.79" height="6.45" fill="#fffdbc"/>
<rect x="521.19" y="1007.65" width="23.79" height="6.45" fill="#fffcba"/>
<rect x="544.28" y="1007.65" width="12.25" height="6.45" fill="#fffcba"/>
<rect x="555.82" y="1007.65" width="12.25" height="6.45" fill="#fffbb8"/>
<rect x="567.37" y="1007.65" width="23.79" height="6.45" fill="#fffbb8"/>
<rect x="590.46" y="1007.65" width="12.25" height="6.45" fill="#fffab6"/>
<rect x="602" y="1007.65" width="11.55" height="6.45" fill="#fffab6"/>
<rect x="371.1" y="1013.4" width="35.34" height="6.45" fill="#fffebe"/>
<rect x="405.74" y="1013.4" width="46.88" height="6.45" fill="#fffebe"/>
<rect x="451.92" y="1013.4" width="35.34" height="6.45" fill="#fffdbc"/>
<rect x="486.55" y="1013.4" width="23.79" height="6.45" fill="#fffdbc"/>
<rect x="509.64" y="1013.4" width="23.79" height="6.45" fill="#fffcba"/>
<rect x="532.73" y="1013.4" width="12.25" height="6.45" fill="#fffcba"/>
<rect x="544.28" y="1013.4" width="12.25" height="6.45" fill="#fffbb8"/>
<rect x="555.82" y="1013.4" width="23.79" height="6.45" fill="#fffbb8"/>
<rect x="578.91" y="1013.4" width="12.25" height="6.45" fill="#fffab6"/>
<rect x="590.46" y="1013.4" width="12.25" height="6.45" fill="#fffab6"/>
<rect x="602" y="1013.4" width="11.55" height="6.45" fill="#fff8b4"/>
<rect x="371.1" y="1019.14" width="23.79" height="6.45" fill="#fffebe"/>
<rect x="394.19" y="1019.14" width="46.88" height="6.45" fill="#fffebe"/>
<rect x="440.37" y="1019.14" width="35.34" height="6.45" fill="#fffdbc"/>
<rect x="475.01" y="1019.14" width="23.79" height="6.45" fill="#fffdbc"/>
<rect x="498.1" y="1019.14" width="23.79" height="6.45" fill="#fffcba"/>
<rect x="521.19" y="1019.14" width="12.25" height="6.45" fill="#fffcba"/>
<rect x="532.73" y="1019.14" width="12.25" height="6.45" fill="#fffbb8"/>
<rect x="544.28" y="1019.14" width="23.79" height="6.45" fill="#fffbb8"/>
<rect x="567.37" y="1019.14" width="12.25" height="6.45" fill="#fffab6"/>
<rect x="578.91" y="1019.14" width="12.25" height="6.45" fill="#fffab6"/>
<rect x="590.46" y="1019.14" width="12.25" height="6.45" fill="#fff8b4"/>
<rect x="602" y="1019.14" width="11.55" height="6.45" fill="#fff8b4"/>
<rect x="371.1" y="1024.89" width="12.25" height="6.45" fill="#fffebe"/>
<rect x="382.65" y="1024.89" width="46.88" height="6.45" fill="#fffebe"/>
<rect x="428.83" y="1024.89" width="35.34" height="6.45" fill="#fffdbc"/>
<rect x="463.46" y="1024.89" width="23.79" height="6.45" fill="#fffdbc"/>
<rect x="486.55" y="1024.89" width="23.79" height="6.45" fill="#fffcba"/>
<rect x="509.64" y="1024.89" width="12.25" height="6.45" fill="#fffcba"/>
<rect x="521.19" y="1024.89" width="12.25" height="6.45" fill="#fffbb8"/>
<rect x="532.73" y="1024.89" width="23.79" height="6.45" fill="#fffbb8"/>
<rect x="555.82" y="1024.89" width="12.25" height="6.45" fill="#fffab6"/>
<rect x="567.37" y="1024.89" width="12.25" height="6.45" fill="#fffab6"/>
<rect x="578.91" y="1024.89" width="12.25" height="6.45" fill="#fff8b4"/>
<rect x="590.46" y="1024.89" width="23.09" height="6.45" fill="#fff8b4"/>
<rect x="371.1" y="1030.64" width="46.88" height="6.45" fill="#fffebe"/>
<rect x="417.28" y="1030.64" width="35.34" height="6.45" fill="#fffdbc"/>
<rect x="451.92" y="1030.64" width="23.79" height="6.45" fill="#fffdbc"/>
<rect x="475.01" y="1030.64" width="23.79" height="6.45" fill="#fffcba"/>
<rect x="498.1" y="1030.64" width="12.25" height="6.45" fill="#fffcba"/>
<rect x="509.64" y="1030.64" width="12.25" height="6.45" fill="#fffbb8"/>
<rect x="521.19" y="1030.64" width="23.79" height="6.45" fill="#fffbb8"/>
<rect x="544.28" y="1030.64" width="12.25" height="6.45" fill="#fffab6"/>
<rect x="555.82" y="1030.64" width="12.25" height="6.45" fill="#fffab6"/>
<rect x="567.37" y="1030.64" width="12.25" height="6.45" fill="#fff8b4"/>
<rect x="578.91" y="1030.64" width="23.79" height="6.45" fill="#fff8b4"/>
<rect x="602" y="1030.64" width="11.55" height="6.45" fill="#fff7b2"/>
<rect x="371.1" y="1036.38" width="35.34" height="6.45" fill="#fffebe"/>
<rect x="405.74" y="1036.38" width="35.34" height="6.45" fill="#fffdbc"/>
<rect x="440.37" y="1036.38" width="23.79" height="6.45" fill="#fffdbc"/>
<rect x="463.46" y="1036.38" width="23.79" height="6.45" fill="#fffcba"/>
<rect x="486.55" y="1036.38" width="12.25" height="6.45" fill="#fffcba"/>
<rect x="498.1" y="1036.38" width="12.25" height="6.45" fill="#fffbb8"/>
<rect x="509.64" y="1036.38" width="23.79" height="6.45" fill="#fffbb8"/>
<rect x="532.73" y="1036.38" width="12.25" height="6.45" fill="#fffab6"/>
<rect x="544.28" y="1036.38" width="12.25" height="6.45" fill="#fffab6"/>
<rect x="555.82" y="1036.38" width="12.25" height="6.45" fill="#fff8b4"/>
<rect x="567.37" y="1036.38" width="23.79" height="6.45" fill="#fff8b4"/>
<rect x="590.46" y="1036.38" width="12.25" height="6.45" fill="#fff7b2"/>
<rect x="602" y="1036.38" width="11.55" height="6.45" fill="#fff6b0"/>
<rect x="371.1" y="1042.13" width="23.79" height="6.45" fill="#fffebe"/>
<rect x="394.19" y="1042.13" width="35.34" height="6.45" fill="#fffdbc"/>
<rect x="428.83" y="1042.13" width="35.34" height="6.45" fill="#fffdbc"/>
<rect x="463.46" y="1042.13" width="12.25" height="6.45" fill="#fffcba"/>
<rect x="475.01" y="1042.13" width="12.25" height="6.45" fill="#fffcba"/>
<rect x="486.55" y="1042.13" width="12.25" height="6.45" fill="#fffbb8"/>
<rect x="498.1" y="1042.13" width="23.79" height="6.45" fill="#fffbb8"/>
<rect x="521.19" y="1042.13" width="12.25" height="6.45" fill="#fffab6"/>
<rect x="532.73" y="1042.13" width="12.25" height="6.45" fill="#fffab6"/>
<rect x="544.28" y="1042.13" width="23.79" height="6.45" fill="#fff8b4"/>
<rect x="567.37" y="1042.13" width="12.25" height="6.45" fill="#fff8b4"/>
<rect x="578.91" y="1042.13" width="12.25" height="6.45" fill="#fff7b2"/>
<rect x="590.46" y="1042.13" width="12.25" height="6.45" fill="#fff6b0"/>
<rect x="602" y="1042.13" width="11.55" height="6.45" fill="#fff6b0"/>
<rect x="371.1" y="1047.88" width="12.25" height="6.45" fill="#fffebe"/>
<rect x="382.65" y="1047.88" width="35.34" height="6.45" fill="#fffdbc"/>
<rect x="417.28" y="1047.88" width="35.34" height="6.45" fill="#fffdbc"/>
<rect x="451.92" y="1047.88" width="12.25" height="6.45" fill="#fffcba"/>
<rect x="463.46" y="1047.88" width="12.25" height="6.45" fill="#fffcba"/>
<rect x="475.01" y="1047.88" width="23.79" height="6.45" fill="#fffbb8"/>
<rect x="498.1" y="1047.88" width="12.25" height="6.45" fill="#fffbb8"/>
<rect x="509.64" y="1047.88" width="12.25" height="6.45" fill="#fffab6"/>
<rect x="521.19" y="1047.88" width="12.25" height="6.45" fill="#fffab6"/>
<rect x="532.73" y="1047.88" width="23.79" height="6.45" fill="#fff8b4"/>
<rect x="555.82" y="1047.88" width="12.25" height="6.45" fill="#fff8b4"/>
<rect x="567.37" y="1047.88" width="12.25" height="6.45" fill="#fff7b2"/>
<rect x="578.91" y="1047.88" width="12.25" height="6.45" fill="#fff6b0"/>
<rect x="590.46" y="1047.88" width="12.25" height="6.45" fill="#fff6b0"/>
<rect x="602" y="1047.88" width="11.55" height="6.45" fill="#fff5ae"/>
<rect x="371.1" y="1053.62" width="35.34" height="6.45" fill="#fffdbc"/>
<rect x="405.74" y="1053.62" width="35.34" height="6.45" fill="#fffdbc"/>
<rect x="440.37" y="1053.62" width="12.25" height="6.45" fill="#fffcba"/>
<rect x="451.92" y="1053.62" width="12.25" height="6.45" fill="#fffcba"/>
<rect x="463.46" y="1053.62" width="23.79" height="6.45" fill="#fffbb8"/>
<rect x="486.55" y="1053.62" width="12.25" height="6.45" fill="#fffbb8"/>
<rect x="498.1" y="1053.62" width="12.25" height="6.45" fill="#fffab6"/>
<rect x="509.64" y="1053.62" width="12.25" height="6.45" fill="#fffab6"/>
<rect x="521.19" y="1053.62" width="23.79" height="6.45" fill="#fff8b4"/>
<rect x="544.28" y="1053.62" width="12.25" height="6.45" fill="#fff8b4"/>
<rect x="555.82" y="1053.62" width="12.25" height="6.45" fill="#fff7b2"/>
<rect x="567.37" y="1053.62" width="12.25" height="6.45" fill="#fff6b0"/>
<rect x="578.91" y="1053.62" width="12.25" height="6.45" fill="#fff6b0"/>
<rect x="590.46" y="1053.62" width="12.25" height="6.45" fill="#fff5ae"/>
<rect x="602" y="1053.62" width="11.55" height="6.45" fill="#fff3ac"/>
<rect x="371.1" y="1059.37" width="23.79" height="6.45" fill="#fffdbc"/>
<rect x="394.19" y="1059.37" width="35.34" height="6.45" fill="#fffdbc"/>
<rect x="428.83" y="1059.37" width="12.25" height="6.45" fill="#fffcba"/>
<rect x="440.37" y="1059.37" width="12.25" height="6.45" fill="#fffcba"/>
<rect x="451.92" y="1059.37" width="23.79" height="6.45" fill="#fffbb8"/>
<rect x="475.01" y="1059.37" width="12.25" height="6.45" fill="#fffbb8"/>
<rect x="486.55" y="1059.37" width="12.25" height="6.45" fill="#fffab6"/>
<rect x="498.1" y="1059.37" width="12.25" height="6.45" fill="#fffab6"/>
<rect x="509.64" y="1059.37" width="23.79" height="6.45" fill="#fff8b4"/>
<rect x="532.73" y="1059.37" width="12.25" height="6.45" fill="#fff8b4"/>
<rect x="544.28" y="1059.37" width="12.25" height="6.45" fill="#fff7b2"/>
<rect x="555.82" y="1059.37" width="12.25" height="6.45" fill="#fff6b0"/>
<rect x="567.37" y="1059.37" width="12.25" height="6.45" fill="#fff6b0"/>
<rect x="578.91" y="1059.37" width="12.25" height="6.45" fill="#fff5ae"/>
<rect x="590.46" y="1059.37" width="12.25" height="6.45" fill="#fff3ac"/>
<rect x="602" y="1059.37" width="11.55" height="6.45" fill="#fff1a8"/>
<rect x="371.1" y="1065.12" width="12.25" height="6.45" fill="#fffdbc"/>
<rect x="382.65" y="1065.12" width="35.34" height="6.45" fill="#fffdbc"/>
<rect x="417.28" y="1065.12" width="12.25" height="6.45" fill="#fffcba"/>
<rect x="428.83" y="1065.12" width="12.25" height="6.45" fill="#fffcba"/>
<rect x="440.37" y="1065.12" width="23.79" height="6.45" fill="#fffbb8"/>
<rect x="463.46" y="1065.12" width="12.25" height="6.45" fill="#fffbb8"/>
<rect x="475.01" y="1065.12" width="12.25" height="6.45" fill="#fffab6"/>
<rect x="486.55" y="1065.12" width="12.25" height="6.45" fill="#fffab6"/>
<rect x="498.1" y="1065.12" width="23.79" height="6.45" fill="#fff8b4"/>
<rect x="521.19" y="1065.12" width="12.25" height="6.45" fill="#fff8b4"/>
<rect x="532.73" y="1065.12" width="12.25" height="6.45" fill="#fff7b2"/>
<rect x="544.28" y="1065.12" width="12.25" height="6.45" fill="#fff6b0"/>
<rect x="555.82" y="1065.12" width="12.25" height="6.45" fill="#fff6b0"/>
<rect x="567.37" y="1065.12" width="12.25" height="6.45" fill="#fff5ae"/>
<rect x="578.91" y="1065.12" width="12.25" height="6.45" fill="#fff3ac"/>
<rect x="590.46" y="1065.12" width="12.25" height="6.45" fill="#fff1a8"/>
<rect x="602" y="1065.12" width="11.55" height="6.45" fill="#feeda1"/>
<rect x="371.1" y="1070.86" width="35.34" height="6.45" fill="#fffdbc"/>
<rect x="405.74" y="1070.86" width="12.25" height="6.45" fill="#fffcba"/>
<rect x="417.28" y="1070.86" width="12.25" height="6.45" fill="#fffcba"/>
<rect x="428.83" y="1070.86" width="23.79" height="6.45" fill="#fffbb8"/>
<rect x="451.92" y="1070.86" width="12.25" height="6.45" fill="#fffbb8"/>
<rect x="463.46" y="1070.86" width="12.25" height="6.45" fill="#fffab6"/>
<rect x="475.01" y="1070.86" width="12.25" height="6.45" fill="#fffab6"/>
<rect x="486.55" y="1070.86" width="23.79" height="6.45" fill="#fff8b4"/>
<rect x="509.64" y="1070.86" width="12.25" height="6.45" fill="#fff8b4"/>
<rect x="521.19" y="1070.86" width="12.25" height="6.45" fill="#fff7b2"/>
<rect x="532.73" y="1070.86" width="12.25" height="6.45" fill="#fff6b0"/>
<rect x="544.28" y="1070.86" width="12.25" height="6.45" fill="#fff6b0"/>
<rect x="555.82" y="1070.86" width="12.25" height="6.45" fill="#fff5ae"/>
<rect x="567.37" y="1070.86" width="12.25" height="6.45" fill="#fff3ac"/>
<rect x="578.91" y="1070.86" width="12.25" height="6.45" fill="#fff1a8"/>
<rect x="590.46" y="1070.86" width="12.25" height="6.45" fill="#feeda1"/>
<rect x="602" y="1070.86" width="11.55" height="6.45" fill="#feec9f"/>
<rect x="371.1" y="1076.61" width="23.79" height="6.45" fill="#fffdbc"/>
<rect x="394.19" y="1076.61" width="12.25" height="6.45" fill="#fffcba"/>
<rect x="405.74" y="1076.61" width="12.25" height="6.45" fill="#fffcba"/>
<rect x="417.28" y="1076.61" width="23.79" height="6.45" fill="#fffbb8"/>
<rect x="440.37" y="1076.61" width="12.25" height="6.45" fill="#fffbb8"/>
<rect x="451.92" y="1076.61" width="12.25" height="6.45" fill="#fffab6"/>
<rect x="463.46" y="1076.61" width="12.25" height="6.45" fill="#fffab6"/>
<rect x="475.01" y="1076.61" width="23.79" height="6.45" fill="#fff8b4"/>
<rect x="498.1" y="1076.61" width="12.25" height="6.45" fill="#fff8b4"/>
<rect x="509.64" y="1076.61" width="12.25" height="6.45" fill="#fff7b2"/>
<rect x="521.19" y="1076.61" width="12.25" height="6.45" fill="#fff6b0"/>
<rect x="532.73" y="1076.61" width="12.25" height="6.45" fill="#fff6b0"/>
<rect x="544.28" y="1076.61" width="12.25" height="6.45" fill="#fff5ae"/>
<rect x="555.82" y="1076.61" width="12.25" height="6.45" fill="#fff3ac"/>
<rect x="567.37" y="1076.61" width="12.25" height="6.45" fill="#fff1a8"/>
<rect x="578.91" y="1076.61" width="12.25" height="6.45" fill="#feefa3"/>
<rect x="590.46" y="1076.61" width="12.25" height="6.45" fill="#feec9f"/>
<rect x="602" y="1076.61" width="11.55" height="6.45" fill="#feea9b"/>
<rect x="371.1" y="1082.36" width="12.25" height="6.45" fill="#fffdbc"/>
<rect x="382.65" y="1082.36" width="12.25" height="6.45" fill="#fffcba"/>
<rect x="394.19" y="1082.36" width="23.79" height="6.45" fill="#fffcba"/>
<rect x="417.28" y="1082.36" width="12.25" height="6.45" fill="#fffbb8"/>
<rect x="428.83" y="1082.36" width="12.25" height="6.45" fill="#fffbb8"/>
<rect x="440.37" y="1082.36" width="12.25" height="6.45" fill="#fffab6"/>
<rect x="451.92" y="1082.36" width="23.79" height="6.45" fill="#fffab6"/>
<rect x="475.01" y="1082.36" width="12.25" height="6.45" fill="#fff8b4"/>
<rect x="486.55" y="1082.36" width="12.25" height="6.45" fill="#fff8b4"/>
<rect x="498.1" y="1082.36" width="12.25" height="6.45" fill="#fff7b2"/>
<rect x="509.64" y="1082.36" width="12.25" height="6.45" fill="#fff6b0"/>
<rect x="521.19" y="1082.36" width="12.25" height="6.45" fill="#fff6b0"/>
<rect x="532.73" y="1082.36" width="12.25" height="6.45" fill="#fff5ae"/>
<rect x="544.28" y="1082.36" width="12.25" height="6.45" fill="#fff3ac"/>
<rect x="555.82" y="1082.36" width="12.25" height="6.45" fill="#fff1a8"/>
<rect x="567.37" y="1082.36" width="12.25" height="6.45" fill="#feefa3"/>
<rect x="578.91" y="1082.36" width="12.25" height="6.45" fill="#feec9f"/>
<rect x="590.46" y="1082.36" width="12.25" height="6.45" fill="#feea9b"/>
<rect x="602" y="1082.36" width="11.55" height="6.45" fill="#fee593"/>
<rect x="371.1" y="1088.1" width="12.25" height="6.45" fill="#fffcba"/>
<rect x="382.65" y="1088.1" width="23.79" height="6.45" fill="#fffcba"/>
<rect x="405.74" y="1088.1" width="12.25" height="6.45" fill="#fffbb8"/>
<rect x="417.28" y="1088.1" width="12.25" height="6.45" fill="#fffbb8"/>
<rect x="428.83" y="1088.1" width="12.25" height="6.45" fill="#fffab6"/>
<rect x="440.37" y="1088.1" width="23.79" height="6.45" fill="#fffab6"/>
<rect x="463.46" y="1088.1" width="12.25" height="6.45" fill="#fff8b4"/>
<rect x="475.01" y="1088.1" width="12.25" height="6.45" fill="#fff8b4"/>
<rect x="486.55" y="1088.1" width="12.25" height="6.45" fill="#fff7b2"/>
<rect x="498.1" y="1088.1" width="12.25" height="6.45" fill="#fff7b2"/>
<rect x="509.64" y="1088.1" width="12.25" height="6.45" fill="#fff6b0"/>
<rect x="521.19" y="1088.1" width="12.25" height="6.45" fill="#fff5ae"/>
<rect x="532.73" y="1088.1" width="12.25" height="6.45" fill="#fff3ac"/>
<rect x="544.28" y="1088.1" width="12.25" height="6.45" fill="#fff1a8"/>
<rect x="555.82" y="1088.1" width="12.25" height="6.45" fill="#feefa3"/>
<rect x="567.37" y="1088.1" width="12.25" height="6.45" fill="#feec9f"/>
<rect x="578.91" y="1088.1" width="12.25" height="6.45" fill="#feea9b"/>
<rect x="590.46" y="1088.1" width="12.25" height="6.45" fill="#fee593"/>
<rect x="602" y="1088.1" width="11.55" height="6.45" fill="#fee18d"/>
<rect x="371.1" y="1093.85" width="23.79" height="6.45" fill="#fffcba"/>
<rect x="394.19" y="1093.85" width="12.25" height="6.45" fill="#fffbb8"/>
<rect x="405.74" y="1093.85" width="12.25" height="6.45" fill="#fffbb8"/>
<rect x="417.28" y="1093.85" width="12.25" height="6.45" fill="#fffab6"/>
<rect x="428.83" y="1093.85" width="23.79" height="6.45" fill="#fffab6"/>
<rect x="451.92" y="1093.85" width="12.25" height="6.45" fill="#fff8b4"/>
<rect x="463.46" y="1093.85" width="12.25" height="6.45" fill="#fff8b4"/>
<rect x="475.01" y="1093.85" width="12.25" height="6.45" fill="#fff7b2"/>
<rect x="486.55" y="1093.85" width="12.25" height="6.45" fill="#fff7b2"/>
<rect x="498.1" y="1093.85" width="12.25" height="6.45" fill="#fff6b0"/>
<rect x="509.64" y="1093.85" width="12.25" height="6.45" fill="#fff5ae"/>
<rect x="521.19" y="1093.85" width="12.25" height="6.45" fill="#fff3ac"/>
<rect x="532.73" y="1093.85" width="12.25" height="6.45" fill="#fff1a8"/>
<rect x="544.28" y="1093.85" width="12.25" height="6.45" fill="#feefa3"/>
<rect x="555.82" y="1093.85" width="12.25" height="6.45" fill="#feec9f"/>
<rect x="567.37" y="1093.85" width="12.25" height="6.45" fill="#feea9b"/>
<rect x="578.91" y="1093.85" width="12.25" height="6.45" fill="#fee593"/>
<rect x="590.46" y="1093.85" width="12.25" height="6.45" fill="#fee18d"/>
<rect x="602" y="1093.85" width="11.55" height="6.45" fill="#feda86"/>
<rect x="371.1" y="1099.6" width="12.25" height="6.45" fill="#fffcba"/>
<rect x="382.65" y="1099.6" width="12.25" height="6.45" fill="#fffbb8"/>
<rect x="394.19" y="1099.6" width="12.25" height="6.45" fill="#fffbb8"/>
<rect x="405.74" y="1099.6" width="12.25" height="6.45" fill="#fffab6"/>
<rect x="417.28" y="1099.6" width="23.79" height="6.45" fill="#fffab6"/>
<rect x="440.37" y="1099.6" width="12.25" height="6.45" fill="#fff8b4"/>
<rect x="451.92" y="1099.6" width="12.25" height="6.45" fill="#fff8b4"/>
<rect x="463.46" y="1099.6" width="12.25" height="6.45" fill="#fff7b2"/>
<rect x="475.01" y="1099.6" width="12.25" height="6.45" fill="#fff7b2"/>
<rect x="486.55" y="1099.6" width="12.25" height="6.45" fill="#fff6b0"/>
<rect x="498.1" y="1099.6" width="12.25" height="6.45" fill="#fff5ae"/>
<rect x="509.64" y="1099.6" width="12.25" height="6.45" fill="#fff3ac"/>
<rect x="521.19" y="1099.6" width="12.25" height="6.45" fill="#fff1a8"/>
<rect x="532.73" y="1099.6" width="12.25" height="6.45" fill="#feefa3"/>
<rect x="544.28" y="1099.6" width="12.25" height="6.45" fill="#feec9f"/>
<rect x="555.82" y="1099.6" width="12.25" height="6.45" fill="#feea9b"/>
<rect x="567.37" y="1099.6" width="12.25" height="6.45" fill="#fee593"/>
<rect x="578.91" y="1099.6" width="12.25" height="6.45" fill="#fee18d"/>
<rect x="590.46" y="1099.6" width="12.25" height="6.45" fill="#feda86"/>
<rect x="602" y="1099.6" width="11.55" height="6.45" fill="#fed27f"/>
<rect x="371.1" y="1105.34" width="12.25" height="6.45" fill="#fffbb8"/>
<rect x="382.65" y="1105.34" width="12.25" height="6.45" fill="#fffbb8"/>
<rect x="394.19" y="1105.34" width="12.25" height="6.45" fill="#fffab6"/>
<rect x="405.74" y="1105.34" width="23.79" height="6.45" fill="#fffab6"/>
<rect x="428.83" y="1105.34" width="12.25" height="6.45" fill="#fff8b4"/>
<rect x="440.37" y="1105.34" width="12.25" height="6.45" fill="#fff8b4"/>
<rect x="451.92" y="1105.34" width="12.25" height="6.45" fill="#fff7b2"/>
<rect x="463.46" y="1105.34" width="12.25" height="6.45" fill="#fff7b2"/>
<rect x="475.01" y="1105.34" width="12.25" height="6.45" fill="#fff6b0"/>
<rect x="486.55" y="1105.34" width="12.25" height="6.45" fill="#fff5ae"/>
<rect x="498.1" y="1105.34" width="12.25" height="6.45" fill="#fff3ac"/>
<rect x="509.64" y="1105.34" width="12.25" height="6.45" fill="#fff1a8"/>
<rect x="521.19" y="1105.34" width="12.25" height="6.45" fill="#feefa3"/>
<rect x="532.73" y="1105.34" width="12.25" height="6.45" fill="#feec9f"/>
<rect x="544.28" y="1105.34" width="12.25" height="6.45" fill="#feea9b"/>
<rect x="555.82" y="1105.34" width="12.25" height="6.45" fill="#fee593"/>
<rect x="567.37" y="1105.34" width="12.25" height="6.45" fill="#fee18d"/>
<rect x="578.91" y="1105.34" width="12.25" height="6.45" fill="#fedc88"/>
<rect x="590.46" y="1105.34" width="12.25" height="6.45" fill="#fed481"/>
<rect x="602" y="1105.34" width="11.55" height="6.45" fill="#fecc7b"/>
<rect x="371.1" y="1111.09" width="12.25" height="6.45" fill="#fffbb8"/>
<rect x="382.65" y="1111.09" width="12.25" height="6.45" fill="#fffab6"/>
<rect x="394.19" y="1111.09" width="23.79" height="6.45" fill="#fffab6"/>
<rect x="417.28" y="1111.09" width="12.25" height="6.45" fill="#fff8b4"/>
<rect x="428.83" y="1111.09" width="12.25" height="6.45" fill="#fff8b4"/>
<rect x="440.37" y="1111.09" width="12.25" height="6.45" fill="#fff7b2"/>
<rect x="451.92" y="1111.09" width="12.25" height="6.45" fill="#fff7b2"/>
<rect x="463.46" y="1111.09" width="12.25" height="6.45" fill="#fff6b0"/>
<rect x="475.01" y="1111.09" width="12.25" height="6.45" fill="#fff5ae"/>
<rect x="486.55" y="1111.09" width="12.25" height="6.45" fill="#fff3ac"/>
<rect x="498.1" y="1111.09" width="12.25" height="6.45" fill="#fff1a8"/>
<rect x="509.64" y="1111.09" width="12.25" height="6.45" fill="#feefa3"/>
<rect x="521.19" y="1111.09" width="12.25" height="6.45" fill="#feec9f"/>
<rect x="532.73" y="1111.09" width="12.25" height="6.45" fill="#feea9b"/>
<rect x="544.28" y="1111.09" width="12.25" height="6.45" fill="#fee593"/>
<rect x="555.82" y="1111.09" width="12.25" height="6.45" fill="#fee28f"/>
<rect x="567.37" y="1111.09" width="12.25" height="6.45" fill="#fedc88"/>
<rect x="578.91" y="1111.09" width="12.25" height="6.45" fill="#fed481"/>
<rect x="590.46" y="1111.09" width="12.25" height="6.45" fill="#fecc7b"/>
<rect x="602" y="1111.09" width="11.55" height="6.45" fill="#fdc372"/>
<rect x="371.1" y="1116.83" width="12.25" height="6.45" fill="#fffab6"/>
<rect x="382.65" y="1116.83" width="23.79" height="6.45" fill="#fffab6"/>
<rect x="405.74" y="1116.83" width="12.25" height="6.45" fill="#fff8b4"/>
<rect x="417.28" y="1116.83" width="12.25" height="6.45" fill="#fff8b4"/>
<rect x="428.83" y="1116.83" width="12.25" height="6.45" fill="#fff7b2"/>
<rect x="440.37" y="1116.83" width="12.25" height="6.45" fill="#fff7b2"/>
<rect x="451.92" y="1116.83" width="12.25" height="6.45" fill="#fff6b0"/>
<rect x="463.46" y="1116.83" width="12.25" height="6.45" fill="#fff5ae"/>
<rect x="475.01" y="1116.83" width="12.25" height="6.45" fill="#fff3ac"/>
<rect x="486.55" y="1116.83" width="12.25" height="6.45" fill="#fff1a8"/>
<rect x="498.1" y="1116.83" width="12.25" height="6.45" fill="#feefa3"/>
<rect x="509.64" y="1116.83" width="12.25" height="6.45" fill="#feeda1"/>
<rect x="521.19" y="1116.83" width="12.25" height="6.45" fill="#feea9b"/>
<rect x="532.73" y="1116.83" width="12.25" height="6.45" fill="#fee695"/>
<rect x="544.28" y="1116.83" width="12.25" height="6.45" fill="#fee28f"/>
<rect x="555.82" y="1116.83" width="12.25" height="6.45" fill="#fedc88"/>
<rect x="567.37" y="1116.83" width="12.25" height="6.45" fill="#fed481"/>
<rect x="578.91" y="1116.83" width="12.25" height="6.45" fill="#fecc7b"/>
<rect x="590.46" y="1116.83" width="12.25" height="6.45" fill="#fdc372"/>
<rect x="602" y="1116.83" width="11.55" height="6.45" fill="#fdb768"/>
<rect x="371.1" y="1122.58" width="12.25" height="6.45" fill="#fffab6"/>
<rect x="382.65" y="1122.58" width="12.25" height="6.45" fill="#fffab6"/>
<rect x="394.19" y="1122.58" width="12.25" height="6.45" fill="#fff8b4"/>
<rect x="405.74" y="1122.58" width="12.25" height="6.45" fill="#fff8b4"/>
<rect x="417.28" y="1122.58" width="12.25" height="6.45" fill="#fff7b2"/>
<rect x="428.83" y="1122.58" width="12.25" height="6.45" fill="#fff7b2"/>
<rect x="440.37" y="1122.58" width="12.25" height="6.45" fill="#fff6b0"/>
<rect x="451.92" y="1122.58" width="12.25" height="6.45" fill="#fff5ae"/>
<rect x="463.46" y="1122.58" width="12.25" height="6.45" fill="#fff3ac"/>
<rect x="475.01" y="1122.58" width="12.25" height="6.45" fill="#fff2aa"/>
<rect x="486.55" y="1122.58" width="12.25" height="6.45" fill="#feefa3"/>
<rect x="498.1" y="1122.58" width="12.25" height="6.45" fill="#feeda1"/>
<rect x="509.64" y="1122.58" width="12.25" height="6.45" fill="#feea9b"/>
<rect x="521.19" y="1122.58" width="12.25" height="6.45" fill="#fee695"/>
<rect x="532.73" y="1122.58" width="12.25" height="6.45" fill="#fee28f"/>
<rect x="544.28" y="1122.58" width="12.25" height="6.45" fill="#fedc88"/>
<rect x="555.82" y="1122.58" width="12.25" height="6.45" fill="#fed481"/>
<rect x="567.37" y="1122.58" width="12.25" height="6.45" fill="#fecc7b"/>
<rect x="578.91" y="1122.58" width="12.25" height="6.45" fill="#fdc372"/>
<rect x="590.46" y="1122.58" width="12.25" height="6.45" fill="#fdb96a"/>
<rect x="602" y="1122.58" width="11.55" height="6.45" fill="#fdad60"/>
<rect x="371.1" y="1128.33" width="12.25" height="6.45" fill="#fffab6"/>
<rect x="382.65" y="1128.33" width="12.25" height="6.45" fill="#fff8b4"/>
<rect x="394.19" y="1128.33" width="12.25" height="6.45" fill="#fff8b4"/>
<rect x="405.74" y="1128.33" width="12.25" height="6.45" fill="#fff7b2"/>
<rect x="417.28" y="1128.33" width="12.25" height="6.45" fill="#fff7b2"/>
<rect x="428.83" y="1128.33" width="12.25" height="6.45" fill="#fff6b0"/>
<rect x="440.37" y="1128.33" width="12.25" height="6.45" fill="#fff5ae"/>
<rect x="451.92" y="1128.33" width="12.25" height="6.45" fill="#fff3ac"/>
<rect x="463.46" y="1128.33" width="12.25" height="6.45" fill="#fff2aa"/>
<rect x="475.01" y="1128.33" width="12.25" height="6.45" fill="#fff0a6"/>
<rect x="486.55" y="1128.33" width="12.25" height="6.45" fill="#feeda1"/>
<rect x="498.1" y="1128.33" width="12.25" height="6.45" fill="#feea9b"/>
<rect x="509.64" y="1128.33" width="12.25" height="6.45" fill="#fee695"/>
<rect x="521.19" y="1128.33" width="12.25" height="6.45" fill="#fee28f"/>
<rect x="532.73" y="1128.33" width="12.25" height="6.45" fill="#fedc88"/>
<rect x="544.28" y="1128.33" width="12.25" height="6.45" fill="#fed481"/>
<rect x="555.82" y="1128.33" width="12.25" height="6.45" fill="#fecc7b"/>
<rect x="567.37" y="1128.33" width="12.25" height="6.45" fill="#fdc372"/>
<rect x="578.91" y="1128.33" width="12.25" height="6.45" fill="#fdb96a"/>
<rect x="590.46" y="1128.33" width="12.25" height="6.45" fill="#fdad60"/>
<rect x="602" y="1128.33" width="11.55" height="6.45" fill="#fa9b58"/>
<rect x="371.1" y="1134.07" width="12.25" height="6.45" fill="#fff8b4"/>
<rect x="382.65" y="1134.07" width="12.25" height="6.45" fill="#fff8b4"/>
<rect x="394.19" y="1134.07" width="12.25" height="6.45" fill="#fff7b2"/>
<rect x="405.74" y="1134.07" width="12.25" height="6.45" fill="#fff7b2"/>
<rect x="417.28" y="1134.07" width="12.25" height="6.45" fill="#fff6b0"/>
<rect x="428.83" y="1134.07" width="12.25" height="6.45" fill="#fff5ae"/>
<rect x="440.37" y="1134.07" width="12.25" height="6.45" fill="#fff3ac"/>
<rect x="451.92" y="1134.07" width="12.25" height="6.45" fill="#fff2aa"/>
<rect x="463.46" y="1134.07" width="12.25" height="6.45" fill="#fff0a6"/>
<rect x="475.01" y="1134.07" width="12.25" height="6.45" fill="#feeda1"/>
<rect x="486.55" y="1134.07" width="12.25" height="6.45" fill="#feeb9d"/>
<rect x="498.1" y="1134.07" width="12.25" height="6.45" fill="#fee695"/>
<rect x="509.64" y="1134.07" width="12.25" height="6.45" fill="#fee28f"/>
<rect x="521.19" y="1134.07" width="12.25" height="6.45" fill="#fedc88"/>
<rect x="532.73" y="1134.07" width="12.25" height="6.45" fill="#fed481"/>
<rect x="544.28" y="1134.07" width="12.25" height="6.45" fill="#fecc7b"/>
<rect x="555.82" y="1134.07" width="12.25" height="6.45" fill="#fdc372"/>
<rect x="567.37" y="1134.07" width="12.25" height="6.45" fill="#fdb96a"/>
<rect x="578.91" y="1134.07" width="12.25" height="6.45" fill="#fdaf62"/>
<rect x="590.46" y="1134.07" width="12.25" height="6.45" fill="#fa9b58"/>
<rect x="602" y="1134.07" width="11.55" height="6.45" fill="#f88950"/>
<rect x="371.1" y="1139.82" width="12.25" height="6.45" fill="#fff8b4"/>
<rect x="382.65" y="1139.82" width="12.25" height="6.45" fill="#fff7b2"/>
<rect x="394.19" y="1139.82" width="12.25" height="6.45" fill="#fff7b2"/>
<rect x="405.74" y="1139.82" width="12.25" height="6.45" fill="#fff6b0"/>
<rect x="417.28" y="1139.82" width="12.25" height="6.45" fill="#fff5ae"/>
<rect x="428.83" y="1139.82" width="12.25" height="6.45" fill="#fff3ac"/>
<rect x="440.37" y="1139.82" width="12.25" height="6.45" fill="#fff2aa"/>
<rect x="451.92" y="1139.82" width="12.25" height="6.45" fill="#fff0a6"/>
<rect x="463.46" y="1139.82" width="12.25" height="6.45" fill="#feeda1"/>
<rect x="475.01" y="1139.82" width="12.25" height="6.45" fill="#feeb9d"/>
<rect x="486.55" y="1139.82" width="12.25" height="6.45" fill="#fee695"/>
<rect x="498.1" y="1139.82" width="12.25" height="6.45" fill="#fee28f"/>
<rect x="509.64" y="1139.82" width="12.25" height="6.45" fill="#fede89"/>
<rect x="521.19" y="1139.82" width="12.25" height="6.45" fill="#fed683"/>
<rect x="532.73" y="1139.82" width="12.25" height="6.45" fill="#fece7c"/>
<rect x="544.28" y="1139.82" width="12.25" height="6.45" fill="#fdc574"/>
<rect x="555.82" y="1139.82" width="12.25" height="6.45" fill="#fdb96a"/>
<rect x="567.37" y="1139.82" width="12.25" height="6.45" fill="#fdaf62"/>
<rect x="578.91" y="1139.82" width="12.25" height="6.45" fill="#fa9b58"/>
<rect x="590.46" y="1139.82" width="12.25" height="6.45" fill="#f88950"/>
<rect x="602" y="1139.82" width="11.55" height="6.45" fill="#f57245"/>
<rect x="371.1" y="1145.57" width="12.25" height="6.45" fill="#fff7b2"/>
<rect x="382.65" y="1145.57" width="12.25" height="6.45" fill="#fff7b2"/>
<rect x="394.19" y="1145.57" width="12.25" height="6.45" fill="#fff6b0"/>
<rect x="405.74" y="1145.57" width="12.25" height="6.45" fill="#fff5ae"/>
<rect x="417.28" y="1145.57" width="12.25" height="6.45" fill="#fff5ae"/>
<rect x="428.83" y="1145.57" width="12.25" height="6.45" fill="#fff2aa"/>
<rect x="440.37" y="1145.57" width="12.25" height="6.45" fill="#fff0a6"/>
<rect x="451.92" y="1145.57" width="12.25" height="6.45" fill="#feeda1"/>
<rect x="463.46" y="1145.57" width="12.25" height="6.45" fill="#feeb9d"/>
<rect x="475.01" y="1145.57" width="12.25" height="6.45" fill="#fee695"/>
<rect x="486.55" y="1145.57" width="12.25" height="6.45" fill="#fee28f"/>
<rect x="498.1" y="1145.57" width="12.25" height="6.45" fill="#fede89"/>
<rect x="509.64" y="1145.57" width="12.25" height="6.45" fill="#fed683"/>
<rect x="521.19" y="1145.57" width="12.25" height="6.45" fill="#fece7c"/>
<rect x="532.73" y="1145.57" width="12.25" height="6.45" fill="#fdc574"/>
<rect x="544.28" y="1145.57" width="12.25" height="6.45" fill="#fdb96a"/>
<rect x="555.82" y="1145.57" width="12.25" height="6.45" fill="#fdaf62"/>
<rect x="567.37" y="1145.57" width="12.25" height="6.45" fill="#fb9d59"/>
<rect x="578.91" y="1145.57" width="12.25" height="6.45" fill="#f88c51"/>
<rect x="590.46" y="1145.57" width="12.25" height="6.45" fill="#f57547"/>
<rect x="602" y="1145.57" width="11.55" height="6.45" fill="#ee6445"/>
<rect x="371.1" y="1151.31" width="12.25" height="6.45" fill="#fff7b2"/>
<rect x="382.65" y="1151.31" width="12.25" height="6.45" fill="#fff6b0"/>
<rect x="394.19" y="1151.31" width="12.25" height="6.45" fill="#fff5ae"/>
<rect x="405.74" y="1151.31" width="12.25" height="6.45" fill="#fff5ae"/>
<rect x="417.28" y="1151.31" width="12.25" height="6.45" fill="#fff2aa"/>
<rect x="428.83" y="1151.31" width="12.25" height="6.45" fill="#fff0a6"/>
<rect x="440.37" y="1151.31" width="12.25" height="6.45" fill="#feeda1"/>
<rect x="451.92" y="1151.31" width="12.25" height="6.45" fill="#feeb9d"/>
<rect x="463.46" y="1151.31" width="12.25" height="6.45" fill="#fee797"/>
<rect x="475.01" y="1151.31" width="12.25" height="6.45" fill="#fee28f"/>
<rect x="486.55" y="1151.31" width="12.25" height="6.45" fill="#fede89"/>
<rect x="498.1" y="1151.31" width="12.25" height="6.45" fill="#fed683"/>
<rect x="509.64" y="1151.31" width="12.25" height="6.45" fill="#fece7c"/>
<rect x="521.19" y="1151.31" width="12.25" height="6.45" fill="#fdc574"/>
<rect x="532.73" y="1151.31" width="12.25" height="6.45" fill="#fdbb6c"/>
<rect x="544.28" y="1151.31" width="12.25" height="6.45" fill="#fdaf62"/>
<rect x="555.82" y="1151.31" width="12.25" height="6.45" fill="#fb9d59"/>
<rect x="567.37" y="1151.31" width="12.25" height="6.45" fill="#f88c51"/>
<rect x="578.91" y="1151.31" width="12.25" height="6.45" fill="#f57547"/>
<rect x="590.46" y="1151.31" width="12.25" height="6.45" fill="#ee6445"/>
<rect x="602" y="1151.31" width="11.55" height="6.45" fill="#e1504b"/>
<rect x="371.1" y="1157.06" width="12.25" height="6.45" fill="#fff6b0"/>
<rect x="382.65" y="1157.06" width="12.25" height="6.45" fill="#fff5ae"/>
<rect x="394.19" y="1157.06" width="12.25" height="6.45" fill="#fff5ae"/>
<rect x="405.74" y="1157.06" width="12.25" height="6.45" fill="#fff2aa"/>
<rect x="417.28" y="1157.06" width="12.25" height="6.45" fill="#fff0a6"/>
<rect x="428.83" y="1157.06" width="12.25" height="6.45" fill="#feeda1"/>
<rect x="440.37" y="1157.06" width="12.25" height="6.45" fill="#feeb9d"/>
<rect x="451.92" y="1157.06" width="12.25" height="6.45" fill="#fee797"/>
<rect x="463.46" y="1157.06" width="12.25" height="6.45" fill="#fee28f"/>
<rect x="475.01" y="1157.06" width="12.25" height="6.45" fill="#fede89"/>
<rect x="486.55" y="1157.06" width="12.25" height="6.45" fill="#fed683"/>
<rect x="498.1" y="1157.06" width="12.25" height="6.45" fill="#fece7c"/>
<rect x="509.64" y="1157.06" width="12.25" height="6.45" fill="#fdc574"/>
<rect x="521.19" y="1157.06" width="12.25" height="6.45" fill="#fdbb6c"/>
<rect x="532.73" y="1157.06" width="12.25" height="6.45" fill="#fdb163"/>
<rect x="544.28" y="1157.06" width="12.25" height="6.45" fill="#fb9d59"/>
<rect x="555.82" y="1157.06" width="12.25" height="6.45" fill="#f88c51"/>
<rect x="567.37" y="1157.06" width="12.25" height="6.45" fill="#f57547"/>
<rect x="578.91" y="1157.06" width="12.25" height="6.45" fill="#ee6445"/>
<rect x="590.46" y="1157.06" width="12.25" height="6.45" fill="#e2514a"/>
<rect x="602" y="1157.06" width="11.55" height="6.45" fill="#d43d4f"/>
<rect x="371.1" y="1162.81" width="12.25" height="6.45" fill="#fff6b0"/>
<rect x="382.65" y="1162.81" width="12.25" height="6.45" fill="#fff5ae"/>
<rect x="394.19" y="1162.81" width="12.25" height="6.45" fill="#fff2aa"/>
<rect x="405.74" y="1162.81" width="12.25" height="6.45" fill="#fff0a6"/>
<rect x="417.28" y="1162.81" width="12.25" height="6.45" fill="#feeda1"/>
<rect x="428.83" y="1162.81" width="12.25" height="6.45" fill="#feeb9d"/>
<rect x="440.37" y="1162.81" width="12.25" height="6.45" fill="#fee797"/>
<rect x="451.92" y="1162.81" width="12.25" height="6.45" fill="#fee28f"/>
<rect x="463.46" y="1162.81" width="12.25" height="6.45" fill="#fede89"/>
<rect x="475.01" y="1162.81" width="12.25" height="6.45" fill="#fed683"/>
<rect x="486.55" y="1162.81" width="12.25" height="6.45" fill="#fece7c"/>
<rect x="498.1" y="1162.81" width="12.25" height="6.45" fill="#fdc574"/>
<rect x="509.64" y="1162.81" width="12.25" height="6.45" fill="#fdbb6c"/>
<rect x="521.19" y="1162.81" width="12.25" height="6.45" fill="#fdb163"/>
<rect x="532.73" y="1162.81" width="12.25" height="6.45" fill="#fb9d59"/>
<rect x="544.28" y="1162.81" width="12.25" height="6.45" fill="#f88c51"/>
<rect x="555.82" y="1162.81" width="12.25" height="6.45" fill="#f57748"/>
<rect x="567.37" y="1162.81" width="12.25" height="6.45" fill="#ee6445"/>
<rect x="578.91" y="1162.81" width="12.25" height="6.45" fill="#e2514a"/>
<rect x="590.46" y="1162.81" width="12.25" height="6.45" fill="#d63f4f"/>
<rect x="602" y="1162.81" width="11.55" height="6.45" fill="#b81e48"/>
<rect x="371.1" y="1168.55" width="12.25" height="5.75" fill="#fff5ae"/>
<rect x="382.65" y="1168.55" width="12.25" height="5.75" fill="#fff2aa"/>
<rect x="394.19" y="1168.55" width="12.25" height="5.75" fill="#fff0a6"/>
<rect x="405.74" y="1168.55" width="12.25" height="5.75" fill="#feeda1"/>
<rect x="417.28" y="1168.55" width="12.25" height="5.75" fill="#feeb9d"/>
<rect x="428.83" y="1168.55" width="12.25" height="5.75" fill="#fee797"/>
<rect x="440.37" y="1168.55" width="12.25" height="5.75" fill="#fee491"/>
<rect x="451.92" y="1168.55" width="12.25" height="5.75" fill="#fede89"/>
<rect x="463.46" y="1168.55" width="12.25" height="5.75" fill="#fed683"/>
<rect x="475.01" y="1168.55" width="12.25" height="5.75" fill="#fece7c"/>
<rect x="486.55" y="1168.55" width="12.25" height="5.75" fill="#fdc776"/>
<rect x="498.1" y="1168.55" width="12.25" height="5.75" fill="#fdbb6c"/>
<rect x="509.64" y="1168.55" width="12.25" height="5.75" fill="#fdb163"/>
<rect x="521.19" y="1168.55" width="12.25" height="5.75" fill="#fba05b"/>
<rect x="532.73" y="1168.55" width="12.25" height="5.75" fill="#f98e52"/>
<rect x="544.28" y="1168.55" width="12.25" height="5.75" fill="#f57748"/>
<rect x="555.82" y="1168.55" width="12.25" height="5.75" fill="#ef6645"/>
<rect x="567.37" y="1168.55" width="12.25" height="5.75" fill="#e3534a"/>
<rect x="578.91" y="1168.55" width="12.25" height="5.75" fill="#d63f4f"/>
<rect x="590.46" y="1168.55" width="12.25" height="5.75" fill="#ba2049"/>
<rect x="602" y="1168.55" width="11.55" height="5.75" fill="#9e0142"/>
</g>
<linearGradient id="g8" x1="0" y1="0" x2="0" y2="1"><stop offset="0%" stop-color="#ffffbe"/><stop offset="2.08%" stop-color="#fffcba"/><stop offset="4.17%" stop-color="#fff8b4"/><stop offset="6.25%" stop-color="#fff6b0"/><stop offset="8.33%" stop-color="#fff2aa"/><stop offset="10.42%" stop-color="#feefa3"/><stop offset="12.5%" stop-color="#feeb9d"/><stop offset="14.58%" stop-color="#fee999"/><stop offset="16.67%" stop-color="#fee593"/><stop offset="18.75%" stop-color="#fee18d"/><stop offset="20.83%" stop-color="#fede89"/><stop offset="22.92%" stop-color="#fed884"/><stop offset="25%" stop-color="#fed27f"/><stop offset="27.08%" stop-color="#fece7c"/><stop offset="29.17%" stop-color="#fec877"/><stop offset="31.25%" stop-color="#fdc372"/><stop offset="33.33%" stop-color="#fdbf6f"/><stop offset="35.42%" stop-color="#fdb96a"/><stop offset="37.5%" stop-color="#fdb365"/><stop offset="39.58%" stop-color="#fdaf62"/><stop offset="41.67%" stop-color="#fca85e"/><stop offset="43.75%" stop-color="#fba05b"/><stop offset="45.83%" stop-color="#fa9b58"/><stop offset="47.92%" stop-color="#f99355"/><stop offset="50%" stop-color="#f98e52"/><stop offset="52.08%" stop-color="#f8864f"/><stop offset="54.17%" stop-color="#f67f4b"/><stop offset="56.25%" stop-color="#f67a49"/><stop offset="58.33%" stop-color="#f57245"/><stop offset="60.42%" stop-color="#f36b43"/><stop offset="62.5%" stop-color="#f06744"/><stop offset="64.58%" stop-color="#ed6246"/><stop offset="66.67%" stop-color="#e95c47"/><stop offset="68.75%" stop-color="#e75948"/><stop offset="70.83%" stop-color="#e3534a"/><stop offset="72.92%" stop-color="#df4e4b"/><stop offset="75%" stop-color="#dd4a4c"/><stop offset="77.08%" stop-color="#d9444d"/><stop offset="79.17%" stop-color="#d63f4f"/><stop offset="81.25%" stop-color="#d23a4e"/><stop offset="83.33%" stop-color="#cb334d"/><stop offset="85.42%" stop-color="#c52c4b"/><stop offset="87.5%" stop-color="#c1274a"/><stop offset="89.58%" stop-color="#ba2049"/><stop offset="91.67%" stop-color="#b41947"/><stop offset="93.75%" stop-color="#af1446"/><stop offset="95.83%" stop-color="#a90d45"/><stop offset="97.92%" stop-color="#a20643"/><stop offset="100%" stop-color="#9e0142"/></linearGradient>
<rect x="628.15" y="927.2" width="13.05" height="247.1" fill="url(#g8)"/>
<text x="646.5" y="931.39" class="t">0.00</text>
<text x="646.5" y="967.64" class="t">−0.02</text>
<text x="646.5" y="1003.9" class="t">−0.04</text>
<text x="646.5" y="1040.15" class="t">−0.06</text>
<text x="646.5" y="1076.4" class="t">−0.08</text>
<text x="646.5" y="1112.66" class="t">−0.10</text>
<text x="646.5" y="1148.91" class="t">−0.12</text>
<path d="M641.2 927.29h2.9M641.2 963.54h2.9M641.2 999.8h2.9M641.2 1036.05h2.9M641.2 1072.3h2.9M641.2 1108.56h2.9M641.2 1144.81h2.9" class="k"/>
<path d="M371.1 930.07h-3.2M371.1 935.82h-3.2M371.1 941.57h-3.2M371.1 947.31h-3.2M371.1 953.06h-3.2M371.1 958.81h-3.2M371.1 964.55h-3.2M371.1 970.3h-3.2M371.1 976.05h-3.2M371.1 981.79h-3.2M371.1 987.54h-3.2M371.1 993.28h-3.2M371.1 999.03h-3.2M371.1 1004.78h-3.2M371.1 1010.52h-3.2M371.1 1016.27h-3.2M371.1 1022.02h-3.2M371.1 1027.76h-3.2M371.1 1033.51h-3.2M371.1 1039.26h-3.2M371.1 1045h-3.2M371.1 1050.75h-3.2M371.1 1056.5h-3.2M371.1 1062.24h-3.2M371.1 1067.99h-3.2M371.1 1073.74h-3.2M371.1 1079.48h-3.2M371.1 1085.23h-3.2M371.1 1090.98h-3.2M371.1 1096.72h-3.2M371.1 1102.47h-3.2M371.1 1108.22h-3.2M371.1 1113.96h-3.2M371.1 1119.71h-3.2M371.1 1125.45h-3.2M371.1 1131.2h-3.2M371.1 1136.95h-3.2M371.1 1142.69h-3.2M371.1 1148.44h-3.2M371.1 1154.19h-3.2M371.1 1159.93h-3.2M371.1 1165.68h-3.2M371.1 1171.43h-3.2" class="k"/>
<text x="376.87" y="1189" class="t m">0</text>
<text x="399.96" y="1189" class="t m">2</text>
<text x="423.05" y="1189" class="t m">4</text>
<text x="446.14" y="1189" class="t m">6</text>
<text x="469.23" y="1189" class="t m">8</text>
<text x="492.32" y="1189" class="t m">10</text>
<text x="515.42" y="1189" class="t m">12</text>
<text x="538.51" y="1189" class="t m">14</text>
<text x="561.6" y="1189" class="t m">16</text>
<text x="584.69" y="1189" class="t m">18</text>
<text x="607.78" y="1189" class="t m">20</text>
<path d="M376.87 1174.3v3.2M399.96 1174.3v3.2M423.05 1174.3v3.2M446.14 1174.3v3.2M469.23 1174.3v3.2M492.32 1174.3v3.2M515.42 1174.3v3.2M538.51 1174.3v3.2M561.6 1174.3v3.2M584.69 1174.3v3.2M607.78 1174.3v3.2" class="k"/>
<text x="492.12" y="921.8" class="ti m">female non-smoker - female smoker</text>
<text x="492.32" y="1203.6" class="la m i">k</text>
<text x="86.13" y="598.9" class="c">(a)</text>
<text x="111.5" y="598.9" class="c" textLength="34.3" lengthAdjust="spacingAndGlyphs">With</text>
<text x="187.52" y="598.9" class="c">calibrated</text>
<text x="264.26" y="598.9" class="c">for</text>
<text x="289.7" y="598.9" class="c">DAV2008T</text>
<text x="376.22" y="598.9" class="c">male</text>
<text x="415.07" y="598.9" class="c">and</text>
<text x="447.21" y="598.9" class="c">payment</text>
<text x="513.16" y="598.9" class="c">style</text>
<text x="593.53" y="598.9" class="c">1.</text>
<text x="151.1" y="598.9" class="c ci">π</text>
<text x="153" y="597.5" class="hat">ˆ</text>
<text x="161.2" y="601" class="cs">base</text>
<text x="552.05" y="598.9" class="c ci" textLength="17" lengthAdjust="spacingAndGlyphs">m</text>
<text x="573.4" y="600.9" class="c" textLength="15.3" lengthAdjust="spacingAndGlyphs">=</text>
<text x="75.03" y="1233.1" class="c">(b)</text>
<text x="101.5" y="1233.1" class="c" textLength="34.3" lengthAdjust="spacingAndGlyphs">With</text>
<text x="177.42" y="1233.1" class="c">calibrated</text>
<text x="254.36" y="1233.1" class="c">for</text>
<text x="279.6" y="1233.1" class="c">DAV2008T</text>
<text x="367.66" y="1233.1" class="c" textLength="47.3" lengthAdjust="spacingAndGlyphs">female</text>
<text x="419.07" y="1233.1" class="c">and</text>
<text x="451.21" y="1233.1" class="c">payment</text>
<text x="517.16" y="1233.1" class="c">style</text>
<text x="597.53" y="1233.1" class="c">1.</text>
<text x="141.1" y="1233.1" class="c ci">π</text>
<text x="143" y="1231.7" class="hat">ˆ</text>
<text x="151.2" y="1235.2" class="cs">base</text>
<text x="556.05" y="1233.1" class="c ci" textLength="17" lengthAdjust="spacingAndGlyphs">m</text>
<text x="577.4" y="1235.1" class="c" textLength="15.3" lengthAdjust="spacingAndGlyphs">=</text>
</svg></body></html>
